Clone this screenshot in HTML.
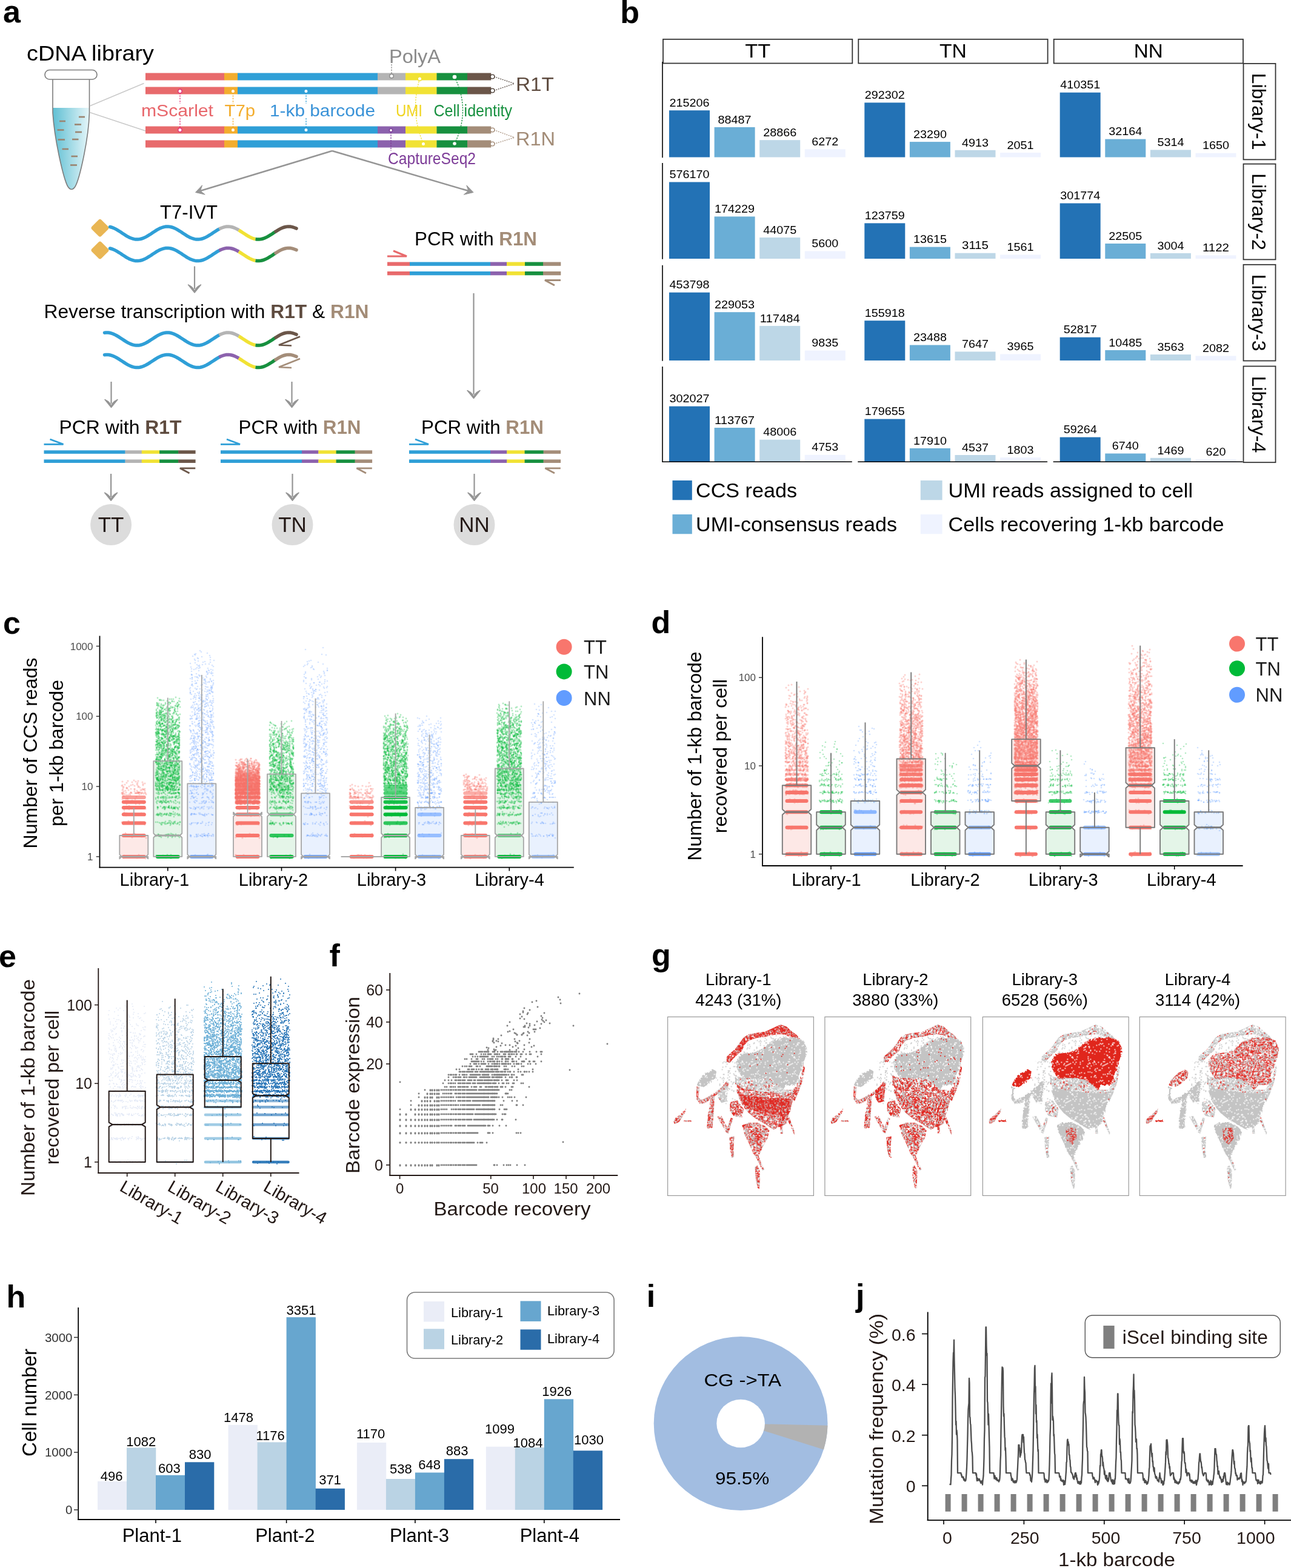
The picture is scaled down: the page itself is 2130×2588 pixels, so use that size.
<!DOCTYPE html>
<html><head><meta charset="utf-8"><title>Figure</title>
<style>html,body{margin:0;padding:0;background:#fff;}svg{display:block;}</style></head>
<body><svg width="2130" height="2588" viewBox="0 0 2130 2588" font-family='"Liberation Sans", Arial, sans-serif'>
<defs><marker id="k0" markerUnits="userSpaceOnUse" markerWidth="1" markerHeight="1" overflow="visible"><circle r="1.6" fill="#f8766d" fill-opacity="0.33"/></marker><marker id="k1" markerUnits="userSpaceOnUse" markerWidth="1" markerHeight="1" overflow="visible"><circle r="1.4" fill="#00ba38" fill-opacity="0.3"/></marker><marker id="k2" markerUnits="userSpaceOnUse" markerWidth="1" markerHeight="1" overflow="visible"><circle r="1.35" fill="#619cff" fill-opacity="0.26"/></marker><marker id="k3" markerUnits="userSpaceOnUse" markerWidth="1" markerHeight="1" overflow="visible"><circle r="1.5" fill="#f8766d" fill-opacity="0.33"/></marker><marker id="k4" markerUnits="userSpaceOnUse" markerWidth="1" markerHeight="1" overflow="visible"><circle r="1.3" fill="#00ba38" fill-opacity="0.3"/></marker><marker id="k5" markerUnits="userSpaceOnUse" markerWidth="1" markerHeight="1" overflow="visible"><circle r="1.3" fill="#619cff" fill-opacity="0.3"/></marker><marker id="k6" markerUnits="userSpaceOnUse" markerWidth="1" markerHeight="1" overflow="visible"><circle r="1.05" fill="#e6ebf7" fill-opacity="0.9"/></marker><marker id="k7" markerUnits="userSpaceOnUse" markerWidth="1" markerHeight="1" overflow="visible"><circle r="1.05" fill="#b8d2e6" fill-opacity="0.9"/></marker><marker id="k8" markerUnits="userSpaceOnUse" markerWidth="1" markerHeight="1" overflow="visible"><circle r="1.05" fill="#6aaed6" fill-opacity="0.9"/></marker><marker id="k9" markerUnits="userSpaceOnUse" markerWidth="1" markerHeight="1" overflow="visible"><circle r="1.05" fill="#2171b5" fill-opacity="0.9"/></marker><marker id="k10" markerUnits="userSpaceOnUse" markerWidth="1" markerHeight="1" overflow="visible"><circle r="1.45" fill="#7f7f7f"/></marker><marker id="k11" markerUnits="userSpaceOnUse" markerWidth="1" markerHeight="1" overflow="visible"><circle r="1.0" fill="#e0261f"/></marker><marker id="k12" markerUnits="userSpaceOnUse" markerWidth="1" markerHeight="1" overflow="visible"><circle r="1.0" fill="#c4c4c4"/></marker><marker id="k13" markerUnits="userSpaceOnUse" markerWidth="1" markerHeight="1" overflow="visible"><circle r="1.0" fill="#ffffff"/></marker></defs><style>.k0{marker:url(#k0)}.k1{marker:url(#k1)}.k2{marker:url(#k2)}.k3{marker:url(#k3)}.k4{marker:url(#k4)}.k5{marker:url(#k5)}.k6{marker:url(#k6)}.k7{marker:url(#k7)}.k8{marker:url(#k8)}.k9{marker:url(#k9)}.k10{marker:url(#k10)}.k11{marker:url(#k11)}.k12{marker:url(#k12)}.k13{marker:url(#k13)}</style>
<rect width="2130" height="2588" fill="#fff"/>
<text x="5" y="37" font-size="52" fill="#000" font-weight="bold">a</text>
<text x="44" y="100" font-size="34.5" fill="#000" textLength="210" lengthAdjust="spacingAndGlyphs">cDNA library</text>
<defs><linearGradient id="liq" x1="0" x2="1" y1="0" y2="0"><stop offset="0" stop-color="#5fbfd3"/><stop offset="1" stop-color="#e6f6f9"/></linearGradient></defs>
<path d="M87 178 L147.5 178 L147.5 186 C146 232 131 296 124 308 Q118 317 112 308 C105 296 90 232 87 186 Z" fill="url(#liq)"/>
<path d="M87 131 L87 186 C90 232 105 296 112 308 Q118 317 124 308 C131 296 146 232 147.5 186 L147.5 131" fill="none" stroke="#7d7d7d" stroke-width="1.6"/>
<rect x="74" y="115.5" width="86" height="15.5" rx="7.7" fill="#fff" stroke="#7d7d7d" stroke-width="1.6"/>
<rect x="130" y="191.7" width="10" height="2.6" fill="#9b8470"/>
<rect x="98" y="198.7" width="10" height="2.6" fill="#9b8470"/>
<rect x="123" y="204.2" width="11" height="2.6" fill="#9b8470"/>
<rect x="94.5" y="213.2" width="11.0" height="2.6" fill="#9b8470"/>
<rect x="124" y="216.7" width="11" height="2.6" fill="#9b8470"/>
<rect x="95.5" y="229.2" width="11.5" height="2.6" fill="#9b8470"/>
<rect x="119" y="228.7" width="10.5" height="2.6" fill="#9b8470"/>
<rect x="102.5" y="244.7" width="10.5" height="2.6" fill="#9b8470"/>
<rect x="117.5" y="256.7" width="10.5" height="2.6" fill="#9b8470"/>
<rect x="116" y="271.2" width="11" height="2.6" fill="#9b8470"/>
<line x1="148" y1="175" x2="237.5" y2="137.5" stroke="#c9c9c9" stroke-width="1.5"/>
<line x1="148" y1="185.5" x2="240" y2="216" stroke="#c9c9c9" stroke-width="1.5"/>
<rect x="240" y="120.5" width="130.3" height="12" fill="#e86a6c"/><rect x="370" y="120.5" width="22.3" height="12" fill="#f3ad2e"/><rect x="392" y="120.5" width="231.3" height="12" fill="#2f9fd7"/><rect x="623" y="120.5" width="46.3" height="12" fill="#b4b4b4"/><rect x="669" y="120.5" width="51.8" height="12" fill="#f1e234"/><rect x="720.5" y="120.5" width="50.8" height="12" fill="#17903f"/><rect x="771.0" y="120.5" width="39.3" height="12" fill="#6b5649"/>
<rect x="240" y="143.5" width="130.3" height="12" fill="#e86a6c"/><rect x="370" y="143.5" width="22.3" height="12" fill="#f3ad2e"/><rect x="392" y="143.5" width="231.3" height="12" fill="#2f9fd7"/><rect x="623" y="143.5" width="46.3" height="12" fill="#b4b4b4"/><rect x="669" y="143.5" width="51.8" height="12" fill="#f1e234"/><rect x="720.5" y="143.5" width="50.8" height="12" fill="#17903f"/><rect x="771.0" y="143.5" width="39.3" height="12" fill="#6b5649"/>
<rect x="240" y="208.5" width="130.3" height="12" fill="#e86a6c"/><rect x="370" y="208.5" width="22.3" height="12" fill="#f3ad2e"/><rect x="392" y="208.5" width="231.3" height="12" fill="#2f9fd7"/><rect x="623" y="208.5" width="46.3" height="12" fill="#8c62ad"/><rect x="669" y="208.5" width="51.8" height="12" fill="#f1e234"/><rect x="720.5" y="208.5" width="50.8" height="12" fill="#17903f"/><rect x="771.0" y="208.5" width="39.3" height="12" fill="#a48d79"/>
<rect x="240" y="231.5" width="130.3" height="12" fill="#e86a6c"/><rect x="370" y="231.5" width="22.3" height="12" fill="#f3ad2e"/><rect x="392" y="231.5" width="231.3" height="12" fill="#2f9fd7"/><rect x="623" y="231.5" width="46.3" height="12" fill="#8c62ad"/><rect x="669" y="231.5" width="51.8" height="12" fill="#f1e234"/><rect x="720.5" y="231.5" width="50.8" height="12" fill="#17903f"/><rect x="771.0" y="231.5" width="39.3" height="12" fill="#a48d79"/>
<line x1="297" y1="153" x2="297" y2="171" stroke="#e4357a" stroke-width="1.3" stroke-dasharray="2.5 1.8"/>
<line x1="297" y1="195" x2="297" y2="212" stroke="#e4357a" stroke-width="1.3" stroke-dasharray="2.5 1.8"/>
<circle cx="297" cy="150.5" r="3.2" fill="#fff" stroke="#e4357a" stroke-width="1.4"/>
<circle cx="297" cy="214.5" r="3.2" fill="#fff" stroke="#e4357a" stroke-width="1.4"/>
<line x1="384.5" y1="153" x2="384.5" y2="171" stroke="#f3ad2e" stroke-width="1.3" stroke-dasharray="2.5 1.8"/>
<line x1="384.5" y1="195" x2="384.5" y2="212" stroke="#f3ad2e" stroke-width="1.3" stroke-dasharray="2.5 1.8"/>
<circle cx="384.5" cy="150.5" r="3.2" fill="#fff" stroke="#f3ad2e" stroke-width="1.4"/>
<circle cx="384.5" cy="214.5" r="3.2" fill="#fff" stroke="#f3ad2e" stroke-width="1.4"/>
<line x1="505" y1="153" x2="505" y2="171" stroke="#2f9fd7" stroke-width="1.3" stroke-dasharray="2.5 1.8"/>
<line x1="505" y1="195" x2="505" y2="212" stroke="#2f9fd7" stroke-width="1.3" stroke-dasharray="2.5 1.8"/>
<circle cx="505" cy="150.5" r="3.2" fill="#fff" stroke="#2f9fd7" stroke-width="1.4"/>
<circle cx="505" cy="214.5" r="3.2" fill="#fff" stroke="#2f9fd7" stroke-width="1.4"/>
<line x1="646" y1="106" x2="646" y2="122" stroke="#8a8a8a" stroke-width="1.3" stroke-dasharray="2.5 1.8"/>
<circle cx="646" cy="125.5" r="3.2" fill="#fff" stroke="#8a8a8a" stroke-width="1.4"/>
<line x1="645" y1="218" x2="645" y2="249" stroke="#7d3c98" stroke-width="1.3" stroke-dasharray="2.5 1.8"/>
<circle cx="645" cy="215" r="2.6" fill="#fff" stroke="#7d3c98" stroke-width="1.4"/>
<path d="M692.5 130 Q676 185 698.5 237" fill="none" stroke="#f1e234" stroke-width="1.3" stroke-dasharray="2.5 1.8"/>
<circle cx="692.5" cy="130" r="3.2" fill="#fff" stroke="#f1e234" stroke-width="1.4"/>
<circle cx="698.5" cy="237.5" r="3.2" fill="#fff" stroke="#f1e234" stroke-width="1.4"/>
<path d="M750 127 Q777 182 750 237" fill="none" stroke="#17903f" stroke-width="1.3" stroke-dasharray="2.5 1.8"/>
<circle cx="750" cy="127" r="2.6" fill="#fff" stroke="#fff" stroke-width="1.4"/>
<circle cx="750" cy="127" r="2.8" fill="#fff"/><circle cx="750" cy="237" r="2.8" fill="#fff"/>
<line x1="815" y1="126.5" x2="849" y2="138" stroke="#4d4038" stroke-width="1.2" stroke-dasharray="2 1.6"/>
<circle cx="812.5" cy="126.5" r="3.4" fill="#fff" stroke="#4d4038" stroke-width="1.4"/>
<line x1="815" y1="149.5" x2="849" y2="138" stroke="#4d4038" stroke-width="1.2" stroke-dasharray="2 1.6"/>
<circle cx="812.5" cy="149.5" r="3.4" fill="#fff" stroke="#4d4038" stroke-width="1.4"/>
<line x1="815" y1="214.5" x2="849" y2="227" stroke="#a48d79" stroke-width="1.2" stroke-dasharray="2 1.6"/>
<circle cx="812.5" cy="214.5" r="3.4" fill="#fff" stroke="#a48d79" stroke-width="1.4"/>
<line x1="815" y1="237.5" x2="849" y2="227" stroke="#a48d79" stroke-width="1.2" stroke-dasharray="2 1.6"/>
<circle cx="812.5" cy="237.5" r="3.4" fill="#fff" stroke="#a48d79" stroke-width="1.4"/>
<text x="851" y="149.5" font-size="31" fill="#5e4b3f" textLength="63" lengthAdjust="spacingAndGlyphs">R1T</text>
<text x="851" y="239.5" font-size="31" fill="#a38c77" textLength="65" lengthAdjust="spacingAndGlyphs">R1N</text>
<text x="642" y="103.5" font-size="31" fill="#8a8a8a" textLength="85" lengthAdjust="spacingAndGlyphs">PolyA</text>
<text x="233" y="192" font-size="28.5" fill="#e8666b" textLength="119" lengthAdjust="spacingAndGlyphs">mScarlet</text>
<text x="370.5" y="192" font-size="28.5" fill="#f3ad2e" textLength="50.5" lengthAdjust="spacingAndGlyphs">T7p</text>
<text x="445" y="192" font-size="28.5" fill="#3a93d8" textLength="174" lengthAdjust="spacingAndGlyphs">1-kb barcode</text>
<text x="653" y="192" font-size="28.5" fill="#f0d520" textLength="44" lengthAdjust="spacingAndGlyphs">UMI</text>
<text x="715.5" y="192" font-size="28.5" fill="#17903f" textLength="129.5" lengthAdjust="spacingAndGlyphs">Cell identity</text>
<text x="640" y="271" font-size="28.5" fill="#7d3c98" textLength="145" lengthAdjust="spacingAndGlyphs">CaptureSeq2</text>
<polyline points="474,272.5 548,248 " fill="none" stroke="#959595" stroke-width="0"/>
<line x1="548" y1="249" x2="330.5" y2="315.1" stroke="#959595" stroke-width="2.6"/><path d="M322.5 317.5 L333.6 305.8 L330.5 315.1 L338.2 321.1 Z" fill="#959595" stroke="#959595" stroke-width="1" stroke-linejoin="round"/>
<line x1="548" y1="249" x2="772.9" y2="315.1" stroke="#959595" stroke-width="2.6"/><path d="M781 317.5 L765.3 321.2 L772.9 315.1 L769.8 305.9 Z" fill="#959595" stroke="#959595" stroke-width="1" stroke-linejoin="round"/>
<text x="264" y="361" font-size="31" fill="#000" textLength="95" lengthAdjust="spacingAndGlyphs">T7-IVT</text>
<rect x="153.8" y="365.1" width="22.3" height="22.3" rx="3.5" fill="#e9b654" transform="rotate(45 165 376.25)"/>
<rect x="153.8" y="401.8" width="22.3" height="22.3" rx="3.5" fill="#e9b654" transform="rotate(45 165 413)"/>
<path d="M181.5 374.5 L183.5 375.0 L185.5 375.6 L187.5 376.4 L189.5 377.4 L191.5 378.4 L193.5 379.5 L195.5 380.8 L197.5 382.0 L199.5 383.3 L201.5 384.7 L203.5 386.0 L205.5 387.3 L207.5 388.6 L209.5 389.8 L211.5 390.9 L213.5 391.9 L215.5 392.8 L217.5 393.5 L219.5 394.2 L221.5 394.6 L223.5 394.9 L225.5 395.1 L227.5 395.1 L229.5 394.9 L231.5 394.5 L233.5 394.0 L235.5 393.4 L237.5 392.6 L239.5 391.6 L241.5 390.6 L243.5 389.5 L245.5 388.2 L247.5 387.0 L249.5 385.7 L251.5 384.3 L253.5 383.0 L255.5 381.7 L257.5 380.4 L259.5 379.2 L261.5 378.1 L263.5 377.1 L265.5 376.2 L267.5 375.5 L269.5 374.8 L271.5 374.4 L273.5 374.1 L275.5 373.9 L277.5 373.9 L279.5 374.1 L281.5 374.5 L283.5 375.0 L285.5 375.6 L287.5 376.4 L289.5 377.4 L291.5 378.4 L293.5 379.5 L295.5 380.8 L297.5 382.0 L299.5 383.3 L301.5 384.7 L303.5 386.0 L305.5 387.3 L307.5 388.6 L309.5 389.8 L311.5 390.9 L313.5 391.9 L315.5 392.8 L317.5 393.5 L319.5 394.2 L321.5 394.6 L323.5 394.9 L325.5 395.1 L327.5 395.1 L329.5 394.9 L331.5 394.5 L333.5 394.0 L335.5 393.4 L337.5 392.6 L339.5 391.6 L341.5 390.6 L343.5 389.5 L345.5 388.2 L347.5 387.0 L349.5 385.7 L351.5 384.3 L353.5 383.0 L355.5 381.7 L357.5 380.4 L359.5 379.2 L361.5 378.1" fill="none" stroke="#2f9fd7" stroke-width="5.5" stroke-linecap="round"/><path d="M361.5 378.1 L363.5 377.1 L365.5 376.2 L367.5 375.5 L369.5 374.8 L371.5 374.4 L373.5 374.1 L375.5 373.9 L377.5 373.9 L379.5 374.1 L381.5 374.5 L383.5 375.0 L385.5 375.6 L387.5 376.4 L389.5 377.4 L391.5 378.4 L393.5 379.5 L394.0 379.8" fill="none" stroke="#b4b4b4" stroke-width="5.5" stroke-linecap="butt"/><path d="M394.0 379.8 L396.0 381.1 L398.0 382.4 L400.0 383.7 L402.0 385.0 L404.0 386.3 L406.0 387.6 L408.0 388.9 L410.0 390.0 L412.0 391.1 L414.0 392.1 L416.0 393.0 L418.0 393.7 L420.0 394.3 L421.5 394.6" fill="none" stroke="#f1e234" stroke-width="5.5" stroke-linecap="butt"/><path d="M421.5 394.6 L423.5 394.9 L425.5 395.1 L427.5 395.1 L429.5 394.9 L431.5 394.5 L433.5 394.0 L435.5 393.4 L437.5 392.6 L439.5 391.6 L441.5 390.6 L443.5 389.5 L445.5 388.2 L447.5 387.0 L449.5 385.7 L451.5 384.3 L453.5 383.0 L455.0 382.0" fill="none" stroke="#17903f" stroke-width="5.5" stroke-linecap="butt"/><path d="M455.0 382.0 L457.0 380.8 L459.0 379.5 L461.0 378.4 L463.0 377.4 L465.0 376.4 L467.0 375.6 L469.0 375.0 L471.0 374.5 L473.0 374.1 L475.0 373.9 L477.0 373.9 L479.0 374.1 L481.0 374.4 L483.0 374.8 L485.0 375.5 L487.0 376.2 L489.0 377.1" fill="none" stroke="#6b5649" stroke-width="5.5" stroke-linecap="round"/>
<path d="M181.5 410.0 L183.5 410.5 L185.5 411.1 L187.5 411.9 L189.5 412.9 L191.5 413.9 L193.5 415.0 L195.5 416.3 L197.5 417.5 L199.5 418.8 L201.5 420.2 L203.5 421.5 L205.5 422.8 L207.5 424.1 L209.5 425.3 L211.5 426.4 L213.5 427.4 L215.5 428.3 L217.5 429.0 L219.5 429.7 L221.5 430.1 L223.5 430.4 L225.5 430.6 L227.5 430.6 L229.5 430.4 L231.5 430.0 L233.5 429.5 L235.5 428.9 L237.5 428.1 L239.5 427.1 L241.5 426.1 L243.5 425.0 L245.5 423.7 L247.5 422.5 L249.5 421.2 L251.5 419.8 L253.5 418.5 L255.5 417.2 L257.5 415.9 L259.5 414.7 L261.5 413.6 L263.5 412.6 L265.5 411.7 L267.5 411.0 L269.5 410.3 L271.5 409.9 L273.5 409.6 L275.5 409.4 L277.5 409.4 L279.5 409.6 L281.5 410.0 L283.5 410.5 L285.5 411.1 L287.5 411.9 L289.5 412.9 L291.5 413.9 L293.5 415.0 L295.5 416.3 L297.5 417.5 L299.5 418.8 L301.5 420.2 L303.5 421.5 L305.5 422.8 L307.5 424.1 L309.5 425.3 L311.5 426.4 L313.5 427.4 L315.5 428.3 L317.5 429.0 L319.5 429.7 L321.5 430.1 L323.5 430.4 L325.5 430.6 L327.5 430.6 L329.5 430.4 L331.5 430.0 L333.5 429.5 L335.5 428.9 L337.5 428.1 L339.5 427.1 L341.5 426.1 L343.5 425.0 L345.5 423.7 L347.5 422.5 L349.5 421.2 L351.5 419.8 L353.5 418.5 L355.5 417.2 L357.5 415.9 L359.5 414.7 L361.5 413.6" fill="none" stroke="#2f9fd7" stroke-width="5.5" stroke-linecap="round"/><path d="M361.5 413.6 L363.5 412.6 L365.5 411.7 L367.5 411.0 L369.5 410.3 L371.5 409.9 L373.5 409.6 L375.5 409.4 L377.5 409.4 L379.5 409.6 L381.5 410.0 L383.5 410.5 L385.5 411.1 L387.5 411.9 L389.5 412.9 L391.5 413.9 L393.5 415.0 L394.0 415.3" fill="none" stroke="#8c62ad" stroke-width="5.5" stroke-linecap="butt"/><path d="M394.0 415.3 L396.0 416.6 L398.0 417.9 L400.0 419.2 L402.0 420.5 L404.0 421.8 L406.0 423.1 L408.0 424.4 L410.0 425.5 L412.0 426.6 L414.0 427.6 L416.0 428.5 L418.0 429.2 L420.0 429.8 L421.5 430.1" fill="none" stroke="#f1e234" stroke-width="5.5" stroke-linecap="butt"/><path d="M421.5 430.1 L423.5 430.4 L425.5 430.6 L427.5 430.6 L429.5 430.4 L431.5 430.0 L433.5 429.5 L435.5 428.9 L437.5 428.1 L439.5 427.1 L441.5 426.1 L443.5 425.0 L445.5 423.7 L447.5 422.5 L449.5 421.2 L451.5 419.8 L453.5 418.5 L455.0 417.5" fill="none" stroke="#17903f" stroke-width="5.5" stroke-linecap="butt"/><path d="M455.0 417.5 L457.0 416.3 L459.0 415.0 L461.0 413.9 L463.0 412.9 L465.0 411.9 L467.0 411.1 L469.0 410.5 L471.0 410.0 L473.0 409.6 L475.0 409.4 L477.0 409.4 L479.0 409.6 L481.0 409.9 L483.0 410.3 L485.0 411.0 L487.0 411.7 L489.0 412.6" fill="none" stroke="#a48d79" stroke-width="5.5" stroke-linecap="round"/>
<line x1="321" y1="439.5" x2="321" y2="477" stroke="#959595" stroke-width="2.2"/><path d="M310.5 470 Q321 475 321 483 Q321 475 331.5 470 L321 483 Z" fill="#959595" stroke="#959595" stroke-width="1.5" stroke-linejoin="round"/>
<text x="72.5" y="525" font-size="31" textLength="536" lengthAdjust="spacingAndGlyphs">Reverse transcription with <tspan font-weight="bold" fill="#5e4b3f">R1T</tspan> &amp; <tspan font-weight="bold" fill="#a38c77">R1N</tspan></text>
<path d="M172.5 549.2 L174.5 549.0 L176.5 548.9 L178.5 549.0 L180.5 549.3 L182.5 549.7 L184.5 550.3 L186.5 551.0 L188.5 551.9 L190.5 552.9 L192.5 554.0 L194.5 555.1 L196.5 556.4 L198.5 557.7 L200.5 559.0 L202.5 560.3 L204.5 561.6 L206.5 562.9 L208.5 564.2 L210.5 565.3 L212.5 566.4 L214.5 567.3 L216.5 568.2 L218.5 568.9 L220.5 569.4 L222.5 569.8 L224.5 570.0 L226.5 570.1 L228.5 570.0 L230.5 569.7 L232.5 569.3 L234.5 568.7 L236.5 568.0 L238.5 567.1 L240.5 566.1 L242.5 565.0 L244.5 563.9 L246.5 562.6 L248.5 561.3 L250.5 560.0 L252.5 558.7 L254.5 557.4 L256.5 556.1 L258.5 554.8 L260.5 553.7 L262.5 552.6 L264.5 551.7 L266.5 550.8 L268.5 550.1 L270.5 549.6 L272.5 549.2 L274.5 549.0 L276.5 548.9 L278.5 549.0 L280.5 549.3 L282.5 549.7 L284.5 550.3 L286.5 551.0 L288.5 551.9 L290.5 552.9 L292.5 554.0 L294.5 555.1 L296.5 556.4 L298.5 557.7 L300.5 559.0 L302.5 560.3 L304.5 561.6 L306.5 562.9 L308.5 564.2 L310.5 565.3 L312.5 566.4 L314.5 567.3 L316.5 568.2 L318.5 568.9 L320.5 569.4 L322.5 569.8 L324.5 570.0 L326.5 570.1 L328.5 570.0 L330.5 569.7 L332.5 569.3 L334.5 568.7 L336.5 568.0 L338.5 567.1 L340.5 566.1 L342.5 565.0 L344.5 563.9 L346.5 562.6 L348.5 561.3 L350.5 560.0 L352.5 558.7 L354.5 557.4 L356.5 556.1 L358.5 554.8 L360.5 553.7 L361.5 553.1" fill="none" stroke="#2f9fd7" stroke-width="5.5" stroke-linecap="round"/><path d="M361.5 553.1 L363.5 552.1 L365.5 551.2 L367.5 550.5 L369.5 549.8 L371.5 549.4 L373.5 549.1 L375.5 548.9 L377.5 548.9 L379.5 549.1 L381.5 549.5 L383.5 550.0 L385.5 550.6 L387.5 551.4 L389.5 552.4 L391.5 553.4 L393.5 554.5 L394.0 554.8" fill="none" stroke="#b4b4b4" stroke-width="5.5" stroke-linecap="butt"/><path d="M394.0 554.8 L396.0 556.1 L398.0 557.4 L400.0 558.7 L402.0 560.0 L404.0 561.3 L406.0 562.6 L408.0 563.9 L410.0 565.0 L412.0 566.1 L414.0 567.1 L416.0 568.0 L418.0 568.7 L420.0 569.3 L421.5 569.6" fill="none" stroke="#f1e234" stroke-width="5.5" stroke-linecap="butt"/><path d="M421.5 569.6 L423.5 569.9 L425.5 570.1 L427.5 570.1 L429.5 569.9 L431.5 569.5 L433.5 569.0 L435.5 568.4 L437.5 567.6 L439.5 566.6 L441.5 565.6 L443.5 564.5 L445.5 563.2 L447.5 562.0 L449.5 560.7 L451.5 559.3 L453.5 558.0 L455.0 557.0" fill="none" stroke="#17903f" stroke-width="5.5" stroke-linecap="butt"/><path d="M455.0 557.0 L457.0 555.8 L459.0 554.5 L461.0 553.4 L463.0 552.4 L465.0 551.4 L467.0 550.6 L469.0 550.0 L471.0 549.5 L473.0 549.1 L475.0 548.9 L477.0 548.9 L479.0 549.1 L481.0 549.4 L483.0 549.8 L485.0 550.5 L487.0 551.2 L489.0 552.1" fill="none" stroke="#6b5649" stroke-width="5.5" stroke-linecap="round"/>
<path d="M172.5 585.7 L174.5 585.5 L176.5 585.4 L178.5 585.5 L180.5 585.8 L182.5 586.2 L184.5 586.8 L186.5 587.5 L188.5 588.4 L190.5 589.4 L192.5 590.5 L194.5 591.6 L196.5 592.9 L198.5 594.2 L200.5 595.5 L202.5 596.8 L204.5 598.1 L206.5 599.4 L208.5 600.7 L210.5 601.8 L212.5 602.9 L214.5 603.8 L216.5 604.7 L218.5 605.4 L220.5 605.9 L222.5 606.3 L224.5 606.5 L226.5 606.6 L228.5 606.5 L230.5 606.2 L232.5 605.8 L234.5 605.2 L236.5 604.5 L238.5 603.6 L240.5 602.6 L242.5 601.5 L244.5 600.4 L246.5 599.1 L248.5 597.8 L250.5 596.5 L252.5 595.2 L254.5 593.9 L256.5 592.6 L258.5 591.3 L260.5 590.2 L262.5 589.1 L264.5 588.2 L266.5 587.3 L268.5 586.6 L270.5 586.1 L272.5 585.7 L274.5 585.5 L276.5 585.4 L278.5 585.5 L280.5 585.8 L282.5 586.2 L284.5 586.8 L286.5 587.5 L288.5 588.4 L290.5 589.4 L292.5 590.5 L294.5 591.6 L296.5 592.9 L298.5 594.2 L300.5 595.5 L302.5 596.8 L304.5 598.1 L306.5 599.4 L308.5 600.7 L310.5 601.8 L312.5 602.9 L314.5 603.8 L316.5 604.7 L318.5 605.4 L320.5 605.9 L322.5 606.3 L324.5 606.5 L326.5 606.6 L328.5 606.5 L330.5 606.2 L332.5 605.8 L334.5 605.2 L336.5 604.5 L338.5 603.6 L340.5 602.6 L342.5 601.5 L344.5 600.4 L346.5 599.1 L348.5 597.8 L350.5 596.5 L352.5 595.2 L354.5 593.9 L356.5 592.6 L358.5 591.3 L360.5 590.2 L361.5 589.6" fill="none" stroke="#2f9fd7" stroke-width="5.5" stroke-linecap="round"/><path d="M361.5 589.6 L363.5 588.6 L365.5 587.7 L367.5 587.0 L369.5 586.3 L371.5 585.9 L373.5 585.6 L375.5 585.4 L377.5 585.4 L379.5 585.6 L381.5 586.0 L383.5 586.5 L385.5 587.1 L387.5 587.9 L389.5 588.9 L391.5 589.9 L393.5 591.0 L394.0 591.3" fill="none" stroke="#8c62ad" stroke-width="5.5" stroke-linecap="butt"/><path d="M394.0 591.3 L396.0 592.6 L398.0 593.9 L400.0 595.2 L402.0 596.5 L404.0 597.8 L406.0 599.1 L408.0 600.4 L410.0 601.5 L412.0 602.6 L414.0 603.6 L416.0 604.5 L418.0 605.2 L420.0 605.8 L421.5 606.1" fill="none" stroke="#f1e234" stroke-width="5.5" stroke-linecap="butt"/><path d="M421.5 606.1 L423.5 606.4 L425.5 606.6 L427.5 606.6 L429.5 606.4 L431.5 606.0 L433.5 605.5 L435.5 604.9 L437.5 604.1 L439.5 603.1 L441.5 602.1 L443.5 601.0 L445.5 599.7 L447.5 598.5 L449.5 597.2 L451.5 595.8 L453.5 594.5 L455.0 593.5" fill="none" stroke="#17903f" stroke-width="5.5" stroke-linecap="butt"/><path d="M455.0 593.5 L457.0 592.3 L459.0 591.0 L461.0 589.9 L463.0 588.9 L465.0 587.9 L467.0 587.1 L469.0 586.5 L471.0 586.0 L473.0 585.6 L475.0 585.4 L477.0 585.4 L479.0 585.6 L481.0 585.9 L483.0 586.3 L485.0 587.0 L487.0 587.7 L489.0 588.6" fill="none" stroke="#a48d79" stroke-width="5.5" stroke-linecap="round"/>
<path d="M495 555.5 L460 569.5 L481 570.5" fill="none" stroke="#6b5649" stroke-width="2.6"/>
<path d="M495 592 L460 606 L481 607" fill="none" stroke="#a48d79" stroke-width="2.6"/>
<line x1="183.5" y1="630" x2="183.5" y2="666.5" stroke="#959595" stroke-width="2.2"/><path d="M173.0 659.5 Q183.5 664.5 183.5 672.5 Q183.5 664.5 194.0 659.5 L183.5 672.5 Z" fill="#959595" stroke="#959595" stroke-width="1.5" stroke-linejoin="round"/>
<line x1="481.5" y1="630" x2="481.5" y2="666.5" stroke="#959595" stroke-width="2.2"/><path d="M471.0 659.5 Q481.5 664.5 481.5 672.5 Q481.5 664.5 492.0 659.5 L481.5 672.5 Z" fill="#959595" stroke="#959595" stroke-width="1.5" stroke-linejoin="round"/>
<line x1="781.5" y1="484" x2="781.5" y2="651.5" stroke="#959595" stroke-width="2.2"/><path d="M771.0 644.5 Q781.5 649.5 781.5 657.5 Q781.5 649.5 792.0 644.5 L781.5 657.5 Z" fill="#959595" stroke="#959595" stroke-width="1.5" stroke-linejoin="round"/>
<text x="684" y="405" font-size="31" textLength="202" lengthAdjust="spacingAndGlyphs">PCR with <tspan font-weight="bold" fill="#a38c77">R1N</tspan></text>
<path d="M639 423 L671 423 L649 414" fill="none" stroke="#e86a6c" stroke-width="3"/>
<rect x="639" y="432.5" width="37.3" height="6.3" fill="#e86a6c"/><rect x="676" y="432.5" width="133.3" height="6.3" fill="#2f9fd7"/><rect x="809" y="432.5" width="27.3" height="6.3" fill="#8c62ad"/><rect x="836" y="432.5" width="30.3" height="6.3" fill="#f1e234"/><rect x="866" y="432.5" width="30.3" height="6.3" fill="#17903f"/><rect x="896" y="432.5" width="29.3" height="6.3" fill="#a48d79"/>
<rect x="639" y="448" width="37.3" height="6.3" fill="#e86a6c"/><rect x="676" y="448" width="133.3" height="6.3" fill="#2f9fd7"/><rect x="809" y="448" width="27.3" height="6.3" fill="#8c62ad"/><rect x="836" y="448" width="30.3" height="6.3" fill="#f1e234"/><rect x="866" y="448" width="30.3" height="6.3" fill="#17903f"/><rect x="896" y="448" width="29.3" height="6.3" fill="#a48d79"/>
<path d="M925 462.5 L899 462.5 L915 471" fill="none" stroke="#a48d79" stroke-width="3"/>
<text x="97.5" y="716" font-size="31" textLength="202" lengthAdjust="spacingAndGlyphs">PCR with <tspan font-weight="bold" fill="#5e4b3f">R1T</tspan></text>
<path d="M72.5 733.3 L104.5 733.3 L82.5 725" fill="none" stroke="#2f9fd7" stroke-width="2.8"/>
<rect x="72.5" y="743.3" width="134.3" height="5.6" fill="#2f9fd7"/><rect x="206.5" y="743.3" width="27.6" height="5.6" fill="#b4b4b4"/><rect x="233.8" y="743.3" width="29.6" height="5.6" fill="#f1e234"/><rect x="263.1" y="743.3" width="31.3" height="5.6" fill="#17903f"/><rect x="294.1" y="743.3" width="28.5" height="5.6" fill="#6b5649"/>
<rect x="72.5" y="758.4" width="134.3" height="5.6" fill="#2f9fd7"/><rect x="206.5" y="758.4" width="27.6" height="5.6" fill="#b4b4b4"/><rect x="233.8" y="758.4" width="29.6" height="5.6" fill="#f1e234"/><rect x="263.1" y="758.4" width="31.3" height="5.6" fill="#17903f"/><rect x="294.1" y="758.4" width="28.5" height="5.6" fill="#6b5649"/>
<path d="M322.3 772.8 L296.9 772.8 L312.5 781" fill="none" stroke="#6b5649" stroke-width="2.8"/>
<text x="393.5" y="716" font-size="31" textLength="202" lengthAdjust="spacingAndGlyphs">PCR with <tspan font-weight="bold" fill="#a38c77">R1N</tspan></text>
<path d="M364 733.3 L396 733.3 L374 725" fill="none" stroke="#2f9fd7" stroke-width="2.8"/>
<rect x="364" y="743.3" width="134.3" height="5.6" fill="#2f9fd7"/><rect x="498" y="743.3" width="27.6" height="5.6" fill="#8c62ad"/><rect x="525.3" y="743.3" width="29.6" height="5.6" fill="#f1e234"/><rect x="554.5999999999999" y="743.3" width="31.3" height="5.6" fill="#17903f"/><rect x="585.5999999999999" y="743.3" width="28.5" height="5.6" fill="#a48d79"/>
<rect x="364" y="758.4" width="134.3" height="5.6" fill="#2f9fd7"/><rect x="498" y="758.4" width="27.6" height="5.6" fill="#8c62ad"/><rect x="525.3" y="758.4" width="29.6" height="5.6" fill="#f1e234"/><rect x="554.5999999999999" y="758.4" width="31.3" height="5.6" fill="#17903f"/><rect x="585.5999999999999" y="758.4" width="28.5" height="5.6" fill="#a48d79"/>
<path d="M613.8 772.8 L588.4 772.8 L604 781" fill="none" stroke="#a48d79" stroke-width="2.8"/>
<text x="695" y="716" font-size="31" textLength="202" lengthAdjust="spacingAndGlyphs">PCR with <tspan font-weight="bold" fill="#a38c77">R1N</tspan></text>
<path d="M675 733.3 L707 733.3 L685 725" fill="none" stroke="#2f9fd7" stroke-width="2.8"/>
<rect x="675" y="743.3" width="134.3" height="5.6" fill="#2f9fd7"/><rect x="809" y="743.3" width="27.6" height="5.6" fill="#8c62ad"/><rect x="836.3" y="743.3" width="29.6" height="5.6" fill="#f1e234"/><rect x="865.5999999999999" y="743.3" width="31.3" height="5.6" fill="#17903f"/><rect x="896.5999999999999" y="743.3" width="28.5" height="5.6" fill="#a48d79"/>
<rect x="675" y="758.4" width="134.3" height="5.6" fill="#2f9fd7"/><rect x="809" y="758.4" width="27.6" height="5.6" fill="#8c62ad"/><rect x="836.3" y="758.4" width="29.6" height="5.6" fill="#f1e234"/><rect x="865.5999999999999" y="758.4" width="31.3" height="5.6" fill="#17903f"/><rect x="896.5999999999999" y="758.4" width="28.5" height="5.6" fill="#a48d79"/>
<path d="M924.8 772.8 L899.4 772.8 L915 781" fill="none" stroke="#a48d79" stroke-width="2.8"/>
<line x1="183.1" y1="782" x2="183.1" y2="820.3" stroke="#959595" stroke-width="2.2"/><path d="M172.6 813.3 Q183.1 818.3 183.1 826.3 Q183.1 818.3 193.6 813.3 L183.1 826.3 Z" fill="#959595" stroke="#959595" stroke-width="1.5" stroke-linejoin="round"/>
<circle cx="183.1" cy="866" r="34" fill="#dcdcdc"/>
<text x="183.1" y="878.4" font-size="35" fill="#231815" text-anchor="middle">TT</text>
<line x1="482.5" y1="782" x2="482.5" y2="820.3" stroke="#959595" stroke-width="2.2"/><path d="M472.0 813.3 Q482.5 818.3 482.5 826.3 Q482.5 818.3 493.0 813.3 L482.5 826.3 Z" fill="#959595" stroke="#959595" stroke-width="1.5" stroke-linejoin="round"/>
<circle cx="482.5" cy="866" r="34" fill="#dcdcdc"/>
<text x="482.5" y="878.4" font-size="35" fill="#231815" text-anchor="middle">TN</text>
<line x1="782.5" y1="782" x2="782.5" y2="820.3" stroke="#959595" stroke-width="2.2"/><path d="M772.0 813.3 Q782.5 818.3 782.5 826.3 Q782.5 818.3 793.0 813.3 L782.5 826.3 Z" fill="#959595" stroke="#959595" stroke-width="1.5" stroke-linejoin="round"/>
<circle cx="782.5" cy="866" r="34" fill="#dcdcdc"/>
<text x="782.5" y="878.4" font-size="35" fill="#231815" text-anchor="middle">NN</text>
<text x="1023.3" y="37.6" font-size="52" fill="#000" font-weight="bold">b</text>
<rect x="1094.0" y="64.8" width="312.3" height="39.7" fill="#fff" stroke="#333" stroke-width="1.8"/>
<text x="1250.15" y="95" font-size="31" fill="#000" text-anchor="middle" textLength="42" lengthAdjust="spacingAndGlyphs">TT</text>
<rect x="1104.0" y="182.2" width="67" height="77.3" fill="#2372b5"/>
<text x="1137.5" y="175.9" font-size="19" fill="#000" text-anchor="middle" textLength="66.0" lengthAdjust="spacingAndGlyphs">215206</text>
<rect x="1178.6" y="209.9" width="67" height="49.6" fill="#6aaed6"/>
<text x="1212.1" y="203.6" font-size="19" fill="#000" text-anchor="middle" textLength="55.0" lengthAdjust="spacingAndGlyphs">88487</text>
<rect x="1253.2" y="231.2" width="67" height="28.3" fill="#bdd7e7"/>
<text x="1286.7" y="224.9" font-size="19" fill="#000" text-anchor="middle" textLength="55.0" lengthAdjust="spacingAndGlyphs">28866</text>
<rect x="1327.8" y="246.3" width="67" height="13.2" fill="#eff3ff"/>
<text x="1361.3" y="240.0" font-size="19" fill="#000" text-anchor="middle" textLength="44.0" lengthAdjust="spacingAndGlyphs">6272</text>
<rect x="1104.0" y="300.5" width="67" height="126.5" fill="#2372b5"/>
<text x="1137.5" y="294.2" font-size="19" fill="#000" text-anchor="middle" textLength="66.0" lengthAdjust="spacingAndGlyphs">576170</text>
<rect x="1178.6" y="357.4" width="67" height="69.6" fill="#6aaed6"/>
<text x="1212.1" y="351.1" font-size="19" fill="#000" text-anchor="middle" textLength="66.0" lengthAdjust="spacingAndGlyphs">174229</text>
<rect x="1253.2" y="392.0" width="67" height="35.0" fill="#bdd7e7"/>
<text x="1286.7" y="385.7" font-size="19" fill="#000" text-anchor="middle" textLength="55.0" lengthAdjust="spacingAndGlyphs">44075</text>
<rect x="1327.8" y="414.5" width="67" height="12.5" fill="#eff3ff"/>
<text x="1361.3" y="408.2" font-size="19" fill="#000" text-anchor="middle" textLength="44.0" lengthAdjust="spacingAndGlyphs">5600</text>
<rect x="1104.0" y="482.7" width="67" height="112.3" fill="#2372b5"/>
<text x="1137.5" y="476.4" font-size="19" fill="#000" text-anchor="middle" textLength="66.0" lengthAdjust="spacingAndGlyphs">453798</text>
<rect x="1178.6" y="515.2" width="67" height="79.8" fill="#6aaed6"/>
<text x="1212.1" y="508.9" font-size="19" fill="#000" text-anchor="middle" textLength="66.0" lengthAdjust="spacingAndGlyphs">229053</text>
<rect x="1253.2" y="537.9" width="67" height="57.1" fill="#bdd7e7"/>
<text x="1286.7" y="531.6" font-size="19" fill="#000" text-anchor="middle" textLength="66.0" lengthAdjust="spacingAndGlyphs">117484</text>
<rect x="1327.8" y="578.5" width="67" height="16.5" fill="#eff3ff"/>
<text x="1361.3" y="572.2" font-size="19" fill="#000" text-anchor="middle" textLength="44.0" lengthAdjust="spacingAndGlyphs">9835</text>
<rect x="1104.0" y="670.6" width="67" height="91.6" fill="#2372b5"/>
<text x="1137.5" y="664.3" font-size="19" fill="#000" text-anchor="middle" textLength="66.0" lengthAdjust="spacingAndGlyphs">302027</text>
<rect x="1178.6" y="706.0" width="67" height="56.2" fill="#6aaed6"/>
<text x="1212.1" y="699.7" font-size="19" fill="#000" text-anchor="middle" textLength="66.0" lengthAdjust="spacingAndGlyphs">113767</text>
<rect x="1253.2" y="725.7" width="67" height="36.5" fill="#bdd7e7"/>
<text x="1286.7" y="719.4" font-size="19" fill="#000" text-anchor="middle" textLength="55.0" lengthAdjust="spacingAndGlyphs">48006</text>
<rect x="1327.8" y="750.7" width="67" height="11.5" fill="#eff3ff"/>
<text x="1361.3" y="744.4" font-size="19" fill="#000" text-anchor="middle" textLength="44.0" lengthAdjust="spacingAndGlyphs">4753</text>
<line x1="1093.0" y1="762.2" x2="1405.8" y2="762.2" stroke="#000" stroke-width="1.6"/>
<rect x="1416.3" y="64.8" width="312.3" height="39.7" fill="#fff" stroke="#333" stroke-width="1.8"/>
<text x="1572.45" y="95" font-size="31" fill="#000" text-anchor="middle" textLength="45" lengthAdjust="spacingAndGlyphs">TN</text>
<rect x="1426.3" y="169.4" width="67" height="90.1" fill="#2372b5"/>
<text x="1459.8" y="163.1" font-size="19" fill="#000" text-anchor="middle" textLength="66.0" lengthAdjust="spacingAndGlyphs">292302</text>
<rect x="1500.9" y="234.1" width="67" height="25.4" fill="#6aaed6"/>
<text x="1534.4" y="227.8" font-size="19" fill="#000" text-anchor="middle" textLength="55.0" lengthAdjust="spacingAndGlyphs">23290</text>
<rect x="1575.5" y="247.8" width="67" height="11.7" fill="#bdd7e7"/>
<text x="1609.0" y="241.5" font-size="19" fill="#000" text-anchor="middle" textLength="44.0" lengthAdjust="spacingAndGlyphs">4913</text>
<rect x="1650.1" y="252.0" width="67" height="7.5" fill="#eff3ff"/>
<text x="1683.6" y="245.7" font-size="19" fill="#000" text-anchor="middle" textLength="44.0" lengthAdjust="spacingAndGlyphs">2051</text>
<rect x="1426.3" y="368.4" width="67" height="58.6" fill="#2372b5"/>
<text x="1459.8" y="362.1" font-size="19" fill="#000" text-anchor="middle" textLength="66.0" lengthAdjust="spacingAndGlyphs">123759</text>
<rect x="1500.9" y="407.6" width="67" height="19.4" fill="#6aaed6"/>
<text x="1534.4" y="401.3" font-size="19" fill="#000" text-anchor="middle" textLength="55.0" lengthAdjust="spacingAndGlyphs">13615</text>
<rect x="1575.5" y="417.7" width="67" height="9.3" fill="#bdd7e7"/>
<text x="1609.0" y="411.4" font-size="19" fill="#000" text-anchor="middle" textLength="44.0" lengthAdjust="spacingAndGlyphs">3115</text>
<rect x="1650.1" y="420.4" width="67" height="6.6" fill="#eff3ff"/>
<text x="1683.6" y="414.1" font-size="19" fill="#000" text-anchor="middle" textLength="44.0" lengthAdjust="spacingAndGlyphs">1561</text>
<rect x="1426.3" y="529.2" width="67" height="65.8" fill="#2372b5"/>
<text x="1459.8" y="522.9" font-size="19" fill="#000" text-anchor="middle" textLength="66.0" lengthAdjust="spacingAndGlyphs">155918</text>
<rect x="1500.9" y="569.5" width="67" height="25.5" fill="#6aaed6"/>
<text x="1534.4" y="563.2" font-size="19" fill="#000" text-anchor="middle" textLength="55.0" lengthAdjust="spacingAndGlyphs">23488</text>
<rect x="1575.5" y="580.4" width="67" height="14.6" fill="#bdd7e7"/>
<text x="1609.0" y="574.1" font-size="19" fill="#000" text-anchor="middle" textLength="44.0" lengthAdjust="spacingAndGlyphs">7647</text>
<rect x="1650.1" y="584.5" width="67" height="10.5" fill="#eff3ff"/>
<text x="1683.6" y="578.2" font-size="19" fill="#000" text-anchor="middle" textLength="44.0" lengthAdjust="spacingAndGlyphs">3965</text>
<rect x="1426.3" y="691.6" width="67" height="70.6" fill="#2372b5"/>
<text x="1459.8" y="685.3" font-size="19" fill="#000" text-anchor="middle" textLength="66.0" lengthAdjust="spacingAndGlyphs">179655</text>
<rect x="1500.9" y="739.9" width="67" height="22.3" fill="#6aaed6"/>
<text x="1534.4" y="733.6" font-size="19" fill="#000" text-anchor="middle" textLength="55.0" lengthAdjust="spacingAndGlyphs">17910</text>
<rect x="1575.5" y="751.0" width="67" height="11.2" fill="#bdd7e7"/>
<text x="1609.0" y="744.7" font-size="19" fill="#000" text-anchor="middle" textLength="44.0" lengthAdjust="spacingAndGlyphs">4537</text>
<rect x="1650.1" y="755.1" width="67" height="7.1" fill="#eff3ff"/>
<text x="1683.6" y="748.8" font-size="19" fill="#000" text-anchor="middle" textLength="44.0" lengthAdjust="spacingAndGlyphs">1803</text>
<line x1="1415.3" y1="762.2" x2="1728.1" y2="762.2" stroke="#000" stroke-width="1.6"/>
<rect x="1738.7" y="64.8" width="312.3" height="39.7" fill="#fff" stroke="#333" stroke-width="1.8"/>
<text x="1894.8500000000001" y="95" font-size="31" fill="#000" text-anchor="middle" textLength="48" lengthAdjust="spacingAndGlyphs">NN</text>
<rect x="1748.7" y="152.7" width="67" height="106.8" fill="#2372b5"/>
<text x="1782.2" y="146.4" font-size="19" fill="#000" text-anchor="middle" textLength="66.0" lengthAdjust="spacingAndGlyphs">410351</text>
<rect x="1823.3" y="229.6" width="67" height="29.9" fill="#6aaed6"/>
<text x="1856.8" y="223.3" font-size="19" fill="#000" text-anchor="middle" textLength="55.0" lengthAdjust="spacingAndGlyphs">32164</text>
<rect x="1897.9" y="247.4" width="67" height="12.1" fill="#bdd7e7"/>
<text x="1931.4" y="241.1" font-size="19" fill="#000" text-anchor="middle" textLength="44.0" lengthAdjust="spacingAndGlyphs">5314</text>
<rect x="1972.5" y="252.7" width="67" height="6.8" fill="#eff3ff"/>
<text x="2006.0" y="246.4" font-size="19" fill="#000" text-anchor="middle" textLength="44.0" lengthAdjust="spacingAndGlyphs">1650</text>
<rect x="1748.7" y="335.5" width="67" height="91.5" fill="#2372b5"/>
<text x="1782.2" y="329.2" font-size="19" fill="#000" text-anchor="middle" textLength="66.0" lengthAdjust="spacingAndGlyphs">301774</text>
<rect x="1823.3" y="402.0" width="67" height="25.0" fill="#6aaed6"/>
<text x="1856.8" y="395.7" font-size="19" fill="#000" text-anchor="middle" textLength="55.0" lengthAdjust="spacingAndGlyphs">22505</text>
<rect x="1897.9" y="417.9" width="67" height="9.1" fill="#bdd7e7"/>
<text x="1931.4" y="411.6" font-size="19" fill="#000" text-anchor="middle" textLength="44.0" lengthAdjust="spacingAndGlyphs">3004</text>
<rect x="1972.5" y="421.4" width="67" height="5.6" fill="#eff3ff"/>
<text x="2006.0" y="415.1" font-size="19" fill="#000" text-anchor="middle" textLength="44.0" lengthAdjust="spacingAndGlyphs">1122</text>
<rect x="1748.7" y="556.7" width="67" height="38.3" fill="#2372b5"/>
<text x="1782.2" y="550.4" font-size="19" fill="#000" text-anchor="middle" textLength="55.0" lengthAdjust="spacingAndGlyphs">52817</text>
<rect x="1823.3" y="577.9" width="67" height="17.1" fill="#6aaed6"/>
<text x="1856.8" y="571.6" font-size="19" fill="#000" text-anchor="middle" textLength="55.0" lengthAdjust="spacingAndGlyphs">10485</text>
<rect x="1897.9" y="585.1" width="67" height="9.9" fill="#bdd7e7"/>
<text x="1931.4" y="578.8" font-size="19" fill="#000" text-anchor="middle" textLength="44.0" lengthAdjust="spacingAndGlyphs">3563</text>
<rect x="1972.5" y="587.4" width="67" height="7.6" fill="#eff3ff"/>
<text x="2006.0" y="581.1" font-size="19" fill="#000" text-anchor="middle" textLength="44.0" lengthAdjust="spacingAndGlyphs">2082</text>
<rect x="1748.7" y="721.6" width="67" height="40.6" fill="#2372b5"/>
<text x="1782.2" y="715.3" font-size="19" fill="#000" text-anchor="middle" textLength="55.0" lengthAdjust="spacingAndGlyphs">59264</text>
<rect x="1823.3" y="748.5" width="67" height="13.7" fill="#6aaed6"/>
<text x="1856.8" y="742.2" font-size="19" fill="#000" text-anchor="middle" textLength="44.0" lengthAdjust="spacingAndGlyphs">6740</text>
<rect x="1897.9" y="755.8" width="67" height="6.4" fill="#bdd7e7"/>
<text x="1931.4" y="749.5" font-size="19" fill="#000" text-anchor="middle" textLength="44.0" lengthAdjust="spacingAndGlyphs">1469</text>
<rect x="1972.5" y="758.1" width="67" height="4.1" fill="#eff3ff"/>
<text x="2006.0" y="751.8" font-size="19" fill="#000" text-anchor="middle" textLength="33.0" lengthAdjust="spacingAndGlyphs">620</text>
<line x1="1737.7" y1="762.2" x2="2050.5" y2="762.2" stroke="#000" stroke-width="1.6"/>
<line x1="1093" y1="102.0" x2="1093" y2="260.3" stroke="#000" stroke-width="1.6"/>
<rect x="2051.5" y="104.9" width="53" height="158.5" fill="#fff" stroke="#333" stroke-width="1.8"/>
<text x="2077" y="184.1" font-size="32" text-anchor="middle" dominant-baseline="central" textLength="127" lengthAdjust="spacingAndGlyphs" transform="rotate(90 2077 184.1)">Library-1</text>
<line x1="1093" y1="269.0" x2="1093" y2="427.8" stroke="#000" stroke-width="1.6"/>
<rect x="2051.5" y="270.6" width="53" height="157.8" fill="#fff" stroke="#333" stroke-width="1.8"/>
<text x="2077" y="349.5" font-size="32" text-anchor="middle" dominant-baseline="central" textLength="127" lengthAdjust="spacingAndGlyphs" transform="rotate(90 2077 349.5)">Library-2</text>
<line x1="1093" y1="437.7" x2="1093" y2="595.8" stroke="#000" stroke-width="1.6"/>
<rect x="2051.5" y="436.8" width="53" height="158.7" fill="#fff" stroke="#333" stroke-width="1.8"/>
<text x="2077" y="516.1" font-size="32" text-anchor="middle" dominant-baseline="central" textLength="127" lengthAdjust="spacingAndGlyphs" transform="rotate(90 2077 516.1)">Library-3</text>
<line x1="1093" y1="605.0" x2="1093" y2="763.0" stroke="#000" stroke-width="1.6"/>
<rect x="2051.5" y="604.5" width="53" height="158.7" fill="#fff" stroke="#333" stroke-width="1.8"/>
<text x="2077" y="683.9" font-size="32" text-anchor="middle" dominant-baseline="central" textLength="127" lengthAdjust="spacingAndGlyphs" transform="rotate(90 2077 683.9)">Library-4</text>
<rect x="1109.5" y="793" width="32.3" height="32.3" fill="#2372b5"/>
<text x="1148.0" y="821" font-size="33" fill="#000" textLength="167" lengthAdjust="spacingAndGlyphs">CCS reads</text>
<rect x="1109.5" y="849" width="32.3" height="32.3" fill="#6aaed6"/>
<text x="1148.0" y="877" font-size="33" fill="#000" textLength="332" lengthAdjust="spacingAndGlyphs">UMI-consensus reads</text>
<rect x="1518.8" y="793" width="35.8" height="32.3" fill="#bdd7e7"/>
<text x="1564.5" y="821" font-size="33" fill="#000" textLength="403.5" lengthAdjust="spacingAndGlyphs">UMI reads assigned to cell</text>
<rect x="1518.8" y="849" width="35.8" height="32.3" fill="#eff3ff"/>
<text x="1564.5" y="877" font-size="33" fill="#000" textLength="455" lengthAdjust="spacingAndGlyphs">Cells recovering 1-kb barcode</text>
<text x="4.9" y="1045.6" font-size="52" fill="#000" font-weight="bold">c</text>
<polygon points="197.3,1379 244.3,1379 244.3,1410.4 240.8,1413.9 244.3,1417.4 244.3,1413.9 197.3,1413.9 197.3,1417.4 200.8,1413.9 197.3,1410.4" fill="#fde9e7"/>
<polygon points="253.3,1256.2 300.3,1256.2 300.3,1375.5 296.8,1379 300.3,1382.5 300.3,1413.9 253.3,1413.9 253.3,1382.5 256.8,1379 253.3,1375.5" fill="#e4f5e8"/>
<polygon points="309.3,1293.3 356.3,1293.3 356.3,1410.4 352.8,1413.9 356.3,1417.4 356.3,1413.9 309.3,1413.9 309.3,1417.4 312.8,1413.9 309.3,1410.4" fill="#e9f1fe"/>
<polygon points="385,1344.2 432,1344.2 432,1340.7 428.5,1344.2 432,1347.7 432,1413.9 385,1413.9 385,1347.7 388.5,1344.2 385,1340.7" fill="#fde9e7"/>
<polygon points="441,1277.7 488,1277.7 488,1340.7 484.5,1344.2 488,1347.7 488,1413.9 441,1413.9 441,1347.7 444.5,1344.2 441,1340.7" fill="#e4f5e8"/>
<polygon points="497,1309.3 544,1309.3 544,1410.4 540.5,1413.9 544,1417.4 544,1413.9 497,1413.9 497,1417.4 500.5,1413.9 497,1410.4" fill="#e9f1fe"/>
<polygon points="629.1,1316 676.1,1316 676.1,1375.5 672.6,1379 676.1,1382.5 676.1,1413.9 629.1,1413.9 629.1,1382.5 632.6,1379 629.1,1375.5" fill="#e4f5e8"/>
<polygon points="685.1,1333 732.1,1333 732.1,1410.4 728.6,1413.9 732.1,1417.4 732.1,1413.9 685.1,1413.9 685.1,1417.4 688.6,1413.9 685.1,1410.4" fill="#e9f1fe"/>
<polygon points="760.8,1379 807.8,1379 807.8,1410.4 804.3,1413.9 807.8,1417.4 807.8,1413.9 760.8,1413.9 760.8,1417.4 764.3,1413.9 760.8,1410.4" fill="#fde9e7"/>
<polygon points="816.8,1268.5 863.8,1268.5 863.8,1375.5 860.3,1379 863.8,1382.5 863.8,1413.9 816.8,1413.9 816.8,1382.5 820.3,1379 816.8,1375.5" fill="#e4f5e8"/>
<polygon points="872.8,1323.8 919.8,1323.8 919.8,1410.4 916.3,1413.9 919.8,1417.4 919.8,1413.9 872.8,1413.9 872.8,1417.4 876.3,1413.9 872.8,1410.4" fill="#e9f1fe"/>
<rect x="200.8" y="1410.9" width="40" height="6" rx="3.0" fill="#f8766d" fill-opacity="1.00"/><rect x="200.8" y="1376" width="40" height="6" rx="3.0" fill="#f8766d" fill-opacity="1.00"/><rect x="200.8" y="1355.6" width="40" height="6" rx="3.0" fill="#f8766d" fill-opacity="1.00"/><rect x="200.8" y="1341.2" width="40" height="6" rx="3.0" fill="#f8766d" fill-opacity="1.00"/><rect x="200.8" y="1330" width="40" height="6" rx="3.0" fill="#f8766d" fill-opacity="1.00"/><rect x="200.8" y="1320.8" width="40" height="6" rx="3.0" fill="#f8766d" fill-opacity="1.00"/><rect x="200.8" y="1313" width="40" height="6" rx="3.0" fill="#f8766d" fill-opacity="0.70"/><path class="k0" d="M221 1288l-10 1 17 0-26 1 22 0-6 1 17 0-26 1 18 0 12 1-13 1 10 0-30 1 13 0-17 1 14 0 11 0 9 0-35 1 21 0-9 1 16 0-26 1 1 0 24 0-19 1 22 0-22 1 1 0-7 1 13 0 6 0 13 0 4 0-17 1 15 0 0 0-35 1 10 0 20 0 2 0-27 1 19 0 13 0-35 1 18 0 5 1-25 1 6 0 8 0 0 0 12 0 1 0 1 0 0 0 2 0 3 0 4 0-38 1 1 0 2 0 13 0 6 0 1 0 1 0 1 0 2 0 0 0 6 0 6 0-26 1 19 0 4 0-35 1 1 0 3 0 24 0 11 0-32 1 3 0 3 0-11 2 21 1-17 3 2 0 1 0-9 1 21 0-15 2 3 0 7 0-2 2 23 1-3 1 1 1-28 1 15 0 6 0-17 3-4 1 0 1 23 0-28 2 7 0 24 0 5 1-27 1-8 1 0 4 1 1 3 0 24 0-29 1 1 1 18 0-17 1 2 1 31 0-27 9-11 2 12 0 19 0-1 1 4 0 2 0 3 0-36 2 35 1-32 14 15 1-14 1 11 0-17 2 19 1 1 0 12 1-16 1 23 1-12 28-24 1 3 2 11 0 19 0-17 1 6 0-23 1 22 0 14 1" fill="none"/>
<rect x="256.8" y="1410.9" width="40" height="6" rx="3.0" fill="#00ba38" fill-opacity="1.00"/><path class="k1" d="M290 1151l-30 1 36 1-16 1 3 0 3 0-23 1 2 0-1 1 3 0 3 0 6 1 8 0 11 0-11 1 3 0 10 0-18 1-20 1 14 0 5 0 3 0 12 0 0 0-34 1 3 0 15 0 4 0-21 1 6 0 7 0 18 0-12 1 16 0 0 0-36 1 0 0 2 0 1 0 4 0 3 0 2 0 22 0-24 1 20 0 1 0 4 0-33 1 3 0 12 0 6 0 10 0 1 0-27 1 19 0 8 0 4 0-32 1 1 0 3 0 6 0 8 0 2 0 3 0-28 1 8 0 10 0 2 0 1 0-14 1 1 0 6 0 5 0 10 0 4 0-35 1 13 0 1 0 5 0 2 0 9 0-25 1 3 0 11 0 1 0 10 0-30 1 6 0 2 0 8 0 3 0 3 0 1 0 7 0-24 1 5 0 0 0 10 0 10 0 4 0-33 1 3 0 3 0 1 0 23 0-31 1 5 0 1 0 1 0 21 0 0 0-29 1 0 0 4 0 1 0 3 0 8 0 1 0 4 0-20 1 12 0 2 0 12 0 2 0 4 0-28 1 1 0 1 0 0 0 4 0 6 0 5 0 1 0 10 0 6 0-39 1 2 0 3 0 4 0 1 0 3 0 23 0-36 1 2 0 10 0 1 0 2 0 5 0 15 0-35 1 4 0 3 0 2 0 3 0 2 0 2 0 9 0 2 0-27 1 7 0 3 0 11 0 5 0-24 1 3 0 2 0 7 0 0 0 4 0 1 0 18 0 1 0-37 1 0 0 4 0 3 0 0 0 4 0 2 0 13 0 0 0-18 1 4 0 5 0 0 0 4 0 4 0 11 0-33 1 6 0 1 0 4 0 6 0 3 0 11 0 3 0-30 1 0 0 0 0 13 0 3 0 1 0 7 0 2 0 0 0-26 1 4 0 0 0 2 0 4 0 1 0 8 0 2 0 8 0-35 1 3 0 4 0 8 0 1 0 1 0 8 0 6 0-32 1 5 0 6 0 2 0 8 0 4 0 1 0 5 0 1 0-33 1 4 0 11 0 1 0 5 0 6 0 1 0-24 1 0 0 2 0 8 0 7 0 3 0 3 0 4 0 0 0 7 0 0 0-38 1 1 0 3 0 1 0 1 0 3 0 1 0 0 0 8 0-17 1 8 0 1 0 1 0 14 0 6 0-29 1 4 0 1 0 0 0 10 0 1 0 1 0 9 0 1 0 2 0 0 0 2 0-34 1 14 0 1 0 8 0 3 0 2 0 1 0 2 0 5 0 0 0 2 0-32 1 1 0 1 0 5 0 0 0 1 0 3 0 3 0 2 0 13 0 3 0-34 1 3 0 4 0 14 0 1 0 2 0 10 0 1 0-38 1 8 0 0 0 8 0 0 0 1 0 0 0 5 0 0 0 10 0 2 0-16 1 6 0 4 0 4 0 4 0 0 0-32 1 11 0 3 0 2 0 1 0 4 0 3 0 3 0 0 0 0 0-31 1 1 0 6 0 6 0 1 0 4 0 9 0 3 0 3 0 1 0-35 1 3 0 1 0 0 0 1 0 3 0 0 0 3 0 1 0 6 0 6 0 3 0 1 0 4 0-26 1 3 0 2 0 1 0 5 0 3 0 4 0 5 0-27 1 3 0 5 0 1 0 0 0 2 0 1 0 2 0 2 0 6 0 4 0 10 0-34 1 6 0 5 0 0 0 3 0 1 0 8 0 0 0 9 0 3 0-38 1 2 0 0 0 12 0 1 0 2 0 5 0 3 0 0 0 3 0 10 0 1 0-40 1 4 0 1 0 0 0 0 0 11 0 4 0 1 0 5 0-26 1 1 0 1 0 8 0 2 0 6 0 0 0 6 0 5 0 4 0 5 0-37 1 2 0 1 0 0 0 2 0 0 0 6 0 8 0 1 0 5 0 12 0-36 1 2 0 5 0 1 0 2 0 0 0 1 0 1 0 2 0 1 0 1 0 3 0 5 0 7 0 5 0-38 1 2 0 8 0 2 0 3 0 5 0 4 0 0 0 8 0 6 0-37 1 13 0 11 0 2 0 3 0 3 0 4 0 2 0-35 1 0 0 1 0 8 0 3 0 2 0 7 0 2 0 2 0 0 0 1 0 0 0 1 0-30 1 14 0 1 0 7 0 3 0 1 0 2 0 2 0 2 0 2 0 1 0 1 0 0 0 1 0-36 1 4 0 4 0 5 0 2 0 6 0 0 0 0 0 5 0 5 0 6 0-35 1 2 0 3 0 0 0 6 0 7 0 6 0 6 0 5 0-35 1 1 0 5 0 1 0 0 0 1 0 6 0 3 0 3 0 6 0 0 0 6 0 2 0-28 1 8 0 2 0 1 0 1 0 5 0 2 0 0 0 2 0 6 0 0 0-36 1 5 0 3 0 11 0 2 0 4 0 8 0 0 0 1 0 1 0 3 0 0 0-36 1 0 0 1 0 3 0 1 0 4 0 2 0 2 0 6 0 4 0 2 0-7 1 0 0 1 0 1 0 1 0 9 0 2 0 2 0 2 0-38 1 0 0 0 0 2 0 3 0 7 0 1 0 4 0 5 0 8 0 1 0 2 0 1 0-32 1 6 0 1 0 0 0 0 0 2 0 4 0 0 0 13 0 2 0 0 0 8 0-37 1 3 0 2 0 4 0 4 0 5 0 9 0 2 0 2 0 2 0-30 1 0 0 1 0 5 0 1 0 2 0 1 0 6 0 10 0 4 0 2 0 1 0 0 0 1 0-36 1 0 0 2 0 7 0 1 0 8 0 3 0 6 0 8 0-38 1 1 0 1 0 1 0 4 0 1 0 1 0 9 0 0 0 1 0 1 0 5 0 5 0 9 0-33 1 1 0 2 0 4 0 1 0 6 0 1 0 18 0-39 1 3 0 1 0 2 0 3 0 2 0 3 0 4 0 1 0 1 0 3 0 2 0 9 0 5 0-31 1 5 0 4 0 2 0 1 0 12 0 1 0 3 0 2 0-36 1 2 0 3 0 2 0 1 0 4 0 18 0 0 0 0 0 4 0-35 1 1 0 3 0 1 0 8 0 5 0 5 0 7 0 1 0 3 0 0 0 2 0 1 0 1 0-38 1 6 0 2 0 3 0 1 0 8 0 6 0 4 0 7 0 0 0-36 1 8 0 3 0 0 0 3 0 3 0 2 0 0 0 1 0 1 0 4 0 9 0 1 0-32 1 1 0 5 0 6 0 2 0 2 0 4 0 3 0 1 0 1 0 0 0-30 1 2 0 2 0 7 0 4 0 2 0 0 0 4 0 3 0 2 0 2 0 2 0 5 0-26 1 3 0 0 0 2 0 2 0 2 0 0 0 7 0 9 0-29 1 5 0 2 0 4 0 4 0 6 0 1 0 0 0 1 0 0 0 3 0 5 0 2 0 1 0-29 1 6 0 2 0 4 0 2 0 4 0 2 0 1 0 2 0 6 0-37 1 4 0 2 0 5 0 2 0 3 0 2 0 2 0 3 0 5 0 2 0 6 0 0 0 1 0-34 1 1 0 4 0 1 0 4 0 6 0 5 0 1 0 1 0 4 0 1 0 2 0-25 1 2 0 1 0 4 0 7 0 1 0 3 0 4 0 1 0 5 0-36 1 0 0 2 0 3 0 2 0 0 0 0 0 5 0 14 0 6 0 1 0-35 1 4 0 0 0 5 0 2 0 0 0 3 0 4 0 4 0 0 0 1 0 1 0 4 0 0 0-16 1 4 0 4 0 0 0 1 0 4 0 2 0 4 0 1 0 3 0-28 1 2 0 1 0 2 0 6 0 4 0 5 0-26 1 2 0 3 0 1 0 1 0 12 0 2 0 0 0 0 0 1 0 0 0 2 0 8 0 0 0 3 0 3 0-37 1 2 0 2 0 2 0 0 0 2 0 0 0 7 0 13 0 2 0 6 0 0 0-36 1 7 0 11 0 2 0 3 0 3 0 1 0 4 0 1 0 3 0 0 0 2 0-38 1 5 0 3 0 0 0 6 0 4 0 1 0 0 0 1 0 8 0 1 0 6 0-35 1 1 0 1 0 1 0 11 0 4 0 11 0 4 0 1 0 1 0-36 1 1 0 0 0 3 0 2 0 1 0 1 0 7 0 0 0 6 0 2 0 2 0 0 0-21 1 1 0 6 0 4 0 8 0 5 0 2 0 4 0 2 0 2 0-36 1 3 0 2 0 0 0 4 0 3 0 0 0 2 0 2 0 5 0 1 0 5 0 9 0-38 1 0 0 8 0 3 0 5 0 3 0 8 0 1 0 1 0 2 0 2 0 1 0 5 0-38 1 0 0 0 0 3 0 0 0 3 0 10 0 1 0 5 0 1 0 1 0 9 0 5 0-39 1 10 0 10 0 1 0 2 0 1 0 1 0 2 0 0 0 8 0-32 1 2 0 1 0 5 0 3 0 0 0 2 0 1 0 1 0 9 0 0 0 5 0 5 0-35 1 0 0 2 0 1 0 1 0 2 0 7 0 3 0 6 0 8 0 3 0 0 0 2 0-35 1 6 0 11 0 0 0 1 0 2 0 4 0 3 0 7 0 1 0-33 1 1 0 7 0 1 0 2 0 3 0 6 0 1 0 1 0 2 0 2 0 1 0 1 0 1 0 1 0 5 0-27 1 2 0 2 0 8 0 2 0 0 0 0 0 6 0 2 0-29 1 0 0 3 0 1 0 1 0 2 0 5 0 8 0 4 0 2 0 1 0 3 0 4 0-35 1 2 0 7 0 0 0 1 0 3 0 1 0 4 0 10 0 5 0 2 0-37 1 15 0 2 0 1 0 1 0 1 0 1 0 0 0 4 0 0 0 4 0 0 0 7 0 0 0-35 1 1 0 4 0 0 0 2 0 0 0 6 0 6 0 1 0 0 0 12 0 4 0-34 1 0 0 1 0 3 0 0 0 8 0 2 0 10 0 1 0 2 0-31 1 3 0 2 0 6 0 0 0 1 0 2 0 2 0 6 0 4 0 9 0 1 0 2 0-32 1 2 0 3 0 0 0 2 0 1 0 16 0 0 0 1 0 0 0 0 0 1 0 6 0-37 1 7 0 2 0 6 0 5 0 0 0 2 0 5 0 7 0 1 0-36 1 2 0 1 0 7 0 1 0 6 0 1 0 0 0 1 0 0 0 4 0 3 0 0 0 3 0 1 0 4 0-17 1 1 0 3 0 1 0 1 0 6 0 3 0 3 0 2 0-37 1 1 0 1 0 8 0 1 0 1 0 16 0 0 0 0 0 4 0 2 0 2 0-37 1 3 0 2 0 5 0 3 0 1 0 5 0 5 0 2 0 3 0 2 0-30 1 5 0 6 0 1 0 7 0 1 0 9 0 1 0 2 0 4 0 1 0 0 0-35 1 0 0 5 0 2 0 5 0 3 0 8 0 2 0 1 0 4 0 1 0 2 0 1 0-36 1 1 0 2 0 5 0 4 0 3 0 0 0 2 0 0 0 6 0 2 0 1 0 2 0 7 0-36 1 0 0 13 0 11 0 1 0 2 0-22 1 4 0 3 0 0 0 2 0 2 0 1 0 1 0 3 0 0 0 3 0 0 0 1 0 2 0 4 0 7 0 1 0-34 1 3 0 1 0 2 0 0 0 2 0 3 0 6 0 2 0 0 0 3 0 6 0 6 0-39 1 3 0 10 0 2 0 3 0 10 0 0 0 1 0 2 0 0 0 5 0 2 0-36 1 0 0 0 0 1 0 1 0 3 0 3 0 1 0 5 0 12 0 3 0 0 0 2 0 2 0 0 0 2 0 1 0 1 0-38 1 5 0 3 0 6 0 5 0 7 0 1 0 7 0 3 0-36 1 0 0 0 0 1 0 1 0 4 0 0 0 4 0 0 0 9 0 2 0 1 0 5 0 3 0 1 0 2 0 1 0 2 0-36 1 1 0 2 0 3 0 3 0 0 0 5 0 6 0 0 0 3 0 3 0 2 0 1 0 6 0 0 0-35 1 2 0 0 0 1 0 0 0 2 0 1 0 4 0 3 0 4 0 0 0 6 0 1 0 2 0 3 0 1 0 0 0 2 0 1 0 1 0-31 1 9 0 2 0 14 0 3 0 0 0 6 0-36 1 3 0 11 0 16 0 1 0-34 1 6 0 4 0 1 0 0 0 2 0 9 0 1 0 2 0 13 0-35 1 6 0 2 0 1 0 2 0 5 0 1 0 2 0 1 0 1 0 1 0 0 0 0 0 1 0 2 0 1 0 2 0 3 0-34 1 5 0 1 0 3 0 6 0 3 0 0 0 6 0 3 0 2 0 0 0 3 0 2 0 3 0 2 0-39 1 1 0 2 0 4 0 0 0 2 0 1 0 11 0 1 0 0 0 1 0 6 0 0 0 6 0-29 1 5 0 7 0 3 0 12 0 6 0 1 0-40 1 3 0 8 0 1 0 2 0 8 0 1 0 3 0 1 0 0 0 12 0 1 0-40 1 0 0 4 0 1 0 2 0 0 0 2 0 1 0 0 0 3 0 2 0 4 0 5 0 1 0 1 0 5 0 2 0-31 1 1 0 7 0 2 0 1 0 3 0 3 0 0 0 7 0 1 0 1 0 1 0 1 0 1 0-30 1 4 0 1 0 3 0 2 0 6 0 2 0 0 0 1 0 4 0 2 0 1 0 4 0 4 0 1 0-30 1 5 0 6 0 0 0 1 0 0 0 3 0 6 0 4 0 8 0-33 1 10 0 3 0 1 0 2 0 3 0 5 0 4 0-34 1 2 0 0 0 1 0 3 0 0 0 6 0 2 0 3 0 0 0 1 0 2 0 1 0 3 0 3 0 1 0 1 0 1 0-28 1 6 0 8 0 3 0 1 0 1 0 3 0 0 0 0 0 3 0 6 0 5 0 0 0 0 0 1 0-38 1 3 0 2 0 1 0 2 0 2 0 0 0 0 0 1 0 7 0 0 0 1 0 5 0 3 0 3 0 0 0 1 0 1 0 1 0 3 0 0 0-34 1 2 0 3 0 4 0 3 0 5 0 7 0 2 0 1 0-14 1 8 0 0 1-20 1 1 0 7 0 1 0 9 0 8 0 6 0 1 0 0 0-36 1 8 0 5 0 6 0 2 0 1 0 5 0 2 0 3 0 0 0 0 0 0 0 5 0 0 0 0 0 1 0-36 1 3 0 4 0 15 0 1 0 0 0 2 0 2 0 1 0 8 0-34 1 11 0 23 1-20 1 14 1 2 0 3 0-34 1 6 0 2 0 1 0 3 0 6 0 5 0 7 0-31 1 1 0 4 0 4 0 3 0 3 0 6 0 3 0 1 0 3 0 2 0 0 0 7 0-40 1 8 0 2 0 2 0 9 0 2 0 3 0 7 0 5 0-34 1 9 0 3 0 2 0 18 0-36 1 12 2 4 0 1 0 15 0-30 1 2 0 3 0 2 0 4 0 11 0 1 0 8 0-24 1 0 0 6 0 4 0 2 0 0 0 8 0-28 1 5 0 1 0 1 0 3 0 1 0 3 0 0 0 4 0 7 0 10 0 3 0-29 1 7 0 0 0 5 0 8 0-28 1 8 0 23 0 6 0-17 4-14 1 14 0 4 0-23 1 0 0 10 0 1 0 0 0 1 0 2 0 4 0 0 0 9 0 3 0 6 0-36 1 1 0 8 0 8 0 1 0 1 0 4 0 0 0 4 0 2 0 3 0-24 1 4 0 1 0 7 0 3 0 3 0 1 0 0 0 1 0 0 0 5 0 1 0-34 1 11 0 14 0 4 0-17 1 22 0-8 4-22 2 16 0 9 0-29 1 5 0 2 0 5 0 3 0 1 0 4 0 2 0 0 0 1 0 10 0-34 1 3 0 1 0 3 0 5 0 0 0 3 0 11 0 2 0 5 0 4 0-38 1 2 0 0 0 2 0 7 0 5 0 1 0 3 0 11 0 6 0-34 1 4 0 14 0 2 0 1 0 12 0 3 0-30 1 20 1-8 7 2 0-8 1 16 0-32 1 3 0 23 0 4 0 1 0 9 0 0 0-34 1 4 0 1 0 2 0 2 0 6 0 2 0 14 0-29 1 11 0 1 0 4 0 4 0 1 0 3 0 4 0-21 1 2 0 8 0 4 0 6 0-26 1 1 0 29 0-15 1 1 14-21 1 16 0 2 0 5 0 6 0-29 1 1 0 11 0 2 0 0 0 3 0 8 0 0 0-28 1 4 0 1 0 2 0 0 0 1 0 7 0 2 0 2 0 4 0 8 0 2 0 2 0 1 0 1 0-38 1 5 0 1 0 1 0 0 0 9 0 5 0 4 0 3 0 0 0 9 0-5 1-23 1 11 0 7 0 12 0-20 29 6 0-24 1 11 0 1 1 23 1-27 1-4 1 12 0 8 1" fill="none"/>
<rect x="312.8" y="1410.9" width="40" height="6" rx="3.0" fill="#619cff" fill-opacity="0.90"/><path class="k2" d="M330 1074l2 2 10 2-19 1-2 1 1 1 24 1-28 1 15 1 14 1-21 1 1 1-6 1 26 1-25 1 31 0-26 1 11 1-3 1 12 0-25 1-8 1 25 1 6 0-20 1 9 0-5 1 21 0-23 1 2 1 23 0-37 1 10 1 5 0-2 1 15 0-27 1 7 0-3 1 28 0-4 1 7 0-23 1 17 0-29 1 25 0 0 1 8 0-7 1 3 0 3 1 3 0-27 1 19 0 6 0-33 1 26 0-26 1 1 0 11 0 2 1 21 0-22 1 4 0 7 0-18 1 3 0-8 1 8 0 16 0-24 1 10 0 8 0-21 1 33 0-30 1 21 0 0 0-2 1 11 0-21 1 12 0 14 0-30 1 17 0 10 0-32 1 28 0 4 0-10 1 3 0 3 0-21 1 12 0 16 0-30 1 2 0 14 0-21 1 23 0 12 0-35 1 16 0 1 0-18 1 16 0 19 0-33 1 30 0-22 1 13 0 11 0-9 1 2 0 6 0-35 1 34 0 2 0-28 1 26 0 2 0-37 1 12 0 5 0 9 0-15 1 21 0 4 0-15 1 8 0 6 0-34 1 31 0 1 0-27 1 19 0 5 0 6 0-20 1 12 0 8 0 2 0-37 1 0 0 12 0 25 0-22 1 16 0 1 0-32 1 8 0 6 0 19 0-31 1 26 0 1 0-12 1 3 0 6 0-19 1 3 0 4 0 13 1 2 0 8 0-31 1 10 0 10 0-19 1 2 0 9 0-4 1 1 0 4 0 11 0-25 1 10 0 11 0 12 0-37 1 8 0 8 0 9 0-7 1 9 0 0 0-11 1 5 0 11 0 5 0-24 1 7 0 4 0 11 0-28 1 12 0 3 0 10 0-28 1 16 0 11 0 6 0-32 1 20 0 3 0 6 0-17 1 1 0 8 0 9 0-26 1 1 0 8 0 6 0-18 1 9 0 8 0 5 0-25 1 9 0 21 0 1 0-16 1 1 0 7 0 3 0-28 1 22 0 2 0 11 0-32 1 8 0 5 0 6 0-23 1 2 0 6 0 7 0-8 1 6 0 18 0 5 0-31 1 7 0 1 0 4 0-7 1 6 0 5 0 15 0-30 1 4 0 5 0 7 0-9 1 3 0 11 0 8 0-22 1 18 0 1 0 1 0-31 1 5 0 19 0 6 0-14 1 0 0 2 0 8 0-22 1 5 0 7 0 19 0-27 1 3 0 6 0 3 0 1 0-16 1 0 0 12 0 8 0 6 0-27 1 19 0 9 0 2 0-37 1 4 0 7 0 19 0 4 0-19 1 6 0 8 0 6 0-33 1 9 0 19 0 8 0-15 1 9 0 2 0 1 0-25 1 3 0 3 0 5 0-21 1 2 0 1 0 8 0-11 1 9 0 1 0 1 0 23 0-15 1 1 0 2 0 11 0-18 1 3 0 4 0 14 0-22 1 9 0 2 0 3 0-25 1 31 0 2 0 2 0-31 1 13 0 5 0 8 0-18 1 13 0 7 0 1 0-33 1 11 0 1 0 13 0 1 0-25 1 9 0 0 0 8 0 11 0-9 1 2 0 1 0 11 0-29 1 3 0 4 0 14 0 4 0-34 1 1 0 14 0 16 0-21 1 4 0 19 0 2 0 4 0-23 1 4 0 7 0 4 0 9 0-23 1 1 0 3 0 8 0-1 1 2 0 4 0 6 0-21 1 1 0 1 0 8 0 5 0-34 1 14 0 4 0 10 0-22 1 0 0 21 0 2 0 6 0-34 1 1 0 14 0 6 0 3 0-23 1 5 0 9 0 17 0 4 0-10 1 2 0 6 0 2 0 1 0-36 1 10 0 14 0 1 0 8 0-27 1 5 0 17 0 7 0-32 1 5 0 1 0 6 0 20 0-24 1 7 0 1 0 8 0 2 0-11 1 2 0 16 0 0 0-34 1 3 0 14 0 18 0-36 1 10 0 2 0 1 0-9 1 2 0 5 0 23 0 1 0-24 1 4 0 3 0 6 0 5 0-30 1 5 0 2 0 11 0 8 0-25 1 3 0 1 0 7 0 17 0-30 1 11 0 8 0 5 0 12 0-29 1 9 0 15 0 0 0 7 0-34 1 17 0 10 0 1 0 4 0-31 1 2 0 8 0 7 0 8 0-24 1 3 0 10 0 5 0 14 0-34 1 7 0 10 0 3 0 1 0-23 1 4 0 2 0 5 0 7 0-14 1 14 0 1 0 5 0 3 0-29 1 10 0 21 0 1 0 2 0-27 1 12 0 7 0 9 0 2 0-20 1 0 0 0 0 12 0 2 0-22 1 4 0 15 0 2 0 8 0-32 1 3 0 1 0 11 0 3 0-21 1 2 0 1 0 12 0 0 0-8 1 10 0 4 0 2 0 11 0-34 1 5 0 1 0 12 0 7 0-25 1 2 0 2 0 5 0 8 0-18 1 3 0 7 0 0 0 4 0-16 1 11 0 2 0 8 0 12 0-27 1 4 0 8 0 11 0 9 0-38 1 3 0 22 0 1 0 1 0-16 1 13 0 0 0 6 0 2 0-31 1 12 0 12 0 7 0 7 0-39 1 10 0 3 0 4 0 22 0-31 1 3 0 6 0 10 0 2 0-25 1 3 0 18 0 9 0 3 0-32 1 1 0 4 0 3 0 9 0-20 1 4 0 21 0 7 0 4 0-23 1 10 0 4 0 5 0 1 0-21 1 7 0 3 0 4 0 2 0-31 1 4 0 2 0 2 0 24 0 1 0-24 1 10 0 3 0 11 0 6 0-36 1 2 0 6 0 6 0 5 0-20 1 9 0 7 0 5 0 8 0-29 1 2 0 15 0 5 0 2 0-17 1 3 0 7 0 1 0 12 0-22 1 5 0 4 0 1 0 0 0-5 1 3 0 14 0 2 0 1 0-28 1 11 0 1 0 9 0 9 0-22 1 2 0 8 0 1 0 8 0-34 1 25 0 3 0 4 0 5 0-36 1 6 0 7 0 7 0 12 0-33 1 12 0 4 0 15 0 3 0-25 1 5 0 6 0 1 0 18 0-37 1 7 0 3 0 0 0 25 0 0 0-27 1 12 0 7 0 1 0 2 0 7 0-36 1 3 0 4 0 10 0 10 0 2 0-24 1 4 0 7 0 1 0 3 0-14 1 4 0 13 0 9 0 1 0-35 1 15 0 6 0 0 0 17 0-36 1 12 0 3 0 3 0 1 0 8 0-19 1 15 0 1 0 1 0 4 0-29 1 16 0 10 0 3 0 4 0-23 1 4 0 5 0 2 0 5 0 9 0-33 1 5 0 10 0 8 0 4 0-27 1 0 0 6 0 8 0 11 0 5 0-27 1 18 0 6 0 7 0 0 0-30 1 3 0 4 0 19 0 4 0-34 1 19 0 4 0 0 0 5 0 3 0-24 1 5 0 6 0 9 0 7 0-38 1 2 0 2 0 3 0 1 0 25 0-32 1 10 0 10 0 0 0 6 0 8 0-36 1 11 0 4 0 5 0 8 0-25 1 18 0 2 0 5 0 9 0-21 1 1 0 3 0 11 0 5 0 0 0-35 1 7 0 0 0 2 0 12 0-10 1 12 0 1 0 2 0 5 0-24 1 7 0 6 0 13 0 1 0 2 0 2 0-35 1 4 0 1 0 0 0 5 0 18 0 1 0 1 0 1 0 1 0 2 0-38 1 2 0 17 0 5 0 4 0-7 1 7 0 5 1-27 1 14 0 0 0 6 0 10 0-35 1 8 0 6 0 1 0 3 0 18 0 0 0 2 0-14 1 2 0 9 0-16 1 5 0 0 0 12 0 0 0-34 1 18 0 18 0-37 1 4 0 5 0 19 0 2 0 4 0 2 0-38 1 3 0 1 0 2 0 1 0 1 0 3 0 3 0 0 0 4 0 6 0 1 0 5 0 7 0-27 1 1 0 1 0 22 0-27 1 13 0 5 1 2 0-14 1-5 1 16 0 3 0 2 0 1 0-25 1 6 0 28 0-38 1 1 0 26 0 2 0 4 1 0 0-31 1 22 0-13 1 22 0 2 0-33 1 1 0 0 0 7 0 10 0 2 0-23 1 3 0 4 0 15 0 6 0 10 0-24 1 0 0 8 0 15 0-16 1-17 2 1 0 33 0-35 1 7 0 19 0 10 0-33 1 2 0 13 0 1 0 7 0 2 0-25 1 1 0 13 0 11 0 6 0 1 0-36 1 10 0 20 1-23 2 26 0-24 1 1 0 11 0 1 0 3 0 10 0-30 1 13 0 2 0 5 0-27 1 8 0 19 0 5 0 4 0 2 0 1 0-30 1 12 0 3 0 2 0 13 0-23 1 3 0 6 0-1 5 12 0-29 1 5 0 3 0 5 0 2 0 7 0 3 0-32 1 9 0 5 0 5 0 16 0-33 1 0 0 8 0 0 0 10 0 12 0 6 0-32 1 3 0 8 0 6 0 8 0-22 1 6 6 2 0-14 1 0 0 1 0 3 0 1 0 17 0 6 0-29 1 4 0 2 0 1 0 2 0 5 0 2 0 2 0 8 0 8 0-34 1 1 0 18 0 1 0 2 0 1 0 3 0 9 0 1 0 0 0-15 1 2 1-4 9 11 1-28 1 3 0 3 0 3 0 1 0 7 0 10 0 6 0-34 1 0 0 10 0 5 0 1 0 8 0-27 1 12 0-10 1 34 0-10 1 5 0-7 14 7 0 0 0-20 1 3 0 6 0 2 0 16 0-37 1 10 0 15 0 3 0 10 0-37 1 0 0 10 0 5 0 1 0 6 0 0 0 0 0 1 0 4 0 0 0 2 0 2 0 3 0-35 1 13 0 5 0 2 0 5 0 10 0 3 0-37 1 6 0 3 0 1 0 9 0 9 0 0 29-21 1 20 0-1 1-27 1 2 0 4 0 27 2-1 1" fill="none"/>
<rect x="388.5" y="1410.9" width="40" height="6" rx="3.0" fill="#f8766d" fill-opacity="1.00"/><rect x="388.5" y="1376" width="40" height="6" rx="3.0" fill="#f8766d" fill-opacity="1.00"/><rect x="388.5" y="1355.6" width="40" height="6" rx="3.0" fill="#f8766d" fill-opacity="1.00"/><rect x="388.5" y="1341.2" width="40" height="6" rx="3.0" fill="#f8766d" fill-opacity="1.00"/><rect x="388.5" y="1330" width="40" height="6" rx="3.0" fill="#f8766d" fill-opacity="1.00"/><path class="k0" d="M407 1252l7 0 0 0-17 1 2 0 7 0-17 1 8 0 25 0-27 1 9 0 8 0 11 0-15 1 1 0 5 0 6 0-23 1 3 0 7 0 2 0 1 0 6 0 4 0-22 1 1 0 0 0 4 0 21 0-34 1 1 0 4 0 5 0 2 0 0 0 13 0 4 0 0 0 1 0 2 0 3 0 2 0-26 1 2 0 8 0 0 0 4 0 1 0 8 0-28 1 3 0 0 0 4 0 2 0 9 0 13 0 0 0-34 1 1 0 6 0 2 0 1 0 1 0 1 0 0 0 2 0 9 0 0 0 3 0 6 0 3 0 0 0-39 1 5 0 1 0 7 0 2 0 6 0 1 0 1 0 7 0 3 0 0 0-32 1 0 0 1 0 5 0 4 0 9 0 2 0 1 0 3 0 4 0 8 0 0 0 1 0-36 1 0 0 2 0 7 0 1 0 3 0 2 0 2 0 8 0 0 0 2 0 7 0 1 0-35 1 2 0 3 0 0 0 3 0 3 0 3 0 2 0 1 0 0 0 2 0 1 0 5 0 3 0 0 0 0 0 5 0-33 1 3 0 1 0 4 0 1 0 1 0 1 0 0 0 7 0 3 0 4 0 2 0 8 0-33 1 3 0 4 0 1 0 8 0 3 0 1 0 1 0 9 0 0 0 0 0 2 0 1 0 1 0-38 1 1 0 2 0 2 0 0 0 0 0 0 0 1 0 2 0 3 0 1 0 6 0 2 0 8 0 0 0 0 0 1 0 1 0 2 0 6 0-39 1 3 0 1 0 1 0 0 0 1 0 3 0 3 0 4 0 1 0 4 0 5 0 2 0 2 0 3 0 3 0 2 0 1 0-38 1 2 0 1 0 1 0 2 0 3 0 8 0 3 0 1 0 1 0 5 0 4 0 1 0 0 0 1 0 0 0 1 0 2 0 0 0-31 1 2 0 1 0 0 0 3 0 3 0 1 0 5 0 2 0 1 0 0 0 1 0 1 0 2 0 8 0 0 0 0 0 3 0-39 1 5 0 0 0 0 0 0 0 1 0 1 0 0 0 0 0 1 0 2 0 0 0 1 0 1 0 3 0 1 0 3 0 3 0 0 0 5 0 2 0 3 0 2 0 2 0 1 0-36 1 3 0 2 0 5 0 3 0 6 0 2 0 2 0 4 0 1 0 1 0 3 0 2 0 1 0 1 0 0 0 0 0 0 0-37 1 2 0 0 0 2 0 3 0 0 0 2 0 0 0 1 0 0 0 1 0 2 0 2 0 0 0 2 0 1 0 3 0 2 0 2 0 0 0 1 0 1 0 1 0 2 0 1 0 3 0 0 0 3 0 1 0 0 0 0 0-38 1 1 0 2 0 1 0 0 0 1 0 1 0 1 0 0 0 1 0 2 0 2 0 4 0 1 0 2 0 3 0 0 0 2 0 0 0 1 0 1 0 0 0 4 0 3 0 3 0 0 0 0 0 1 0 2 0-39 1 2 0 0 0 1 0 1 0 0 0 1 0 2 0 1 0 4 0 1 0 0 0 1 0 0 0 0 0 1 0 1 0 1 0 1 0 1 0 0 0 1 0 1 0 0 0 1 0 1 0 2 0 0 0 0 0 3 0 3 0 1 0 1 0 2 0 0 0 1 0 1 0-35 1 1 0 2 0 1 0 2 0 0 0 1 0 1 0 1 0 1 0 0 0 1 0 2 0 3 0 1 0 0 0 1 0 0 0 3 0 3 0 1 0 2 0 1 0 1 0 1 0 1 0 3 0 1 0 1 0-38 1 2 0 2 0 1 0 0 0 3 0 0 0 1 0 2 0 0 0 1 0 1 0 0 0 0 0 1 0 0 0 0 0 1 0 1 0 1 0 1 0 1 0 0 0 1 0 2 0 1 0 0 0 2 0 0 0 3 0 0 0 0 0 2 0 0 0 1 0 0 0 1 0 1 0 1 0 5 0-39 1 2 0 2 0 0 0 1 0 2 0 1 0 0 0 0 0 1 0 4 0 1 0 0 0 2 0 0 0 2 0 2 0 0 0 0 0 1 0 1 0 0 0 0 0 1 0 2 0 3 0 0 0 1 0 1 0 0 0 2 0 0 0 1 0 1 0 0 0 2 0 0 0 1 0-37 1 2 0 2 0 1 0 0 0 2 0 1 0 1 0 0 0 1 0 0 0 0 0 1 0 0 0 0 0 1 0 1 0 1 0 1 0 1 0 0 0 2 0 1 0 0 0 1 0 1 0 0 0 1 0 2 0 2 0 2 0 3 0 0 0 1 0 0 0 0 0 2 0 0 0 1 0 1 0 0 0 1 0 1 0 0 0 1 0-39 1 1 0 2 0 1 0 0 0 0 0 1 0 2 0 0 0 1 0 1 0 1 0 4 0 1 0 0 0 2 0 0 0 1 0 1 0 0 0 0 0 1 0 1 0 1 0 1 0 0 0 0 0 2 0 1 0 2 0 3 0 1 0 0 0 1 0 4 0 1 0 1 0 0 0 0 0 0 0-39 1 0 0 1 0 0 0 1 0 1 0 4 0 0 0 1 0 0 0 0 0 1 0 0 0 3 0 3 0 2 0 0 0 4 0 1 0 2 0 2 0 0 0 1 0 0 0 1 0 0 0 0 0 1 0 0 0 0 0 1 0 0 0 0 0 1 0 2 0 0 0 1 0 1 0 0 0 3 0 1 0 0 0-39 1 0 0 2 0 1 0 0 0 1 0 0 0 1 0 1 0 0 0 1 0 0 0 1 0 1 0 0 0 1 0 1 0 0 0 2 0 0 0 1 0 1 0 1 0 3 0 1 0 0 0 1 0 0 0 2 0 1 0 0 0 1 0 0 0 0 0 5 0 0 0 2 0 0 0 2 0 1 0 3 0 0 0 1 0 0 0-39 1 1 0 0 0 1 0 0 0 1 0 4 0 0 0 0 0 2 0 0 0 0 0 1 0 1 0 1 0 1 0 2 0 1 0 1 0 0 0 0 0 1 0 0 0 1 0 0 0 0 0 1 0 1 0 0 0 1 0 1 0 0 0 3 0 2 0 1 0 1 0 1 0 1 0 1 0 0 0 0 0 1 0 0 0 0 0 0 0 0 0 1 0 1 0 0 0 1 0 1 0 0 0 0 0 1 0 0 0-39 1 1 0 1 0 0 0 0 0 1 0 0 0 1 0 1 0 0 0 2 0 0 0 1 0 2 0 1 0 1 0 0 0 1 0 0 0 0 0 0 0 0 0 1 0 1 0 1 0 0 0 0 0 1 0 2 0 1 0 0 0 1 0 2 0 0 0 1 0 0 0 0 0 0 0 1 0 0 0 1 0 1 0 1 0 0 0 1 0 0 0 2 0 1 0 1 0 2 0 0 0 0 0 1 0 1 0-37 1 0 0 1 0 0 0 0 0 0 0 1 0 1 0 0 0 1 0 0 0 0 0 1 0 0 0 1 0 1 0 0 0 0 0 2 0 0 0 1 0 1 0 1 0 0 0 0 0 1 0 1 0 1 0 1 0 1 0 0 0 0 0 0 0 1 0 1 0 1 0 0 0 0 0 0 0 0 0 0 0 0 0 1 0 1 0 1 0 1 0 1 0 0 0 1 0 0 0 1 0 0 0 0 0 1 0 0 0 0 0 1 0 0 0 1 0 3 0 0 0 1 0 0 0 1 0 0 0 0 0 1 0 0 0 1 0-37 1 0 0 0 0 0 0 1 0 0 0 1 0 0 0 0 0 1 0 0 0 0 0 1 0 0 0 1 0 0 0 1 0 1 0 0 0 0 0 1 0 0 0 0 0 1 0 0 0 1 0 1 0 2 0 0 0 0 0 0 0 1 0 0 0 0 0 1 0 0 0 1 0 1 0 0 0 0 0 0 0 0 0 1 0 1 0 0 0 0 0 0 0 1 0 0 0 1 0 1 0 1 0 1 0 0 0 0 0 1 0 0 0 1 0 1 0 0 0 1 0 1 0 1 0 0 0 1 0 0 0 1 0 1 0 1 0 1 0 1 0 1 0 0 0 0 0 1 0 0 0 0 0 0 0 1 0 0 0-39 1 0 0 1 0 0 0 1 0 0 0 1 0 0 0 1 0 0 0 0 0 1 0 0 0 1 0 1 0 1 0 0 0 1 0 0 0 0 0 0 0 2 0 0 0 0 0 1 0 0 0 0 0 1 0 1 0 2 0 1 0 1 0 0 0 0 0 0 0 1 0 1 0 0 0 1 0 0 0 1 0 1 0 0 0 1 0 0 0 1 0 1 0 1 0 0 0 2 0 1 0 0 0 2 0 1 0 2 0 1 0 1 0 0 0 2 0 0 0 0 0 0 0-39 1 1 0 0 0 2 0 1 0 0 0 0 0 1 0 2 0 2 0 2 0 0 0 3 0 1 0 1 0 1 0 0 0 1 0 0 0 0 0 1 0 0 0 1 0 0 0 0 0 1 0 0 0 1 0 1 0 0 0 2 0 1 0 1 0 0 0 2 0 2 0 1 0 1 0 0 0 1 0 2 0 3 0-39 1 0 0 1 0 4 0 1 0 2 0 1 0 1 0 1 0 1 0 1 0 3 0 1 0 1 0 1 0 5 0 2 0 1 0 5 0 1 0 1 0 0 0 1 0 1 0 0 0 0 0 0 0 0 0 2 0 0 0-36 1 1 0 0 0 1 0 1 0 2 0 0 0 1 0 1 0 1 0 3 0 0 0 0 0 1 0 0 0 0 0 0 0 1 0 0 0 1 0 0 0 1 0 0 0 1 0 0 0 3 0 2 0 0 0 1 0 0 0 2 0 0 0 1 0 1 0 0 0 1 0 1 0 0 0 1 0 2 0 1 0 0 0 1 0 3 0 0 0 1 0-39 1 0 0 0 0 1 0 0 0 1 0 0 0 0 0 0 0 0 0 2 0 1 0 0 0 0 0 0 0 1 0 0 0 0 0 0 0 2 0 0 0 0 0 1 0 0 0 0 0 0 0 1 0 1 0 2 0 0 0 1 0 0 0 0 0 0 0 0 0 1 0 0 0 0 0 1 0 0 0 2 0 0 0 0 0 0 0 0 0 0 0 1 0 0 0 1 0 0 0 0 0 0 0 1 0 1 0 0 0 1 0 0 0 1 0 0 0 1 0 1 0 0 0 2 0 0 0 0 0 0 0 1 0 2 0 1 0 0 0 1 0 0 0 2 0 0 0 0 0 0 0 1 0 1 0 0 0 0 0 1 0 0 0 0 0 1 0 0 0-39 1 0 0 0 0 0 0 1 0 0 0 0 0 1 0 0 0 0 0 1 0 0 0 0 0 1 0 0 0 1 0 2 0 0 0 1 0 1 0 1 0 0 0 0 0 0 0 0 0 0 0 1 0 0 0 1 0 0 0 0 0 0 0 0 0 0 0 1 0 1 0 0 0 2 0 0 0 1 0 0 0 1 0 1 0 0 0 0 0 0 0 3 0 1 0 0 0 1 0 0 0 2 0 1 0 1 0 0 0 1 0 1 0 0 0 1 0 0 0 1 0 0 0 2 0 1 0 0 0 0 0 1 0 0 0 1 0 0 0 1 0 1 0 0 0 0 0 0 0 0 0-39 1 0 0 2 0 3 0 0 0 0 0 0 0 0 0 1 0 1 0 0 0 0 0 1 0 1 0 2 0 1 0 1 0 1 0 0 0 1 0 0 0 0 0 0 0 0 0 0 0 1 0 2 0 1 0 0 0 1 0 2 0 0 0 3 0 1 0 0 0 0 0 1 0 3 0 2 0 0 0 0 0 1 0 0 0 1 0 0 0 0 0 1 0 1 0 0 0 1 0 2 0 0 0-39 1 0 0 1 0 0 0 1 0 2 0 0 0 1 0 0 0 1 0 0 0 1 0 0 0 0 0 0 0 4 0 0 0 1 0 0 0 1 0 3 0 1 0 1 0 1 0 1 0 0 0 0 0 0 0 1 0 2 0 1 0 0 0 1 0 0 0 2 0 0 0 0 0 1 0 2 0 0 0 1 0 1 0 0 0 0 0 1 0 3 0 1 0 0 0 1 0-38 1 0 0 0 0 1 0 1 0 0 0 2 0 0 0 0 0 0 0 2 0 0 0 0 0 0 0 0 0 1 0 2 0 0 0 1 0 1 0 1 0 0 0 1 0 1 0 1 0 0 0 0 0 1 0 1 0 0 0 1 0 0 0 1 0 2 0 0 0 1 0 1 0 0 0 2 0 0 0 0 0 1 0 0 0 1 0 0 0 2 0 1 0 0 0 1 0 0 0 1 0 1 0 0 0 2 0 1 0 0 0 1 0 1 0 0 0 1 0-38 1 0 0 0 0 1 0 0 0 1 0 0 0 0 0 0 0 2 0 0 0 0 0 1 0 1 0 0 0 0 0 0 0 1 0 0 0 1 0 0 0 0 0 1 0 0 0 1 0 1 0 0 0 1 0 0 0 0 0 1 0 0 0 0 0 0 0 1 0 0 0 2 0 0 0 1 0 0 0 0 0 0 0 2 0 0 0 2 0 1 0 0 0 1 0 0 0 1 0 1 0 0 0 1 0 0 0 1 0 3 0 0 0 2 0 0 0 0 0 1 0 0 0 1 0 0 0 0 0 1 0 0 0 0 0 1 0 0 0 2 0 0 0 0 0-39 1 1 0 0 0 1 0 0 0 0 0 1 0 1 0 0 0 0 0 1 0 2 0 2 0 0 0 1 0 0 0 1 0 1 0 1 0 0 0 0 0 1 0 1 0 1 0 0 0 0 0 0 0 0 0 0 0 0 0 1 0 0 0 0 0 0 0 1 0 0 0 1 0 0 0 1 0 0 0 1 0 0 0 0 0 0 0 1 0 0 0 0 0 1 0 0 0 0 0 1 0 1 0 0 0 0 0 1 0 0 0 0 0 0 0 0 0 0 0 1 0 0 0 3 0 0 0 0 0 0 0 1 0 1 0 0 0 1 0 1 0 0 0 2 0 1 0 0 0 0 0 1 0 1 0 0 0-39 1 1 0 1 0 3 0 0 0 1 0 0 0 1 0 1 0 0 0 4 0 0 0 1 0 1 0 2 0 3 0 0 0 2 0 0 0 0 0 0 0 1 0 1 0 0 0 1 0 0 0 0 0 0 0 2 0 0 0 0 0 0 0 0 0 0 0 1 0 1 0 1 0 1 0 0 0 2 0 0 0 0 0 1 0 1 0 0 0 1 0 1 0 1 0-37 1 3 0 0 0 2 0 2 0 1 0 1 0 1 0 2 0 1 0 2 0 1 0 0 0 2 0 1 0 1 0 0 0 1 0 2 0 0 0 1 0 2 0 1 0 4 0 2 0 0 0 2 0 0 0 1 0 1 0 1 0 0 0 0 0-38 1 0 0 1 0 0 0 2 0 1 0 0 0 1 0 0 0 0 0 1 0 2 0 2 0 1 0 0 0 0 0 1 0 0 0 2 0 1 0 0 0 0 0 0 0 0 0 1 0 0 0 0 0 1 0 0 0 1 0 0 0 1 0 0 0 1 0 1 0 0 0 1 0 1 0 3 0 0 0 1 0 1 0 0 0 1 0 0 0 1 0 0 0 2 0 1 0 0 0 1 0 1 0 0 0 0 0 2 0 0 0 0 0 0 0 1 0 0 0 1 0 0 0-39 1 0 0 0 0 0 0 1 0 1 0 0 0 0 0 0 0 0 0 0 0 1 0 1 0 0 0 0 0 1 0 0 0 1 0 0 0 1 0 0 0 1 0 0 0 0 0 2 0 0 0 0 0 1 0 2 0 0 0 0 0 1 0 0 0 1 0 0 0 0 0 0 0 1 0 1 0 0 0 0 0 0 0 0 0 1 0 1 0 0 0 1 0 1 0 0 0 0 0 1 0 1 0 0 0 0 0 0 0 0 0 1 0 1 0 0 0 1 0 1 0 0 0 1 0 0 0 1 0 0 0 0 0 0 0 1 0 0 0 0 0 0 0 1 0 0 0 0 0 1 0 0 0 0 0 0 0 3 0 0 0 0 0 0 0 1 0 1 0 1 0 0 0 0 0 1 0 0 0-39 1 0 0 0 0 0 0 3 0 0 0 2 0 0 0 0 0 1 0 0 0 1 0 0 0 0 0 1 0 0 0 0 0 0 0 1 0 0 0 0 0 0 0 0 0 0 0 0 0 1 0 1 0 1 0 0 0 1 0 0 0 1 0 1 0 0 0 0 0 1 0 0 0 0 0 0 0 1 0 0 0 1 0 0 0 0 0 0 0 1 0 1 0 0 0 0 0 3 0 0 0 0 0 0 0 0 0 0 0 1 0 0 0 0 0 0 0 1 0 1 0 0 0 1 0 0 0 0 0 0 0 0 0 1 0 0 0 1 0 0 0 0 0 1 0 0 0 0 0 0 0 1 0 0 0 0 0 0 0 1 0 0 0 0 0 1 0 0 0 1 0 0 0 0 0 0 0 1 0 0 0 0 0 2 0 0 0 1 0 0 0 1 0-39 1 0 0 0 0 0 0 1 0 0 0 1 0 1 0 0 0 0 0 1 0 0 0 0 0 1 0 1 0 3 0 0 0 1 0 0 0 1 0 0 0 1 0 0 0 0 0 1 0 1 0 0 0 2 0 1 0 0 0 3 0 1 0 0 0 0 0 1 0 0 0 0 0 2 0 1 0 0 0 1 0 0 0 0 0 0 0 1 0 0 0 0 0 1 0 1 0 1 0 1 0 1 0 0 0 2 0 0 0 1 0 1 0 1 0 0 0 1 0 0 0 1 0-38 1 0 0 0 0 3 0 2 0 0 0 1 0 1 0 2 0 2 0 1 0 0 0 0 0 0 0 2 0 3 0 5 0 1 0 5 0 1 0 0 0 1 0 1 0 5 0 0 0 0 0 1 0 1 0-39 1 1 0 4 0 2 0 0 0 3 0 0 0 0 0 1 0 1 0 0 0 0 0 1 0 2 0 2 0 8 0 1 0 0 0 0 0 1 0 1 0 0 0 4 0 1 0 0 0 1 0 1 0 0 0 0 0 2 0 1 0 1 0-39 1 0 0 1 0 0 0 0 0 2 0 0 0 1 0 0 0 1 0 1 0 0 0 0 0 0 0 1 0 0 0 0 0 1 0 1 0 0 0 0 0 1 0 0 0 1 0 1 0 1 0 0 0 1 0 0 0 0 0 0 0 1 0 0 0 1 0 0 0 0 0 1 0 0 0 0 0 1 0 0 0 0 0 1 0 2 0 0 0 1 0 1 0 1 0 0 0 1 0 0 0 0 0 0 0 1 0 1 0 0 0 1 0 0 0 1 0 0 0 1 0 2 0 0 0 1 0 0 0 0 0 1 0 0 0 0 0 0 0 0 0 0 0 0 0 1 0 0 0 0 0 2 0 0 0 0 0 1 0 1 0 0 0-39 1 0 0 0 0 0 0 1 0 0 0 0 0 0 0 0 0 1 0 0 0 1 0 0 0 1 0 1 0 0 0 0 0 0 0 0 0 1 0 1 0 0 0 0 0 1 0 0 0 2 0 0 0 0 0 0 0 0 0 0 0 1 0 0 0 0 0 0 0 2 0 0 0 1 0 0 0 0 0 1 0 0 0 0 0 0 0 1 0 0 0 0 0 0 0 0 0 1 0 1 0 0 0 0 0 1 0 0 0 0 0 0 0 1 0 0 0 1 0 0 0 0 0 1 0 0 0 1 0 0 0 0 0 1 0 1 0 0 0 0 0 1 0 1 0 0 0 1 0 0 0 0 0 1 0 0 0 0 0 1 0 0 0 0 0 0 0 0 0 0 0 1 0 0 0 0 0 1 0 0 0 0 0 0 0 2 0 0 0 1 0 0 0 0 0 1 0 0 0 1 0 0 0 0 0 0 0 0 0 1 0 0 0 0 0 0 0 0 0 1 0 0 0-39 1 0 0 0 0 0 0 0 0 1 0 0 0 0 0 2 0 0 0 0 0 0 0 0 0 1 0 0 0 0 0 0 0 1 0 0 0 1 0 0 0 1 0 0 0 1 0 0 0 0 0 0 0 2 0 1 0 0 0 0 0 0 0 0 0 1 0 0 0 0 0 0 0 1 0 1 0 0 0 0 0 0 0 1 0 1 0 0 0 0 0 0 0 0 0 0 0 0 0 0 0 1 0 0 0 0 0 0 0 1 0 0 0 1 0 0 0 1 0 0 0 1 0 0 0 0 0 0 0 0 0 1 0 1 0 1 0 0 0 0 0 1 0 0 0 1 0 0 0 0 0 1 0 0 0 0 0 0 0 1 0 0 0 1 0 0 0 0 0 1 0 0 0 2 0 0 0 0 0 0 0 1 0 1 0 0 0 1 0 1 0 0 0 0 0 0 0 1 0 0 0 0 0 0 0 0 0 2 0 0 0-39 1 0 0 0 0 0 0 1 0 0 0 2 0 1 0 3 0 1 0 1 0 0 0 0 0 0 0 1 0 0 0 0 0 0 0 1 0 1 0 0 0 0 0 1 0 2 0 1 0 0 0 3 0 0 0 1 0 0 0 1 0 1 0 0 0 0 0 1 0 1 0 0 0 1 0 1 0 0 0 0 0 1 0 1 0 0 0 1 0 0 0 2 0 0 0 1 0 0 0 1 0 3 0 0 0 0 0 1 0 0 0 0 0 1 0 1 0 0 0 0 0-39 1 1 0 0 0 1 0 1 0 4 0 4 0 4 0 0 0 1 0 5 0 0 0 1 0 2 0 3 0 5 0 3 0-34 1 1 0 1 0 1 0 3 0 1 0 7 0 1 0 3 0 2 0 3 0 0 0 4 0 2 0 1 0 1 0 4 0 0 0 3 0-39 1 2 0 1 0 0 0 0 0 1 0 2 0 0 0 0 0 1 0 0 0 0 0 1 0 0 0 0 0 3 0 0 0 3 0 1 0 0 0 1 0 0 0 2 0 0 0 1 0 0 0 1 0 2 0 0 0 3 0 3 0 2 0 1 0 2 0 0 0 0 0 1 0 1 0 1 0 1 0 1 0-38 1 0 0 0 0 2 0 0 0 0 0 1 0 1 0 0 0 1 0 0 0 0 0 1 0 0 0 1 0 0 0 0 0 0 0 0 0 1 0 0 0 0 0 0 0 0 0 1 0 0 0 1 0 0 0 0 0 0 0 1 0 0 0 0 0 0 0 0 0 0 0 0 0 1 0 1 0 0 0 1 0 0 0 1 0 0 0 0 0 1 0 0 0 1 0 1 0 0 0 0 0 0 0 1 0 0 0 0 0 2 0 0 0 1 0 0 0 0 0 1 0 0 0 0 0 1 0 0 0 0 0 1 0 0 0 0 0 0 0 0 0 1 0 0 0 1 0 0 0 0 0 1 0 0 0 0 0 1 0 1 0 0 0 0 0 1 0 0 0 0 0 1 0 1 0 0 0 1 0 0 0 0 0 0 0 0 0 1 0 0 0 0 0 0 0 0 0 0 0 1 0 0 0 1 0 0 0 1 0 1 0 0 0 0 0-39 1 0 0 0 0 0 0 0 0 1 0 0 0 0 0 0 0 0 0 1 0 0 0 0 0 0 0 1 0 0 0 0 0 1 0 1 0 0 0 0 0 0 0 0 0 1 0 0 0 1 0 0 0 0 0 1 0 0 0 0 0 0 0 2 0 0 0 0 0 0 0 1 0 0 0 1 0 0 0 0 0 0 0 0 0 1 0 0 0 0 0 0 0 0 0 0 0 1 0 0 0 0 0 1 0 0 0 1 0 0 0 0 0 1 0 0 0 0 0 1 0 0 0 0 0 0 0 1 0 0 0 0 0 0 0 0 0 1 0 0 0 0 0 1 0 0 0 0 0 0 0 0 0 0 0 0 0 1 0 0 0 0 0 0 0 1 0 0 0 1 0 0 0 0 0 0 0 2 0 0 0 0 0 0 0 0 0 1 0 0 0 0 0 0 0 0 0 0 0 1 0 0 0 1 0 0 0 0 0 1 0 0 0 1 0 0 0 0 0 0 0 1 0 0 0 0 0 1 0 0 0 1 0 0 0 0 0 0 0 0 0 1 0 0 0 0 0 1 0 0 0 0 0 0 0 1 0 0 0 0 0 1 0 0 0 0 0 1 0 0 0 0 0 0 0 0 0-39 1 0 0 0 0 0 0 2 0 0 0 0 0 0 0 1 0 0 0 1 0 1 0 1 0 0 0 0 0 1 0 0 0 0 0 0 0 2 0 1 0 1 0 0 0 0 0 0 0 1 0 1 0 0 0 1 0 0 0 0 0 0 0 0 0 0 0 0 0 1 0 0 0 1 0 0 0 0 0 0 0 0 0 0 0 0 0 1 0 1 0 0 0 0 0 0 0 0 0 0 0 0 0 0 0 1 0 0 0 0 0 1 0 1 0 0 0 0 0 1 0 0 0 1 0 0 0 0 0 1 0 0 0 1 0 0 0 0 0 0 0 0 0 0 0 1 0 0 0 0 0 1 0 0 0 1 0 1 0 0 0 0 0 0 0 0 0 0 0 0 0 1 0 0 0 1 0 0 0 0 0 1 0 1 0 0 0 1 0 0 0 0 0 1 0 0 0 0 0 0 0 2 0 0 0 0 0 1 0 1 0 0 0 0 0 0 0 0 0-39 1 0 0 1 0 1 0 1 0 1 0 1 0 0 0 0 0 1 0 1 0 0 0 0 0 1 0 0 0 1 0 2 0 2 0 1 0 1 0 2 0 1 0 0 0 1 0 0 0 0 0 1 0 1 0 0 0 1 0 0 0 3 0 0 0 0 0 1 0 0 0 0 0 1 0 1 0 0 0 0 0 0 0 0 0 4 0 0 0 0 0 0 0 0 0 1 0 3 0 1 0 1 0 0 0 0 0 1 0-39 1 2 0 0 0 0 0 0 0 2 0 3 0 3 0 0 0 5 0 8 0 1 0 6 0 2 0 3 0 2 0 1 0-35 1 1 0 3 0-6 1 0 0 2 0 3 0 0 0 1 0 0 0 6 0 1 0 2 0 1 0 1 0 1 0 0 0 3 0 1 0 2 0 0 0 4 0 2 0 1 0 2 0 1 0-35 1 1 0 1 0 1 0 0 0 0 0 0 0 2 0 0 0 1 0 0 0 0 0 0 0 0 0 1 0 0 0 1 0 1 0 0 0 0 0 0 0 0 0 0 0 0 0 1 0 0 0 0 0 0 0 1 0 1 0 0 0 0 0 2 0 0 0 0 0 1 0 0 0 0 0 2 0 0 0 1 0 0 0 3 0 1 0 0 0 1 0 1 0 0 0 1 0 1 0 1 0 1 0 2 0 0 0 0 0 0 0 1 0 1 0 0 0 0 0 2 0 0 0 1 0 1 0 0 0 2 0 0 0-38 1 1 0 0 0 1 0 1 0 0 0 0 0 1 0 0 0 0 0 0 0 0 0 1 0 0 0 0 0 1 0 0 0 0 0 0 0 0 0 1 0 0 0 0 0 0 0 0 0 1 0 0 0 1 0 0 0 0 0 1 0 0 0 0 0 0 0 1 0 0 0 0 0 0 0 0 0 1 0 0 0 0 0 1 0 0 0 0 0 0 0 1 0 0 0 0 0 1 0 0 0 0 0 1 0 0 0 0 0 0 0 1 0 0 0 1 0 0 0 0 0 0 0 1 0 0 0 0 0 1 0 0 0 0 0 0 0 0 0 1 0 0 0 0 0 1 0 0 0 0 0 0 0 0 0 0 0 1 0 0 0 0 0 0 0 0 0 1 0 0 0 2 0 1 0 0 0 1 0 1 0 0 0 0 0 1 0 0 0 1 0 0 0 0 0 1 0 0 0 0 0 1 0 0 0 0 0 0 0 0 0 0 0 1 0 0 0 0 0 1 0 0 0 0 0 1 0 0 0 1 0 0 0 0 0 0 0 0 0 0 0 1 0 0 0 0 0 0 0 1 0 0 0-39 1 1 0 0 0 0 0 0 0 1 0 0 0 0 0 0 0 0 0 1 0 0 0 0 0 0 0 0 0 0 0 1 0 0 0 0 0 1 0 0 0 0 0 0 0 0 0 1 0 0 0 0 0 1 0 0 0 0 0 0 0 0 0 1 0 0 0 0 0 0 0 1 0 0 0 0 0 0 0 0 0 1 0 0 0 0 0 0 0 1 0 0 0 0 0 0 0 0 0 0 0 0 0 1 0 0 0 0 0 1 0 0 0 1 0 0 0 1 0 0 0 1 0 0 0 1 0 0 0 0 0 0 0 0 0 0 0 0 0 0 0 0 0 0 0 1 0 0 0 0 0 0 0 0 0 0 0 0 0 0 0 0 0 1 0 1 0 0 0 0 0 0 0 0 0 0 0 0 0 0 0 0 0 0 0 1 0 0 0 0 0 0 0 1 0 0 0 0 0 0 0 0 0 1 0 0 0 0 0 0 0 0 0 0 0 1 0 0 0 0 0 0 0 0 0 1 0 0 0 0 0 0 0 0 0 1 0 0 0 0 0 1 0 0 0 0 0 0 0 1 0 0 0 0 0 0 0 1 0 0 0 0 0 0 0 1 0 0 0 0 0 0 0 1 0 0 0 0 0 0 0 0 0 0 0 0 0 1 0 0 0 0 0 1 0 0 0 0 0 0 0 0 0 0 0 0 0 0 0 1 0 0 0 0 0 0 0 0 0 0 0 0 0 0 0 1 0 0 0 0 0 0 0 0 0 2 0 0 0 0 0 1 0 1 0 0 0-39 1 0 0 1 0 0 0 0 0 0 0 1 0 0 0 0 0 0 0 1 0 0 0 1 0 1 0 0 0 1 0 0 0 0 0 0 0 0 0 0 0 1 0 0 0 0 0 0 0 0 0 1 0 0 0 0 0 0 0 1 0 0 0 0 0 0 0 1 0 1 0 1 0 1 0 0 0 0 0 0 0 1 0 0 0 0 0 1 0 0 0 0 0 2 0 0 0 1 0 0 0 0 0 0 0 0 0 0 0 1 0 0 0 1 0 0 0 0 0 0 0 1 0 0 0 0 0 0 0 0 0 1 0 0 0 0 0 1 0 1 0 0 0 0 0 0 0 2 0 0 0 1 0 0 0 0 0 1 0 0 0 0 0 1 0 1 0 1 0 0 0 0 0 0 0 1 0 1 0 0 0 0 0 1 0 0 0 0 0 0 0 0 0 0 0 0 0 1 0 0 0 0 0 1 0 0 0 0 0 0 0 0 0 0 0 0 0 1 0 0 0 0 0 0 0 0 0 0 0 0 0 1 0 0 0 0 0 1 0 0 0 0 0-39 1 1 0 0 0 0 0 1 0 0 0 1 0 0 0 0 0 0 0 0 0 0 0 0 0 0 0 1 0 0 0 1 0 1 0 0 0 1 0 0 0 2 0 0 0 1 0 1 0 0 0 1 0 1 0 0 0 1 0 1 0 1 0 0 0 0 0 0 0 3 0 1 0 0 0 2 0 0 0 5 0 1 0 0 0 0 0 0 0 1 0 0 0 1 0 0 0 0 0 1 0 0 0 0 0 1 0 0 0 1 0 2 0 1 0 0 0 1 0 1 0-35 1 3 0 2 0 0 0 0 0 1 0 1 0 5 0 0 0 9 0 1 0 3 0 2 0 5 0 2 0 2 2-27 3 25 0-17 1 2 1-16 2 14 0 3 0 0 0 12 0-12 5-20 2 4 0 3 1 10 0 7 1-8 1 12 0-6 1 14 0-30 10-8 1 14 0 23 0-25 2-12 1 2 0 0 0 6 0 29 0-15 15 6 1-18 1-3 1 1 1 26 0-19 1-16 1 11 1 28 0-39 28 13 0-13 1 30 0 5 0 1 0-2 1-16 1-16 1 1 1" fill="none"/>
<rect x="444.5" y="1410.9" width="40" height="6" rx="3.0" fill="#00ba38" fill-opacity="1.00"/><rect x="444.5" y="1376" width="40" height="6" rx="3.0" fill="#00ba38" fill-opacity="0.80"/><rect x="444.5" y="1341.2" width="40" height="6" rx="3.0" fill="#00ba38" fill-opacity="0.60"/><path class="k1" d="M481 1190l-8 1-27 1 0 1 2 1 22 0-6 1-13 1 17 0-23 1 8 0 1 1 1 0 10 1 12 0-12 1 2 0 7 0-25 1 4 1 4 0 5 0 10 0-2 1 2 0 12 0-39 1 24 0 13 0-37 1 17 0 4 0 12 0-30 1 4 0 2 0 20 0-15 1 24 0-31 1 1 0 9 0 13 0 2 0-27 1 9 0 16 0 6 0-30 1 1 0 0 0 26 0 4 0-17 1 1 0 0 0-21 1 2 0 8 0 1 0 1 0 4 0 13 0-24 1 2 0 1 0 25 0 2 0-24 1 5 0 5 0 14 0-35 1 2 0 13 0 7 0 5 0-17 1 5 0 1 0 9 0 7 0 1 0-31 1 16 0 2 0 11 0 3 0-32 1 5 0 12 0 3 0 10 0 4 0 3 0-27 1 1 0 1 0 10 0 2 0 5 0-30 1 3 0 13 0 20 0-31 1 2 0 6 0 4 0 15 0 6 0 0 0-39 1 5 0 9 0 0 0 1 0 2 0 5 0 15 0-37 1 5 0 9 0 1 0 4 0 8 0-23 1 8 0 6 0 14 0 2 0 3 0 2 0 0 0-37 1 10 0 2 0 9 0 2 0 3 0 1 0-27 1 8 0 4 0 2 0 10 0-20 1 2 0 8 0 9 0 1 0 4 0 0 0 3 0 4 0-36 1 4 0 0 0 1 0 10 0 1 0 3 0 17 0-37 1 6 0 1 0 8 0 6 0 1 0 4 0 2 0 5 0-33 1 3 0 7 0 6 0 8 0 5 0 1 0 9 0-35 1 2 0 16 0 2 0 2 0 4 0 2 0 1 0-33 1 1 0 14 0 0 0 7 0 6 0 0 0 11 0-32 1 0 0 3 0 4 0 4 0 9 0 3 0 3 0 5 0-36 1 9 0 0 0 11 0 1 0 1 0 2 0 13 0 0 0-38 1 6 0 1 0 11 0 5 0 7 0 1 0 7 0-38 1 20 0 3 0 4 0 1 0 4 0 6 0 0 0-38 1 1 0 6 0 11 0 2 0 1 0 0 0 2 0 2 0-24 1 4 0 1 0 18 0 1 0 4 0 1 0 4 0-30 1 2 0 1 0 20 0 4 0 1 0 4 0-37 1 1 0 5 0 0 0 2 0 2 0 1 0 9 0 10 0-29 1 1 0 5 0 3 0 1 0 18 0 6 0 2 0-30 1 1 0 3 0 2 0 1 0 6 0 7 0 0 0 1 0 11 0-36 1 11 0 3 0 5 0 2 0 8 0 4 0 1 0 2 0-39 1 6 0 7 0 7 0 16 0 1 0 1 0-26 1 3 0 2 0 2 0 2 0 12 0 5 0 1 0-36 1 0 0 2 0 6 0 0 0 0 0 5 0 17 0 4 0-35 1 2 0 0 0 7 0 2 0 2 0 4 0 3 0 0 0 1 0 16 0-38 1 1 0 8 0 2 0 11 0 5 0 5 0 6 0-38 1 5 0 5 0 2 0 3 0 2 0 3 0 10 0-31 1 0 0 7 0 1 0 6 0 3 0 1 0 2 0 3 0 2 0 8 0-28 1 12 0 0 0 3 0 1 0 6 0 1 0 6 0-34 1 4 0 1 0 2 0 9 0 11 0 8 0 1 0 2 0-38 1 8 0 1 0 5 0 9 0 3 0 4 0 2 0 2 0 3 0-31 1 0 0 4 0 0 0 2 0 5 0 1 0 1 0 3 0 12 0 3 0-32 1 3 0 0 0 1 0 2 0 9 0 2 0 7 0 4 0 2 0-30 1 3 0 1 0 2 0 1 0 6 0 5 0 2 0 2 0-23 1 2 0 10 0 1 0 5 0 0 0 12 0 0 0-32 1 1 0 3 0 9 0 1 0 1 0 4 0 14 0 0 0-35 1 5 0 7 0 2 0 1 0 1 0 5 0 1 0 2 0 5 0 5 0-34 1 0 0 10 0 6 0 2 0 11 0 4 0 2 0 4 0-37 1 3 0 1 0 3 0 11 0 11 0 4 0-32 1 2 0 1 0 0 0 10 0 0 0 7 0 4 0 1 0 1 0 5 0 1 0-34 1 6 0 1 0 1 0 3 0 2 0 0 0 8 0 4 0 7 0 3 0-36 1 2 0 1 0 6 0 0 0 7 0 1 0 16 0-28 1 1 0 1 0 0 0 1 0 9 0 12 0 5 0 0 0 1 0 2 0-25 1 0 0 2 0 8 0 5 0 2 0 6 0 0 0 1 0 2 0-31 1 8 0 1 0 5 0 2 0 4 0 0 0 8 0 1 0-26 1 3 0 2 0 1 0 1 0 2 0 0 0 4 0 1 0 0 0 12 0 2 0-34 1 9 0 1 0 2 0 10 0 10 0 0 0 2 0-36 1 2 0 11 0 7 0 1 0 7 0 8 0 1 0-39 1 0 0 5 0 1 0 2 0 0 0 2 0 5 0 0 0 3 0 0 0 3 0 15 0-34 1 1 0 6 0 8 0 5 0 1 0 1 0 7 0 7 0-36 1 2 0 8 0 7 0 1 0 0 0 2 0 2 0 3 0 0 0 3 0 5 0-27 1 9 0 0 0 2 0 4 0 0 0 3 0 9 0 2 0 2 0-36 1 4 0 0 0 2 0 2 0 2 0 5 0 9 0 4 0 2 0 1 0 5 0-38 1 15 0 0 0 1 0 2 0 2 0 0 0 1 0 5 0 11 0-29 1 2 0 1 0 3 0 2 0 1 0 3 0 2 0 4 0 6 0 5 0 1 0-39 1 6 0 4 0 6 0 1 0 4 0 2 0 3 0 7 0 6 0-31 1 1 0 3 0 8 0 0 0 3 0 3 0 1 0 1 0 10 0-36 1 1 0 3 0 4 0 6 0 9 0 4 0 5 0 4 0-37 1 5 0 8 0 0 0 5 0 1 0 2 0 4 0 9 0 1 0 1 0 2 0-37 1 0 0 8 0 0 0 10 0 0 0 4 0 3 0 4 0 2 0-28 1 2 0 1 0 8 0 1 0 3 0 0 0 3 0 0 0 3 0 2 0-26 1 7 0 1 0 1 0 6 0 4 0 0 0 8 0 0 0 4 0 1 0-32 1 1 0 8 0 2 0 4 0 3 0 0 0 1 0 12 0 0 0-32 1 4 0 1 0 4 0 7 0 7 0 0 0 1 0 1 0 1 0 2 0 0 0 0 0-29 1 3 0 0 0 4 0 3 0 3 0 5 0 1 0 13 0 1 0 2 0-35 1 1 0 8 0 1 0 1 0 0 0 0 0 1 0 1 0 1 0 1 0 2 0 2 0 1 0 5 0 4 0 9 0-37 1 14 0 8 0 4 0 2 0 3 0 1 0 2 0 0 0 1 0-36 1 2 0 1 0 4 0 19 0 0 0 3 0-29 1 7 0 8 0 2 0 16 0 0 0-33 1 3 0 1 0 1 0 2 0 2 0 8 0 4 0 13 0 5 0 0 0-36 1 1 0 12 0 1 0 1 0 0 0 2 0 0 0 3 0 2 0 8 0 2 0 3 0 1 0-36 1 2 0 1 0 9 0 2 0 2 0 16 0 0 0 2 0 0 0 2 0-38 1 3 0 9 0 1 0 1 0 6 0 3 0 3 0 10 0-35 1 3 0 3 0 3 0 3 0 1 0 1 0 3 0 3 0 9 0 3 0-27 1 0 0 8 0 1 0 1 0 10 0 2 0 2 0 0 0 5 0-35 1 5 0 0 0 1 0 2 0 3 0 3 0 4 0 5 0 1 0 5 0 0 0 7 0 1 0-37 1 1 0 5 0 0 0 3 0 1 0 6 0 4 0 2 0 2 0 0 0 3 0 4 0 3 0-32 1 5 0 1 0 7 0 3 0 1 0 6 0 2 0 2 0 1 0 1 0 7 0-28 1 4 0-14 1 1 0 1 0 0 0 1 0 8 0 1 0 5 0 2 0 2 0 4 0 3 0 2 0 0 0 7 0-38 1 0 0 1 0 5 0 4 0 1 0 9 0 1 0 0 0 1 0 1 0 3 0 1 0 0 0 3 0 2 0 2 0 4 0-36 1 0 0 3 0 6 0 0 0 1 0 1 0 0 0 4 0 2 0 0 0 2 0 0 0 3 0 1 0 0 0 5 0 2 0 3 0 1 0-30 1 0 0 5 0 6 0 2 0 3 0 7 0-29 1 16 0 5 0 2 0 2 0 6 0 7 0-34 1 8 0 4 0 1 0-14 1 4 0 9 0 3 0 1 0 3 0 5 0 0 0 1 0 1 0 3 0-27 1 12 0 0 0 6 0 4 0 6 0 0 0 1 0-27 1 6 0 3 0 5 0 9 0 1 0-29 1 19 0 3 0 4 0 1 0 7 0-23 1 20 0-18 1-5 1 6 0 3 0 1 0 0 0 2 0 11 0-15 1 1 0 2 0 1 0 1 0 4 0 0 0 2 0 1 0 6 0 2 0-36 1 5 0 1 0 7 0 5 0 1 0 9 0 3 0 1 0-31 1 5 0 9 0 3 0 2 0 3 0 6 0 6 0 1 0-12 1 11 0-8 1-7 2 13 0-35 1 4 0 3 0 8 0 6 0 6 0 3 0 7 0-35 1 2 0 4 0 13 0 1 0 2 0 6 0 0 0-31 1 3 0 1 0 3 0 8 0 1 0 1 0 8 0 1 0 1 0 3 0 0 0-20 1 1 0 23 0-33 1 7 0 12 0 7 0 0 0 10 0-34 2 6 1 24 1-21 1 24 0-34 1 5 0 4 0 7 0 1 0 3 0 8 0 4 0 0 0 3 0-36 1 5 0 2 0 7 0 1 0 0 0 3 0 0 0 6 0 5 0 2 0 0 0 6 0-38 1 9 0 2 0 1 0 1 0 4 0 1 0 1 0 3 0 15 0-28 1 6 0 9 0 4 0 5 0 2 0-24 1 27 1-26 3 22 1-2 2-1 2-8 2-5 1-16 7 3 2 32 0-35 1 3 0 4 0 2 0 11 0 1 0 4 0-27 1 1 0 1 0 2 0 0 0 1 0 0 0 11 0 1 0 6 0 6 0 1 0 1 0 0 0 4 0 1 0 0 0-36 1 1 0 6 0 1 0 14 0 6 0 4 0 0 0-29 1 4 0 10 0 20 0-18 1 5 17 7 0-22 1 23 0-19 1-7 1 6 0 1 0 21 29-7 1-27 1 9 1 0 0 19 1 6 0 5 0-37 2 31 0" fill="none"/>
<rect x="500.5" y="1410.9" width="40" height="6" rx="3.0" fill="#619cff" fill-opacity="0.90"/><path class="k2" d="M533 1069l-29 3 27 8 7 1-25 9-3 1-3 1 18 1-17 2 25 1-26 1-4 1 12 1-14 1 14 1-2 1 27 1-23 1 1 1 22 1 0 1-6 1-30 1 31 1-31 1 31 1-33 1 25 1 9 1-6 1-28 1 22 0 5 1-25 1 1 0 9 1 11 1-11 1 22 0-35 1 39 1-39 1 35 0-9 1 1 0-10 1 0 0-13 1 30 0-23 1 19 0-5 1-4 1-11 1 17 0-14 1 26 0-6 1-21 1 26 0-27 1 23 0-32 1 13 0 5 1 0 0-5 1 11 0-9 1 1 0-14 1 16 0-4 1 23 0-26 1 22 0-30 1 12 0-9 1 8 0-7 1 19 0-14 1 12 0 4 1 6 0-31 1 10 0-15 1 1 0 13 1 16 0-7 1 1 0-24 1 6 0 16 1 3 0-15 1 24 0-23 1 23 0-30 1 10 0 17 0-22 1 7 0 17 0-33 1 22 0 5 1 5 0-30 1 23 0-17 1 1 0 29 0-23 1 7 0 1 0-15 1 25 0-24 1 15 0 5 0 0 1 1 0 3 0-23 1 10 0 5 0-17 1 29 0 0 0-35 1 4 0 24 0-30 1 33 0-32 1 3 0 0 0 1 1 26 0 2 0-30 1 26 0 9 0-29 1 2 0 25 0-31 1 5 0 3 0-4 1 18 0 3 0-28 1 9 0 22 0-32 1 8 0 29 0-23 1 17 0 0 0-20 1 4 0 3 0-3 1 17 0 1 0 2 0-35 1 7 0 2 0 15 0-12 1 0 0 12 0-25 1 1 0 28 0 8 0-16 1 16 0 2 0-38 1 27 0 2 0 3 0-27 1 4 0 2 0-9 1 10 0 26 0-28 1 5 0 2 0-15 1 16 0 10 0 3 0-18 1 16 0 7 0-34 1 13 0 11 0-17 1 10 0 18 0-12 1 0 0 1 0 7 0-24 1 7 0 19 0-33 1 23 0 4 0-8 1 1 0 12 0 2 0-14 1 2 0 2 0-23 1 25 0 0 0-24 1 0 0 24 0-17 1 2 0 16 0-22 1 3 0 3 0 17 0-30 1 5 0 13 0 19 0-35 1 27 0 7 0-25 1 21 0 5 0-36 1 13 0 16 0-26 1 17 0 3 0 4 0-17 1 6 0 21 0-35 1 10 0 0 0 21 0-9 1 1 0 6 0 6 0-26 1 20 0 1 0-32 1 12 0 18 0 5 0-9 1 0 0 5 0-30 1 0 0 15 0 13 0-24 1 1 0 13 0 3 0-23 1 4 0 21 0 11 0-24 1 1 0 13 0 8 0-22 1 8 0 18 0-37 1 15 0 3 0 18 0-38 1 2 0 8 0 24 0-32 1 8 0 13 0 9 0-17 1 8 0 3 0 9 0-35 1 12 0 4 0 8 0-17 1 7 0 3 0 3 0 3 1 3 0 10 0 2 0-37 1 9 0 14 0 10 0-34 1 3 0 12 0 18 0-28 1 9 0 7 0 12 0-30 1 2 0 5 0 24 0-30 1 15 0 4 0 2 0-21 1 5 0 23 0-30 1 16 0 6 0 13 0-36 1 2 0 7 0 1 0-2 1 17 0 4 0-16 1 3 0 1 0 6 0-15 1 20 0 4 0 1 0-31 1 12 0 13 0 11 0-34 1 13 0 0 0 4 0-20 1 6 0 3 0 9 0-19 1 9 0 23 0 4 0-23 1 1 0 12 0 6 0-17 1 6 0 11 0 2 0-30 1 12 0 2 0 18 0-27 1 11 0 9 0 8 0-30 1 16 0 12 0 0 0-24 1 4 0 1 0 22 0-37 1 4 0 17 0 3 0-26 1 21 0 4 0 12 0-36 1 2 0 0 0 24 0-26 1 5 0 5 0 15 0-17 1 1 0 4 0 12 0-21 1 10 0 1 0 6 0-7 1 5 0 3 0 6 0-16 1 1 0 16 0 0 0-21 1 6 0 16 0 7 0-34 1 9 0 2 0 13 0-12 1 0 0 1 0 20 0-33 1 9 0 16 0 10 0-39 1 5 0 5 0 27 0-35 1 4 0 5 0 5 0 3 1 7 0 6 0 2 0-13 1 3 0 5 0 3 0-28 1 11 0 7 0 1 0-18 1 14 0 5 0 6 0-28 1 7 0 1 0 27 0-31 1 1 0 14 0 4 0-19 1 5 0 5 0 6 0 3 0-22 1 6 0 21 0 1 0-28 1 1 0 5 0 20 0-9 1 8 0 1 0 10 0-37 1 10 0 0 0 3 0 13 0-16 1 7 0 13 0 0 0-32 1 5 0 24 0 9 0-36 1 5 0 5 0 3 0 4 0 0 1 1 0 10 0 1 0-30 1 26 0 9 0 1 0-37 1 16 0 12 0 1 0-24 1 11 0 3 0 2 0 3 0-18 1 3 0 4 0 15 0-23 1 3 0 22 0 1 0-17 1 2 0 13 0 5 0-28 1 3 0 4 0 2 0-9 1 4 0 8 0 16 0-24 1 0 0 8 0 11 0 9 0-33 1 7 0 20 0 1 0 4 0-37 1 4 0 3 0 9 0-7 1 7 0 2 0 6 0 3 0 2 0-29 1 12 0 1 0 21 0 3 0-31 1 19 0 3 0 4 0-15 1 17 0-23 1 26 0-9 1 7 0-35 1 3 0 1 0 10 0 1 0 8 0 4 0 7 0-34 1 7 0 8 0 10 0 2 0 1 0-17 1 3 0 5 0 5 0 6 0 9 0-38 1 6 0 23 0 4 0 1 0-34 1 14 0 13 0 3 0 1 0-32 1 0 0 13 0 2 0 5 0 6 0 1 0 3 0 4 0-1 1-23 1 9 0 13 0-29 1 26 0 7 0-30 1 3 0 10 0 8 0 8 0 4 0-32 1 4 0 19 0 1 0-31 1 4 0 5 0 4 0 0 0 6 0 4 0 1 0 9 0 4 0-18 1 16 0 2 0-30 1 7 0 13 0 3 1 6 0-32 1 14 0 14 0 4 0 2 0-25 1 18 0 2 0-27 1 17 0-17 1 2 0 21 0 3 2 2 0-30 1 26 0-16 1 12 0-25 1 8 0 1 0 16 0 2 0 1 0 8 0-36 1 0 0 8 0 18 0 6 0-7 2-24 4 1 0 3 0 2 0 0 0 18 0 5 0 3 0-32 1 9 0 8 0 2 0 0 0-17 1 3 0 0 0 5 0 17 0 3 0 1 0-7 1 2 1-28 4 11 0 8 0 0 0-7 1 3 0 0 0 5 0 9 0 9 0-35 1 9 0 7 0 9 0 10 0-32 1 2 0 2 0 5 0 8 0 2 0 3 0 6 0-19 1 6 0-1 1 17 0-11 5 9 0-23 1 23 0-24 1 2 0 0 0 14 0 2 0 2 0 0 0-29 1 3 0 8 0 0 0 1 0 7 0 5 0-16 1 1 0 2 0 4 0 4 0 6 0-9 1 11 0 9 0-17 11 7 0 9 0-34 1 12 0 13 0-28 1 19 0 14 0-33 1 2 0 4 0 1 0 8 0 4 0 6 0 8 0 6 0-38 1 1 0 25 1 7 0-19 13 8 1-10 1 17 0 7 0-31 1 9 0 2 0 3 0 4 0 1 0 4 0-23 1 1 0 0 0 1 0 3 0 4 0 2 0 4 0 6 0 8 0 1 0 2 0-33 1 5 0 3 0 2 0 3 0 1 0 4 0 5 0 10 0 1 0-18 1 2 0-13 29-10 3 8 1 6 0 14 0 0 1-26 1 20 0-14 1" fill="none"/>
<rect x="576.6" y="1410.9" width="40" height="6" rx="3.0" fill="#f8766d" fill-opacity="1.00"/><rect x="576.6" y="1376" width="40" height="6" rx="3.0" fill="#f8766d" fill-opacity="1.00"/><rect x="576.6" y="1355.6" width="40" height="6" rx="3.0" fill="#f8766d" fill-opacity="1.00"/><rect x="576.6" y="1341.2" width="40" height="6" rx="3.0" fill="#f8766d" fill-opacity="1.00"/><rect x="576.6" y="1330" width="40" height="6" rx="3.0" fill="#f8766d" fill-opacity="1.00"/><rect x="576.6" y="1320.8" width="40" height="6" rx="3.0" fill="#f8766d" fill-opacity="0.80"/><path class="k0" d="M609 1292l-28 3-3 2 8 0 12 0 13 0-20 1 13 0 4 0-27 3 31 1 0 0 3 0-37 1 0 0 0 0 4 0 14 0 10 0-22 1 8 0 11 0-19 1 30 0-27 1 19 0-16 1 15 0 7 0-35 1 8 0 0 0 9 0-16 1 8 0 2 0 4 0 4 0 6 0 1 0 4 0 0 0 2 0 2 0-33 1 0 0 8 0 18 0 6 0-33 1 7 0 7 1 7 0 1 0 6 0-27 1 37 0-36 1 0 0 25 0 3 0-30 1 2 0 5 0 0 0 1 0 1 0 1 0 4 0 18 0 7 0-34 1 5 0 3 0 0 0 1 0 0 0 0 0 3 0 2 0 2 0 8 0 5 0 0 0 3 0-37 1 1 0 2 0 1 0 4 0 4 0 13 0 7 0 3 0 2 0-31 1 4 0 5 0 9 0-2 1 14 1 1 0-37 3 18 2-14 1 8 0 5 0 4 0 11 1-32 3 7 0 7 0 4 0 12 0-21 1-5 2 18 0-18 1-1 1-1 7 3 1 8 0 23 0-16 1 17 0-5 1 2 0-10 1 6 2-5 7-17 2 1 0 28 0-24 1 13 0 2 0-27 1 33 1 1 2-27 14 29 0-18 1 6 0-12 1 15 2-22 1 15 0 15 0 1 0-24 30 2 0 4 0 6 0-9 1 17 0-20 2-6 2 16 0 5 0" fill="none"/>
<rect x="632.6" y="1410.9" width="40" height="6" rx="3.0" fill="#00ba38" fill-opacity="1.00"/><rect x="632.6" y="1376" width="40" height="6" rx="3.0" fill="#00ba38" fill-opacity="1.00"/><rect x="632.6" y="1355.6" width="40" height="6" rx="3.0" fill="#00ba38" fill-opacity="0.80"/><rect x="632.6" y="1341.2" width="40" height="6" rx="3.0" fill="#00ba38" fill-opacity="1.00"/><rect x="632.6" y="1330" width="40" height="6" rx="3.0" fill="#00ba38" fill-opacity="1.00"/><rect x="632.6" y="1320.8" width="40" height="6" rx="3.0" fill="#00ba38" fill-opacity="0.90"/><rect x="632.6" y="1313" width="40" height="6" rx="3.0" fill="#00ba38" fill-opacity="0.80"/><rect x="632.6" y="1306.3" width="40" height="6" rx="3.0" fill="#00ba38" fill-opacity="0.70"/><rect x="632.6" y="1300.4" width="40" height="6" rx="3.0" fill="#00ba38" fill-opacity="0.60"/><rect x="632.6" y="1295.1" width="40" height="6" rx="3.0" fill="#00ba38" fill-opacity="0.60"/><path class="k1" d="M656 1178l5 2-21 1-5 1 18 1 7 0-1 1 6 0-28 1 17 0-10 1 7 0 19 0-30 1 6 0-8 1-1 1 9 0 18 0 1 0-14 1 4 0 17 0-33 1 4 0 6 0 1 0-1 1 2 0 18 0-32 1 14 0 6 0 9 0 4 0-34 1 19 0 2 0-20 1 7 0 11 0 3 0 1 0-15 1 2 0 3 0 8 0-12 1 3 0 2 0 17 0 4 0-29 1 2 0-11 1 7 0 2 0 18 0 7 0 1 0 1 0 3 0 0 0-37 1 8 0 10 0 2 0 1 0 5 0-28 1 4 0 6 0 9 0 19 0 1 0-23 1 4 0 1 0 4 0 1 0 14 0-37 1 4 0 2 0 2 0 15 0 1 0 2 0-24 1 11 0 1 0 12 0 5 0-32 1 6 0 11 0 5 0 3 0 4 0 7 0 1 0-35 1 1 0 3 0 8 0 4 0 3 0-11 1 11 0 0 0 3 0 2 0 2 0 3 0 4 0-33 1 2 0 8 0 1 0 21 0 1 0-27 1 2 0 0 0 4 0 2 0 9 0 0 0-27 1 3 0 8 0 5 0 0 0 7 0 0 0 2 0 11 0-34 1 7 0 5 0 6 0 6 0 1 0 2 0 5 0 2 0-35 1 2 0 5 0 3 0 1 0 7 0 1 0 2 0-20 1 13 0 12 0 1 0 4 0 3 0 1 0-35 1 3 0 1 0 4 0 0 0 9 0 6 0 13 0-37 1 2 0 4 0 0 0 10 0 9 0 7 0 3 0 1 0-32 1 2 0 5 0 3 0 3 0 5 0 0 0 10 0 1 0-30 1 2 0 7 0 1 0 8 0 0 0 2 0 15 0-38 1 2 0 0 0 1 0 1 0 2 0 13 0 4 0 12 0 0 0-33 1 5 0 3 0 0 0 3 0 4 0 1 0 1 0-19 1 2 0 0 0 1 0 11 0 4 0 5 0 0 0 12 0 4 0-38 1 0 0 6 0 11 0 12 0 1 0 4 0-30 1 1 0 5 0 1 0 2 0 5 0 12 0 2 0-25 1 1 0 0 0 1 0 5 0 5 0 7 0 3 0 1 0 0 0 1 0-30 1 2 0 3 0 7 0 2 0 6 0 1 0 9 0-32 1 9 0 3 0 3 0 7 0 2 0 6 0 1 0 7 0-32 1 4 0 2 0 3 0 14 0 3 0 2 0-34 1 0 0 12 0 0 0 5 0 4 0 3 0 0 0 5 0 1 0 6 0 1 0-37 1 2 0 8 0 9 0 4 0 0 0 10 0 4 0 3 0-38 1 2 0 1 0 14 0 0 0 0 0 3 0 12 0 1 0-32 1 5 0 2 0 3 0 3 0 1 0 7 0 10 0 3 0-37 1 2 0 0 0 18 0 4 0 3 0 4 0 2 0 2 0-29 1 0 0 1 0 7 0 1 0 0 0 2 0 1 0 13 0 1 0-32 1 8 0 2 0 3 0 2 0 1 0 10 0 2 0 2 0 5 0 4 0 0 0-39 1 12 0 4 0 4 0 2 0 11 0 1 0-34 1 3 0 3 0 0 0 0 0 1 0 2 0 6 0 5 0 5 0 8 0-33 1 2 0 2 0 2 0 2 0 5 0 11 0 1 0 3 0 1 0-27 1 4 0 5 0 2 0 2 0 0 0 7 0 0 0 7 0 10 0-33 1 1 0 6 0 4 0 5 0 5 0 0 0 0 0 6 0 1 0-28 1 1 0 5 0 1 0 3 0 2 0 3 0 4 0 9 0 2 0 3 0-38 1 1 0 4 0 2 0 0 0 1 0 12 0 1 0 0 0 4 0-25 1 2 0 1 0 7 0 1 0 3 0 0 0 3 0 8 0-25 1 2 0 1 0 15 0 8 0 5 0 2 0 2 0 2 0 0 0-37 1 2 0 5 0 1 0 13 0 1 0 14 0 0 0-34 1 12 0 1 0 1 0 1 0 4 0 3 0 0 0 4 0 7 0 2 0-35 1 1 0 4 0 3 0 3 0 2 0 2 0 1 0 0 0 11 0 7 0 0 0-34 1 1 0 1 0 0 0 3 0 0 0 1 0 15 0 1 0 5 0 6 0-35 1 7 0 1 0 5 0 9 0 2 0 3 0 6 0 0 0 6 0-40 1 0 0 11 0 4 0 7 0 3 0 2 0 2 0 2 0 3 0 2 0 0 0-36 1 3 0 9 0 10 0 2 0 1 0 0 0 6 0 1 0-26 1 1 0 4 0 3 0 2 0 3 0 0 0 0 0 14 0 0 0 1 0 4 0-36 1 5 0 1 0 0 0 4 0 0 0 16 0 6 0 4 0-38 1 3 0 10 0 1 0 6 0 3 0 1 0 7 0 0 0 5 0 1 0-37 1 1 0 2 0 2 0 11 0 2 0 1 0 11 0 0 0 5 0 1 0 3 0-33 1 1 0 3 0 1 0 9 0 2 0 0 0 5 0 6 0 2 0 1 0-30 1 4 0 2 0 10 0 7 0 0 0 0 0 2 0 1 0 4 0 3 0-39 1 11 0 2 0 4 0 0 0 7 0 2 0 0 0 1 0 1 0 4 0 2 0-30 1 6 0 2 0 4 0 2 0 0 0 10 0 3 0 2 0 2 0-32 1 1 0 1 0 1 0 7 0 2 0 5 0 1 0 7 0 1 0 4 0 2 0 1 0-36 1 5 0 8 0 3 0 1 0 1 0 2 0 3 0 4 0 10 0-37 1 2 0 2 0 2 0 5 0 1 0 5 0 2 0 3 0 4 0 4 0 5 0 0 0-31 1 2 0 5 0 2 0 3 0 2 0 4 0 3 0 10 0 1 0 1 0 1 0-38 1 3 0 13 0 2 0 1 0 9 0 4 0 1 0 1 0 0 0-34 1 0 0 3 0 1 0 2 0 2 0 0 0 5 0 1 0 2 0 14 0 7 0-35 1 1 0 6 0 3 0 0 0 4 0 1 0 4 0 3 0 0 0 2 0 7 0 2 0-32 1 13 0 2 0 5 0 4 0 2 0 1 0 2 0 2 0 0 0 3 0 1 0-37 1 2 0 3 0 1 0 1 0 3 0 3 0 0 0 8 0 9 0 4 0 0 0 3 0-34 1 1 0 2 0 0 0 2 0 0 0 3 0 1 0 11 0 2 0 1 0-27 1 2 0 5 0 3 0 0 0 5 0 3 0 5 0 11 0 3 0 1 0 2 0-40 1 4 0 1 0 1 0 2 0 1 0 6 0 5 0 1 0 0 0 11 0 0 0 5 0-34 1 4 0 0 0 6 0 6 0 2 0 3 0 8 0 0 0 1 0-32 1 2 0 0 0 0 0 3 0 2 0 1 0 0 0 4 0 4 0 5 0 0 0 7 0 8 0-33 1 4 0 5 0 1 0 1 0 1 0 2 0 5 0 11 0 0 0-31 1 2 0 0 0 4 0 3 0 2 0 2 0 5 0 3 0 5 0 1 0 0 0 6 0 1 0 1 0-32 1 1 0 3 0 5 0 15 0 1 0 0 0 2 0 4 0-35 1 1 0 2 0 1 0 8 0 1 0 0 0 4 0 1 0 2 0 1 0 2 0 1 0 5 0 1 0-30 1 1 0 0 0 2 0 2 0 7 0 3 0 7 0 6 0 1 0 1 0 3 0 3 0-38 1 9 0 0 0 1 0 2 0 1 0 3 0 1 0 9 0 1 0 8 0 1 0 1 0-36 1 13 0 2 0 7 0 0 0 1 0 0 0 0 0 1 0 0 0 0 0 14 0 0 0-35 1 1 0 8 0 2 0 3 0 2 0 3 0 3 0 0 0 1 0 8 0 4 0-38 1 7 0 2 0 1 0 3 0 0 0 3 0 6 0 2 0 1 0 2 0 1 0 10 0-39 1 1 0 1 0 12 0 2 0 3 0 10 0 3 0 2 0 2 0 2 0 1 0 0 0-37 1 0 0 1 0 5 0 2 0 1 0 3 0 1 0 5 0 3 0 1 0 2 0 9 0 1 0 2 0-38 1 2 0 6 0 4 0 8 0 1 0 1 0 3 0 1 0 5 0 1 0 5 0 0 0 1 0-37 1 4 0 13 0 0 0 2 0 0 0 2 0 5 0 3 0 4 0-32 1 1 0 1 0 4 0 6 0 2 0 2 0 2 0 0 0 2 0 1 0 4 0 0 0 5 0 4 0 0 0-35 1 1 0 1 0 0 0 2 0 2 0 3 0 0 0 1 0 9 0 1 0 6 0-25 1 1 0 0 0 4 0 2 0 1 0 5 0 2 0 0 0 1 0 2 0 0 0 2 0 1 0 2 0 4 0 2 0 1 0 5 0-36 1 3 0 7 0 0 0 1 0 0 0 3 0 0 0 3 0 2 0 0 0 2 0 2 0 2 0 1 0 4 0 2 0 1 0 0 0-33 1 1 0 4 0 1 0 4 0 5 0 1 0 2 0 2 0 0 0 1 0 9 0 1 0 0 0-25 1 11 0 2 0 3 0 0 0 2 0 1 0 1 0 8 0-27 1 14 0 4 0 6 0 5 0-36 1 2 0 5 0 0 0 1 0 3 0 8 0 0 0 6 0 1 0 1 0 4 0 3 0 1 0 1 0-37 1 1 0 3 0 3 0 1 0 0 0 3 0 2 0 4 0 0 0 1 0 4 0 2 0 1 0 1 0 1 0 1 0 3 0 1 0 5 0-36 1 1 0 0 0 4 0 3 0 0 0 4 0 1 0 10 0 1 0 6 0 2 0-23 1 10 0 8 0 2 0 3 0 0 0 3 0 1 0 0 0 1 0-25 1 15 0 4 0 3 0-25 1 1 0 5 0 1 0 4 0 2 0 11 1-25 1 12 0 5 0-18 1 2 0 17 0 2 0 1 1 0 0 7 0-24 2-9 1 19 2 3 0 3 0-23 1 21 0-7 2 13 0-18 2 7 0 16 0-29 3 27 0-22 1 4 0-11 1 24 2-21 1 8 0-4 1-3 2 23 0-22 2 5 0-14 1 19 1-13 1 8 0-12 3 22 0 13 0-3 1-31 1 4 0 16 1-19 1 1 1 9 0 20 6-18 1 5 0-17 1 15 0-5 2-7 1-6 1 9 0 14 1-4 8 10 1-12 2 1 0 8 1-24 1 21 0-17 1-3 14 4 3-6 1 33 0-20 1 19 0-36 1 1 0 2 0 5 0 23 28-6 4-24 1-1 1 18 0 0 0 2 0 3 0 2 0 10 1" fill="none"/>
<rect x="688.6" y="1410.9" width="40" height="6" rx="3.0" fill="#619cff" fill-opacity="0.80"/><rect x="688.6" y="1376" width="40" height="6" rx="3.0" fill="#619cff" fill-opacity="0.60"/><rect x="688.6" y="1341.2" width="40" height="6" rx="3.0" fill="#619cff" fill-opacity="0.60"/><path class="k2" d="M704 1182l-15 3 38 0-35 1 16 1-5 2-6 1 26 0 4 1-29 1 1 1-3 1 24 0 4 0-13 1 17 0-20 1-16 1 2 0 3 0 30 0-10 1-27 1 3 0 29 1-11 1 12 0-6 1 11 0-35 1 26 0 7 0-34 1 8 0-2 1 10 0 8 0-13 1-13 1 6 0 6 0-6 1 16 0 5 0 3 0 8 0-26 2 2 0 4 0-10 1 17 0 4 0-16 1 2 0 7 0-16 1 18 0-8 1 6 0 1 0-17 1 6 0 1 0 7 0-5 1 4 0 4 0 1 0-15 1 27 0-26 1 14 0 10 0-35 1 19 0 3 0 12 0-17 1 14 0 7 0-27 1 1 0 10 0 1 0-21 1 5 0 4 0 3 1 4 0 9 0 7 0-28 1 14 0 3 0-16 1 15 0 13 0 3 0-7 1 2 0-32 1 7 0 15 0 1 0-11 1 13 0 2 0 3 0 0 0-4 1 10 0-36 1 18 0 14 0 0 0 1 0-31 1 31 0-11 1 4 0-20 1 16 0 6 0 5 0-21 1 4 0-2 1 5 0 10 0 2 0 5 0-33 1 10 0 8 0-12 1 24 0 2 0-34 1 12 0 1 0-7 1 10 0 1 0 3 0 5 0 6 0-12 1 8 0 0 0 4 0-31 1 24 0 11 0-27 1 8 0 8 0 6 0-23 1 3 0 9 0 9 0 2 0-20 1 6 0-15 1 31 0 2 0-36 1 0 0 11 0 12 0 7 0 1 0-15 1 5 0-18 1 28 0 2 0-29 1 2 0 3 0 1 0-7 1 1 0 15 0 2 0 6 0 11 0-22 1 3 0-14 1 0 0 22 0-16 1 3 0 3 0 11 0 4 0 6 0-11 1 12 0-29 1 10 0 0 0 1 0 6 0-4 1 2 0 10 0-31 1 0 0 2 0 10 0 2 0-13 1 5 0 7 0 8 0 9 0-26 1 0 0 21 0-5 1 2 0 13 0-39 1 1 0 5 0 27 0 6 0-38 1 1 0 7 0 0 0 1 0 24 0-30 1 5 0 9 0-11 1 2 0 30 0-38 1 14 0 9 0 3 0 2 0-19 1 3 0 22 0 1 0-17 1 1 0 0 0 11 0 0 0 1 0-28 1 22 0 5 0-28 1 2 0 1 0 3 0 17 0 10 0-33 1 8 0 7 0 15 0-11 1 16 0 0 0-34 1 4 0 5 0 10 0 7 0 6 0-31 1 7 0 3 0-7 1 11 0 0 0 2 0-20 1 5 0 15 0 2 0 9 0-11 1 2 0 14 0-37 1 12 0 3 0 11 0 13 0-37 1 7 0 9 0 21 0-36 1 7 0 4 0 4 0 7 0-23 1 23 0 10 0 4 0-38 1 10 0 1 0 2 0 8 0-21 1 2 0 10 0 6 0 3 0 10 0-27 1 15 0 1 0-11 1 1 0 4 0 1 0 12 0 3 0-29 1 18 0 9 0 2 0-23 1 2 0 15 0 2 0 1 0 3 0-26 1 8 0 9 0 5 0 1 0-28 1 2 0 10 0 2 0 11 0 3 0 8 0-28 1 13 0 13 0 2 0-35 1 32 0-31 1 9 0 9 0 1 0 14 0 3 0-38 1 0 0 5 0 1 0 3 0 7 0 10 0 6 0 4 0-35 1 8 0 4 0 2 0 8 0 4 0 6 0-22 1 1 0 13 0 4 0 3 0-14 1 8 0-8 1 3 0 3 0-21 1 2 0 7 0 2 0-6 1 19 0 8 0-28 1 6 0 3 0 10 0 2 0 4 0 3 0-33 1 3 0 6 0 9 0 7 0 8 0 2 0-2 1-30 1 6 0 2 0 3 0 2 0 4 0 17 0-26 1 2 0 3 0 3 0 13 0 4 0-38 1 6 0 4 0 4 0 7 0 2 0 13 0 1 0-35 1 9 0 12 0 4 0 12 0 0 1-28 1-8 1 6 0 8 0 7 0 0 0 3 0 2 0-27 1 3 0 11 0 4 0 1 0 1 0 0 0 1 0 0 0 1 0 14 0-28 1 8 0 1 0 3 0 2 0 5 0 6 0 0 0 1 0-32 1 23 0 9 0 1 0-33 1 2 0 3 0 1 0-9 2 3 0 2 0 7 0 8 0 7 0-12 1 0 0 9 0 1 0 10 0-29 1 1 0 5 0 1 0 0 0 2 0 1 0 0 0 11 0 0 0 0 0 8 0-30 1 3 0 5 0 1 0 1 0 1 0 8 0 6 0 2 0-20 1 8 0 0 0 6 0-4 3 10 0-30 1 11 0-7 1 6 0 6 0 2 0 8 0 10 0-39 1 0 0 4 0 7 0 1 0 3 0 1 0 1 0 8 0 0 0 0 0 9 0 2 0 2 0 1 0 0 0-39 1 1 0 5 0 0 0 12 0 1 0 1 0 8 0 4 0-14 1 17 0-34 1 18 0 11 0-28 3 34 0-34 1 19 0 11 0 4 0-31 1 2 0 4 0 1 0 2 0 2 0 4 0 1 0 4 0 1 0 0 0 0 0 7 0 4 0 2 0-34 1 0 0 9 0 0 0 2 0 0 0 0 0 1 0 2 0 5 0 6 0-30 1 1 0 6 0 1 0 3 0 10 0 5 0-21 1 9 0 15 0 1 0-18 1-6 1 2 5 21 0-23 1 16 0-16 4 22 0-11 9 9 0-13 1 4 0 1 0 1 0 5 0 7 0 5 0-34 1 1 0 8 0 9 0 11 0 5 0-24 1 4 0 2 0 3 0 2 0 4 0 3 0 1 0 7 0-36 1 17 0 10 0-21 1 1 0 1 0 25 0 4 14-31 1-6 1 17 0-16 1 7 3-2 30 17 1 3 0-24 1 11 0 0 1 7 2 13 1" fill="none"/>
<rect x="764.3" y="1410.9" width="40" height="6" rx="3.0" fill="#f8766d" fill-opacity="1.00"/><rect x="764.3" y="1376" width="40" height="6" rx="3.0" fill="#f8766d" fill-opacity="1.00"/><rect x="764.3" y="1355.6" width="40" height="6" rx="3.0" fill="#f8766d" fill-opacity="1.00"/><rect x="764.3" y="1341.2" width="40" height="6" rx="3.0" fill="#f8766d" fill-opacity="1.00"/><rect x="764.3" y="1330" width="40" height="6" rx="3.0" fill="#f8766d" fill-opacity="1.00"/><rect x="764.3" y="1320.8" width="40" height="6" rx="3.0" fill="#f8766d" fill-opacity="1.00"/><rect x="764.3" y="1313" width="40" height="6" rx="3.0" fill="#f8766d" fill-opacity="0.80"/><rect x="764.3" y="1306.3" width="40" height="6" rx="3.0" fill="#f8766d" fill-opacity="0.60"/><path class="k0" d="M769 1278l22 1-26 1 1 0 6 1 2 0-4 1 3 0 11 0-17 1 17 0 3 0-16 1 0 0 31 0-19 1 0 0 11 0-14 1 11 0 8 0-32 1 3 0 0 0 16 0 7 0 2 0-22 1 20 0 8 0-36 1 2 0 4 0 3 0-6 1 7 0 14 0 7 0-25 1 12 0-18 1 8 0 6 0 11 0 6 0 4 0-34 1 5 0 7 0 11 0 5 0 3 0-27 1 6 0 6 0 7 0 1 0 12 0-37 1 3 0 3 0 3 0 1 0 5 0 10 0-21 1 2 0 2 0 20 0-12 1 1 0 1 0 0 0 4 0 0 0 6 0 8 0-34 1 1 0 4 0 3 0 3 0 10 0 3 0 1 0 0 0 3 0 3 0 3 0-27 1 2 0 9 0 1 0 5 0 3 0 4 0 6 0-33 1 0 0 4 0-1 1 19 0 10 0-32 1 1 0 4 0 1 0 0 0 6 0 2 0 4 0 2 0 5 0 1 0 2 0 5 0-38 1 2 0 6 0 10 0 0 0 1 0 1 0 8 0-29 1 6 0 6 0 1 0 2 0 3 0 3 0 5 0 10 0 2 0-28 1 3 0 11 0 0 0 8 0 6 0-33 1 3 0 1 0 18 0 1 3-9 1 11 0-3 2-13 1 3 0 15 0-24 2 3 1 17 0 6 0-17 1 15 0-10 3 7 0-8 1-14 1 13 0 11 0-25 2 5 0 17 2 5 0-17 1-12 4 0 0 3 0 20 0-3 1 7 1 7 0 0 1-10 2 8 0-27 5 13 1-13 1 13 0 2 0 11 0-32 1 11 0-7 3 29 0-26 9 8 0 9 0 2 0-24 2 28 0-13 1 1 0-13 3 6 0-11 14 11 0-14 1 11 0 15 0 2 1-13 2-6 1 10 0 3 2-3 28 16 0-8 1-4 1-23 1 13 0 9 0 15 0-4 2-22 1" fill="none"/>
<rect x="820.3" y="1410.9" width="40" height="6" rx="3.0" fill="#00ba38" fill-opacity="1.00"/><rect x="820.3" y="1376" width="40" height="6" rx="3.0" fill="#00ba38" fill-opacity="0.60"/><path class="k1" d="M830 1161l-7 2 10 0 1 0 1 1 3 0-14 1 36 1-37 1 30 0-2 1-27 1 11 0 9 0-15 1 6 0 0 0 2 0-16 1 37 0-37 1 4 0-1 1 21 0-18 1 2 0 22 0 3 0-23 1 29 0-28 1 1 0 0 0 5 0 0 0-18 1 6 0 8 0 2 0-10 1 5 0 7 0 8 0 13 0-37 1 10 0 8 0-17 1 4 0 24 0 6 0 0 0-32 1 6 0 4 0 3 0 0 0 8 0-24 1 2 0 32 0 0 0-30 1 3 0 7 0 3 0 14 0-32 1 7 0 2 0 4 0 10 0 6 0 2 0 5 0 1 0-16 1 2 0-21 1 4 0 1 0 4 0 3 0 8 0 8 0 5 0-26 1 1 0 1 0 9 0 7 0 1 0 5 0-33 1 30 0 5 0-34 1 4 0 0 0 2 0 13 0 2 0 4 0 5 0 1 0-13 1 8 0 12 0-36 1 17 0 0 0 1 0 7 0 2 0 5 0 1 0 3 0-37 1 5 0 5 0 6 0 4 0 17 0-39 1 7 0 3 0 1 0 9 0 4 0 4 0-25 1 7 0 11 0 4 0 5 0 2 0 1 0-33 1 2 0 1 0 1 0 7 0 10 0 5 0 10 0-30 1 4 0 4 0 10 0 2 0 6 0-32 1 13 0 0 0 12 0 0 0 1 0 5 0 4 0 0 0 2 0 1 0-27 1 2 0 2 0 1 0 1 0 2 0 2 0 1 0 0 0 15 0-30 1 13 0 6 0 6 0-22 1 2 0 2 0 1 0 4 0 1 0 1 0 6 0-18 1 3 0 2 0 1 0 2 0 0 0 4 0 2 0 2 0 3 0 8 0-34 1 2 0 3 0 3 0 0 0 8 0 11 0 6 0 1 0-27 1 4 0 8 0 11 0 3 0-35 1 3 0 3 0 1 0 2 0 3 0 6 0 8 0 6 0 2 0 2 0-37 1 7 0 2 0 5 0 10 0 9 0 1 0 3 0-36 1 0 0 1 0 0 0 4 0 1 0 19 0 3 0 3 0 1 0 6 0-34 1 4 0 4 0 3 0 3 0 3 0 3 0 11 0 2 0 2 0-39 1 6 0 1 0 2 0 7 0 12 0 7 0 1 0 2 0-37 1 6 0 0 0 6 0 1 0 8 0 1 0 1 0 2 0 3 0 6 0-36 1 1 0 15 0 2 0 5 0 1 0 14 0 2 0 0 0-39 1 0 0 8 0 0 0 2 0 3 0 9 0 7 0 1 0 1 0 1 0 5 0-27 1 1 0 3 0 0 0 6 0 12 0 0 0 1 0 1 0 0 0 0 0 4 0-34 1 1 0 4 0 6 0 4 0 1 0 5 0 3 0 1 0 0 0 8 0-37 1 17 0 4 0 6 0 4 0 1 0-32 1 6 0 20 0 1 0 0 0 0 0 1 0 1 0 2 0 4 0-35 1 1 0 4 0 3 0 5 0 5 0 2 0 6 0 1 0 9 0 2 0-34 1 0 0 3 0 4 0 2 0 2 0 4 0 1 0 11 0 0 0-27 1 0 0 3 0 4 0 0 0 5 0 2 0 14 0-32 1 1 0 0 0 2 0 0 0 6 0 0 0 3 0 6 0 4 0 7 0 3 0-30 1 15 0 3 0 1 0 2 0 1 0 1 0 10 0-33 1 2 0 5 0 6 0 3 0 1 0 2 0 1 0 2 0 3 0 2 0 3 0 3 0-34 1 0 0 8 0 6 0 1 0 20 0-35 1 1 0 3 0 2 0 11 0 2 0 6 0 1 0 0 0 2 0 5 0 2 0 2 0-35 1 0 0 1 0 2 0 1 0 16 0 3 0 6 0 4 0-36 1 1 0 2 0 1 0 0 0 3 0 1 0 3 0 0 0 0 0 2 0 3 0 23 0-40 1 10 0 3 0 8 0 7 0 7 0 4 0-32 1 3 0 3 0 0 0 2 0 2 0 6 0 8 0 1 0 1 0 1 0 1 0 5 0-37 1 4 0 0 0 15 0 7 0 1 0 1 0 2 0 0 0 6 0-36 1 6 0 3 0 3 0 1 0 1 0 2 0 1 0 2 0 4 0 1 0 2 0 8 0 2 0-36 1 13 0 0 0 9 0 4 0 0 0 3 0 1 0 5 0-35 1 0 0 3 0 2 0 6 0 2 0 3 0 1 0 4 0 5 0 4 0 3 0 1 0-37 1 4 0 6 0 4 0 8 0 10 0 7 0-37 1 5 0 0 0 1 0 1 0 5 0 2 0 0 0 0 0 20 0 3 0-38 1 0 0 7 0 1 0 1 0 0 0 3 0 2 0 4 0 12 0 0 0 7 0-33 1 3 0 1 0 1 0 1 0 6 0 10 0 4 0 1 0 2 0-33 1 9 0 6 0 0 0 1 0 7 0 6 0 2 0 0 0 1 0 0 0 1 0-30 1 4 0 1 0 6 0 3 0 2 0 2 0 0 0 1 0 5 0 9 0-36 1 0 0 7 0 12 0 2 0 3 0 0 0 3 0 7 0 4 0-38 1 1 0 6 0 1 0 3 0 3 0 1 0 2 0 6 0 9 0 3 0-34 1 2 0 3 0 4 0 1 0 1 0 8 0 13 0 2 0-35 1 0 0 3 0 16 0 0 0 3 0 4 0 2 0 1 0 4 0 1 0-32 1 3 0 1 0 6 0 2 0 0 0 2 0 7 0 3 0 7 0 5 0 0 0-36 1 3 0 2 0 8 0 2 0 3 0 1 0 6 0 2 0 1 0 9 0-36 1 2 0 5 0 5 0 4 0 2 0 1 0 8 0 9 0-39 1 3 0 5 0 3 0 3 0 6 0 6 0 1 0 3 0 2 0 1 0 6 0-37 1 1 0 4 0 7 0 2 0 2 0 5 0 2 0 1 0 0 0 10 0-37 1 1 0 5 0 2 0 2 0 2 0 0 0 2 0 10 0 1 0 9 0 6 0-35 1 0 0 7 0 2 0 2 0 4 0 4 0 7 0 0 0 1 0 6 0-33 1 4 0 0 0 7 0 1 0 5 0 4 0 1 0 3 0 3 0 3 0-26 1 4 0 3 0 0 0 0 0 1 0 7 0 13 0 1 0-35 1 4 0 0 0 12 0 4 0 2 0 2 0 0 0 5 0 1 0 1 0 1 0 0 0 1 0 0 0 3 0-34 1 4 0 1 0 7 0 3 0 2 0 4 0 3 0 8 0 1 0 1 0-39 1 2 0 9 0 3 0 7 0 1 0 9 0 3 0-31 1 4 0 2 0 1 0 0 0 10 0 0 0 4 0 11 0 2 0-35 1 2 0 3 0 7 0 2 0 5 0 4 0 3 0 3 0 5 0 2 0-39 1 2 0 6 0 1 0 4 0 4 0 1 0 1 0 1 0 1 0 0 0 3 0 5 0 1 0 0 0 10 0-29 1 1 0 6 0 4 0 0 0 1 0 1 0 12 0 1 0-36 1 12 0 1 0 1 0 0 0 7 0 1 0 1 0 1 0 3 0 0 0 0 0 4 0 4 0 1 0-30 1 1 0 6 0 4 0 8 0 2 0 8 0 3 0 1 0-34 1 4 0 5 0 2 0 2 0 5 0 0 0 2 0 1 0 2 0 9 0 2 0 0 0-36 1 7 0 2 0 3 0 8 0 1 0 8 0 5 0 0 0 1 0-38 1 1 0 8 0 2 0 6 0 1 0 0 0 1 0 2 0 2 0 1 0 3 0 2 0 6 0 1 0-36 1 2 0 0 0 0 0 5 0 10 0 1 0 1 0 5 0 10 0 4 0-38 1 9 0 0 0 2 0 8 0 4 0 5 0 0 0 5 0 1 0-34 1 1 0 2 0 0 0 3 0 1 0 7 0 9 0 3 0 7 0 1 0 2 0 3 0-37 1 4 0 5 0 7 0 1 0 1 0 0 0 4 0 3 0 2 0 2 0 1 0 5 0 0 0-36 1 6 0 1 0 8 0 4 0 1 0 6 0 3 0-30 1 1 0 3 0 3 0 6 0 1 0 1 0 5 0 1 0 0 0 5 0 0 0 1 0 2 0 2 0 6 0 0 0-34 1 6 0 4 0 2 0 1 0 2 0 2 0 16 0-35 1 2 0 1 0 2 0 2 0 5 0 1 0 7 0 2 0 3 0 5 0 2 0 3 0 2 0-38 1 3 0 1 0 1 0 4 0 7 0 4 0 1 0 3 0 0 0 3 0 4 0 3 0 0 0-20 1 14 0 0 0 9 0-35 1 1 0 3 0 2 0 0 0 2 0 1 0 1 0 1 0 2 0 2 0 5 0 3 0 2 0 3 0 5 0-34 1 9 0 2 0 3 0 0 0 3 0 2 0 5 0 8 0 4 0-37 1 1 0 5 0 2 0 3 0 2 0 2 0 0 0 10 0 1 0 0 0 1 0 10 0 1 0 0 0-34 1 1 0 2 0 0 0 3 0 2 0 5 0 1 0 11 0 1 0-30 1 2 0 2 0 4 0 9 0 7 0 1 0 3 0 2 0 2 0 1 0-31 1 1 0 1 0 2 0 13 0 5 0 1 0 3 0 3 0 0 0 1 0 5 0 0 0 2 0-37 1 2 0 3 0 6 0 4 0 0 0 3 0 4 0 4 0 10 0 1 0-39 1 1 0 3 0 4 0 1 0 2 0 2 0 5 0 4 0 4 0 10 0 0 0-37 1 0 0 8 0 1 0 2 0 4 0 1 0 3 0 10 0 0 0 2 0 5 0-34 1 1 0 5 0 9 0 3 0 9 0 0 0 5 0 2 0 2 0-36 1 3 0 4 0 3 0 1 0 0 0 0 0 3 0 0 0 7 0 3 0 1 0 0 0 3 0 6 0 4 0-37 1 2 0 4 0 4 0 4 0 2 0 7 0 7 0 2 0-22 1 1 0 3 0 2 0 5 0 0 0 3 0 4 0 2 0 1 0 2 0 4 0-40 1 6 0 3 0 4 0 0 0 2 0 4 0 11 0 1 0 2 0 2 0 3 0 2 0-38 1 0 0 3 0 0 0 0 0 4 0 6 0 3 0 7 0 2 0 4 0 1 0 2 0 4 0 1 0-36 1 1 0 2 0 4 0 0 0 3 0 1 0 0 0 1 0 1 0 5 0 1 0 2 0 1 0 1 0 2 0 1 0 2 0 2 0 2 0 0 0 2 0 1 0 1 0-37 1 1 0 1 0 6 0 7 0 6 0 2 0-18 1 2 0 6 0 15 0 1 0 0 0-27 1 8 0 0 0 10 0 5 0 1 0 4 0 2 0 2 0-33 1 3 0 3 0 1 0 2 0 0 0 10 0 1 0 1 0 9 0 0 0 4 0-35 1 0 0 4 0 0 0 4 0 11 0 4 0 1 0 1 0 6 0 1 0-33 1 6 0 5 0 3 0 6 0 1 0 2 0 0 0 1 0 1 0 4 0 1 0 0 0-24 1 10 0 1 0 4 0 5 0 5 0 1 0 0 0 1 0 3 0 1 0-32 1 2 0 7 0 0 0 5 0 3 0 4 0 0 0 0 0 2 0 3 0 0 0 3 0 0 0 3 0 1 0 0 0-38 1 5 0 0 0 1 0 6 0 1 0 1 0 3 0 3 0 6 0 3 0 3 0 2 0 0 0 1 0-35 1 6 0 1 0 2 0 3 0 0 0 1 0 1 0 0 0 7 0 2 0 8 0 1 0 0 0 2 0 1 0 0 0-33 1 7 0 6 0 3 0 1 0 4 0 1 0 4 0 0 0 2 0 0 0 8 0-25 1-11 1 5 0 11 0 1 0 1 0 3 0 1 0 1 0 2 0 5 0-32 1 3 0 11 0 8 0 1 0 1 0 2 0 5 0 2 0 1 0 2 0 2 0-37 1 5 0 0 0 1 0 2 0 1 0 0 0 1 0 4 0 4 0 0 0 3 0 0 0 4 0 1 0 2 0 1 0 1 0 1 0 2 0 4 0-38 1 0 0 1 0 2 0 0 0 1 0 0 0 0 0 4 0 3 0 2 0 2 0 4 0 3 0 13 0-35 1 0 0 1 0 2 0 7 0 1 0 4 0 0 0 3 0 3 0 4 0 5 0 1 0 3 0-16 1-13 1 26 0 4 0 0 0-20 1 7 0 2 0 1 0 8 0 0 0 1 0 3 0-37 1 0 0 0 0 2 0 2 0 8 0 2 0 0 0 3 0 3 0 4 0 1 0 1 0 0 0 9 0 2 0 1 0-33 1 1 0 1 0 5 0 7 0 4 0 5 0 3 0 8 0-34 1 0 0 2 0 2 0 1 0 2 0 1 0 7 0 5 0 5 0 4 0-23 1 11 0 1 0 16 0-4 1-28 1 5 0 0 0 6 0 8 0 7 0-26 1 4 0 1 0 2 0 0 0 9 0 6 0 2 0 0 0 2 0 2 0 2 0 1 0-23 1 1 0 2 0 1 0 9 0 2 0 1 0 6 0 2 0-38 1 3 0 4 0 10 0 7 0 5 0 2 0 4 0 3 0-35 1 7 0 15 0 1 0 4 0 3 1 2 0-33 2 13 0 16 0-25 1 2 0 3 0 1 0 10 0 12 0-36 1 2 0 3 0 1 0 8 0 1 0 0 0 10 0 3 0 2 0 0 0 5 0 2 0 2 0 1 0-35 1 0 0 3 0 5 0 7 0 2 0 16 0-32 1 4 0 2 0 0 0 1 0 10 0 1 0 2 0 3 0-26 1 1 0 24 0 1 0-11 2-8 2 1 0 26 0 3 0-33 1 13 0 6 0 1 0 2 0 2 0-27 1 8 0 15 0 7 0-33 1 3 0 2 0 2 0 1 0 1 0 1 0 1 0 1 0 4 0 0 0 1 0 1 0 1 0 3 0 3 0 9 0 0 0-31 1 7 0 4 0 1 0 2 0 3 0 6 0 2 0 6 0 1 0 1 0 1 0-32 1 1 0 10 0 9 0 2 1-19 4 13 1 5 0-26 2 1 0 2 0 1 0 4 0 2 0 2 0 3 0 22 0 2 0-36 1 5 0 3 0 8 0 5 0 1 0 8 0 1 0 3 0 1 0-38 1 2 0 1 0 0 0 5 0 10 0 1 0 2 0 1 0 2 0 5 0 2 0 0 0 3 0 2 0-37 1 4 0 7 0 7 0 11 0 3 0-12 1-14 9 4 0 23 0-23 1 4 0 1 0 4 0 8 0 2 0 2 0 2 0-30 1 0 0 5 0 7 0 7 0 1 0 1 0 2 0 1 0 8 0 2 0-31 1 3 0 2 0 2 0 8 0 4 0 3 0 7 0 1 0 1 0 2 0-38 1 3 0 1 0 1 0 10 0 9 0 6 0 4 0-27 1 23 0-12 1-7 3 22 10-11 1 15 1-8 1 2 0-20 1 10 31 6 1-15 1 24 0-36 1 38 0-15 1 1 0 4 2-21 1" fill="none"/>
<rect x="876.3" y="1410.9" width="40" height="6" rx="3.0" fill="#619cff" fill-opacity="0.60"/><path class="k2" d="M882 1162l11 1-4 3 16 2-20 3 5 1 20 2 6 0-14 2-7 1-7 1 0 0 1 1 25 1-27 2 5 1 19 0-3 1 8 2-37 2 9 1-4 1 11 1-13 1 11 0 17 0-33 1 5 0 1 1-4 2 10 1 1 0-11 2 14 0 22 1-23 1 24 0-30 1-6 1-3 1 3 0 30 0-15 1 1 0-4 2 14 1 9 0 0 0-27 1 13 1 15 0-33 1 15 0 16 0-37 1 8 1 29 0-9 1 4 0-26 1 25 0-23 1 10 1 3 0 5 0 10 1-16 1 16 0-22 1 4 0 3 0-2 1 5 0-12 1 12 0-23 1 27 0 7 0-25 2 10 0-14 1 8 0 4 0-13 1 33 0-34 1 9 0 11 0-13 1 10 1 4 0 6 1 4 0-23 1 3 0 10 1-15 1 3 0 2 0-3 1 20 0 1 0 4 0-14 1 0 1-21 1 11 0 24 0-21 1 15 0-20 1 12 0 4 1 8 0-4 1-31 1 10 0 8 1 7 0 1 0-21 1 15 0 1 0-1 1 2 0-21 1 32 0-19 1 21 0-35 1 24 1 1 0 3 0 9 0-37 2 15 0 3 0 2 0 19 0-30 1 12 0 17 0-9 2 3 0-22 1 7 0 5 0 3 1 1 0 4 1-25 1 6 0 1 0 9 0 2 1-19 1 18 0 3 0 12 0-5 1-24 1 15 0 6 0-24 1 6 0 16 0-5 1 12 0-33 1 27 0-11 1 7 0-20 1 26 0-22 1 8 0 2 0 5 0 1 0-24 1 3 0 34 1-13 1 10 0-22 1 2 0 5 0 14 0-19 1 6 1-13 1 4 0 17 0-17 1 8 0 14 0-24 1 3 0 27 0-13 1 11 0-28 1 19 0-27 1 31 0-23 1-1 1 11 0 8 0-20 1 17 0 6 1 2 0 2 0-12 1-9 1 11 0 3 0-23 1 9 0 9 0 10 1 5 0 2 0-36 1 29 0 7 0-40 2 10 0 25 0 4 0 1 0 0 0-31 1 25 0 4 0-30 1 0 0 15 2 0 1 1 0 2 0 9 0-14 1 9 0 6 0-9 1 3 0-23 1 20 1-5 1-8 1 4 0 3 0 1 0 4 0 8 0-25 1 5 1 10 0 4 0 2 0 2 0 1 0-10 1 7 1-26 1 2 0 21 0-22 1 1 0 6 0 5 0 0 0 13 0-27 1 2 0 12 0 3 0 16 0-18 1 13 0 4 0-28 3 0 1-4 1 1 0 2 0 16 0 0 0 9 0 0 0 3 0 2 0 1 0 3 0-39 1 5 0 14 0 2 0 2 0-14 1 17 2-17 1 1 1 10 0-19 2 16 0 11 0 7 0 1 0-20 1 0 0 0 1-3 1 25 4-37 1 1 0 20 0 11 0-26 1 18 0 4 0 9 0 0 0-38 1 5 0 16 0 5 0 0 0 9 0-25 1 18 0-13 7 2 0 0 0 16 0-11 1 4 0-20 1 16 0 8 0-19 1 15 0 9 0-33 1 0 0 18 0-9 1 4 0-2 1-12 9 7 0 9 0 1 0 18 0-27 1 10 0-19 1 15 0 1 0 3 0 1 0 3 0 12 0 1 0 2 0-7 1 3 0-34 16 1 1 11 0 19 0 3 0-26 1 6 0 11 0 11 0-10 1 3 0 0 0 0 0 5 0 1 0-34 1 2 0 3 0 1 0 3 0 5 0 5 0 0 0 15 0 0 0-9 1 13 2-29 28 26 0-30 1 22 0-19 3 8 1" fill="none"/>
<line x1="220.8" y1="1379" x2="220.8" y2="1333" stroke="#a6a6a6" stroke-width="1.8"/><polygon points="197.3,1379 244.3,1379 244.3,1410.4 240.8,1413.9 244.3,1417.4 244.3,1413.9 197.3,1413.9 197.3,1417.4 200.8,1413.9 197.3,1410.4" fill="none" stroke="#a6a6a6" stroke-width="1.8" stroke-linejoin="round"/><line x1="200.8" y1="1413.9" x2="240.8" y2="1413.9" stroke="#a6a6a6" stroke-width="3"/>
<line x1="276.8" y1="1256.2" x2="276.8" y2="1151.6" stroke="#a6a6a6" stroke-width="1.8"/><polygon points="253.3,1256.2 300.3,1256.2 300.3,1375.5 296.8,1379 300.3,1382.5 300.3,1413.9 253.3,1413.9 253.3,1382.5 256.8,1379 253.3,1375.5" fill="none" stroke="#a6a6a6" stroke-width="1.8" stroke-linejoin="round"/><line x1="256.8" y1="1379" x2="296.8" y2="1379" stroke="#a6a6a6" stroke-width="3"/>
<line x1="332.8" y1="1293.3" x2="332.8" y2="1113.9" stroke="#a6a6a6" stroke-width="1.8"/><polygon points="309.3,1293.3 356.3,1293.3 356.3,1410.4 352.8,1413.9 356.3,1417.4 356.3,1413.9 309.3,1413.9 309.3,1417.4 312.8,1413.9 309.3,1410.4" fill="none" stroke="#a6a6a6" stroke-width="1.8" stroke-linejoin="round"/><line x1="312.8" y1="1413.9" x2="352.8" y2="1413.9" stroke="#a6a6a6" stroke-width="3"/>
<line x1="408.5" y1="1344.2" x2="408.5" y2="1252.6" stroke="#a6a6a6" stroke-width="1.8"/><polygon points="385,1344.2 432,1344.2 432,1340.7 428.5,1344.2 432,1347.7 432,1413.9 385,1413.9 385,1347.7 388.5,1344.2 385,1340.7" fill="none" stroke="#a6a6a6" stroke-width="1.8" stroke-linejoin="round"/><line x1="388.5" y1="1344.2" x2="428.5" y2="1344.2" stroke="#a6a6a6" stroke-width="3"/>
<line x1="464.5" y1="1277.7" x2="464.5" y2="1189.9" stroke="#a6a6a6" stroke-width="1.8"/><polygon points="441,1277.7 488,1277.7 488,1340.7 484.5,1344.2 488,1347.7 488,1413.9 441,1413.9 441,1347.7 444.5,1344.2 441,1340.7" fill="none" stroke="#a6a6a6" stroke-width="1.8" stroke-linejoin="round"/><line x1="444.5" y1="1344.2" x2="484.5" y2="1344.2" stroke="#a6a6a6" stroke-width="3"/>
<line x1="520.5" y1="1309.3" x2="520.5" y2="1152.7" stroke="#a6a6a6" stroke-width="1.8"/><polygon points="497,1309.3 544,1309.3 544,1410.4 540.5,1413.9 544,1417.4 544,1413.9 497,1413.9 497,1417.4 500.5,1413.9 497,1410.4" fill="none" stroke="#a6a6a6" stroke-width="1.8" stroke-linejoin="round"/><line x1="500.5" y1="1413.9" x2="540.5" y2="1413.9" stroke="#a6a6a6" stroke-width="3"/>
<line x1="562.6" y1="1413.9" x2="629.6" y2="1413.9" stroke="#a8a8a8" stroke-width="2"/>
<line x1="652.6" y1="1316" x2="652.6" y2="1177.5" stroke="#a6a6a6" stroke-width="1.8"/><polygon points="629.1,1316 676.1,1316 676.1,1375.5 672.6,1379 676.1,1382.5 676.1,1413.9 629.1,1413.9 629.1,1382.5 632.6,1379 629.1,1375.5" fill="none" stroke="#a6a6a6" stroke-width="1.8" stroke-linejoin="round"/><line x1="632.6" y1="1379" x2="672.6" y2="1379" stroke="#a6a6a6" stroke-width="3"/>
<line x1="708.6" y1="1333" x2="708.6" y2="1212.4" stroke="#a6a6a6" stroke-width="1.8"/><polygon points="685.1,1333 732.1,1333 732.1,1410.4 728.6,1413.9 732.1,1417.4 732.1,1413.9 685.1,1413.9 685.1,1417.4 688.6,1413.9 685.1,1410.4" fill="none" stroke="#a6a6a6" stroke-width="1.8" stroke-linejoin="round"/><line x1="688.6" y1="1413.9" x2="728.6" y2="1413.9" stroke="#a6a6a6" stroke-width="3"/>
<line x1="784.3" y1="1379" x2="784.3" y2="1336.1" stroke="#a6a6a6" stroke-width="1.8"/><polygon points="760.8,1379 807.8,1379 807.8,1410.4 804.3,1413.9 807.8,1417.4 807.8,1413.9 760.8,1413.9 760.8,1417.4 764.3,1413.9 760.8,1410.4" fill="none" stroke="#a6a6a6" stroke-width="1.8" stroke-linejoin="round"/><line x1="764.3" y1="1413.9" x2="804.3" y2="1413.9" stroke="#a6a6a6" stroke-width="3"/>
<line x1="840.3" y1="1268.5" x2="840.3" y2="1157.4" stroke="#a6a6a6" stroke-width="1.8"/><polygon points="816.8,1268.5 863.8,1268.5 863.8,1375.5 860.3,1379 863.8,1382.5 863.8,1413.9 816.8,1413.9 816.8,1382.5 820.3,1379 816.8,1375.5" fill="none" stroke="#a6a6a6" stroke-width="1.8" stroke-linejoin="round"/><line x1="820.3" y1="1379" x2="860.3" y2="1379" stroke="#a6a6a6" stroke-width="3"/>
<line x1="896.3" y1="1323.8" x2="896.3" y2="1157.4" stroke="#a6a6a6" stroke-width="1.8"/><polygon points="872.8,1323.8 919.8,1323.8 919.8,1410.4 916.3,1413.9 919.8,1417.4 919.8,1413.9 872.8,1413.9 872.8,1417.4 876.3,1413.9 872.8,1410.4" fill="none" stroke="#a6a6a6" stroke-width="1.8" stroke-linejoin="round"/><line x1="876.3" y1="1413.9" x2="916.3" y2="1413.9" stroke="#a6a6a6" stroke-width="3"/>
<line x1="164.5" y1="1049.4" x2="164.5" y2="1432.4" stroke="#000" stroke-width="1.8"/>
<line x1="163.6" y1="1431.6" x2="946.8" y2="1431.6" stroke="#000" stroke-width="1.8"/>
<line x1="158.7" y1="1066.5" x2="164.5" y2="1066.5" stroke="#333" stroke-width="1.4"/>
<text x="153.5" y="1072.5" font-size="17" fill="#4d4d4d" text-anchor="end">1000</text>
<line x1="158.7" y1="1182.3" x2="164.5" y2="1182.3" stroke="#333" stroke-width="1.4"/>
<text x="153.5" y="1188.3" font-size="17" fill="#4d4d4d" text-anchor="end">100</text>
<line x1="158.7" y1="1298.1" x2="164.5" y2="1298.1" stroke="#333" stroke-width="1.4"/>
<text x="153.5" y="1304.1" font-size="17" fill="#4d4d4d" text-anchor="end">10</text>
<line x1="158.7" y1="1413.9" x2="164.5" y2="1413.9" stroke="#333" stroke-width="1.4"/>
<text x="153.5" y="1419.9" font-size="17" fill="#4d4d4d" text-anchor="end">1</text>
<line x1="276.8" y1="1431.6" x2="276.8" y2="1437.5" stroke="#000" stroke-width="1.6"/>
<text x="254.8" y="1462" font-size="29" fill="#000" text-anchor="middle">Library-1</text>
<line x1="464.5" y1="1431.6" x2="464.5" y2="1437.5" stroke="#000" stroke-width="1.6"/>
<text x="451" y="1462" font-size="29" fill="#000" text-anchor="middle">Library-2</text>
<line x1="652.6" y1="1431.6" x2="652.6" y2="1437.5" stroke="#000" stroke-width="1.6"/>
<text x="646" y="1462" font-size="29" fill="#000" text-anchor="middle">Library-3</text>
<line x1="840.3" y1="1431.6" x2="840.3" y2="1437.5" stroke="#000" stroke-width="1.6"/>
<text x="840.6" y="1462" font-size="29" fill="#000" text-anchor="middle">Library-4</text>
<text font-size="32" text-anchor="middle" transform="translate(61 1243) rotate(-90)">Number of CCS reads</text>
<text font-size="32" text-anchor="middle" transform="translate(103.5 1243) rotate(-90)">per 1-kb barcode</text>
<circle cx="930.6" cy="1067.7" r="13" fill="#f8766d"/>
<text x="963" y="1079.2" font-size="31" fill="#1a1a1a">TT</text>
<circle cx="930.6" cy="1108.4" r="13" fill="#00ba38"/>
<text x="963" y="1119.9" font-size="31" fill="#1a1a1a">TN</text>
<circle cx="930.6" cy="1152" r="13" fill="#619cff"/>
<text x="963" y="1163.5" font-size="31" fill="#1a1a1a">NN</text>
<text x="1074.5" y="1045.2" font-size="52" fill="#000" font-weight="bold">d</text>
<polygon points="1290.8,1296.3 1338.2,1296.3 1338.2,1335.7 1333.2,1340.2 1338.2,1344.7 1338.2,1409.7 1290.8,1409.7 1290.8,1344.7 1295.8,1340.2 1290.8,1335.7" fill="#fde8e6"/>
<polygon points="1347.2,1340.2 1394.8,1340.2 1394.8,1361.3 1389.8,1365.8 1394.8,1370.3 1394.8,1409.7 1347.2,1409.7 1347.2,1370.3 1352.2,1365.8 1347.2,1361.3" fill="#e4f5e8"/>
<polygon points="1403.8,1322 1451.2,1322 1451.2,1361.3 1446.2,1365.8 1451.2,1370.3 1451.2,1409.7 1403.8,1409.7 1403.8,1370.3 1408.8,1365.8 1403.8,1361.3" fill="#e9f1fe"/>
<polygon points="1479.5,1252.5 1527,1252.5 1527,1303.4 1522,1307.9 1527,1312.4 1527,1409.7 1479.5,1409.7 1479.5,1312.4 1484.5,1307.9 1479.5,1303.4" fill="#fde8e6"/>
<polygon points="1536,1340.2 1583.5,1340.2 1583.5,1361.3 1578.5,1365.8 1583.5,1370.3 1583.5,1409.7 1536,1409.7 1536,1370.3 1541,1365.8 1536,1361.3" fill="#e4f5e8"/>
<polygon points="1592.5,1340.2 1640,1340.2 1640,1361.3 1635,1365.8 1640,1370.3 1640,1409.7 1592.5,1409.7 1592.5,1370.3 1597.5,1365.8 1592.5,1361.3" fill="#e9f1fe"/>
<polygon points="1669.2,1220.1 1716.7,1220.1 1716.7,1259.5 1711.7,1264 1716.7,1268.5 1716.7,1322 1669.2,1322 1669.2,1268.5 1674.2,1264 1669.2,1259.5" fill="#fde8e6"/>
<polygon points="1725.7,1340.2 1773.2,1340.2 1773.2,1361.3 1768.2,1365.8 1773.2,1370.3 1773.2,1409.7 1725.7,1409.7 1725.7,1370.3 1730.7,1365.8 1725.7,1361.3" fill="#e4f5e8"/>
<polygon points="1782.2,1365.8 1829.7,1365.8 1829.7,1405.2 1824.7,1409.7 1829.7,1414.2 1829.7,1409.7 1782.2,1409.7 1782.2,1414.2 1787.2,1409.7 1782.2,1405.2" fill="#e9f1fe"/>
<polygon points="1857.5,1234.3 1905,1234.3 1905,1291.8 1900,1296.3 1905,1300.8 1905,1365.8 1857.5,1365.8 1857.5,1300.8 1862.5,1296.3 1857.5,1291.8" fill="#fde8e6"/>
<polygon points="1914,1322 1961.5,1322 1961.5,1361.3 1956.5,1365.8 1961.5,1370.3 1961.5,1409.7 1914,1409.7 1914,1370.3 1919,1365.8 1914,1361.3" fill="#e4f5e8"/>
<polygon points="1970.5,1340.2 2018,1340.2 2018,1361.3 2013,1365.8 2018,1370.3 2018,1409.7 1970.5,1409.7 1970.5,1370.3 1975.5,1365.8 1970.5,1361.3" fill="#e9f1fe"/>
<rect x="1295.5" y="1406.7" width="38" height="6" rx="3.0" fill="#f8766d" fill-opacity="1.00"/><rect x="1295.5" y="1362.8" width="38" height="6" rx="3.0" fill="#f8766d" fill-opacity="1.00"/><rect x="1295.5" y="1337.2" width="38" height="6" rx="3.0" fill="#f8766d" fill-opacity="1.00"/><rect x="1295.5" y="1319" width="38" height="6" rx="3.0" fill="#f8766d" fill-opacity="1.00"/><rect x="1295.5" y="1304.9" width="38" height="6" rx="3.0" fill="#f8766d" fill-opacity="1.00"/><rect x="1295.5" y="1293.3" width="38" height="6" rx="3.0" fill="#f8766d" fill-opacity="0.80"/><rect x="1295.5" y="1283.6" width="38" height="6" rx="3.0" fill="#f8766d" fill-opacity="0.60"/><path class="k3" d="M1306 1130l-5 1 17 3-21 1 36 2-32 2 26 1-7 1 9 1-1 1-22 1 9 1 12 0-16 1-1 1-8 1 2 1 28 0-16 1 12 0 4 1-5 1-25 1 29 0-12 1 13 1-12 1 3 0-18 1 26 0-23 1 4 0-3 1 5 0 2 1 16 0-28 1 28 0-35 1 10 0-9 1 12 0 16 0 1 0-30 1 16 0-7 1 15 0-20 1 12 0 12 0-29 1 22 0-1 1 5 0-14 1 19 0 2 0 1 0-14 1 1 0 0 1 9 0 7 0-22 1 7 0 5 0-23 1 0 0 23 0-22 1 4 0 7 0-10 1 0 0 8 0-5 1 8 0 4 0-17 1 27 0 1 0-24 1 8 0 7 0-22 1 20 0 13 0-14 1 14 0 2 0-22 1 0 0 9 0-22 1 9 0 1 0 19 0-26 1 2 0 22 0-25 1 8 0 16 0-25 1 5 0 3 0 18 0-28 1 11 0 19 0 3 0-29 1 0 0 9 0 0 1 3 0 8 0 9 0-31 1 9 0 15 0 1 0-19 1 1 0 25 0-30 1 14 0 9 0 2 0 6 0-23 1 6 0 1 0 0 0-17 1 2 0 4 0 11 0-8 1 3 0 8 0 4 0-22 1 5 0 22 0 2 0-22 1 1 0 1 0 19 0-4 1 1 0-19 1 6 0 2 0 10 0 2 0-27 1 15 0 1 0 7 0 3 0 2 0-16 1 5 0 0 0-7 1 1 0 8 0 5 0-13 1 1 0 10 0 1 0 2 0 0 0-27 1 2 0 3 0 2 0-4 1 0 0 15 0 9 1 4 0 0 0 4 0-28 1 2 0 7 0 3 0 1 0 10 0-23 1 2 0 3 0 10 0 2 0-21 1 14 0 1 0 1 0-19 1 15 0 3 0 2 0 7 0-28 1 21 0 1 0 12 0 3 0-32 1 10 0 6 0 2 0-17 1 6 0 12 0 2 0 10 0-35 1 22 0 11 0-30 1 3 0 4 0 7 0 1 0 5 0 6 0-29 1 3 0 11 0 3 0-15 1 3 0 6 0 3 0 16 0-20 1 7 0 5 0 5 0 4 0 1 0-30 1 11 0 4 0 1 0 11 0 3 0-27 1 9 0 5 0 8 0 5 0-30 1 11 0 11 0 12 0-33 1 3 0 13 0 1 0-11 1 4 0 9 0 2 0 3 0 2 0 2 0 0 0-32 1 15 0 9 0 5 0-27 1 4 0 23 0 2 0 1 0-31 1 4 0 20 0 1 0 7 0 0 0 0 0-32 1 0 0 3 0 3 0 2 0 9 0-12 1 12 0 0 0 19 0 0 0-37 1 2 0 5 0 1 0 3 0 19 0-13 1 9 0 3 0 0 0-25 1 5 0 3 0 4 0 6 0 5 0 3 0-25 1 4 0 11 0 0 0 1 0 5 0 1 0-21 1 0 0 1 0 7 0 4 0 0 0 11 0-29 1 12 0 12 0 2 0 5 0 6 0-23 1 1 0 3 0 3 0 3 0 4 0 7 0-34 1 4 0 12 0 12 0 0 0 1 0-29 1 12 0 3 0 7 0 3 0 9 0-27 1 0 0 8 0 4 0 3 0 1 0 1 0-25 1 11 0 8 0 3 0 3 0 10 0-34 1 4 0 9 0 12 0 5 0 2 0 1 0-29 1 1 0 4 0 6 0 6 0 7 0 3 0-26 1 3 0 4 0 9 0 5 0 6 0-33 1 10 0 3 0 7 0 6 0 7 0-33 1 7 0 3 0 4 0 1 0 7 0 12 0 1 0-28 1 4 0 3 0 0 0 4 0 0 0 15 0-32 1 1 0 3 0 15 0 4 0 3 0 5 0-29 1 4 0 8 0 1 0 0 0 5 0 14 0-35 1 7 0 11 0 6 0 1 0 1 0 7 0-33 1 5 0 9 0 4 0 5 0 14 0 0 0-36 1 4 0 7 0 1 0 10 0 12 0 1 0-33 1 4 0 10 0 3 0 2 0 2 0 2 0 1 0 4 0 4 0-34 1 0 0 1 0 10 0 4 0 7 0 2 0 4 0 5 0 2 0 0 0-36 1 6 0 6 0 0 0 4 0 2 0 3 0 2 0 2 0 3 0 0 0 6 0 2 0-34 1 7 0 8 0 9 0 5 0-15 1 15 0-18 1 22 0-33 1 11 0 10 0 1 0 4 0 5 0-33 1 0 0 7 0 4 0 2 0 4 0 4 0 4 0 3 0 1 0 3 0 2 0 3 0-36 1 2 0 1 0 1 0 0 0 1 0 8 0 4 0 5 0 1 0 0 0 8 0-29 1 7 0 7 0 5 0 1 0 2 0 0 0 3 0 6 0 2 0 0 0-22 1 1 0 3 1 6 0 5 0-17 1 4 0 2 0 5 0 11 0-27 1 8 0 8 0 4 0 1 0 4 0 1 0 0 0-33 1 6 0 2 0 4 0 0 0 5 0 2 0 1 0 1 0 1 0 0 0 3 0 3 0 3 0 1 0 2 0 1 0 0 0-27 1 1 0 7 0 2 0 0 0 5 0 1 0 3 0 1 0 1 0 0 0 8 0 0 0-31 1 4 0 24 0 2 0-7 1 3 0-26 1 3 0 2 0 6 0 3 0 5 0 11 0-34 1 8 0 13 0 8 0-30 1 1 0 0 0 1 0 2 0 1 0 5 0 5 0 2 0 7 0 5 0 1 0 3 0 3 0-36 1 2 0 3 0 1 0 0 0 0 0 1 0 2 0 1 0 2 0 1 0 2 0 0 0 3 0 3 0 0 0 3 0 0 0 4 0 1 0 0 0 6 0-36 1 4 0 2 0 17 0 1 0 2 0 2 0 2 0 6 0-33 1 5 0 6 0 15 0 5 0 3 0-31 1-3 2 3 0 7 0 1 0 2 0 9 0 7 0-31 1 0 0 4 0 2 0 0 0 1 0 1 0 2 0 7 0 0 0 2 0 2 0 1 0 4 0 2 0 4 0-32 1 0 0 0 0 2 0 3 0 2 0 2 0 5 0 0 0 0 0 2 0 3 0 1 0 5 0 2 0 4 0 1 0-32 1 3 0 0 0 3 0 0 0 1 0 4 0 3 0 1 0 2 0 0 0 2 0 0 0 2 0 5 0 1 0 1 0 2 0 1 0 0 0 0 0 2 0 1 0 2 0-36 1 8 0 4 0 8 0-21 1 34 0-5 1-19 1 22 0-22 1 7 0 6 0 1 0 3 0 9 0-35 1 4 0 4 0 1 0 1 0 2 0 4 0 5 0 2 0 2 0 7 0 4 0-37 1 1 0 0 0 3 0 2 0 0 0 1 0 0 0 4 0 1 0 3 0 0 0 1 0 0 0 5 0 1 0 0 0 2 0 0 0 1 0 9 0 2 0 1 0-37 1 1 0 0 0 1 0 1 0 3 0 2 0 8 0 2 0 0 0 3 0 4 0 6 0 0 0 3 0 1 0 1 0 0 0 0 0 1 0-35 1 2 0 0 0 0 0 3 0 2 0 0 0 1 0 1 0 1 0 1 0 2 0 1 0 2 0 1 0 2 0 1 0 11 0 0 0 1 0-31 1 12 0 4 0 6 0 7 0 1 0 2 0-17 1 16 0-24 2-3 1 1 0 5 0 5 0-13 1 2 0 1 0 8 0 1 0 11 0 4 0 1 0-31 1 1 0 0 0 1 0 0 0 2 0 2 0 0 0 2 0 1 0 3 0 0 0 0 0 0 0 2 0 0 0 1 0 1 0 0 0 1 0 0 0 1 0 1 0 2 0 1 0 2 0 2 0 0 0 5 0 2 0 1 0-36 1 2 0 0 0 0 0 1 0 0 0 2 0 0 0 1 0 1 0 1 0 1 0 2 0 4 0 1 0 5 0 2 0 2 0 7 0 1 0 0 0 3 0 1 0-37 1 0 0 0 0 2 0 2 0 3 0 1 0 1 0 1 0 0 0 1 0 1 0 2 0 1 0 2 0 1 0 0 0 2 0 0 0 0 0 2 0 2 0 5 0 3 0 1 0 3 0-34 1 1 0 1 0 2 0 1 0 1 0 3 0 3 0 1 0 1 0 2 0 6 0 3 0 2 0 6 0-15 1 1 0 8 0 3 0 3 0-34 1 12 4 4 0-10 1 9 0 3 0 7 0 8 0-33 1 1 0 6 0 2 0 1 0 0 0 1 0 0 0 0 0 1 0 1 0 0 0 0 0 2 0 1 0 2 0 4 0 2 0 1 0 2 0 1 0 0 0 2 0-30 1 1 0 1 0 4 0 1 0 0 0 2 0 0 0 0 0 0 0 3 0 0 0 2 0 1 0 4 0 1 0 1 0 0 0 2 0 0 0 3 0 0 0 4 0 3 0 3 0-34 1 0 0 3 0 1 0 2 0 1 0 0 0 1 0 0 0 0 0 3 0 1 0 1 0 2 0 0 0 1 0 0 0 0 0 2 0 1 0 1 0 0 0 1 0 0 0 1 0 1 0 1 0 0 0 1 0 1 0 2 0 1 0 0 0 0 0 2 0 1 0 1 0 0 0 1 0-36 1 0 0 0 0 0 0 0 0 1 0 1 0 1 0 1 0 1 0 0 0 0 0 1 0 4 0 1 0 0 0 0 0 3 0 2 0 2 0 3 0 1 0 0 0 0 0 1 0 1 0 2 0 0 0 7 0 1 0 0 0 2 0-29 1 4 0 2 0 1 0 2 0 1 0 0 0 1 0 0 0 5 0 1 0 0 0 2 0 0 0 0 0 0 0 2 0 7 0 1 0-36 1 5 0 10 0 7 0 6 0 2 0-30 1 6 7 8 0 9 1 10 0-22 1 1 0 7 0 16 1-16 2-5 1 19 14-33 1 18 0 1 0 5 0-14 1 3 0 1 0-14 2 2 1 8 20 14 0 7 2 4 0-10 1 10 0-31 1 6 0 24 0-26 1 17 37-19 1 29 0-3 1 3 0-12 1 9 1-33 3 22 0 4 0" fill="none"/>
<rect x="1352" y="1406.7" width="38" height="6" rx="3.0" fill="#00ba38" fill-opacity="1.00"/><rect x="1352" y="1362.8" width="38" height="6" rx="3.0" fill="#00ba38" fill-opacity="1.00"/><rect x="1352" y="1337.2" width="38" height="6" rx="3.0" fill="#00ba38" fill-opacity="1.00"/><path class="k4" d="M1378 1224l-16 1 15 3-20 3 4 2 15 0 5 3 0 1-24 1 23 3-27 1 34 2-29 1 13 1 19 2-30 1-7 2 10 1 8 1 5 0 9 3-17 2-1 1 6 0 16 0 0 0-4 3-18 1 3 0-7 1 3 0 5 1 9 1-16 4 18 0-22 1 1 0 0 1 2 0-3 1 25 0-1 2-23 1 1 0 18 0-23 1 10 0 9 0-23 1 2 0 9 0 10 0 3 0 3 0 3 0 6 0-9 1 0 0-24 1 1 0 2 0 11 0 2 0 12 1-7 2 10 1-23 1 15 0 8 0-31 1 11 0 12 0 0 0 4 0 3 0-25 1 2 0 3 0 3 0 2 0 12 0 3 0 3 0-37 1 3 0 3 0 22 0 3 0-23 1 5 0-13 1 3 4 1 0 4 0 30 0-33 1 2 0 1 0 8 0 5 0 5 0 2 0-26 1 2 0 5 0 4 0 2 0 0 0 5 0 12 0-31 1 6 0 3 0 4 0 12 0 9 0-19 1 3 0 0 0 11 0-3 1 8 0-27 6-2 1 8 0 7 0 1 0-14 1 0 0 1 0 11 0 8 0 8 0 1 0 1 0-37 1 2 0 3 0 2 0 1 0 2 0 3 0 1 0 2 0 4 0 0 0 1 0 5 0 1 0 3 0 1 0 4 0-20 1 5 0 1 0 1 0 2 0 12 0-32 1 1 0 25 0 4 0-17 9 1 0 15 0 0 0-26 1 10 0 1 0 11 0 7 0-37 1 4 0 2 0 3 0 4 0 3 0 5 0 2 0 9 0-31 1 5 0 3 0 5 0 1 0 3 0 3 0 2 0 4 0 4 0 2 0 0 0 5 0-37 1 2 0 6 0 3 0 0 0 2 0 4 0 3 0 7 0 4 0 4 0-34 1 21 0 1 0 12 0-16 1 8 0 9 0-4 12-5 1 2 1 5 1-22 1 11 0 8 1-13 1 16 0 1 1 1 19-27 1 16 1 3 2 3 0-21 1 22 0-31 1 4 0 27 0-15 37-10 1 23 0-13 1-5 1 6 2 9 0-27 2 7 0 25 0" fill="none"/>
<rect x="1408.5" y="1406.7" width="38" height="6" rx="3.0" fill="#619cff" fill-opacity="1.00"/><rect x="1408.5" y="1362.8" width="38" height="6" rx="3.0" fill="#619cff" fill-opacity="0.75"/><rect x="1408.5" y="1337.2" width="38" height="6" rx="3.0" fill="#619cff" fill-opacity="0.70"/><path class="k5" d="M1417 1199l22 3 3 1-23 2 2 0 13 2-11 1 5 3 7 1-11 4-6 3 10 1-12 3 13 1 16 1-13 1 11 0 3 3-34 1 19 1 9 1-15 1 19 1-7 1-6 1-9 1 8 0-21 2 14 1-6 1 27 0 1 1-27 1 21 1-13 1 17 0-3 2-14 1-15 1 26 0-8 2 15 0-34 1 11 0-12 1 3 1 31 0-6 1 7 0-34 2 20 0 6 0-20 1-4 1 4 0 1 0 22 0-30 2 28 1-21 2 24 0-12 1 14 0 1 0-21 1 12 0-22 1 5 2 10 0 4 0-12 1 1 0-1 1 21 0-26 1 2 0 18 0 10 0-4 1 6 0-9 3-16 1 11 0 11 0-30 1 10 0 3 0 4 0 2 0-23 1 5 0 3 0 6 0 2 0 6 0 5 0-19 1 3 0 20 0 5 0-26 1 0 0-5 3-4 1 1 1 6 0 3 0 1 0 11 0 2 0 1 0 11 0-34 1 5 0 0 0 0 0 4 0 5 0 1 0 6 0 5 0 3 0 4 0-28 1 19 0 5 0 1 0-9 1-1 2-12 3 22 0-24 1 1 0 10 0 0 0 7 0-24 1 0 0 5 0 2 0 17 0-21 1 6 0 3 0 15 0 1 0 0 0-19 1 7 0 1 0 1 0 14 0 0 0-35 1 19 0 12 0 4 5-9 2 1 0 0 0 1 0-28 1 0 0 9 0 4 0 0 0 5 0 7 0 1 0 7 0-29 1 4 0 3 0 4 0 5 0 16 0 0 0 1 0-36 1 2 0 5 0 14 0 1 0 4 0 1 0 0 0 3 2-30 8 36 0-36 1 13 0 5 0 4 0 8 0-24 1 1 0 6 0 1 0 5 0 4 0 2 0 2 0 0 0-26 1 2 0 2 0 3 0 1 0 1 0 9 0 5 0 4 0 2 0 0 0 4 0-30 1 2 0 9 0 2 0 2 0 3 0 5 0 8 0-3 1 0 0-26 1 11 0-17 12 2 0 6 0 19 0-16 1-8 2 11 2 12 21-22 1 24 0-24 1 7 0 4 3 20 0-8 39 4 0-27 1 25 1-29 1 15 0 5 0 7 0 6 1-20 2" fill="none"/>
<rect x="1484.2" y="1406.7" width="38" height="6" rx="3.0" fill="#f8766d" fill-opacity="1.00"/><rect x="1484.2" y="1362.8" width="38" height="6" rx="3.0" fill="#f8766d" fill-opacity="1.00"/><rect x="1484.2" y="1337.2" width="38" height="6" rx="3.0" fill="#f8766d" fill-opacity="1.00"/><rect x="1484.2" y="1319" width="38" height="6" rx="3.0" fill="#f8766d" fill-opacity="1.00"/><rect x="1484.2" y="1304.9" width="38" height="6" rx="3.0" fill="#f8766d" fill-opacity="1.00"/><rect x="1484.2" y="1293.3" width="38" height="6" rx="3.0" fill="#f8766d" fill-opacity="1.00"/><rect x="1484.2" y="1283.6" width="38" height="6" rx="3.0" fill="#f8766d" fill-opacity="0.90"/><rect x="1484.2" y="1275.1" width="38" height="6" rx="3.0" fill="#f8766d" fill-opacity="0.80"/><rect x="1484.2" y="1267.7" width="38" height="6" rx="3.0" fill="#f8766d" fill-opacity="0.75"/><rect x="1484.2" y="1261" width="38" height="6" rx="3.0" fill="#f8766d" fill-opacity="0.70"/><path class="k3" d="M1517 1113l-24 1 17 2-19 1-3 3 28 0-23 1 5 1 7 0-3 1 9 0-20 1-2 1 26 1 5 0-36 2 26 0 1 0-1 1-20 1 14 0 10 0-27 1-2 1 23 0-21 1 5 0 4 0-4 1 11 0-4 1 4 0 7 1 7 0-32 1 20 0 8 0 9 0-30 1 21 0-27 1 27 0-26 1 1 0 28 0-27 1 5 0 11 0-5 1 10 0 3 0 3 0-22 1 6 0 1 1 8 0-23 1 24 0 4 0-25 1 5 0 0 0 1 0 3 0 19 1-28 1 4 0 20 0 4 0 3 0-25 1 5 0 14 0 6 0-36 1 4 0 10 0 2 0 15 0-29 1 8 0 8 0 4 1 1 0 9 0-28 1 19 0 9 0 3 0-27 1 2 0 23 0 3 0-32 1 5 0 14 0 3 0 7 0-31 1 4 0 26 0-25 1 4 0 8 0 3 0-12 1 2 0 1 0 8 0-20 1 7 0 21 0 1 0 2 0 2 0 2 0-20 1 3 0 3 0 6 0-27 1 1 0 6 0 8 0 5 0 12 0-29 1 6 0 15 0 1 0 7 0-28 1 0 0 3 0 15 0 8 0 3 0-27 1 4 0 15 0 0 0-22 1 21 0 9 0-30 1 4 0 8 0 2 0 3 0 3 0 7 0 5 0-28 1 2 0 5 0 9 0-22 1 6 0 3 0 2 0 6 0 16 0-32 1 9 0 6 0 6 0 2 0 1 0 1 0-26 1 1 0 5 0 6 0 11 0 4 0 1 0-26 1 4 0-2 1 0 0 0 0 9 0 7 0 8 0-25 1 2 0 0 0 4 0 20 0 1 0 5 0-34 1 4 0 11 0 2 0 3 0 1 0 9 0-31 1 1 0 9 0 3 0 4 0-16 1 1 0 16 0 2 0 10 0 6 0-37 1 5 0 4 0 1 0 2 0 7 0 3 0-20 1 7 0 0 0 2 0 8 0 11 0 0 0-22 1 9 0 0 0 3 0 2 0 4 0 3 0-29 1 16 0 0 0 1 0 7 0 2 0 2 0 6 0-27 1 2 0 10 0 6 0 5 0 2 0-14 1 9 0 9 0 1 0-34 1 7 0 7 0 5 0 2 0 3 0 4 0 3 0-30 1 2 0 2 0 18 0 0 0 2 0 0 0 2 0 5 0-18 1 0 0 1 0 0 0 1 0 2 0 3 0-18 1 17 0 3 0 2 0 2 0 2 0 0 0-24 1 1 0 8 0 2 0 1 0 5 0 0 0 8 0-28 1 5 0 4 0 1 0 13 0 0 0-26 1 11 0 0 0 4 0 7 0 3 0 2 0 1 0 7 0-27 1 0 0 2 0 4 0 4 0 2 0 0 0 13 0 2 0-37 1 3 0 5 0 4 0 6 0 11 0 3 0 4 0-34 1 9 0 10 0 4 0 2 0 6 0 2 0-31 1 0 0 10 0 5 0 12 0 1 0 1 0-32 1 5 0 8 0 2 0 5 0 0 0 3 0 4 0 9 0-36 1 4 0 4 0 2 0 1 0 1 0 6 0 10 0 1 0 3 0 1 0-32 1 1 0 0 0 4 0 9 0 6 0 2 0-21 1 2 0 5 0 9 0 7 0 3 0 0 0 2 0 5 0-35 1 1 0 13 0 2 0 2 0 7 0 8 0 3 0 0 0-30 1 0 0 9 0 4 0 3 0 4 0 8 0 1 0-23 1 2 0 3 0 0 0 6 0 5 0 1 0 2 0-28 1 1 0 0 0 4 0 5 0 1 0 1 0 1 0 1 0 10 0 6 0-26 1 1 0 1 0 1 0 2 0 9 0 4 0 0 0 1 0 8 0-35 1 15 0 1 0 0 0 3 0 3 0 3 0 6 0 6 0-37 1 2 0 1 0 13 0 18 0 0 0-33 1 0 0 2 0 3 0 1 0 6 0 1 0 6 0 6 0-26 1 1 0 9 0 4 0 1 0 4 0 3 0 3 0 1 0 10 0 0 0-30 1 1 0 3 0 11 0 3 0 10 0 1 0 2 0-35 1 12 0 1 0 1 0 2 0 4 0 8 0 3 0-31 1 10 0 1 0 1 0 0 0 1 0 2 0 1 0 2 0 1 0 4 0 8 0 2 0-35 1 11 0 6 0 6 0 0 0 2 0 0 0 9 0 3 0-30 1 7 0 9 0 3 0 1 0 5 0 4 0-30 1 0 0 11 0 7 0 1 0 0 0 2 0 0 0 9 0-36 1 2 0 1 0 2 0 5 0 1 0 4 0 3 0 4 0 2 0 8 0-31 1 1 0 5 0 3 0 16 0 8 0 3 0-32 1 0 0 1 0 2 0 0 0 7 0 0 0 4 0 1 0 5 0 0 0 4 0 6 0 2 0-37 1 4 0 4 0 0 0 4 0 8 0 11 0-32 1 3 0 5 0 0 0 8 0 7 0 2 0 1 0 0 0 9 0 0 0 1 0-28 1 0 0 3 0 2 0 3 0 9 0 1 0 1 0 2 0-26 1 7 0 3 0 1 0 7 0 1 0 6 0 3 0 1 0 1 0-28 1 2 0 2 0 1 0 2 0 6 0 7 0 1 0 9 0-33 1 7 0 2 0 4 0 5 0 3 0 1 0 9 0 0 0 1 0 2 0-35 1 6 0 0 0 1 0 1 0 8 0 1 0 1 0 1 0 10 0 2 0-26 1 2 0 6 0 9 0 1 0 12 0 0 0 1 0-37 1 1 0 2 0 4 0 3 0 2 0 0 0 1 0 7 0 2 0 0 0-13 1 0 0 3 0 1 0 2 0 8 0 0 0 1 0 2 0 2 0 1 0 3 0-30 1 2 0 1 0 0 0 12 0 8 0 3 0-24 1 3 0 4 0 3 0 2 0 3 0 2 0 1 0 0 0 7 0 0 0 3 0 2 0 3 0-26 1 4 0 2 0 0 0 4 0 3 0 3 0-26 1 1 0 3 0 4 0 1 0 7 0 1 0 0 0 7 0 3 0 3 0-31 1 2 0 0 0 5 0 3 0 6 0 8 0 3 0 1 0 1 0 0 0 1 0 4 0 1 0 1 0-28 1 6 0 0 0 7 0 2 0 3 0 10 0-22 1 1 0 0 0 4 0 1 0 2 0 0 0 1 0 6 0 1 0 1 0 1 0 3 0-35 1 1 0 5 0 2 0 3 0 0 0 5 0 12 0 5 0 2 0-31 1 4 0 1 0 3 0 3 0 2 0 6 0 2 0 4 0 6 0-30 1 7 0 4 0 1 0 11 0 2 0 4 0 2 0 0 0 1 0 0 0-34 1 2 0 11 0 2 0 3 0 2 0 2 0 9 0 1 0 3 0-37 1 1 0 4 0 1 0 1 0 2 0 0 0 4 0 2 0 19 0-30 1 1 0 5 0 1 0 2 0 1 0 1 0 1 0 4 0 4 0 3 0 5 0 0 0 3 0-32 1 2 0 1 0 16 0 4 0 0 0 0 0 3 0 1 0 2 0 0 0-32 1 3 0 1 0 2 0 3 0 1 0 10 0 8 0 4 0 1 0 1 0 0 0-22 1 6 0 3 0 4 0 3 0 3 0 5 0-27 1 1 0 1 0 2 0 0 0 0 0 2 0 1 0 1 0 4 0 3 0 5 0 2 0 2 0-32 1 0 0 0 0 5 0 0 0 1 0 5 0 3 0 9 0 1 0 2 0 0 0 6 0 2 0-30 1 5 0 1 0 2 0 1 0 2 0 1 0 10 0 2 0 1 0-27 1 2 0 4 0 0 0 8 0 6 0 3 0 1 0 0 0 3 0 1 0 0 0-28 1 0 0 1 0 2 0 8 0 5 0 0 0 1 0 0 0 8 0 2 0 1 0 3 0-29 1 3 0 13 0 5 0 1 0 8 0-34 1 3 0 1 0 1 0 5 0 0 0 0 0 2 0 9 0 1 0 3 0 3 0 1 0 0 0 1 0 1 0 0 0-29 1 2 0 3 0 7 0 7 0 0 0 4 0 11 0-37 1 1 0 3 0 1 0 0 0 1 0 1 0 3 0 3 0 1 0 9 0 2 0 4 0 2 0 0 0 1 0 1 0 0 0 2 0 2 0-37 1 3 0 2 0 1 0 0 0 0 0 1 0 12 0 2 0 1 0 0 0 1 0 8 0 1 0 0 0 0 0-31 1 3 0 2 0 3 0 0 0 4 0 2 0 0 0 0 0 6 0 4 0 0 0 1 0 1 0 1 0 0 0 5 0 0 0 2 0 1 0-33 1 0 0 12 0 3 0 3 0 1 0 6 0 5 0-17 1 17 0-34 1 7 0 6 0 10 0 9 0 2 0-27 1 11 0 6 0 2 0 1 0 5 0 0 0 3 0 2 0-35 1 4 0 7 0 3 0 2 0 4 0 4 0 1 0 1 0 1 0 0 0 1 0 1 0 0 0 6 0-33 1 3 0 3 0 0 0 6 0 4 0 0 0 1 0 0 0 0 0 1 0 3 0 0 0 4 0 1 0 2 0 3 0 0 0 1 0 1 0 1 0-32 1 3 0 0 0 1 0 0 0 2 0 1 0 0 0 3 0 4 0 1 0 1 0 5 0 0 0 2 0 3 0 3 0 1 0 2 0-33 1 4 0 3 0 23 0 1 0-30 1 3 0 23 0 4 0 2 0 0 0-38 1 1 0 1 0 1 0 4 0 8 0 3 0 3 0 9 0 3 0 3 0-35 1 6 0 1 0 0 0 1 0 0 0 2 0 1 0 3 0 0 0 1 0 1 0 1 0 0 0 0 0 6 0 4 0 2 0 0 0 1 0 0 0 0 0 4 0-31 1 3 0 0 0 3 0 2 0 0 0 3 0 5 0 1 0 0 0 1 0 2 0 6 0 3 0 0 0 0 0 2 0-34 1 2 0 1 0 1 0 0 0 4 0 5 0 0 0 2 0 4 0 2 0 3 0 4 0 0 0-27 1 5 0 3 0 0 0 4 0 4 0 1 0 0 0 3 0 3 0 2 0 2 0 8 0-37 1 5 0 1 0 2 0 1 0 0 0 10 0 18 0-35 1 13 0 0 0 4 0 3 0 3 0 10 0-34 1 3 0 2 0 4 0 2 0 2 0 6 0 2 0 0 0 4 0 1 0 3 0 1 0 1 0 0 0 2 0 0 0-32 1 2 0 6 0 4 0 0 0 1 0 0 0 2 0 0 0 2 0 0 0 5 0 3 0 1 0 0 0 0 0 2 0 0 0 0 0 1 0 3 0 2 0 1 0-35 1 1 0 0 0 0 0 1 0 1 0 0 0 3 0 0 0 4 0 4 0 0 0 0 0 6 0 1 0 1 0 2 0 2 0 2 0 3 0 0 0 1 0 1 0 2 0 1 0-35 1 4 0 7 0 1 0 2 0 1 0 2 0 1 0 2 0 3 0 0 0 0 0 2 0 4 0-30 1 12 0 4 0 8 0 1 0 6 0-21 1 9 0 4 0-24 1 12 0 20 0-31 1 12 0 2 0 1 0 5 0 0 0 1 0 2 0 1 0 2 0 9 0-35 1 1 0 4 0 0 0 0 0 1 0 3 0 1 0 0 0 0 0 7 0 2 0 1 0 2 0 9 0 2 0 0 0 2 0-36 1 0 0 1 0 1 0 1 0 1 0 1 0 0 0 2 0 2 0 0 0 0 0 3 0 4 0 1 0 0 0 1 0 4 0 0 0 2 0 1 0 0 0 1 0 0 0 2 0 1 0 0 0 2 0 0 0 0 0 1 0 0 0 2 0 1 0 0 0 1 0 0 0-37 1 2 0 2 0 1 0 0 0 4 0 1 0 1 0 0 0 0 0 0 0 1 0 0 0 2 0 2 0 4 0 1 0 1 0 5 0 2 0 1 0 1 0 0 0 4 0 1 0 1 0 0 0-35 1 5 0 1 0 0 0 2 0 4 0 5 0 5 0 1 0 9 0-33 1 4 0 5 0 3 0 4 0 12 0 3 0 3 0-12 1 13 1-32 1 0 0 1 0 4 0 0 0 5 0 5 0 1 0 0 0 15 0 1 0-34 1 4 0 0 0 4 0 0 0 3 0 0 0 5 0 7 0 0 0 1 0 2 0 3 0 1 0 1 0 2 0 1 0-34 1 2 0 1 0 1 0 3 0 3 0 1 0 1 0 0 0 2 0 0 0 0 0 1 0 1 0 3 0 1 0 3 0 2 0 1 0 0 0 2 0 0 0 1 0 0 0 0 0 1 0 1 0 0 0 1 0 1 0 1 0 0 0 0 0-35 1 1 0 3 0 0 0 0 0 2 0 2 0 0 0 0 0 1 0 1 0 3 0 0 0 2 0 1 0 1 0 0 0 1 0 1 0 2 0 0 0 2 0 1 0 0 0 0 0 1 0 2 0 1 0 0 0 2 0 0 0 0 0 3 0 0 0 0 0 0 0 0 0 1 0 1 0 0 0 1 0-35 1 2 0 1 0 4 0 3 0 3 0 1 0 1 0 2 0 3 0 1 0 2 0 4 0 2 0 2 0 4 0-34 1 1 0 4 0 0 0 1 0 0 0 6 0 1 0 4 0 1 0 5 0 2 0 2 0 7 0-36 1 23 0 11 0-30 3 5 0 5 0 6 0-14 1 7 0 0 0 2 0 1 0 9 0 1 0 3 0 2 0 0 0 3 0-33 1 1 0 1 0 0 0 0 0 2 0 0 0 0 0 1 0 0 0 0 0 2 0 0 0 3 0 2 0 1 0 4 0 1 0 1 0 0 0 0 0 1 0 3 0 1 0 1 0 4 0 1 0 0 0 1 0 0 0 0 0 1 0 1 0 2 0 1 0-38 1 0 0 1 0 1 0 0 0 1 0 1 0 1 0 0 0 2 0 1 0 1 0 0 0 1 0 0 0 0 0 1 0 2 0 1 0 0 0 1 0 0 0 3 0 2 0 0 0 1 0 1 0 3 0 1 0 2 0 1 0 1 0 0 0 0 0 5 0 1 0 0 0-35 1 0 0 0 0 0 0 2 0 0 0 1 0 1 0 1 0 0 0 5 0 3 0 0 0 0 0 0 0 1 0 0 0 2 0 0 0 0 0 3 0 1 0 1 0 1 0 4 0 0 0 2 0 1 0 3 0 0 0 0 0 1 0 1 0 1 0 1 0 1 0 0 0 0 0-38 1 1 0 0 0 0 0 3 0 1 0 0 0 2 0 1 0 3 0 4 0 0 0 1 0 0 0 1 0 2 0 2 0 0 0 1 0 2 0 2 0 1 0 2 0 4 0 2 0 2 0-33 1 2 0 2 0 2 0 2 0 2 0 3 0 6 0 8 0 2 0 2 0 2 0-36 1 2 0 8 0 11 0 7 0 7 0-5 5 1 0 3 0-32 1 6 0 18 0 1 0-19 1 8 0 3 0 12 0 5 0 0 0-32 1 9 0 10 0 3 0-15 1 1 0 2 0 14 0 8 0-30 2 28 0-25 1 8 7-14 1 34 0-33 1 27 0-24 3 21 0-28 1 24 1 1 0-18 12 1 2-6 1 3 1 5 0 23 0-31 1 14 0 2 0 4 0-16 19 5 0 14 0-21 2 33 0-14 1 5 0-29 1 29 0 2 3-8 37-19 1 8 0 19 0-29 1 13 1 15 1-16 1-7 1 8 0" fill="none"/>
<rect x="1540.7" y="1406.7" width="38" height="6" rx="3.0" fill="#00ba38" fill-opacity="1.00"/><rect x="1540.7" y="1362.8" width="38" height="6" rx="3.0" fill="#00ba38" fill-opacity="1.00"/><rect x="1540.7" y="1337.2" width="38" height="6" rx="3.0" fill="#00ba38" fill-opacity="0.80"/><path class="k4" d="M1553 1243l-9 1 11 0 0 2-7 5 11 1-15 1 3 4 5 0 21 3-30 1 4 1 31 0-11 2 4 0 0 1 0 2-27 3 16 0-7 1 7 0-6 2 2 4 18 0-21 1 5 0 9 0-5 1-5 1 13 1-24 2 0 2 5 0 6 0 4 0 11 0-25 1 1 0 4 0 2 0 8 0-12 1 2 0 8 0-18 1 11 0 1 0 21 1-22 4 20 1-30 1 2 0 5 0 11 0 11 0-24 1 6 0 9 0-15 1 4 0 10 0 13 0 1 0-28 1 7 0 4 0 4 0 15 0-14 1 5 0-9 6 5 0 3 0-23 1 15 0 8 0-24 1 6 0 4 0 2 0-14 1 1 0 2 0 16 0 0 0 7 0 5 0-31 1 15 0 4 0 0 0 5 0 1 0 5 0 2 0-14 1 19 0-37 10 28 0 3 0 1 0-30 1 5 0 0 0 3 0 20 0 1 0-26 1 1 0 2 0 0 0 6 0 1 0 3 0 2 0 7 0 1 0 3 0 3 0-32 1 4 0 2 0 3 0 13 0 1 0 8 0 3 0 0 0-28 1 7 0-8 1 6 0 5 0-17 13 30 0-23 2 18 0-22 1 27 2-27 1 30 0-27 20 5 1 3 0 11 2 1 0 7 0-34 2 2 0 2 0 13 0-17 39 15 0 1 0-14 2 0 0 5 0 20 1 6 0-15 1 11 1" fill="none"/>
<rect x="1597.2" y="1406.7" width="38" height="6" rx="3.0" fill="#619cff" fill-opacity="1.00"/><rect x="1597.2" y="1362.8" width="38" height="6" rx="3.0" fill="#619cff" fill-opacity="0.70"/><path class="k5" d="M1616 1224l-3 6-6 4 11 0-9 5 5 0 21 4-32 2 31 2-2 1-6 3 8 0-28 1 18 5 0 1 10 0-13 1-15 3 0 1 3 0 0 1 11 0 0 1-21 1 17 3-15 1 6 0 3 0 2 1 16 0-9 2 16 3-26 1 6 0 20 0-29 1 15 0-23 1 4 0 7 1 11 1 2 1-14 2 5 1 20 0-35 1 8 0 11 0 6 0 0 0 4 0 1 0 0 0 3 0 3 0 1 0-22 1 1 0-5 1-3 1 9 5 4 0 3 0-21 1 4 0 5 0 4 0 4 0 9 0 2 0 1 0 4 0 0 0-35 1 5 0 1 0 6 0-13 1 6 0 2 0 14 0 1 0 10 0-27 1 9 0 17 2 2 0-35 5 1 0 15 0 11 0-23 1 28 0 1 0-33 1 11 0 2 0 12 0 4 0 7 0-33 1 1 0 4 0 3 0 2 0 1 0 11 0 3 0 3 0 3 0-32 1 9 0 4 1-9 1 10 8 17 0-28 1 7 0 3 0 3 0 1 0 4 0 1 0 4 0 1 0 0 0 5 0 2 0-36 1 5 0 9 0 10 0 5 0 5 0 4 0-20 1 0 0 2 0 9 0 2 0 1 0 2 0-26 1 5 0 4 0 13 0 2 0 1 0 0 0-26 1-4 13 6 1 5 0 7 0 2 0 5 0 3 0 3 0-23 1 9 0 3 0 3 0 2 0 7 0-32 1 0 0 0 0 0 0 5 0 3 0 1 0 1 0 2 0 4 0 2 0 1 0 0 0 1 0 2 0 12 0-35 1 6 0 1 0 11 0 3 0 8 0 2 0 5 0-34 1 8 0 1 0 14 0-25 1 25 0 4 0 3 21 1 0-18 1 1 1 9 0-5 1 0 0-11 40 0 0 9 0-17 3 1 0 19 0 7 0-5 2 11 0-28 1" fill="none"/>
<rect x="1673.9" y="1406.7" width="38" height="6" rx="3.0" fill="#f8766d" fill-opacity="1.00"/><rect x="1673.9" y="1362.8" width="38" height="6" rx="3.0" fill="#f8766d" fill-opacity="1.00"/><rect x="1673.9" y="1337.2" width="38" height="6" rx="3.0" fill="#f8766d" fill-opacity="1.00"/><rect x="1673.9" y="1319" width="38" height="6" rx="3.0" fill="#f8766d" fill-opacity="1.00"/><rect x="1673.9" y="1304.9" width="38" height="6" rx="3.0" fill="#f8766d" fill-opacity="1.00"/><rect x="1673.9" y="1293.3" width="38" height="6" rx="3.0" fill="#f8766d" fill-opacity="1.00"/><rect x="1673.9" y="1283.6" width="38" height="6" rx="3.0" fill="#f8766d" fill-opacity="1.00"/><rect x="1673.9" y="1275.1" width="38" height="6" rx="3.0" fill="#f8766d" fill-opacity="1.00"/><rect x="1673.9" y="1267.7" width="38" height="6" rx="3.0" fill="#f8766d" fill-opacity="1.00"/><rect x="1673.9" y="1261" width="38" height="6" rx="3.0" fill="#f8766d" fill-opacity="1.00"/><path class="k3" d="M1683 1089l28 3-35 1 14 1-13 1 2 1 11 0-7 1 14 1 9 0-6 1 1 0-25 1 8 1 17 0 3 0-29 1 10 0 2 0 1 0 5 1 2 0 3 1 6 0 5 0-30 1 25 0-17 1 6 0 17 0-29 1 22 0 1 0 0 0-29 1 8 0 23 0 0 0-19 1 2 0 8 0-6 1 3 0 3 0 12 0-21 1 1 0 15 0-22 1 11 0 1 0 6 0 8 0-30 1 20 0 3 0 8 0-24 1 4 0 14 0-23 1 3 0 8 0 8 0 10 0 1 0-34 1 20 0 1 0 7 0-27 1 9 0 12 0 6 0-26 1 3 0 1 0 1 0 1 0 5 0 5 0-15 1 1 0 2 0 25 0-27 1 1 0 7 0 3 0 18 0 1 0-29 1 0 0 2 0 23 0 5 0 0 0-35 1 5 0 9 0 12 0 6 0-22 1 1 0 0 0 7 0 1 0 4 0 2 0-25 1 7 0 4 0 3 0 7 0 9 0-29 1 9 0 4 0 1 0 14 0 2 0 3 0-25 1 2 0 7 0 11 0-26 1 1 0 3 0 3 0 1 0 4 0 8 0-17 1 1 0 1 0 2 0 0 0 9 0 2 0 12 0-35 1 4 0 6 0 1 0 13 0 5 0 8 0-30 1 0 0 2 0 6 0 1 0 8 0 1 0 6 0 1 0-15 1 9 0 1 0 5 0 2 0 3 0 1 0-35 1 1 0 5 0 1 0 11 0 0 0 4 0 13 0-36 1 11 0 7 0 8 0 4 0 4 0-33 1 5 0 1 0 9 0 0 0 1 0 5 0 2 0 5 0-30 1 0 0 3 0 15 0 1 0 11 0 1 0 4 0-36 1 3 0 11 0 1 0 20 0 0 0-30 1 5 0 0 0 8 0 3 0 3 0 3 0 3 0 1 0-24 1 1 0 19 0 0 0 1 0 2 0 1 0 0 0 1 0-28 1 5 0 2 0 1 0 11 0 4 0 2 0 5 0-31 1 4 0 2 0 2 0 9 0 1 0 7 0 5 0-31 1 1 0 2 0 0 0 4 0 2 0 3 0 1 0 7 0 2 0 5 0 6 0-29 1 12 0 2 0 3 0 5 0 1 0 2 0 2 0-30 1 12 0 1 0 4 0 4 0 1 0 0 0 3 0 0 0 1 0 3 0 5 0-37 1 11 0 3 0 1 0 4 0 6 0 2 0 2 0-27 1 0 0 2 0 4 0 10 0 1 0 3 0 8 0 1 0 2 0-25 1 0 0 4 0 1 0 2 0 0 0 2 0 1 0 7 0 5 0 6 0 2 0-38 1 6 0 0 0 1 0 5 0 9 0 4 0 1 0-20 1 3 0 9 0 2 0 3 0 2 0 1 0 1 0 2 0 7 0 2 0-37 1 2 0 1 0 1 0 2 0 11 0 4 0 6 0 3 0-25 1 1 0 0 0 8 0 4 0 1 0 3 0 0 0 1 0 2 0 4 0 2 0 1 0 2 0-33 1 3 0 2 0 5 0 1 0 3 0 4 0 3 0 1 0 8 0 5 0-36 1 2 0 4 0 1 0 5 0 2 0 7 0 8 0 4 0 0 0-33 1 13 0 1 0 2 0 1 0 4 0 2 0 0 0 3 0 0 0 3 0 2 0-31 1 1 0 1 0 6 0 8 0 2 0 1 0 11 0 4 0 0 0-33 1 3 0 14 0 2 0 3 0 0 0 1 0 5 0 1 0 0 0 5 0-36 1 5 0 7 0 1 0 0 0 1 0 0 0 2 0 2 0 2 0 2 0 6 0 4 0 2 0 3 0-36 1 4 0 7 0 6 0 1 0 1 0 12 0 1 0 1 0 2 0 1 0-37 1 2 0 6 0 1 0 6 0 1 0 5 0 0 0 2 0 6 0 5 0 1 0-35 1 1 0 7 0 5 0 5 0 1 0 1 0 5 0 4 0 0 0 2 0 3 0-31 1 4 0 4 0 1 0 0 0 8 0 1 0 2 0 6 0 0 0 4 0 4 0 1 0-36 1 2 0 0 0 5 0 1 0 1 0 3 0 0 0 2 0 3 0 2 0 0 0 6 0 10 0-37 1 5 0 9 0 3 0 1 0 4 0 6 0 0 0 3 0 1 0 2 0 1 0 3 0-35 1 1 0 3 0 6 0 1 0 3 0 3 0 0 0 0 0 0 0 3 0 7 0-30 1 4 0 0 0 8 0 8 0 3 0 2 0 6 0 1 0 2 0 2 0-35 1 4 0 0 0 8 0 0 0 1 0 4 0 0 0 2 0 5 0 0 0 1 0 0 0 2 0 2 0 2 0 3 0 3 0-38 1 2 0 8 0 4 0 2 0 4 0 4 0 0 0 2 0 2 0 2 0 3 0 4 0-35 1 4 0 0 0 2 0 3 0 1 0 1 0 1 0 2 0 9 0 1 0 4 0 2 0 2 0 4 0-36 1 5 0 5 0 1 0 2 0 4 0 1 0 5 0 2 0 2 0 4 0 0 0-33 1 1 0 1 0 0 0 0 0 2 0 4 0 0 0 3 0 3 0 1 0 1 0 3 0 4 0 8 0 2 0-32 1 10 0 0 0 3 0 4 0 2 0 2 0 1 0 2 0 2 0 1 0 5 0 0 0 1 0 4 0-37 1 3 0 3 0 2 0 3 0 0 0 5 0 1 0 3 0 0 0 5 0 6 0 3 0 2 0-37 1 1 0 0 0 0 0 1 0 0 0 11 0 5 0 3 0 0 0 1 0 2 0 2 0 1 0 0 0 3 0 1 0-28 1 0 0 5 0 2 0 13 0 1 0 0 0 5 0 2 0 2 0 1 0 0 0 2 0 1 0-36 1 0 0 1 0 3 0 2 0 6 0 5 0 5 0 1 0 1 0 8 0 1 0 3 0 0 0-35 1 2 0 3 0 1 0 1 0 4 0 1 0 5 0 0 0 4 0 4 0 2 0 4 0 1 0 1 0 1 0-33 1 0 0 2 0 1 0 2 0 1 0 1 0 11 0 1 0 1 0 5 0 2 0 3 0 2 0 0 0 0 0 0 0-34 1 6 0 2 0 4 0 1 0 1 0 1 0 2 0 0 0 1 0 1 0 0 0 1 0 1 0 4 0 1 0 6 0-32 1 11 0 7 0 1 0 3 0 3 0 3 0 2 0 1 0 1 0 0 0 2 0 0 0 1 0-35 1 1 0 3 0 0 0 2 0 0 0 3 0 0 0 2 0 1 0 1 0 1 0 5 0 5 0 2 0 0 0 3 0 1 0 5 0-33 1 0 0 1 0 5 0 1 0 4 0 3 0 4 0 0 0 6 0 4 0 2 0 1 0 1 0 0 0-34 1 2 0 0 0 3 0 1 0 2 0 1 0 8 0 2 0 6 0 1 0 1 0 1 0 1 0 0 0 0 0 4 0-32 1 12 0 2 0 1 0 1 0 2 0 5 0 3 0 1 0 0 0 0 0 1 0 6 0 1 0 0 0 0 0-32 1 1 0 4 0 1 0 3 0 1 0 3 0 4 0 1 0 1 0 3 0 1 0 2 0 3 0 2 0 0 0-32 1 0 0 0 0 3 0 0 0 1 0 3 0 3 0 2 0 2 0 2 0 8 0 3 0 1 0 3 0 1 0 2 0-36 1 1 0 0 0 2 0 4 0 1 0 1 0 0 0 10 0 3 0 2 0 1 0 2 0 2 0 4 0 4 0-31 1 0 0 2 0 7 0 1 0 1 0 3 0 2 0 1 0 1 0 2 0 2 0 1 0 1 0 2 0 3 0-35 1 1 0 1 0 2 0 4 0 1 0 1 0 4 0 5 0 0 0 1 0 0 0 7 0 3 0 3 0 2 0-28 1 2 0 1 0 3 0 0 0 1 0 1 0 2 0 1 0 3 0 0 0 1 0 0 0 7 0 3 0 1 0-34 1 5 0 1 0 2 0 2 0 1 0 8 0 1 0 0 0 1 0 1 0 1 0 1 0 1 0 3 0 1 0 4 0-31 1 5 0 1 0 2 0 1 0 2 0 3 0 2 0 4 0 4 0 0 0 5 0 0 0 0 0 2 0 1 0 3 0 1 0-36 1 0 0 2 0 3 0 2 0 0 0 8 0 6 0 1 0 2 0 1 0 2 0 0 0 0 0 0 0 4 0 4 0-31 1 0 0 0 0 11 0 8 0 2 0 1 0 2 0 3 0 1 0 1 0 0 0 1 0 0 0 2 0-38 1 2 0 5 0 1 0 3 0 0 0 1 0 1 0 3 0 0 0 2 0 1 0 0 0 1 0 3 0 5 0 1 0 2 0 3 0 2 0 1 0-29 1 1 0 2 0 1 0 8 0 2 0 4 0 2 0 3 0 3 0 0 0 2 0 1 0 0 0-36 1 6 0 1 0 0 0 1 0 0 0 4 0 2 0 1 0 2 0 1 0 1 0 2 0 5 0 1 0 5 0 3 0 0 0 1 0-34 1 0 0 6 0 2 0 1 0 0 0 2 0 4 0 0 0 0 0 1 0 1 0 5 0 1 0 3 0 3 0-32 1 0 0 7 0 6 0 2 0 1 0 1 0 0 0 1 0 2 0 2 0 3 0 1 0 2 0 0 0 2 0 7 0 1 0-36 1 2 0 0 0 1 0 0 0 2 0 1 0 0 0 1 0 2 0 4 0 0 0 5 0 1 0 2 0 4 0 4 0 5 0-36 1 4 0 0 0 2 0 3 0 1 0 6 0 1 0 0 0 2 0 1 0 3 0 1 0 5 0 1 0 1 0 1 0 6 0-35 1 3 0 3 0 0 0 3 0 0 0 1 0 2 0 1 0 3 0 4 0 2 0 2 0 0 0 2 0 2 0 0 0-27 1 5 0 0 0 1 0 1 0 2 0 3 0 0 0 3 0 0 0 3 0 1 0 0 0 2 0 2 0 0 0 4 0 0 0 1 0 1 0 3 0-33 1 1 0 1 0 6 0 2 0 0 0 1 0 1 0 0 0 5 0 1 0 0 0 4 0 7 0-32 1 1 0 1 0 1 0 3 0 2 0 1 0 1 0 4 0 3 0 1 0 1 0 1 0 1 0 2 0 2 0 0 0-25 1 2 0 1 0 3 0 3 0 1 0 1 0 1 0 1 0 4 0 0 0 0 0 1 0 3 0 3 0 1 0 1 0 2 0 2 0 2 0 0 0 2 0 1 0-34 1 2 0 3 0 0 0 2 0 0 0 4 0 6 0 6 0 1 0 0 0 1 0 5 0 0 0 1 0 4 0 1 0-34 1 2 0 2 0 4 0 1 0 0 0 2 0 1 0 0 0 4 0 2 0 2 0 1 0 4 0 1 0 2 0 1 0 4 0 2 0-37 1 3 0 2 0 3 0 0 0 2 0 3 0 8 0 0 0 1 0 0 0 1 0 1 0 9 0 2 0 0 0 0 0 2 0-38 1 1 0 4 0 2 0 2 0 2 0 4 0 3 0 4 0 0 0 4 0 6 0 1 0 1 0 2 0 0 0 2 0-36 1 2 0 0 0 8 0 1 0 0 0 1 0 0 0 1 0 0 0 2 0 0 0 5 0 1 0 1 0 1 0 6 0 0 0 0 0 1 0 3 0-35 1 1 0 2 0 2 0 0 0 1 0 1 0 2 0 2 0 3 0 6 0 1 0 1 0 0 0 2 0 3 0 2 0 3 0 2 0 2 0-36 1 1 0 2 0 2 0 4 0 1 0 2 0 3 0 4 0 0 0 1 0 6 0 1 0 1 0 1 0 0 0 7 0 0 0-36 1 2 0 0 0 1 0 4 0 4 0 0 0 0 0 1 0 1 0 1 0 3 0 3 0 1 0 4 0 0 0 3 0 1 0 6 0 0 0-34 1 1 0 1 0 0 0 8 0 5 0 3 0 2 0 4 0 0 0 4 0 0 0 1 0 7 0 0 0 1 0-35 1 1 0 1 0 0 0 1 0 0 0 6 0 3 0 0 0 0 0 1 0 0 0 2 0 0 0 2 0 3 0 4 0 1 0 0 0 3 0 2 0-33 1 4 0 0 0 1 0 1 0 1 0 1 0 1 0 0 0 5 0 3 0 5 0 0 0 2 0 2 0 1 0 5 0 1 0-32 1 2 0 1 0 4 0 3 0 3 0 4 0 1 0 5 0 4 0 2 0 1 0 0 0 0 0 1 0 1 0 2 0 0 0 2 0 1 0-37 1 1 0 1 0 2 0 2 0 0 0 3 0 2 0 1 0 2 0 3 0 5 0 2 0 0 0 4 0 2 0 2 0 2 0-35 1 1 0 4 0 2 0 1 0 1 0 1 0 5 0 1 0 2 0 2 0 2 0 3 0 2 0 1 0 1 0 6 0 1 0-32 1 0 0 3 0 2 0 1 0 2 0 2 0 0 0 5 0 1 0 0 0 2 0 1 0 3 0 1 0 4 0 0 0 3 0 1 0-34 1 3 0 0 0 1 0 0 0 0 0 1 0 1 0 4 0 0 0 11 0 1 0 1 0 6 0 2 0 0 0 0 0 0 0 0 0 2 0 4 0-38 1 1 0 2 0 3 0 1 0 0 0 1 0 9 0 1 0 1 0 1 0 0 0 2 0 2 0 2 0 2 0 1 0 0 0 6 0 1 0 1 0-37 1 2 0 1 0 0 0 3 0 2 0 1 0 2 0 4 0 3 0 2 0 4 0 1 0 2 0 2 0 1 0 2 0 5 0 0 0-36 1 0 0 4 0 0 0 1 0 0 0 1 0 3 0 4 0 3 0 1 0 4 0 3 0 1 0 1 0 0 0 9 0-35 1 3 0 2 0 0 0 5 0 0 0 5 0 1 0 0 0 1 0 0 0 1 0 1 0 3 0 2 0 1 0 3 0 4 0 0 0 4 0 0 0-35 1 2 0 3 0 1 0 0 0 4 0 1 0 0 0 1 0 0 0 2 0 3 0 3 0 4 0 2 0 0 0 1 0 5 0 1 0 0 0 0 0 0 0 2 0-34 1 3 0 6 0 1 0 5 0 4 0 1 0 1 0 2 0 1 0 1 0 2 0 1 0 0 0 1 0 0 0 0 0 3 0 2 0 0 0-35 1 2 0 1 0 1 0 5 0 1 0 1 0 4 0 2 0 3 0 1 0 3 0 1 0 5 0 2 0 1 0 2 0 0 0 0 0-37 1 3 0 3 0 2 0 3 0 0 0 0 0 1 0 11 0 1 0 3 0 7 0 2 0 1 0-37 1 1 0 4 0 1 0 1 0 1 0 1 0 2 0 2 0 1 0 0 0 3 0 2 0 3 0 1 0 0 0 1 0 3 0 3 0 0 0 1 0 0 0 3 0 0 0 2 0-36 1 0 0 2 0 1 0 3 0 3 0 1 0 3 0 3 0 5 0 5 0 1 0 1 0 1 0 0 0 1 0 2 0 1 0 2 0 2 0-35 1 2 0 0 0 2 0 0 0 2 0 1 0 4 0 1 0 3 0 1 0 1 0 1 0 2 0 1 0 3 0 1 0 0 0 2 0 3 0 2 0 2 0-30 1 2 0 7 0 4 0 2 0 0 0 1 0 1 0 1 0 3 0 1 0 1 0 5 0 2 0 1 0 0 0-32 1 1 0 1 0 1 0 1 0 0 0 3 0 0 0 4 0 1 0 3 0 1 0 0 0 7 0 3 0 1 0 1 0 0 0 3 0 0 0 1 0 0 0-36 1 1 0 0 0 5 0 1 0 5 0 2 0 1 0 3 0 2 0 1 0 1 0 4 0 1 0 1 0 3 0 1 0 2 0 2 0 0 0 0 0-37 1 2 0 1 0 0 0 3 0 2 0 1 0 0 0 2 0 1 0 2 0 3 0 0 0 2 0 5 0 1 0 1 0 1 0 3 0 1 0 5 0 1 0-37 1 1 0 1 0 0 0 3 0 0 0 2 0 0 0 3 0 6 0 5 0 6 0 1 0 2 0 2 0 3 0 1 0-35 1 3 0 1 0 6 0 0 0 0 0 1 0 1 0 2 0 0 0 6 0 1 0 1 0 1 0 1 0 0 0 1 0 1 0 0 0 2 0 1 0 4 0 2 0-36 1 2 0 0 0 1 0 1 0 1 0 3 0 2 0 2 0 1 0 2 0 1 0 2 0 4 0 2 0 2 0 1 0 2 0 2 0-29 1 2 0 0 0 1 0 1 0 3 0 0 0 2 0 3 0 4 0 2 0 2 0 1 0 3 0 2 0 4 0 4 0 0 0 1 0-35 1 1 0 2 0 0 0 5 0 2 0 2 0 0 0 1 0 1 0 0 0 1 0 4 0 1 0 3 0 1 0 2 0 1 0 0 0 0 0 1 0 0 0 2 0 0 0-32 1 2 0 0 0 2 0 2 0 1 0 0 0 1 0 0 0 0 0 8 0 4 0 3 0 1 0 1 0 0 0 1 0 0 0 7 0 3 0 2 0-37 1 3 0 2 0 1 0 1 0 2 0 3 0 0 0 4 0 2 0 0 0 3 0 2 0 1 0 5 0 1 0 0 0 2 0 0 0 0 0 1 0 1 0 2 0 0 0-36 1 0 0 7 0 0 0 2 0 1 0 1 0 3 0 1 0 2 0 0 0 1 0 2 0 1 0 4 0 2 0 2 0 5 0 0 0 2 0 1 0-38 1 2 0 0 0 1 0 3 0 1 0 1 0 0 0 1 0 0 0 1 0 2 0 5 0 4 0 1 0 2 0 2 0 6 0 2 0 1 0 2 0 0 0-36 1 0 0 2 0 4 0 1 0 2 0 2 0 2 0 4 0 0 0 1 0 0 0 5 0 1 0 2 0 0 0 1 0 1 0 1 0 0 0 1 0 2 0 0 0 4 0-37 1 2 0 0 0 2 0 3 0 1 0 2 0 0 0 1 0 2 0 6 0 6 0 1 0 0 0 0 0 2 0 3 0 5 0-35 1 1 0 5 0 2 0 6 0 2 0 2 0 2 0 1 0 1 0 1 0 2 0 1 0 2 0 1 0 0 0 1 0 0 0 3 0 1 0 0 0 2 0 1 0-37 1 1 0 1 0 4 0 1 0 1 0 2 0 1 0 5 0 1 0 4 0 1 0 2 0 0 0 2 0 3 0 2 0 4 0 0 0-36 1 0 0 1 0 0 0 2 0 2 0 3 0 5 0 3 0 3 0 1 0 0 0 4 0 3 0 2 0 1 0 1 0 0 0 0 0 2 0 1 0 1 0 0 0 0 0 0 0-35 1 1 0 1 0 0 0 2 0 1 0 2 0 1 0 0 0 1 0 1 0 1 0 1 0 3 0 11 0 0 0 5 0 0 0 0 0 2 0 1 0 2 0-36 1 0 0 2 0 3 0 0 0 1 0 1 0 0 0 4 0 1 0 0 0 1 0 2 0 2 0 0 0 1 0 1 0 1 0 1 0 1 0 2 0 1 0 2 0 0 0 0 0 1 0 0 0 0 0 1 0 4 0 3 0 1 0 0 0-37 1 1 0 0 0 1 0 0 0 3 0 2 0 0 0 1 0 1 0 3 0 4 0 1 0 1 0 1 0 1 0 0 0 0 0 3 0 0 0 1 0 2 0 0 0 1 0 0 0 1 0 1 0 0 0 1 0 0 0 0 0 2 0 0 0 0 0 4 0 1 0 1 0-37 1 2 0 3 0 5 0 0 0 1 0 0 0 1 0 2 0 0 0 1 0 0 0 0 0 1 0 1 0 1 0 3 0 1 0 2 0 2 0 1 0 3 0 4 0-34 1 1 0 3 0 14 0 0 0 1 0 4 0 3 0-23 1 2 0 1 0 22 0 2 0 3 0-32 1 3 0 1 0 5 0 2 0 2 0 5 0 1 0 6 0 2 0 0 0 4 0 3 0-35 1 1 0 0 0 0 0 2 0 0 0 1 0 2 0 1 0 0 0 1 0 3 0 2 0 6 0 4 0 1 0 0 0 1 0 1 0 1 0 2 0 3 0 2 0-34 1 1 0 0 0 1 0 0 0 1 0 1 0 0 0 2 0 0 0 2 0 0 0 0 0 2 0 0 0 1 0 1 0 2 0 2 0 3 0 1 0 0 0 1 0 1 0 1 0 1 0 1 0 0 0 0 0 1 0 0 0 2 0 2 0 1 0 1 0 4 0-37 1 1 0 2 0 1 0 1 0 1 0 0 0 0 0 2 0 1 0 3 0 2 0 0 0 0 0 2 0 2 0 1 0 1 0 2 0 0 0 2 0 1 0 0 0 1 0 1 0 1 0 2 0 2 0 0 0 0 0 1 0 0 0 4 0 1 0-37 1 9 0 3 0 0 0 0 0 1 0 1 0 3 0 0 0 1 0 6 0 1 0 1 0 3 0 2 0 1 0-32 1 8 0 0 0 6 0 0 0 11 0 2 0 7 0-24 1 0 0 0 0 1 0 3 0 2 0 1 0 2 0 1 0 6 0 1 0 2 0 3 0 2 0-35 1 2 0 1 0 0 0 1 0 1 0 2 0 1 0 0 0 2 0 2 0 1 0 0 0 0 0 2 0 1 0 1 0 2 0 3 0 0 0 0 0 1 0 0 0 1 0 1 0 3 0 1 0 3 0 1 0 0 0 1 0 3 0 0 0 1 0-37 1 1 0 0 0 0 0 1 0 0 0 1 0 1 0 1 0 0 0 0 0 1 0 1 0 2 0 0 0 3 0 1 0 1 0 1 0 1 0 0 0 0 0 1 0 0 0 1 0 1 0 1 0 2 0 1 0 1 0 0 0 0 0 1 0 0 0 1 0 1 0 0 0 1 0 0 0 0 0 3 0 0 0 1 0 0 0 1 0 1 0 0 0 0 0 1 0 0 0 0 0 1 0-37 1 1 0 1 0 2 0 5 0 2 0 0 0 4 0 0 0 1 0 2 0 1 0 1 0 1 0 4 0 2 0 1 0 3 0 1 0 2 0 0 0 1 0-31 1 0 0 1 0 3 0 1 0 2 0 0 0 1 0 0 0 9 0 1 0 2 0 0 0 0 0 2 0 1 0 5 0 1 0 3 0-36 1 17 0 4 0 0 0 4 0 1 0 5 0 1 0 5 0-32 1 1 0 5 0 4 0 4 0 13 0 1 0 1 0 1 0-34 1 3 0 2 0 2 0 0 0 1 0 2 0 1 0 1 0 3 0 4 0 1 0 1 0 1 0 2 0 3 0 1 0 1 0 0 0 1 0 1 0 1 0 0 0 2 0 0 0 0 0 0 0 1 0 1 0-36 1 0 0 0 0 1 0 0 0 1 0 0 0 0 0 0 0 0 0 1 0 1 0 0 0 3 0 1 0 0 0 0 0 1 0 1 0 2 0 0 0 0 0 2 0 3 0 0 0 1 0 0 0 1 0 0 0 0 0 1 0 0 0 0 0 4 0 1 0 1 0 0 0 0 0 1 0 1 0 1 0 5 0 0 0 2 0 0 0-37 1 1 0 1 0 0 0 1 0 0 0 0 0 2 0 0 0 1 0 0 0 0 0 2 0 2 0 1 0 0 0 1 0 2 0 0 0 1 0 1 0 0 0 3 0 0 0 1 0 0 0 0 0 1 0 0 0 1 0 0 0 3 0 1 0 1 0 1 0 0 0 1 0 2 0 4 0 1 0 1 0 0 0-37 1 2 0 1 0 1 0 1 0 2 0 2 0 1 0 0 0 1 0 3 0 0 0 1 0 4 0 0 0 2 0 1 0 0 0 2 0 0 0 2 0 0 0 2 0 1 0 1 0 2 0 0 0 1 0 0 0 1 0 0 0 0 0 2 0 0 0-34 1 2 0 0 0 2 0 4 0 3 0 1 0 3 0 7 0 0 0 5 0 1 0 4 0 1 0-8 1 6 0-32 1 5 0 9 0 1 0 2 0 2 0 8 0 2 0 1 0 3 0-34 1 1 0 1 0 3 0 0 0 2 0 1 0 3 0 1 0 1 0 0 0 10 0 5 0 1 0 2 0 1 0 2 0 2 0 2 0 0 0-38 1 1 0 0 0 0 0 1 0 0 0 0 0 1 0 1 0 0 0 1 0 1 0 1 0 1 0 2 0 1 0 1 0 2 0 3 0 1 0 2 0 1 0 0 0 0 0 1 0 3 0 0 0 0 0 1 0 5 0 1 0 5 0 0 0-37 1 4 0 0 0 1 0 0 0 0 0 4 0 0 0 1 0 1 0 0 0 0 0 1 0 0 0 1 0 1 0 1 0 0 0 0 0 0 0 1 0 0 0 0 0 1 0 0 0 1 0 1 0 2 0 1 0 0 0 1 0 1 0 0 0 0 0 0 0 1 0 2 0 0 0 3 0 1 0 0 0 1 0 1 0 1 0 1 0 0 0 1 0 0 0 1 0 0 0 1 0-38 1 0 0 2 0 1 0 0 0 1 0 0 0 0 0 0 0 0 0 1 0 3 0 0 0 0 0 2 0 0 0 1 0 1 0 1 0 0 0 0 0 1 0 0 0 1 0 1 0 0 0 0 0 1 0 0 0 0 0 0 0 1 0 0 0 1 0 0 0 2 0 1 0 0 0 1 0 0 0 1 0 1 0 0 0 0 0 1 0 1 0 2 0 0 0 1 0 0 0 2 0 0 0 0 0 3 0 2 0 1 0-37 1 1 0 1 0 0 0 2 0 3 0 4 0 2 0 0 0 1 0 0 0 0 0 1 0 3 0 1 0 3 0 1 0 2 0 2 0 1 0 0 0 2 0 0 0 1 0 2 0 3 0-37 1 7 0 9 0 0 0 2 0 5 0 4 0 1 0-25 1 25 0-19 1 7 0 6 0 9 0-29 1 8 0 5 0 3 0 2 0 1 0 8 0 2 0 2 0 1 0 3 0 0 0 0 0 0 0-36 1 0 0 1 0 1 0 0 0 1 0 2 0 1 0 1 0 1 0 0 0 1 0 0 0 3 0 0 0 3 0 0 0 2 0 1 0 1 0 1 0 1 0 1 0 1 0 0 0 1 0 1 0 0 0 0 0 1 0 3 0 3 0 1 0 2 0 1 0-36 1 0 0 0 0 1 0 1 0 0 0 1 0 1 0 0 0 0 0 1 0 0 0 0 0 1 0 1 0 0 0 1 0 0 0 1 0 1 0 1 0 0 0 0 0 0 0 1 0 1 0 0 0 0 0 3 0 0 0 1 0 2 0 0 0 0 0 1 0 0 0 3 0 0 0 0 0 2 0 0 0 0 0 2 0 1 0 0 0 1 0 0 0 0 0 0 0 1 0 0 0 1 0 0 0 3 0 0 0 2 0-35 1 0 0 1 0 0 0 0 0 2 0 1 0 1 0 0 0 0 0 1 0 1 0 0 0 0 0 1 0 0 0 1 0 0 0 1 0 1 0 1 0 1 0 0 0 1 0 0 0 1 0 0 0 1 0 1 0 1 0 0 0 0 0 1 0 0 0 1 0 0 0 1 0 1 0 0 0 0 0 0 0 1 0 0 0 1 0 0 0 1 0 0 0 0 0 1 0 2 0 0 0 1 0 0 0 2 0 3 0 0 0 1 0 0 0-36 1 1 0 0 0 0 0 2 0 3 0 1 0 2 0 0 0 1 0 1 0 1 0 1 0 0 0 0 0 1 0 0 0 2 0 0 0 1 0 2 0 3 0 0 0 2 0 0 0 1 0 0 0 1 0 1 0 1 0 1 0 0 0 2 0 1 0 0 0 0 0 3 0 2 0-35 1 1 0 1 0 1 0 0 0 2 0 3 0 2 0 0 0 3 0 6 0 1 0 1 0 5 0 5 0 0 0-22 1 2 0 21 0-31 3 13 0 5 0 0 0 8 0 6 0-36 1 3 0 1 0 1 0 1 0 2 0 1 0 3 0 1 0 1 0 1 0 1 0 0 0 2 0 0 0 1 0 0 0 0 0 2 0 3 0 2 0 0 0 2 0 0 0 1 0 0 0 3 0 2 0 4 0-37 1 1 0 3 0 1 0 0 0 0 0 1 0 0 0 0 0 0 0 0 0 2 0 0 0 1 0 2 0 0 0 0 0 1 0 1 0 0 0 1 0 0 0 2 0 0 0 0 0 1 0 1 0 1 0 2 0 0 0 1 0 2 0 1 0 0 0 1 0 1 0 1 0 0 0 0 0 1 0 1 0 0 0 0 0 4 0 0 0 0 0 1 0 0 0 0 0 1 0-36 1 1 0 0 0 1 0 0 0 2 0 0 0 1 0 0 0 0 0 0 0 0 0 1 0 0 0 0 0 0 0 1 0 1 0 1 0 0 0 0 0 1 0 1 0 1 0 0 0 0 0 0 0 1 0 0 0 0 0 4 0 0 0 0 0 1 0 0 0 0 0 1 0 0 0 0 0 1 0 0 0 1 0 1 0 0 0 1 0 0 0 1 0 1 0 0 0 1 0 0 0 0 0 1 0 0 0 0 0 0 0 1 0 0 0 0 0 1 0 1 0 0 0 0 0 2 0 0 0 0 0 0 0 1 0 1 0 0 0 0 0 0 0 0 0 0 0 1 0 1 0 1 0-37 1 0 0 1 0 1 0 1 0 1 0 0 0 3 0 0 0 1 0 1 0 1 0 0 0 1 0 0 0 1 0 1 0 0 0 1 0 0 0 0 0 0 0 1 0 0 0 1 0 0 0 1 0 0 0 1 0 1 0 0 0 3 0 1 0 1 0 0 0 1 0 0 0 0 0 0 0 1 0 0 0 1 0 0 0 0 0 1 0 0 0 1 0 2 0 1 0 0 0 0 0 0 0 1 0 1 0 0 0 1 0 1 0 1 0-38 1 2 0 1 0 1 0 1 0 1 0 1 0 0 0 1 0 0 0 1 0 0 0 2 0 1 0 2 0 0 0 1 0 0 0 3 0 1 0 0 0 3 0 3 0 0 0 2 0 0 0 1 0 0 0 2 0 0 0 0 0 1 0 1 0 1 0 1 0 1 0 0 0 2 0 0 0-36 1 7 0 3 0 5 0 2 0 9 0 2 0 2 0 4 0 0 0-34 1 2 0 7 0 19 0-11 1 18 0-30 3 2 0 3 0 11 0-19 1 1 0 0 0 20 0 1 0 1 0 3 0 1 0 6 0 0 0 1 0 0 0 1 0 0 0-37 1 1 0 0 0 0 0 1 0 0 0 2 0 2 0 0 0 0 0 1 0 0 0 0 0 2 0 2 0 0 0 1 0 3 0 0 0 3 0 3 0 0 0 0 0 1 0 1 0 0 0 0 0 0 0 1 0 0 0 0 0 0 0 1 0 1 0 1 0 0 0 1 0 2 0 2 0 1 0 2 0 0 0 0 0 0 0-36 1 1 0 1 0 1 0 2 0 1 0 0 0 0 0 3 0 1 0 0 0 1 0 0 0 1 0 0 0 0 0 1 0 1 0 0 0 0 0 0 0 1 0 0 0 0 0 1 0 0 0 0 0 0 0 1 0 0 0 0 0 0 0 1 0 0 0 0 0 0 0 1 0 1 0 1 0 0 0 0 0 0 0 0 0 1 0 1 0 0 0 1 0 1 0 0 0 1 0 0 0 0 0 0 0 0 0 0 0 2 0 0 0 1 0 0 0 0 0 0 0 1 0 1 0 0 0 0 0 1 0 0 0 0 0 1 0 0 0 0 0 1 0 2 0 0 0 1 0-37 1 1 0 1 0 0 0 0 0 0 0 1 0 0 0 0 0 1 0 0 0 1 0 0 0 0 0 1 0 0 0 0 0 0 0 1 0 0 0 0 0 1 0 0 0 2 0 0 0 0 0 1 0 1 0 0 0 0 0 1 0 1 0 0 0 1 0 0 0 0 0 1 0 0 0 1 0 0 0 1 0 0 0 0 0 0 0 2 0 0 0 0 0 0 0 1 0 0 0 0 0 0 0 0 0 0 0 0 0 1 0 0 0 1 0 1 0 0 0 1 0 0 0 0 0 1 0 0 0 0 0 1 0 0 0 1 0 1 0 1 0 0 0 0 0 0 0 1 0 0 0 0 0 0 0 0 0 1 0 0 0 0 0 0 0 1 0 0 0 1 0 0 0 0 0 0 0 1 0 1 0 0 0 0 0 1 0 0 0 0 0-37 1 0 0 1 0 0 0 2 0 0 0 0 0 2 0 0 0 0 0 0 0 2 0 0 0 0 0 0 0 0 0 0 0 2 0 0 0 1 0 0 0 1 0 1 0 0 0 1 0 0 0 1 0 0 0 1 0 0 0 0 0 1 0 0 0 3 0 0 0 0 0 1 0 0 0 0 0 1 0 1 0 1 0 0 0 0 0 1 0 0 0 0 0 1 0 1 0 0 0 1 0 0 0 0 0 1 0 0 0 0 0 1 0 0 0 2 0 1 0 0 0 2 0 0 0 1 0 1 0 1 0 0 0 0 0 1 0-37 1 0 0 2 0 0 0 2 0 0 0 0 0 2 0 1 0 1 0 4 0 1 0 0 0 1 0 1 0 3 0 1 0 1 0 1 0 2 0 0 0 2 0 0 0 0 0 3 0 2 0 1 0 1 0-29 1 1 0 5 0 2 0 2 0 7 0 1 0 0 0 3 0 7 0 4 0-6 1 7 0-22 7-12 2 23 0-1 1-25 1 16 0 1 0 14 0-4 1 11 0-34 1 3 13 3 0 12 0-4 1 16 1-34 1 27 1-6 1 3 0 4 0-18 21 10 0 15 0-20 1 5 0 3 0-12 1 22 1 4 0-11 2-2 37 3 3 0 1-23 1 14 0 5 0-14 2 1 0 19 0 1 0" fill="none"/>
<rect x="1730.4" y="1406.7" width="38" height="6" rx="3.0" fill="#00ba38" fill-opacity="1.00"/><rect x="1730.4" y="1362.8" width="38" height="6" rx="3.0" fill="#00ba38" fill-opacity="1.00"/><rect x="1730.4" y="1337.2" width="38" height="6" rx="3.0" fill="#00ba38" fill-opacity="1.00"/><rect x="1730.4" y="1319" width="38" height="6" rx="3.0" fill="#00ba38" fill-opacity="0.75"/><path class="k4" d="M1742 1238l-6 1 8 5 17 1-8 2 14 1-23 4 24 2-36 3 22 1 6 1-9 2 13 2-17 1 16 0-19 1 15 0 3 0-29 1 13 3 9 0-19 1 0 0-3 1 11 1 10 0 7 0 5 1-31 3 19 0 5 0 7 0-16 1 13 0-18 1 11 0 12 0-31 1 10 0 3 0 8 0 2 0 2 0 2 0-17 1 5 0 16 0-35 1 3 0 5 0 20 4-28 1 4 0 1 0 4 0 3 0 1 0 3 0 4 0 4 0 3 0 5 0-30 1 1 0 2 0 7 0 7 0 5 0 4 0-27 1 7 0 8 0 3 0-7 1 5 0 13 0-31 1 17 3-15 1 4 0 26 0-30 1 4 0 9 0-14 1 4 0 7 0 1 0 12 0 1 0 3 0 7 0 0 0-35 1 1 0 3 0 1 0 19 0 5 0 3 0 1 0 2 0-15 1 1 0 4 0 10 0-37 1 27 0-15 7 2 0 4 0 2 0 3 0 12 0-35 1 2 0 1 0 1 0 2 0 3 0 0 0 4 0 0 0 1 0 1 0 3 0 12 0 4 0 2 0 0 0-36 1 1 0 6 0 2 0 9 0 3 0 7 0 0 0 3 0 2 0-23 1 2 0 1 0 11 0 6 0 2 0 3 0 2 0-29 1 2 0 15 0 2 0-22 2 7 7 22 0-5 2-24 2 8 0-14 2 26 0-9 12 3 0-3 1 16 1 2 1-32 2 14 0-6 1 14 0 2 1-6 20 16 0-15 1-20 1 23 0 13 0-37 1 9 0 4 0-5 1 26 38-31 1 17 0 12 0-19 1 5 0 14 2-23 3 0 0 28 0" fill="none"/>
<rect x="1786.9" y="1406.7" width="38" height="6" rx="3.0" fill="#619cff" fill-opacity="0.80"/><rect x="1786.9" y="1362.8" width="38" height="6" rx="3.0" fill="#619cff" fill-opacity="0.65"/><path class="k5" d="M1791 1257l-2 4 10 8 3 1 0 1 5 2-7 3 2 0 3 1-13 1 12 0 16 0-30 2 2 0 8 4 1 1 4 0 9 0 4 0 3 1-7 1 1 0-23 1 24 0-9 6 12 1 3 0-19 1 5 0 2 0 7 0 5 0-5 1-25 1 9 0 4 0 12 2-6 6 4 0 0 0 3 0 3 0-29 1 1 0 26 0 6 0-31 1 0 0 3 0 5 0 8 0 10 0 2 0 1 0-33 1 2 0 19 0 9 0-22 2 11 8-21 1 23 0-8 1 1 0 12 0 2 0 4 0-28 1 1 0 3 0 2 0 1 0 6 0-15 1 5 0 1 0 3 0 5 0 4 0 2 0 4 0 8 0-25 1 7 0 0 0 6 0 3 0 8 0-22 1 8 0-12 13 9 0 6 0 1 0-24 1 12 0 2 0 3 0 2 0 0 0 1 0 2 0 9 0 0 0 0 0-30 1 1 0 1 0 1 0 3 0 0 0 5 0 4 0 0 0 3 0 1 0 2 0 2 0 4 0 8 0 0 0-36 1 0 0 2 0 12 0 9 0 2 0-16 1 2 0 0 0 7 0 4 0 11 0 1 0 1 0-12 21-9 1 10 1 5 2-22 1 21 0-2 39-17 2 8 0-13 1 18 1 13 1-28 1 26 0" fill="none"/>
<rect x="1862.2" y="1406.7" width="38" height="6" rx="3.0" fill="#f8766d" fill-opacity="1.00"/><rect x="1862.2" y="1362.8" width="38" height="6" rx="3.0" fill="#f8766d" fill-opacity="1.00"/><rect x="1862.2" y="1337.2" width="38" height="6" rx="3.0" fill="#f8766d" fill-opacity="1.00"/><rect x="1862.2" y="1319" width="38" height="6" rx="3.0" fill="#f8766d" fill-opacity="1.00"/><rect x="1862.2" y="1304.9" width="38" height="6" rx="3.0" fill="#f8766d" fill-opacity="1.00"/><rect x="1862.2" y="1293.3" width="38" height="6" rx="3.0" fill="#f8766d" fill-opacity="1.00"/><rect x="1862.2" y="1283.6" width="38" height="6" rx="3.0" fill="#f8766d" fill-opacity="0.90"/><rect x="1862.2" y="1275.1" width="38" height="6" rx="3.0" fill="#f8766d" fill-opacity="0.90"/><path class="k3" d="M1868 1066l2 5 27 1-12 2 1 1 7 1-16 1 19 0-29 2 16 1 7 0-2 1-4 1-8 1 17 0-17 1-2 2 9 0 3 0-7 1 18 0-26 1 18 1 1 0 1 0-22 1 22 0 7 1-21 1 21 0-10 1 3 0-28 1 10 0 13 0-21 1 24 0-25 1 28 0-18 1 2 0 20 0-21 2 12 0 1 0 5 0-8 1 10 0 1 0 3 0-16 1 9 0-15 1-1 1 7 0-20 1 9 0 26 0 2 0-27 1 25 0 1 0-29 1 0 0 12 0 2 0 8 1-26 1 13 0 2 0 13 1 2 0-33 1 6 0 28 0-30 1 0 0 8 0-7 1 6 0 8 0 2 0 9 0-24 1 6 0 18 0-27 1 9 0 16 0-4 1-6 1 0 0 2 0 8 0 4 0 3 0 2 0-25 1 3 0 16 0-28 1 4 0 13 0-15 1 21 0 2 0 0 0-28 1 8 0 0 0 6 0-8 1 8 0 14 0-27 1 8 0 8 0 0 0 4 0 5 0-21 1 15 0 3 0 8 1 1 0-31 1 14 0 6 0 12 0-32 1 5 0 6 0 16 0 2 0-24 1 3 0 1 0-10 1 11 0 15 0 6 0 0 1 2 0 1 0-33 1 1 0 6 0 7 0 17 0 1 0-30 1 10 0 7 0 7 0 5 0 4 0-21 1 14 0 2 0-30 1 2 0 10 0 1 0 8 0 14 0-29 1 12 0 10 0-29 1 4 0 9 0 9 0 4 0 2 0-15 1 4 0 10 0 2 0-28 1 4 0 8 0 10 0 7 0-20 1 2 0 21 0 1 0-33 1 3 0 8 0 3 0 3 0 3 0 3 0 4 0-29 1 1 0 13 0 12 0 1 0 5 0-26 1 1 0 2 0 2 0 5 0 9 0-11 1 2 0 3 0 1 0 12 0-22 1 1 0 0 0 9 0 2 0 4 0 0 0 5 0-20 1 4 0 10 0 12 0-35 1 14 0 10 0 1 0 2 0-24 1 4 0 1 0 3 0 2 0 19 0 0 0 1 0 2 0-29 1 3 0 3 0 10 0 10 0-34 1 2 0 11 0 8 0-21 1 1 0 2 0 4 0 2 0 5 0 14 0 3 0-25 1 2 0 1 0 2 0 6 0 4 0 6 0-17 1 3 0 4 0 2 0 2 0 1 0-21 1 8 0 0 0 1 0 0 0 7 0 1 0 4 0 5 0-20 1 3 0 12 0-22 1 3 0 6 0 3 0 4 0 1 0 15 0 3 0-25 1 2 0 3 0 2 0 6 0 3 0 4 0 3 0-27 1 11 0 2 0 0 0 7 0 7 0 2 0 0 0-32 1 0 0 4 0 2 0 18 0 7 0 1 0-31 1 12 0 2 0 15 0 2 0 1 0-36 1 3 0 5 0 2 0 27 0-29 1 4 0 6 0 1 0 3 0 0 0 2 0 4 0 0 0 7 0 0 0 2 0-28 1 9 0 15 0 4 0-38 1 1 0 5 0 3 0 12 0 4 0 1 0 2 0 1 0 4 0 1 0-27 1 0 0 0 0 19 0 5 0 2 0-31 1 2 0 3 0 2 0 19 0 4 0 3 0-33 1 0 0 5 0 0 0 5 0 4 0 5 0 2 0 3 0 4 0 3 0 4 0-34 1 1 0 6 0 5 0 15 0 8 0-24 1 1 0 2 0 1 0 3 0 10 0 4 0 1 0-33 1 1 0 1 0 22 0 5 0 5 0 1 0-38 1 10 0 0 0 1 0 4 0 1 0 2 0 5 0 3 0 1 0-23 1 4 0 1 0 7 0 0 0 9 0 11 0-30 1 0 0 10 0 1 0 4 0 0 0 4 0 2 0-19 1 0 0 1 0 3 0 0 0 3 0 5 0 5 0 1 0 3 0 4 0 0 0-30 1 9 0 1 0 4 0 12 0-25 1 2 0 2 0 5 0 2 0 4 0 3 0 1 0 8 0 4 0 1 0-26 1 3 0 0 0 5 0 4 0 12 0 2 0 1 0 0 0-33 1 2 0 5 0 10 0 5 0 1 0 2 0 7 0-29 1 2 0 0 0 0 0 2 0 8 0 2 0 3 0 4 0 1 0 7 0-29 1 0 0 1 0 10 0 1 0 2 0 10 0 3 0 1 0 1 0-34 1 4 0 0 0 1 0 1 0 1 0 2 0 5 0 9 0-25 1 0 0 6 0 8 0 1 0 1 0 5 0 3 0 5 0 4 0 1 0 1 0-33 1 6 0 1 0 9 0 2 0 6 0 10 0 1 0-28 1 0 0 1 0 0 0 1 0 2 0 0 0 6 0 12 0 1 0-31 1 0 0 1 0 1 0 10 0 1 0 3 0 2 0 2 0 6 0-20 1 2 0 6 0 0 0 2 0 1 0 2 0 1 0 3 0 2 0 6 0-29 1 1 0 4 0 3 0 1 0 6 0 2 0 2 0 12 0 1 0 0 0 1 0-33 1 2 0 8 0 1 0 6 0 4 0 1 0 2 0 3 0 2 0 2 0-32 1 1 0 8 0 1 0 0 0 1 0 0 0 5 0 12 0 2 0 3 0-25 1 7 0 2 0 6 0 2 0 1 0 4 0-32 1 3 0 1 0 1 0 0 0 4 0 3 0 5 0 1 0 3 0 4 0 1 0 3 0 6 0 1 0-35 1 6 0 11 0 0 0 9 0 3 0 1 0-24 1 1 0 4 0 8 0 4 0 3 0 3 0 1 0 1 0 1 0 2 0-30 1 0 0 8 0 1 0 1 0 6 0 3 0 2 0 3 0 0 0 4 0 3 0-35 1 1 0 0 0 12 0 2 0 0 0 1 0 1 0 7 0 11 0 0 0-33 1 5 0 0 0 2 0 3 0 2 0 8 0 9 0 0 0 1 0 2 0 2 0-37 1 2 0 3 0 1 0 8 0 4 0 10 0 4 0 4 0 2 0-38 1 2 0 2 0 3 0 8 0 3 0 1 0 7 0 0 0 3 0 1 0-28 1 0 0 1 0 5 0 6 0 4 0 1 0 2 0 9 0-29 1 3 0 3 0 1 0 1 0 1 0 3 0 3 0 0 0 3 0 4 0 0 0 0 0 1 0 11 0 1 0 1 0-34 1 2 0 1 0 7 0 8 0 3 0 11 0 2 0 0 0-35 1 0 0 7 0 2 0 4 0 4 0 1 0 0 0 9 0 0 0 1 0 6 0-34 1 1 0 9 0 3 0 4 0 7 0 0 0 1 0 2 0 4 0 4 0-26 1 13 0 0 0 3 0 3 0 1 0 2 0 0 0 3 0 0 0-36 1 1 0 2 0 6 0 2 0 2 0 4 0 2 0 1 0 2 0 15 0 1 0-31 1 1 0 0 0 4 0 2 0 2 0 3 0 7 0 3 0 1 0 2 0 1 0 1 0 1 0-33 1 8 0 5 0 8 0 6 0 3 0 1 0 2 0 2 0 0 0-33 1 4 0 4 0 3 0 0 0 1 0 0 0 4 0 4 0 2 0 1 0 0 0 6 0 1 0-28 1 2 0 3 0 0 0 1 0 5 0 4 0 3 0 1 0 1 0 1 0 7 0 2 0 1 0 1 0-32 1 1 0 4 0 3 0 5 0 3 0 14 0 2 0 0 0-38 1 6 0 1 0 0 0 1 0 0 0 2 0 3 0 0 0 6 0 7 0 3 0 2 0 3 0 3 0-30 1 0 0 3 0 5 0 2 0 3 0 5 0 3 0 5 0 4 0-34 1 2 0 3 0 7 0 8 0 0 0 1 0 2 0 1 0 1 0 4 0-27 1 1 0 3 0 6 0 1 0 3 0 1 0 8 0 2 0 2 0 5 0-31 1 3 0 1 0 1 0 8 0 0 0 2 0 0 0 3 0 0 0 0 0 4 0 0 0 4 0 1 0 2 0 2 0 0 0-33 1 4 0 5 0 11 0 3 0 0 0 2 0 2 0 4 0 1 0 0 0-32 1 0 0 10 0 2 0 1 0 5 0 4 0 4 0 1 0 1 0 5 0-36 1 2 0 1 0 0 0 6 0 0 0 0 0 15 0 2 0 2 0 1 0 1 0 1 0 0 0 1 0-32 1 6 0 1 0 6 0 6 0 5 0 0 0 1 0 1 0 2 0 1 0 5 0 1 0 1 0 1 0-30 1 1 0 2 0 7 0 4 0 4 0 1 0 3 0 2 0 0 0 1 0 2 0 0 0 2 0-37 1 0 0 16 0 2 0 4 0 4 0 1 0 2 0 8 0 0 0-31 1 7 0 2 0 0 0 4 0 0 0 1 0 0 0 5 0 1 0 1 0 1 0 1 0 8 0-36 1 8 0 2 0 3 0 1 0 1 0 2 0 4 0 1 0 1 0 5 0 2 0 4 0-33 1 3 0 7 0 8 0 2 0 3 0 5 0 0 0 1 0 4 0 2 0-30 1 4 0 4 0 2 0 1 0 1 0 2 0 0 0 1 0 1 0 7 0 2 0 4 0 2 0 0 0-32 1 0 0 9 0 0 0 3 0 10 0 3 0 2 0 1 0 1 0 3 0-37 1 7 0 7 0 1 0 2 0 4 0 2 0 3 0 1 0 1 0 6 0 1 0 1 0-36 1 4 0 6 0 6 0 0 0 1 0 3 0 1 0 2 0 0 0 1 0 3 0 4 0 5 0 1 0-38 1 2 0 7 0 3 0 0 0 2 0 0 0 2 0 0 0 1 0 4 0 0 0 1 0 2 0 6 0 6 0 1 0 0 0-29 1 1 0 2 0 4 0 6 0 4 0 9 0-32 1 3 0 0 0 1 0 3 0 0 0 2 0 1 0 0 0 4 0 3 0 1 0 5 0 1 0 2 0 5 0-32 1 3 0 0 0 4 0 0 0 5 0 3 0 3 0 6 0 7 0 1 0 2 0 1 0-36 1 1 0 2 0 3 0 1 0 1 0 3 0 0 0 1 0 5 0 6 0 1 0 3 0 5 0-31 1 12 0 1 0 2 0 3 0 2 0 0 0 0 0 0 0 1 0 1 0 3 0 1 0 4 0-26 1 2 0 2 0 0 0 1 0 2 0 0 0 9 0 1 0 2 0 5 0 4 0 1 0 2 0-34 1 2 0 1 0 4 0 2 0 2 0 3 0 5 0 2 0 2 0 2 0 1 0 6 0 4 0-36 1 10 0 7 0 0 0 2 0 2 0 0 0 3 0 0 0 5 0 2 0 1 0 1 0 1 0 1 0-33 1 5 0 6 0 0 0 1 0 1 0 3 0 2 0 5 0 1 0 0 0 2 0 5 0 3 0-37 1 4 0 4 0 3 0 6 0 2 0 0 0 1 0 0 0 7 0 1 0 3 0 0 0 1 0 5 0-36 1 3 0 2 0 5 0 0 0 3 0 0 0 1 0 2 0 0 0 11 0 1 0 0 0 3 0-32 1 3 0 4 0 12 0 0 0 2 0 0 0 6 0 1 0 0 0 2 0-29 1 6 0 1 0 9 0 4 0 1 0 2 0 0 0 7 0 1 0 0 0 1 0-31 1 0 0 4 0 1 0 1 0 12 0 0 0 0 0 3 0 1 0 0 0 0 0 5 0 1 0 6 0 1 0-32 1 0 0 2 0 2 0 0 0 1 0 2 0 1 0 1 0 0 0 0 0 6 0 1 0 5 0 0 0 2 0 6 0 3 0-35 1 1 0 0 0 4 0 2 0 7 0 1 0 2 0 1 0 0 0 3 0 2 0-21 1 7 0 2 0 1 0 5 0 4 0 0 0 2 0 1 0 1 0 0 0 2 0 0 0 2 0 5 0-34 1 0 0 1 0 5 0 2 0 1 0 3 0 1 0 0 0 2 0 3 0 3 0 2 0 1 0 1 0 2 0 5 0 0 0-35 1 2 0 3 0 5 0 6 0 3 0 1 0 9 0 3 0 1 0 1 0-31 1 4 0 1 0 1 0 3 0 2 0 7 0 1 0 2 0 2 0 1 0 5 0 1 0 1 0 3 0-34 1 2 0 0 0 1 0 0 0 1 0 3 0 5 0 0 0 1 0 1 0 5 0 0 0 7 0 3 0 2 0 4 0-36 1 0 0 0 0 0 0 3 0 1 0 13 0 2 0 4 0 5 0 0 0 2 0 0 0 1 0 5 0-37 1 4 0 4 0 2 0 3 0 1 0 3 0 2 0 3 0 3 0 1 0 1 0 1 0 4 0 1 0 2 0 2 0-35 1 0 0 3 0 0 0 3 0 1 0 1 0 0 0 2 0 0 0 3 0 1 0 4 0 0 0 6 0 0 0 0 0 1 0 1 0 0 0 0 0-20 1 1 0 0 0 2 0 3 0 0 0 1 0 2 0 1 0 3 0 0 0 0 0 1 0 0 0 2 0 1 0 1 0 0 0 0 0 4 0 1 0 1 0 1 0 1 0 0 0 0 0 1 0 0 0 2 0-35 1 0 0 2 0 2 0 1 0 1 0 3 0 4 0 2 0 0 0 1 0 6 0 1 0-14 1 3 0 5 0 15 0-32 1 2 0 0 0 3 0 2 0 11 0 13 0 0 0 2 0-35 1 2 0 0 0 2 0 6 0 2 0 4 0 4 0 2 0 12 0 3 0 0 0-35 1 0 0 1 0 1 0 3 0 0 0 1 0 4 0 1 0 2 0 1 0 1 0 5 0 1 0 5 0 1 0 1 0 2 0 1 0 4 0-35 1 0 0 3 0 0 0 1 0 1 0 1 0 3 0 0 0 2 0 1 0 5 0 0 0 0 0 1 0 1 0 1 0 0 0 0 0 1 0 3 0 4 0 4 0 2 0-37 1 5 0 1 0 5 0 0 0 1 0 1 0 1 0 2 0 4 0 1 0 0 0 14 0 0 0 1 0 1 0 1 0-25 1 5 0 2 0 2 0 1 0 3 0 9 0-34 1 1 0 2 0 7 0 7 0 10 0 0 0 8 0 1 0-36 1 3 0 4 0 8 0 1 0 1 0 4 0 0 0 1 0 4 0 2 0 7 0-35 1 1 0 1 0 4 0 1 0 3 0 0 0 1 0 0 0 1 0 3 0 0 0 7 0 4 0 3 0 1 0 1 0 4 0 1 0-30 1 3 0 1 0 2 0 1 0 2 0 1 0 1 0 0 0 1 0 3 0 3 0 0 0 2 0 0 0 0 0 0 0 2 0 0 0 3 0 1 0 0 0 3 0 1 0 1 0-36 1 1 0 5 0 4 0 1 0 0 0 2 0 3 0 0 0 0 0 1 0 2 0 1 0 0 0 1 0 0 0 0 0 1 0 1 0 1 0 1 0 1 0 0 0 1 0 0 0 1 0 1 0 0 0 1 0 0 0-19 1 1 0 7 0 7 0 0 0 1 0 1 0 1 0-29 1 13 0-7 1 6 0-9 1 3 0 5 0 3 0 2 0 0 0 3 0 1 0 5 0 1 0 6 0 1 0 1 0-35 1 1 0 1 0 1 0 0 0 1 0 1 0 1 0 3 0 2 0 2 0 2 0 2 0 0 0 1 0 1 0 0 0 3 0 1 0 1 0 1 0 0 0 0 0 2 0 1 0 3 0 1 0 0 0 0 0 1 0 1 0 0 0 3 0 0 0-38 1 4 0 1 0 2 0 0 0 1 0 1 0 0 0 1 0 1 0 2 0 2 0 1 0 0 0 1 0 2 0 1 0 0 0 1 0 1 0 0 0 2 0 3 0 0 0 1 0 1 0 1 0 0 0 1 0 1 0 1 0 3 0 0 0-35 1 0 0 1 0 2 0 0 0 2 0 1 0 0 0 1 0 1 0 3 0 2 0 3 0 3 0 1 0 1 0 0 0 4 0 0 0 1 0 1 0 3 0 2 0-31 1 1 0 0 0 5 0 14 0 1 0 3 0 2 0 6 0 0 0 3 0 0 0-32 1 4 0 1 1 8 0 9 0 2 0-28 1 6 0 1 0 0 0 1 0 1 0 0 0 12 0 3 0 6 0 0 0 4 0-35 1 0 0 1 0 1 0 2 0 1 0 0 0 5 0 5 0 1 0 4 0 0 0 1 0 0 0 3 0 0 0 2 0 0 0 0 0 1 0 1 0 1 0 0 0 2 0 1 0 1 0 1 0 0 0 2 0 1 0 0 0-36 1 0 0 1 0 0 0 1 0 0 0 2 0 0 0 1 0 0 0 0 0 1 0 1 0 0 0 0 0 1 0 1 0 1 0 3 0 1 0 0 0 0 0 2 0 1 0 2 0 2 0 2 0 2 0 1 0 1 0 0 0 0 0 1 0 3 0 0 0 0 0 4 0 1 0 0 0 1 0-38 1 2 0 1 0 0 0 3 0 3 0 0 0 0 0 1 0 0 0 1 0 0 0 0 0 1 0 2 0 1 0 1 0 1 0 3 0 0 0 4 0 1 0 0 0 0 0 1 0 1 0 0 0 1 0 1 0 0 0 0 0 2 0 0 0 1 0 2 0 1 0-34 1 3 0 1 0 4 0 2 0 0 0 1 0 1 0 1 0 20 0 1 0 2 0-28 1 9 0 2 0 2 0 0 0 2 0 6 0 5 0 3 0-11 1-24 1 32 0 2 0-35 1 8 0 1 0 4 0 2 0 0 0 7 0 1 0 4 0 0 0-28 1 0 0 0 0 1 0 10 0 2 0 1 0 4 0 1 0 1 0 0 0 2 0 10 0 1 0 4 0-37 1 1 0 0 0 1 0 1 0 2 0 2 0 0 0 1 0 0 0 0 0 1 0 5 0 0 0 1 0 1 0 0 0 1 0 1 0 0 0 1 0 0 0 0 0 2 0 0 0 1 0 1 0 1 0 0 0 0 0 0 0 3 0 1 0 1 0 0 0 1 0 1 0 1 0 1 0 0 0 2 0 0 0 1 0 0 0 0 0 0 0 0 0 1 0-37 1 1 0 1 0 1 0 1 0 1 0 2 0 1 0 0 0 6 0 0 0 0 0 1 0 0 0 1 0 1 0 2 0 0 0 0 0 1 0 1 0 4 0 1 0 1 0 0 0 0 0 4 0 1 0 1 0 1 0 1 0 0 0 0 0 1 0 1 0-37 1 0 0 3 0 0 0 2 0 0 0 0 0 0 0 2 0 0 0 1 0 2 0 0 0 0 0 3 0 3 0 0 0 1 0 3 0 3 0 0 0 2 0 0 0 0 0 2 0 0 0 0 0 2 0 2 0 0 0 1 0 0 0 0 0 0 0 2 0 2 0 0 0-36 1 1 0 3 0 7 0 5 0 3 0 3 0 5 0 0 0 2 0 3 0 5 0-32 1 5 0 23 0 1 0-30 1 2 1 5 1 21 0 3 0 1 0-36 1 1 0 8 0 2 0 1 0 1 0 6 0 0 0 1 0 1 0 3 0 1 0 1 0 5 0 0 0 1 0 1 0 1 0 2 0 1 0-37 1 0 0 1 0 0 0 2 0 0 0 1 0 1 0 0 0 1 0 0 0 2 0 0 0 0 0 2 0 0 0 1 0 0 0 1 0 0 0 0 0 0 0 2 0 1 0 0 0 1 0 1 0 2 0 0 0 2 0 0 0 1 0 1 0 3 0 1 0 1 0 2 0 0 0 1 0 1 0 0 0 1 0 0 0 0 0 1 0 1 0 0 0 2 0-37 1 2 0 0 0 0 0 1 0 0 0 1 0 0 0 1 0 1 0 1 0 1 0 0 0 0 0 1 0 2 0 0 0 0 0 4 0 1 0 1 0 0 0 1 0 0 0 2 0 0 0 0 0 1 0 1 0 0 0 1 0 2 0 0 0 0 0 1 0 2 0 0 0 2 0 1 0 1 0 1 0 0 0 0 0 1 0 0 0 1 0 0 0 2 0 0 0 0 0 0 0-37 1 0 0 1 0 1 0 1 0 0 0 0 0 2 0 3 0 0 0 0 0 1 0 0 0 1 0 0 0 1 0 2 0 2 0 1 0 1 0 1 0 2 0 0 0 1 0 0 0 1 0 0 0 1 0 1 0 2 0 0 0 1 0 0 0 1 0 0 0 2 0 0 0 1 0 2 0 1 0 0 0 2 0 0 0 1 0-37 1 3 0 1 0 2 0 0 0 2 0 0 0 1 0 1 0 0 0 3 0 1 0 1 0 3 0 0 0 1 0 2 0 1 0 0 0 0 0 0 0 1 0 1 0 1 0 3 0 1 0 0 0 1 0 3 0 0 0-28 1 2 0 19 0 1 0 1 0 2 0-20 1 16 0 6 0-24 4 17 1-17 2 10 0 6 0 0 0 4 1 5 0-28 1 16 0 3 1 9 0-18 8-4 1-2 2 10 0 1 0-6 3 14 0-16 1 4 0 14 0-30 12 11 0 5 0-1 1 10 0 1 0-20 3 10 0 21 0-5 2-8 19-5 1-18 2 18 0-13 1 1 1 2 0-4 1 11 0 20 0-26 38-2 1 27 0-2 1-30 1 1 0-3 2 14 0-11 2 0 0" fill="none"/>
<rect x="1918.7" y="1406.7" width="38" height="6" rx="3.0" fill="#00ba38" fill-opacity="1.00"/><rect x="1918.7" y="1362.8" width="38" height="6" rx="3.0" fill="#00ba38" fill-opacity="1.00"/><rect x="1918.7" y="1337.2" width="38" height="6" rx="3.0" fill="#00ba38" fill-opacity="1.00"/><rect x="1918.7" y="1319" width="38" height="6" rx="3.0" fill="#00ba38" fill-opacity="0.90"/><path class="k4" d="M1919 1227l38 1-15 2 11 2-5 4-9 5 17 2-12 2-9 1 8 1-3 1 8 0-25 2-3 1 1 0 17 1 13 0-20 2-9 2 30 1-3 1-28 2 29 0 4 2-29 1 10 0 11 0-10 1-17 1 37 0 0 2-30 2 10 0 3 0-1 1 12 0-29 1 5 0 28 0 2 0-6 1-30 4 23 0-14 1 0 0 1 0 4 0 14 0 5 0-32 1 10 0 6 0 6 0 4 0 4 0 1 0-31 1 1 0 2 0 3 0 8 0 12 0 6 0-27 1 2 0 9 0 5 0 10 0-12 1 7 0-12 2 15 1-22 1 6 0 6 0-18 1 2 0 7 0 2 0 11 0 6 0 2 0-33 1 1 0 2 0 1 0 5 0 2 0 1 0 4 0 0 0 1 0-8 1 7 0 2 0 3 0 13 0 1 0-17 1 11 0 5 0-33 5 7 0 7 0 21 0-36 1 0 0 2 0 7 0 6 0 5 0 5 0 11 0-36 1 0 0 6 0 2 0 0 0 1 0 3 0 6 0 4 0 0 0 7 0 3 0 3 0 1 0 1 0-29 1 8 0-3 1 4 0 2 0 3 0 10 0-29 1 14 0-13 7 13 0 9 0 2 0 1 0 4 0 1 0 3 0-36 1 1 0 3 0 2 0 1 0 4 0 5 0 2 0 1 0 0 0 4 0 0 0 1 0 4 0 3 0 2 0-31 1 5 0 0 0 0 0 6 0 9 0 3 0 0 0 2 0 3 0 2 0 0 0 2 0-24 1 1 0 2 0 1 0 2 0 6 0 6 0 1 0 1 0 5 0-34 1 35 0-14 8-22 1 30 1-19 1 13 1 11 0-11 1-24 1 23 1-13 12 2 0 18 0-17 1 17 0-11 1 4 0 6 1-3 2 9 0 2 22-32 1 15 0-6 2 6 0 13 0-11 1 5 0-8 1 11 0-2 38 3 0 0 0-22 3 25 1 1 0-29 1 21 0-6 1 3 0" fill="none"/>
<rect x="1975.2" y="1406.7" width="38" height="6" rx="3.0" fill="#619cff" fill-opacity="0.60"/><path class="k5" d="M1976 1234l7 5 0 4 0 2-2 1 4 0 15 1-3 1-8 2 3 1 9 0-22 1 10 0-2 4 5 0-5 1 15 1 10 0 1 4-29 1 16 0-13 1 22 0-19 2-8 3-3 1 9 0 6 0 5 1 0 1-12 1-5 3-6 1 21 0 2 0-21 1 3 0 5 0 14 0 5 0-11 5-14 2 5 0 20 0 7 0-21 1 4 0 2 0 1 0 1 0 9 0-8 1 9 0 1 0 3 0-16 1 0 0 9 0-8 2 12 4-28 1 1 0 19 0 4 0 3 0 4 0-27 1 2 0 8 0 4 0 7 0-26 1-4 1 7 0 8 0 9 0 8 1-24 7-8 1 15 0 10 0 2 0 3 0 1 0 1 0-29 1 4 0 8 0 1 0 4 0 8 0 2 0 5 0-34 1 6 0 2 0 8 0 18 0-32 1-2 9 16 1 5 0-22 1 0 0 0 0 0 0 2 0 12 0 5 0 5 0 3 0 3 0 4 0-29 1 13 0 13 0-10 1 3 0 4 0 1 0 6 0-26 1 0 0 6 0 1 0 4 0-2 13-14 1 18 0-18 1 19 0-24 1 1 0 4 0 1 0 2 0 1 0 3 0 1 0 2 0 5 0 1 0 7 0 7 0-32 1 9 0 6 0 5 0 12 0-34 1 0 0 6 0 6 0 14 0 4 0 3 0-32 1 13 18 3 2-11 1 6 0 8 0 2 0 0 0-24 1 14 0 2 0 1 0 5 0 2 0 0 0 4 0 10 0-38 1 2 0 1 0 8 0 5 0 2 0 2 0 0 0 5 0 0 0 8 0 5 0 0 0-36 1 14 0 1 0 2 0 4 0 3 0 12 0-34 1 8 0 3 0 2 0 5 0 1 0 3 0 6 0 5 3-30 36 15 0-7 1 18 1 4 0-37 3" fill="none"/>
<line x1="1314.5" y1="1296.3" x2="1314.5" y2="1125" stroke="#7a7a7a" stroke-width="1.9"/><polygon points="1290.8,1296.3 1338.2,1296.3 1338.2,1335.7 1333.2,1340.2 1338.2,1344.7 1338.2,1409.7 1290.8,1409.7 1290.8,1344.7 1295.8,1340.2 1290.8,1335.7" fill="none" stroke="#7a7a7a" stroke-width="1.9" stroke-linejoin="round"/><line x1="1295.8" y1="1340.2" x2="1333.2" y2="1340.2" stroke="#7a7a7a" stroke-width="3"/>
<line x1="1371" y1="1340.2" x2="1371" y2="1242.7" stroke="#7a7a7a" stroke-width="1.9"/><polygon points="1347.2,1340.2 1394.8,1340.2 1394.8,1361.3 1389.8,1365.8 1394.8,1370.3 1394.8,1409.7 1347.2,1409.7 1347.2,1370.3 1352.2,1365.8 1347.2,1361.3" fill="none" stroke="#7a7a7a" stroke-width="1.9" stroke-linejoin="round"/><line x1="1352.2" y1="1365.8" x2="1389.8" y2="1365.8" stroke="#7a7a7a" stroke-width="3"/>
<line x1="1427.5" y1="1322" x2="1427.5" y2="1192.4" stroke="#7a7a7a" stroke-width="1.9"/><polygon points="1403.8,1322 1451.2,1322 1451.2,1361.3 1446.2,1365.8 1451.2,1370.3 1451.2,1409.7 1403.8,1409.7 1403.8,1370.3 1408.8,1365.8 1403.8,1361.3" fill="none" stroke="#7a7a7a" stroke-width="1.9" stroke-linejoin="round"/><line x1="1408.8" y1="1365.8" x2="1446.2" y2="1365.8" stroke="#7a7a7a" stroke-width="3"/>
<line x1="1503.2" y1="1252.5" x2="1503.2" y2="1109.5" stroke="#7a7a7a" stroke-width="1.9"/><polygon points="1479.5,1252.5 1527,1252.5 1527,1303.4 1522,1307.9 1527,1312.4 1527,1409.7 1479.5,1409.7 1479.5,1312.4 1484.5,1307.9 1479.5,1303.4" fill="none" stroke="#7a7a7a" stroke-width="1.9" stroke-linejoin="round"/><line x1="1484.5" y1="1307.9" x2="1522" y2="1307.9" stroke="#7a7a7a" stroke-width="3"/>
<line x1="1559.7" y1="1340.2" x2="1559.7" y2="1242.7" stroke="#7a7a7a" stroke-width="1.9"/><polygon points="1536,1340.2 1583.5,1340.2 1583.5,1361.3 1578.5,1365.8 1583.5,1370.3 1583.5,1409.7 1536,1409.7 1536,1370.3 1541,1365.8 1536,1361.3" fill="none" stroke="#7a7a7a" stroke-width="1.9" stroke-linejoin="round"/><line x1="1541" y1="1365.8" x2="1578.5" y2="1365.8" stroke="#7a7a7a" stroke-width="3"/>
<line x1="1616.2" y1="1340.2" x2="1616.2" y2="1238.3" stroke="#7a7a7a" stroke-width="1.9"/><polygon points="1592.5,1340.2 1640,1340.2 1640,1361.3 1635,1365.8 1640,1370.3 1640,1409.7 1592.5,1409.7 1592.5,1370.3 1597.5,1365.8 1592.5,1361.3" fill="none" stroke="#7a7a7a" stroke-width="1.9" stroke-linejoin="round"/><line x1="1597.5" y1="1365.8" x2="1635" y2="1365.8" stroke="#7a7a7a" stroke-width="3"/>
<line x1="1692.9" y1="1220.1" x2="1692.9" y2="1088.6" stroke="#7a7a7a" stroke-width="1.9"/><line x1="1692.9" y1="1322" x2="1692.9" y2="1409.7" stroke="#7a7a7a" stroke-width="1.9"/><polygon points="1669.2,1220.1 1716.7,1220.1 1716.7,1259.5 1711.7,1264 1716.7,1268.5 1716.7,1322 1669.2,1322 1669.2,1268.5 1674.2,1264 1669.2,1259.5" fill="none" stroke="#7a7a7a" stroke-width="1.9" stroke-linejoin="round"/><line x1="1674.2" y1="1264" x2="1711.7" y2="1264" stroke="#7a7a7a" stroke-width="3"/>
<line x1="1749.4" y1="1340.2" x2="1749.4" y2="1238.3" stroke="#7a7a7a" stroke-width="1.9"/><polygon points="1725.7,1340.2 1773.2,1340.2 1773.2,1361.3 1768.2,1365.8 1773.2,1370.3 1773.2,1409.7 1725.7,1409.7 1725.7,1370.3 1730.7,1365.8 1725.7,1361.3" fill="none" stroke="#7a7a7a" stroke-width="1.9" stroke-linejoin="round"/><line x1="1730.7" y1="1365.8" x2="1768.2" y2="1365.8" stroke="#7a7a7a" stroke-width="3"/>
<line x1="1805.9" y1="1365.8" x2="1805.9" y2="1307.9" stroke="#7a7a7a" stroke-width="1.9"/><polygon points="1782.2,1365.8 1829.7,1365.8 1829.7,1405.2 1824.7,1409.7 1829.7,1414.2 1829.7,1409.7 1782.2,1409.7 1782.2,1414.2 1787.2,1409.7 1782.2,1405.2" fill="none" stroke="#7a7a7a" stroke-width="1.9" stroke-linejoin="round"/><line x1="1787.2" y1="1409.7" x2="1824.7" y2="1409.7" stroke="#7a7a7a" stroke-width="3"/>
<line x1="1881.2" y1="1234.3" x2="1881.2" y2="1065.6" stroke="#7a7a7a" stroke-width="1.9"/><line x1="1881.2" y1="1365.8" x2="1881.2" y2="1409.7" stroke="#7a7a7a" stroke-width="1.9"/><polygon points="1857.5,1234.3 1905,1234.3 1905,1291.8 1900,1296.3 1905,1300.8 1905,1365.8 1857.5,1365.8 1857.5,1300.8 1862.5,1296.3 1857.5,1291.8" fill="none" stroke="#7a7a7a" stroke-width="1.9" stroke-linejoin="round"/><line x1="1862.5" y1="1296.3" x2="1900" y2="1296.3" stroke="#7a7a7a" stroke-width="3"/>
<line x1="1937.7" y1="1322" x2="1937.7" y2="1220.1" stroke="#7a7a7a" stroke-width="1.9"/><polygon points="1914,1322 1961.5,1322 1961.5,1361.3 1956.5,1365.8 1961.5,1370.3 1961.5,1409.7 1914,1409.7 1914,1370.3 1919,1365.8 1914,1361.3" fill="none" stroke="#7a7a7a" stroke-width="1.9" stroke-linejoin="round"/><line x1="1919" y1="1365.8" x2="1956.5" y2="1365.8" stroke="#7a7a7a" stroke-width="3"/>
<line x1="1994.2" y1="1340.2" x2="1994.2" y2="1238.3" stroke="#7a7a7a" stroke-width="1.9"/><polygon points="1970.5,1340.2 2018,1340.2 2018,1361.3 2013,1365.8 2018,1370.3 2018,1409.7 1970.5,1409.7 1970.5,1370.3 1975.5,1365.8 1970.5,1361.3" fill="none" stroke="#7a7a7a" stroke-width="1.9" stroke-linejoin="round"/><line x1="1975.5" y1="1365.8" x2="2013" y2="1365.8" stroke="#7a7a7a" stroke-width="3"/>
<line x1="1258" y1="1051.3" x2="1258" y2="1429.9" stroke="#000" stroke-width="1.8"/>
<line x1="1257.1" y1="1429" x2="2050.6" y2="1429" stroke="#000" stroke-width="1.8"/>
<line x1="1252" y1="1118.3" x2="1258" y2="1118.3" stroke="#333" stroke-width="1.4"/>
<text x="1247" y="1124.3" font-size="17" fill="#4d4d4d" text-anchor="end">100</text>
<line x1="1252" y1="1264" x2="1258" y2="1264" stroke="#333" stroke-width="1.4"/>
<text x="1247" y="1270" font-size="17" fill="#4d4d4d" text-anchor="end">10</text>
<line x1="1252" y1="1409.7" x2="1258" y2="1409.7" stroke="#333" stroke-width="1.4"/>
<text x="1247" y="1415.7" font-size="17" fill="#4d4d4d" text-anchor="end">1</text>
<line x1="1371" y1="1429" x2="1371" y2="1435" stroke="#000" stroke-width="1.6"/>
<text x="1363.5" y="1462" font-size="29" fill="#000" text-anchor="middle">Library-1</text>
<line x1="1559.7" y1="1429" x2="1559.7" y2="1435" stroke="#000" stroke-width="1.6"/>
<text x="1559.5" y="1462" font-size="29" fill="#000" text-anchor="middle">Library-2</text>
<line x1="1749.4" y1="1429" x2="1749.4" y2="1435" stroke="#000" stroke-width="1.6"/>
<text x="1754.3" y="1462" font-size="29" fill="#000" text-anchor="middle">Library-3</text>
<line x1="1937.7" y1="1429" x2="1937.7" y2="1435" stroke="#000" stroke-width="1.6"/>
<text x="1949.3" y="1462" font-size="29" fill="#000" text-anchor="middle">Library-4</text>
<text font-size="32" text-anchor="middle" transform="translate(1157 1248) rotate(-90)">Number of 1-kb barcode</text>
<text font-size="32" text-anchor="middle" transform="translate(1199 1248) rotate(-90)">recovered per cell</text>
<circle cx="2041" cy="1062.6" r="13" fill="#f8766d"/>
<text x="2071.6" y="1074.1" font-size="31" fill="#1a1a1a">TT</text>
<circle cx="2041" cy="1103.2" r="13" fill="#00ba38"/>
<text x="2071.6" y="1114.7" font-size="31" fill="#1a1a1a">TN</text>
<circle cx="2041" cy="1146.8" r="13" fill="#619cff"/>
<text x="2071.6" y="1158.3" font-size="31" fill="#1a1a1a">NN</text>
<text x="-2" y="1595.8" font-size="52" fill="#000" font-weight="bold">e</text>
<path class="k6" d="M218 1657l-11 3 12 1 19 0-29 1-17 2 6 0 22 2-25 1-15 1 24 0-15 2 32 1 19 1-12 1 10 0-18 1-41 1 33 0-17 1 15 1 3 0 15 1-14 1 6 1 12 0-44 1 42 0-50 1 13 1 3 0 18 1 20 0-35 1 0 0-8 1 17 0 29 0-55 1 31 1-10 1 7 0-28 1 11 0 32 0-10 1-28 1 14 0 25 0 2 1-23 1 13 0-26 1 47 0 1 0-4 1-46 1 10 0 0 0 4 0-17 1 35 0-33 1 23 0 25 0-54 1 56 0-54 1 16 0 32 0-47 1 25 0-27 1 17 0 14 1 1 0-8 1 12 0 3 0-43 1 12 0 38 0-39 1 40 0 1 0-46 1 25 0 20 0-51 1 22 0 6 0 14 0 3 1 13 0 1 0-57 1 40 0 15 0-40 1 20 0 11 0-49 1 5 0 3 0 24 0-12 1 27 0 7 0-53 1 42 0 10 0-39 1 26 0 9 0-39 1 8 0 17 0 2 0 4 1 1 0 8 0 2 0-32 1 5 0 3 0-12 1 10 0 32 0-50 1 28 0 3 0 11 0-31 1 20 0-38 1 22 0 4 0 4 0-2 1 2 0 28 0 2 0-52 1 11 0 19 0-31 1 17 0 18 0-32 1 10 0 19 0 17 0-38 1 8 0 18 0 15 0-42 1 5 0 0 0 13 0 12 0-47 1 9 0 2 0 33 0 1 0-23 1 15 0-36 1 10 0 43 0-50 1 5 0 15 0 29 0-41 1 45 0-46 1 19 0 0 0 17 0-48 1 13 0 15 0 17 0 12 0-37 1 17 0 1 0-15 1 10 0 15 0-47 1 8 0 8 0 4 0-17 1 3 0 3 0 10 0 13 1 8 0 10 0-44 1 0 0 41 0 3 0-35 1 16 0 3 0 4 0 15 0-20 1 19 0 8 0-58 1 28 0 14 0 12 0-51 1 1 0 8 0 28 0 7 0 4 0-21 1 14 0-45 1 6 0 49 0 1 0-44 1 8 0 26 0 7 0 5 0-35 1 31 0 3 0-52 1 15 0 13 0 7 0 3 0-17 1 9 0 24 0-56 1 4 0 38 0 12 0-35 1 9 0 22 0-32 1 12 0 3 0 18 0-44 1 8 0 9 0 15 0-35 1 6 0 41 0 4 0-53 1 2 0 22 0 3 0-26 1 1 0 27 0 12 0 2 0 3 0-32 1 1 0 2 0-8 1 23 0 8 0 1 0 2 0-43 1 44 0-47 1 13 0 22 0 1 0-34 1 34 0 6 0 8 0-50 1 16 0 3 0 2 0 14 0 16 0-43 1 10 0 18 0 16 0-10 1 1 0 5 0-31 1 19 0 3 0 4 0-39 1 14 0 1 0 0 0-6 1 5 0 6 0 3 0-24 1 5 0 15 0 12 0 21 0-56 1 12 0 21 0 18 0-41 1 16 0 3 0 8 0-36 1 28 0 8 0 9 0 0 0-46 1 8 0 1 0 22 0 9 0 8 0-41 1 5 0 7 0 7 0 3 0 4 0 4 0 3 0-43 1 1 0 9 0 26 0 2 0 7 0 6 0-37 1 1 0 16 0 6 0 13 0 0 0-44 1 11 2 0 0 3 1 14 0 2 0 1 0-36 1 0 0 4 0 15 0 1 0 3 0 2 0 13 0 4 0-41 1 19 0 10 0 16 0 4 0 1 0 3 0-35 1 13 0-14 1 19 0-14 1 28 0 1 0 6 0-52 1 15 0 6 0 2 0 17 0-46 1 7 0 4 0 18 0 2 0 18 0 3 0-53 1 13 0 8 0 0 0 5 0 19 0-21 1 3 0 25 1-43 1 1 0 12 0 16 0 1 0 12 0 3 0-52 1 12 0 1 0 2 0 1 0 5 0 3 0 11 0 4 0 2 0 1 0 12 0-39 1 2 0 9 0 24 0 8 0-53 1 16 0 30 0-35 2-18 1 35 0 5 0 7 0 5 0-50 1 8 0 10 0 10 0 2 0 4 0 6 0-42 1 13 0 5 0 3 0 11 0 2 0 6 0 16 0 5 0-55 1 2 0 1 0 7 0 17 0 3 0 3 0 13 0 2 0 6 0-54 1 41 0-46 3 16 0 11 0 8 0-35 1 4 0 6 0 7 0 31 0 9 0-45 1 6 0 7 0 2 0 6 0 7 0 6 0 3 0 2 0 2 0 1 0 1 0 2 0-56 1 2 0 4 0 8 0 1 0 1 0 1 0 30 0 1 0 0 0 2 0 4 0 3 0 1 0-48 1 15 0 14 0 3 0 8 0 3 0-39 1 15 0 18 0-5 4 14 0-47 1 3 0 2 0 0 0 3 0 2 0 1 0 12 0 8 0 0 0 8 0 2 0-53 1 4 0 1 0 6 0 5 0 3 0 2 0 0 0 16 0 2 0 4 0 1 0 2 0 1 0 1 0 0 0 7 0 2 0 3 0-59 1 4 0 5 0 15 0 4 0 7 0 12 0 5 0 6 0 2 0-53 1 15 0 9 0 29 0-59 1 6 4-7 1 10 0 25 0-26 1 0 0 17 0 1 0 2 0 18 0 0 0 3 0 5 0 5 0-61 1 12 0 11 0 2 0 16 0 7 0 7 0 1 0-52 1 0 0 19 0 5 0 8 0 7 0 2 0 5 0 4 0 5 0-59 1 10 0 4 0 9 0 6 0 3 0 6 0 2 0 6 0 5 0 4 0 5 0-32 1 20 0 6 0 1 0-45 7 2 0 4 1 2 0 3 0 1 0 12 0 11 0 4 0 9 0-53 1 7 0 1 0 9 0 1 0 0 0 8 0 3 0 4 0 4 0 6 0 13 0-54 1 6 0 0 0 1 0 1 0 4 0 4 0 1 0 1 0 8 0 1 0 22 0 4 0-60 1 1 0 7 0 4 0 12 0 1 0 13 0 0 0 2 0 0 0 10 0 1 0 4 0 3 0-44 1 1 0 4 0 35 0 3 0-10 11-32 1 39 0-54 1 10 0 2 0 14 0 4 0 3 0 7 0 17 0 1 0 2 0-56 1 10 0 5 0 2 0 0 0 2 0 3 0 5 0 2 0 0 0 1 0 0 0 2 0 2 0 3 0 4 0 8 0-38 1 4 0 1 0 13 0 5 0 1 0 5 0 1 0 4 0 1 0 0 0 1 0 2 0 3 0 2 0 1 0-55 1 0 0 1 0 16 0 6 0 13 0 16 0-51 2 34 16 10 0-26 1 23 0 3 0-48 1 4 0 0 0 3 0 6 0 7 0 2 0 5 0 7 0 15 0 11 0-56 1 5 0 0 0 2 0 2 0 3 0 2 0 1 0 3 0 1 0 2 0 1 0 1 0 4 0 1 0 5 0 9 0 0 0 2 0 3 0 1 0 5 0 1 0 2 0-55 1 5 0 1 0 2 0 1 0 5 0 5 0 24 0 5 0 2 0-54 1 0 0 2 0 3 0 7 0 11 0 8 0 13 0-25 1 33 0-22 33-21 1 6 0 13 0 27 0-53 1 3 0 3 0 8 0 1 0 1 0 6 0 8 0 1 0 1 0 4 0 0 0 4 0 6 0 2 0 8 0-57 1 2 0 2 0 0 0 6 0 2 0 4 0 3 0 5 0 3 0 1 0 1 0 1 0 2 0 2 0 0 0 1 0 6 0 5 0 6 0-53 1 1 0 0 0 4 0 5 0 2 0 5 0 1 0 10 0 1 0 5 0 3 0 15 0 3 0 2 0 1 0-20 1 7 0 12 0" fill="none"/>
<rect x="257.7" y="1915.8" width="62" height="4.5" rx="2.25" fill="#b8d2e6" fill-opacity="0.54"/><path class="k7" d="M268 1653l40 6 2 0-22 1-7 2-2 1 0 1 19 0-32 1-2 1 55 0-3 1-48 1 49 0-45 2 35 0-29 1 5 0 30 0-24 1-26 1 15 0 12 1-31 1 0 0 23 0-12 1 10 0 28 0 9 0-14 1 4 0-12 1-34 1 17 0 32 0 8 0-31 1-3 1 18 0 5 0 3 0-52 2 8 0 9 0 28 0-41 1 40 0 3 0 10 0-33 1 35 0-46 1 12 0 15 0 3 0 6 0-27 1 34 0-31 1 28 0 5 0-22 1 13 0-48 1 11 0 23 0-20 1 4 0 7 0 3 0 22 0-48 1 22 0 4 0 5 0 2 0-35 1 49 0-50 1 40 0 2 0 3 0-44 1-1 1 20 0 19 0 10 0-47 1 10 0 30 0 4 0 2 0 8 0-46 1 23 0 18 0-12 1 8 0 7 0 5 0-56 1 19 0 8 0 7 0 14 0 10 0-38 1 26 0-38 1 2 0 21 0 26 0-52 1 8 0 11 0 10 0 21 0-53 1 13 0 18 0 21 0 4 0-61 1 8 0 5 0 11 0 0 0 34 0-54 1 12 0 2 0-14 1 8 0 3 0 9 0-23 1 15 0 16 0 2 0 7 0 19 0-38 1 3 0 17 0 17 0 0 0-59 1 5 0 4 0-1 1 10 0 3 0 31 0 4 0-42 1 17 0 3 0 15 0-36 1 1 0 0 0 31 0 0 0 12 0-51 1 5 0 1 0 19 0 6 0 11 0 2 0 9 0-56 1 17 0 16 0 3 0-35 1 8 0 24 0 1 0 18 0-29 1 16 0 16 0-58 1 9 0 1 0 26 0 14 0-37 1 1 0 3 0 9 0 25 0 5 0 1 0-41 1 7 0-20 1 8 0 8 0 20 0 7 0 0 0 6 0-50 1 27 0 1 0 8 0 6 0 11 0-54 1 4 0 15 0 14 0 3 0 17 0 6 0-37 1 2 0 14 0 1 0 8 0-31 1 20 0 10 0 4 0-40 1 3 0 7 0 5 0 8 0-23 1 1 0 12 0 8 0 10 0 6 0-42 1 0 0 14 0 26 0 0 0 4 0 8 0 1 0-36 1 3 0 5 0 1 0 20 0-52 1 0 0 15 0 10 0 10 0-31 1 3 0 23 0 1 0 2 0 15 0 4 0 5 0-54 1 9 0 8 0 34 0-46 1 28 0 6 0 7 0-28 1 11 0 3 0 0 0 8 0 1 0-15 1 4 0 6 0 5 0 2 0 5 0 4 0 6 0-59 1 4 0 14 0 5 0 8 0 22 0-53 1 14 0 21 0 1 0 9 0 14 0-55 1 2 0 9 0 14 0 6 0 12 0 0 0 4 0-46 1 3 0 47 0 4 0-45 1 7 0 14 0 18 0-54 1 2 0 2 0 13 0 2 0 11 0 11 0 9 0 9 0-51 1 2 0 8 0 18 0 5 0 10 0-11 1 4 0-30 1 5 0 0 0 1 0 1 0 3 0 3 0 0 0 21 0 6 0-46 1 2 0 31 0-21 1 10 0 1 0 0 0 11 0 15 0 1 0-39 1 5 0 7 0 3 0 4 0 5 0 5 0 12 0-58 1 6 0 22 0 5 0 8 0 2 0 4 0 8 0-55 1 6 0 3 0 28 0-35 1 8 0 17 0 2 0 0 0 29 0-48 1 8 0 7 0-26 1 0 0 16 0 1 0 0 0 1 0 17 0 8 0 4 0 11 0-51 1 13 0 4 0 3 0 8 0 8 0 3 0 14 0-62 1 18 0 12 0 22 0 5 0-54 1 1 0 13 0 9 0 2 0 3 0 17 0 10 0 1 0-50 1 7 0 3 0 6 0 4 0 17 0 9 0 3 0-58 1 21 0 6 0 4 0 8 0 4 0 18 0-58 1 30 0 8 0 12 0-53 1 4 0 30 0 5 0 4 0 0 0-25 1 1 0 16 0 3 0 1 0 10 0 9 0 0 0-50 1 0 0 0 0 10 0 7 0 5 0 3 0 8 0 7 0-45 1 11 0 6 0 6 0 17 0 1 0 8 0 6 0-40 1 1 0 2 0 23 0 8 0-45 1 10 0 0 0 15 0 8 0 8 0-33 1 22 0 6 0 1 0 5 0 5 0 2 0 1 0-50 1 15 0 3 0 2 0 5 0 6 0 8 0 11 0 3 0-59 1 3 0 7 0 19 0 17 0 12 0-45 1 5 0 9 0 0 0 1 0 5 0 2 0 14 0-48 1 11 0 13 0 1 0 3 0 1 0 1 0 3 0 2 0 11 0 0 0-8 1 5 0 11 0-53 1 4 0 9 0 2 0 30 0 5 0 0 0 6 0-26 1 3 0 9 0 5 0 5 0-53 1 2 0 2 0 8 0 0 0 20 0 0 0 14 0 3 0-44 1 2 0 1 0 3 0 37 0 7 0-56 1 13 0 1 0 14 0 8 0 4 0 1 0-35 1 3 0 2 0 20 0 2 0 20 0-36 1 2 0 1 0 4 0 5 0 3 0 6 0 1 0 0 0 9 0 0 0 7 0 0 0-56 1 4 0 13 0 3 0 23 0 13 0 0 0 5 0-61 1 12 0 2 0 17 0 3 0 3 0 1 0-22 1 5 0 0 0 1 0 20 0-23 1 2 0 5 0 8 0 3 0 13 0-48 1 9 0 3 0 8 0 1 0 36 0 1 0-57 1 14 0 4 0 7 0 4 0 4 0 5 0 6 0 9 0-54 1 7 0 10 0 4 0 4 0 0 0 4 0 1 0 17 0 3 0 5 0 1 0-3 1 0 0-51 1 31 0 4 0 9 0-47 1 0 0 3 0 10 0 15 0 18 0 3 0 9 0-59 1 3 0 6 0 0 0 3 0 1 0 1 0 5 0 5 0 9 0 1 0 3 0 5 0 7 0 5 0 0 0 3 0-56 1 5 0 5 0 4 0 2 0 4 0 2 0 4 0 7 0 1 0 10 0 2 0 12 0-47 1 11 0-3 1 27 0 6 0-47 2 1 0 10 0 5 0 1 0 3 0 3 0 0 0 2 0 9 0 1 0 12 0-53 1 1 0 4 0 6 0 3 0 7 0 3 0 2 0 0 0 4 0 0 0 1 0 10 0 6 0 1 0 2 0 5 0 4 0 0 0-59 1 5 0 5 0 17 0 2 0 1 0 5 0 1 0 0 0 4 0-38 1 2 0 5 0 17 0 4 0 4 0 3 0 15 0-16 1 12 0-31 1-7 1 6 0 27 0 15 0-55 1 6 0 1 0 2 0 3 0 4 0 4 0 3 0 5 0 1 0 7 0 4 0 4 0 2 0 9 0 1 0-55 1 0 0 1 0 0 0 1 0 3 0 3 0 3 0 1 0 2 0 5 0 1 0 0 0 3 0 1 0 8 0 3 0 7 0 1 0 1 0 4 0 3 0 4 0 2 0-52 1 1 0 1 0 4 0 15 0 4 0 9 0 0 0 12 0-46 1 1 0 23 0 7 0 4 0 4 0 7 0 5 0-42 1 42 1-29 1-21 1 1 0 9 0 2 0 9 0 23 0-51 1 5 0 2 0 2 0 6 0 8 0 0 0 0 0 12 0 3 0 0 0 1 0 1 0 5 0 2 0 8 0-58 1 19 0 0 0 1 0 0 0 1 0 1 0 0 0 1 0 2 0 4 0 4 0 8 0 3 0 6 0 1 0 2 0 2 0 0 0-35 1 7 0 27 0 1 0-31 5 34 0-53 1 2 0 5 0 1 0 15 0 10 0 12 0-49 1 6 0 10 0 1 0 2 0 0 0 0 0 8 0 2 0 1 0 1 0 0 0 1 0 2 0 7 0 5 0 1 0 5 0 0 0 4 0 5 0-58 1 1 0 14 0 5 0 3 0 8 0 1 0 2 0 3 0 13 0 5 0 0 0-39 1 11 0 8 0 17 0 1 0 2 1-51 5 3 0 29 0 5 0 7 0 8 0-51 1 1 0 5 0 0 0 5 0 2 0 6 0 6 0 10 0 14 0-57 1 8 0 7 0 1 0 1 0 4 0 4 0 9 0 2 0 3 0 7 0 3 0 7 0 2 0 1 0-58 1 0 0 10 0 2 0 1 0 4 0 3 0 1 0 9 0 0 0 1 0 14 0-23 1 2 0 5 0 18 0 4 0 5 0-55 1 8 0 10 0 14 0 26 0-56 8 16 0 3 0 5 0 19 0 13 0-58 1 17 0 3 0 7 0 5 0 2 0 2 0 1 0 3 0 6 0 3 0 5 0 0 0 3 0-59 1 1 0 6 0 5 0 3 0 3 0 3 0 5 0 9 0 1 0 14 0 4 0 3 0-56 1 6 0 1 0 2 0 12 0 2 0 5 0 2 0 1 0 0 0 1 0 0 0 1 0 1 0 0 0 10 0 9 0 1 0 0 0 2 0 0 0 3 0-57 1 25 0 20 0-34 1 33 0-48 11 5 0 29 0 0 0 15 0-45 1 1 0 9 0 6 0 2 0 13 0 2 0 4 0 0 0 12 0 0 0 1 0 6 0-59 1 2 0 1 0 2 0 8 0 1 0 0 0 6 0 3 0 1 0 0 0 7 0 6 0 1 0 1 0 1 0 5 0 11 0-51 1 4 0 0 0 1 0 0 0 12 0 2 0 1 0 7 0 1 0 4 0 2 0 3 0 8 0 1 0 4 0 1 0 1 0-49 1 3 0 3 0 10 0 20 0 2 1-45 18 17 0 8 0 21 0 13 0-47 1 5 0 2 0 5 0 6 0 6 0 3 0 6 0 1 0 0 0 1 0 2 0 0 0 1 0 2 0-52 1 3 0 6 0 2 0 1 0 4 0 2 0 0 0 2 0 7 0 2 0 0 0 1 0 4 0 2 0 2 0 1 0 1 0 1 0 8 0 6 0 1 0 1 0-58 1 3 0 1 0 3 0 12 0 5 0 1 0 3 0 1 0 0 0 17 0 1 0 2 0 4 0 5 0-53 1 15 0 4 0 22 0 3 0-46 1 24 0 10 1 9 32 3 0-35 1-4 2 32 1-10 2" fill="none"/>
<rect x="336.7" y="1915.8" width="62" height="4.5" rx="2.25" fill="#6aaed6" fill-opacity="0.72"/><rect x="336.7" y="1876.7" width="62" height="4.5" rx="2.25" fill="#6aaed6" fill-opacity="0.63"/><rect x="336.7" y="1853.9" width="62" height="4.5" rx="2.25" fill="#6aaed6" fill-opacity="0.63"/><rect x="336.7" y="1837.7" width="62" height="4.5" rx="2.25" fill="#6aaed6" fill-opacity="0.63"/><rect x="336.7" y="1825.1" width="62" height="4.5" rx="2.25" fill="#6aaed6" fill-opacity="0.63"/><rect x="336.7" y="1814.8" width="62" height="4.5" rx="2.25" fill="#6aaed6" fill-opacity="0.54"/><path class="k8" d="M349 1621l33 1 0 2 12 3-11 1-46 1 12 1-3 1 47 1-27 1-18 1 46 0-55 1 20 0-4 1 13 0-19 1 44 0-46 1 46 0-49 1 54 0-55 1 44 0 11 0-22 1 17 0-50 1 25 0 7 0 14 0-33 1 22 0 4 0-44 1 2 0 45 0-38 1 32 0 1 0-17 1 11 0 0 0-18 1 1 0 23 0 2 0-38 1 31 0 3 0 11 0-49 1 6 0 39 0 3 0-36 1 1 0 17 0 21 0-51 1 1 0 9 0 3 0-8 1 2 0 7 0 39 0-36 1 13 0 11 0 9 0-42 1 3 0 5 0 2 0 23 0-26 1 3 0 28 0-21 1 2 0 2 0 25 0 0 0 2 0-56 1 20 0 1 0 22 0 10 0-52 1 13 0 0 0 10 0 3 0 0 1 24 0 0 0 1 0 4 0-45 1 18 0 21 0 1 0 4 0-33 1 2 0 11 0 7 0 15 0-59 1 10 0 18 0 19 0 7 0 0 0 6 0-57 1 3 0 4 0 9 0 3 0 6 0-5 1 15 0 8 0 4 0 4 0 5 0-42 1 18 0 7 0 6 0 1 0 5 0-52 1 2 0 12 0 3 0 18 0 2 0-25 1 14 0 2 0 24 0 3 0 0 0-56 1 5 0 11 0 2 0 33 0-53 1 10 0 18 0 5 0 2 0 15 0 5 0-53 1 13 0 8 0 0 0 0 0 10 0 11 0-26 1 3 0 1 0 12 0 0 0 3 0 7 0 10 0-53 1 1 0 19 0 13 0 0 0 6 0 0 0 2 0 14 0-52 1 8 0 3 0 17 0 3 0 12 0 8 0 3 0-46 1 6 0 1 0 25 0 5 0 5 0 0 0 8 0-56 1 3 0 6 0 7 0 1 0 3 0 10 0-31 1 11 0 16 0 7 0 2 0 13 0 4 0-43 1 13 0 5 0 2 0 4 0 2 0 4 0 5 0 4 0 5 0 1 0-58 1 29 0 12 0 1 0 8 0 3 0 6 0-60 1 4 0 8 0 21 0 4 0 9 0 6 0 6 0-56 1 1 0 2 0 8 0 8 0 1 0 11 0 15 0 11 0-60 1 4 0 10 0 5 0 0 0 1 0 6 0 3 0 1 0 13 0 4 0 5 0-51 1 8 0 6 0 19 0 7 0 0 0 7 0 8 0-51 1 1 0 5 0 2 0 12 0 4 0 8 0 4 0 6 0 13 0-60 1 1 0 2 0 0 0 3 0 6 0 14 0 4 0 1 0 1 0 2 0 10 0-31 1 0 0 4 0 0 0 6 0 2 0 13 0 2 0 1 0 5 0 8 0-54 1 1 0 9 0 20 0 1 0 6 0 6 0 7 0 8 0 0 0-58 1 9 0 6 0 3 0 1 0 22 0 6 0 3 0 4 0 2 0 4 0-42 1 1 0 4 0 4 0 2 0 18 0 5 0 1 0 2 0 1 0 5 0-59 1 9 0 4 0 0 0 5 0 7 0 5 0 3 0 5 0 6 0 2 0 6 0-51 1 10 0 2 0 0 0 6 0 1 0 1 0 3 0 3 0 1 0 28 0-54 1 4 0 8 0 0 0 4 0 12 0 2 0 1 0 8 0 2 0 16 0-61 1 2 0 8 0 6 0 8 0 21 0 3 0 2 0 2 0 7 0 1 0-53 1 2 0 7 0 4 0 0 0 11 0 4 0 4 0 5 0 1 0 1 0 2 0 7 0-47 1 2 0 9 0 2 0 6 0 3 0 7 0 3 0 4 0 3 0 12 0 1 0-59 1 1 0 6 0 10 0 3 0 2 0 0 0 1 0 2 0 16 0 14 0-52 1 1 0 2 0 1 0 6 0 1 0 7 0 17 0 8 0 5 0 1 0 5 0 2 0-59 1 2 0 1 0 0 0 4 0 7 0 2 0 8 0 0 0 9 0 1 0 21 0 1 0 1 0-54 1 6 0 1 0 8 0 0 0 28 0 4 0 3 0 3 0 3 0 2 0-55 1 2 0 5 0 11 0 4 0 1 0 8 0 2 0 5 0 1 0 11 0 3 0 2 0-60 1 8 0 1 0 4 0 1 0 1 0 7 0 7 0 4 0 2 0 4 0 13 0 2 0 0 0 2 0-57 1 3 0 0 0 9 0 2 0 12 0 1 0 15 0 2 0 1 0 5 0 9 0-55 1 1 0 5 0 10 0 0 0 1 0 7 0 5 0 0 0 5 0 10 0 1 0 4 0 5 0 2 0-60 1 10 0 6 0 6 0 6 0 1 0 7 0 2 0 3 0 4 0 10 0 1 0 3 0-58 1 2 0 1 0 2 0 5 0 2 0 2 0 17 0 0 0 4 0 14 0 0 0 4 0 1 0 1 0-55 1 5 0 9 0 12 0 1 0 0 0 0 0 1 0 1 0 9 0 4 0 6 0 2 0 3 0 2 0-50 1 2 0 0 0 17 0 2 0 6 0 2 0 7 0 1 0 1 0 8 0 5 0 3 0-51 1 3 0 1 0 2 0 4 0 2 0 6 0 6 0 0 0 6 0 12 0 1 0 5 0 1 0-46 1 4 0 0 0 3 0 3 0 1 0 7 0 0 0 17 0 2 0 1 0 0 0 5 0 3 0 2 0-57 1 1 0 1 0 4 0 5 0 0 0 1 0 2 0 11 0 3 0 1 0 1 0 5 0 7 0 2 0 3 0-46 1 7 0 2 0 4 0 3 0 7 0 11 0 5 0 7 0 0 0 1 0 3 0 1 0 0 0 1 0-53 1 2 0 2 0 2 0 4 0 0 0 2 0 0 0 4 0 17 0 7 0 0 0 2 0 2 0 3 0 1 0-52 1 1 0 1 0 3 0 1 0 2 0 4 0 2 0 7 0 11 0 2 0 2 0 5 0 4 0 3 0-44 1 6 0 10 0 3 0 2 0 6 0 1 0 1 0 5 0 4 0 2 0 1 0 1 0 2 0 4 0 7 0 1 0-60 1 1 0 5 0 3 0 2 0 0 0 5 0 4 0 6 0 3 0 4 0 14 0 3 0 1 0 1 0 2 0-54 1 4 0 8 0 1 0 0 0 13 0 0 0 1 0 2 0 2 0 9 0 2 0 7 0 6 0 6 0-56 1 1 0 7 0 3 0 2 0 1 0 6 0 2 0 5 0 6 0 2 0 4 0 5 0 5 0 6 0 0 0-60 1 4 0 0 0 0 0 11 0 3 0 4 0 9 0 1 0 7 0 4 0 3 0 4 0 2 0 3 0 1 0 5 0-61 1 1 0 7 0 3 0 2 0 14 0 1 0 2 0 2 0 1 0 5 0 1 0 8 0 1 0 4 0-43 1 5 0 1 0 6 0 0 0 0 0 1 0 3 0 8 0 11 0 0 0 1 0 8 0 1 0 0 0 4 0 3 0-54 1 7 0 3 0 7 0 5 0 0 0 8 0 2 0 11 0 1 0 3 0 1 0 2 0 2 0 2 0-57 1 1 0 3 0 10 0 1 0 2 0 1 0 4 0 4 0 2 0 0 0 9 0 3 0 4 0 1 0 5 0 7 0-61 1 1 0 2 0 1 0 1 0 1 0 1 0 2 0 4 0 1 0 1 0 3 0 5 0 9 0 15 0 5 0-50 1 7 0 5 0 2 0 7 0 4 0 4 0 1 0 5 0 11 0 3 0 3 0 4 0 1 0 2 0-56 1 1 0 1 0 0 0 1 0 2 0 4 0 1 0 4 0 0 0 4 0 6 0 5 0 3 0 4 0 4 0 2 0 9 0 0 0 2 0-53 1 2 0 0 0 2 0 1 0 2 0 10 0 4 0 6 0 5 0 7 0 1 0 9 0 4 0 2 0-57 1 8 0 1 0 1 0 1 0 1 0 3 0 2 0 1 0 3 0 8 0 0 0 5 0 1 0 1 0 5 0 2 0 13 0-58 1 9 0 0 0 1 0 1 0 5 0 5 0 21 0 0 0 1 0 0 0 1 0 1 0 2 0 2 0 2 0 3 0-54 1 11 0 4 0 1 0 4 0 7 0 5 0 3 0 5 0 2 0 7 0 1 0 6 0 2 0-52 1 1 0 7 0 2 0 2 0 1 0 11 0 12 0 0 0 1 0 1 0 0 0 0 0 1 0 2 0 0 0 3 0 0 0 5 0 2 0-58 1 2 0 9 0 3 0 3 0 16 0 1 0 1 0 1 0 0 0 0 0 2 0 1 0 1 0 10 0 4 0 5 0-58 1 0 0 2 0 10 0 4 0 11 0 2 0 1 0 1 0 10 0 7 0 1 0 1 0 0 0 1 0 2 0 0 0 3 0 3 0-50 1 1 0 3 0 0 0 8 0 4 0 4 0 9 0 0 0 1 0 1 0 8 0 8 0 1 0 0 0 2 0 1 0-60 1 0 0 2 0 2 0 6 0 5 0 11 0 1 0 1 0 11 0 2 0 6 0 0 0 1 0 1 0 2 0 4 0 2 0-51 1 0 0 3 0 1 0 5 0 10 0 3 0 1 0 2 0 2 0 3 0 1 0 8 0 2 0 5 0-45 1 4 0 8 0 0 0 1 0 2 0 1 0 4 0 1 0 6 0 3 0 6 0 1 0 1 0 3 0 2 0 7 0 4 0-50 1 3 0 5 0 3 0 2 0 4 0 5 0 1 0 6 0 1 0 1 0 1 0 2 0 5 0 1 0 0 0 1 0 1 0 3 0-57 1 2 0 6 0 2 0 2 0 0 0 5 0 0 0 0 0 1 0 3 0 1 0 6 0 2 0 1 0 13 0 7 0 1 0 4 0-52 1 7 0 12 0 9 0 6 0 3 0 4 0 7 0 1 0 2 0 0 0 2 0 1 0 1 0 1 0 1 0-59 1 1 0 1 0 3 0 1 0 2 0 7 0 3 0 0 0 5 0 2 0 1 0 3 0 1 0 4 0 4 0 3 0 4 0 10 0 1 0-54 1 4 0 3 0 2 0 2 0 4 0 0 0 4 0 2 0 2 0 4 0 13 0 0 0 2 0 2 0 5 0 4 0 0 0 4 0-61 1 1 0 4 0 7 0 0 0 9 0 2 0 11 0 0 0 3 0 0 0 4 0 1 0 4 0 10 0 4 0-60 1 7 0 0 0 1 0 0 0 18 0 0 0 1 0 2 0 1 0 1 0 2 0 1 0 1 0 3 0 3 0 2 0 10 0 8 0-61 1 1 0 5 0 0 0 1 0 1 0 0 0 6 0 22 0 0 0 3 0 2 0 5 0 6 0 3 0 4 0 0 0 1 0 1 0-61 1 3 0 2 0 4 0 4 0 6 0 2 0 5 0 13 0 2 0 5 0 2 0 2 0 2 0 0 0 1 0 2 0 5 0 0 0-57 1 14 0 2 0 1 0 17 0 4 0 0 0 3 0 2 0 2 0 0 0 2 0 0 0 6 0 1 0 4 0-60 1 0 0 0 0 1 0 0 0 8 0 1 0 1 0 3 0 8 0 1 0 2 0 0 0 4 0 3 0 10 0 4 0 1 0 0 0 1 0 5 0 5 0-58 1 1 0 4 0 3 0 3 0 2 0 3 0 3 0 2 0 1 0 3 0 1 0 9 0 1 0 0 0 10 0-45 1 2 0 2 0 9 0 1 0 5 0 2 0 11 0 1 0 2 0 8 0 2 0 0 0 1 0 1 0 4 0 3 0 0 0 0 0 2 0 3 0-61 1 7 0 3 0 3 0 4 0 3 0 1 0 4 0 8 0 1 0 1 0 7 0 0 0 4 0 2 0 2 0 4 0 0 0 3 0-57 1 2 0 12 0 0 0 3 0 5 0 6 0 3 0 11 0 1 0 3 0 2 0 0 0 0 0 0 0 6 0 2 0 5 0-60 1 6 0 8 0 6 0 3 0 1 0 1 0 1 0 2 0 1 0 2 0 4 0 0 0 2 0 2 0 1 0 1 0 1 0 8 0 1 0 0 0 7 0-57 1 3 0 0 0 1 0 11 0 1 0 0 0 6 0 1 0 1 0 1 0 1 0 9 0 2 0 2 0 3 0 11 0 5 0 1 0-61 1 1 0 7 0 1 0 2 0 2 0 3 0 5 0 3 0 2 0 3 0 9 0 1 0 1 0 12 0 2 0 1 0 0 0 1 0 3 0-57 1 3 0 2 0 2 0 3 0 1 0 1 0 1 0 1 0 2 0 6 0 0 0 3 0 8 0 2 0 0 0 5 0 5 0 12 0-58 1 2 0 3 0 10 0 1 0 4 0 5 0 3 0 1 0 2 0 0 0 2 0 3 0 6 0 0 0 6 0 1 0 1 0 6 0 1 0-55 1 1 0 4 0 6 0 2 0 1 0 1 0 3 0 6 0 2 0 3 0 3 0 4 0 1 0 1 0 8 0 3 0 1 0 8 0-59 1 0 0 0 0 0 0 1 0 1 0 3 0 2 0 9 0 9 0 2 0 3 0 0 0 0 0 8 0 2 0 4 0 14 0 1 0-61 1 5 0 2 0 3 0 1 0 5 0 3 0 1 0 0 0 2 0 1 0 1 0 4 0 6 0 4 0 4 0 1 0 6 0 1 0 2 0 6 0-56 1 2 0 1 0 1 0 1 0 1 0 0 0 2 0 6 0 2 0 6 0 2 0 6 0 1 0 2 0 11 0 3 0 2 0 2 0-53 1 0 0 0 0 2 0 3 0 4 0 1 0 4 0 11 0 1 0 1 0 1 0 7 0 1 0 2 0 9 0 4 0 4 0 5 0-57 1 6 0 5 0 3 0 1 0 3 0 1 0 2 0 0 0 2 0 1 0 2 0 5 0 1 0 0 0 7 0 7 0 4 0 0 0 4 0 0 0-57 1 7 0 9 0 1 0 4 0 0 0 4 0 3 0 0 0 4 0 4 0 2 0 6 0 0 0 5 0 2 0 1 0 0 0 1 0 4 0-57 1 0 0 3 0 3 0 0 0 2 0 5 0 1 0 7 0 1 0 1 0 3 0 3 0 2 0 10 0 0 0 2 0 5 0 6 0 0 0 1 0 1 0-56 1 4 0 1 0 5 0 16 0 6 0 4 0 0 0 1 0 1 0 1 0 8 0 0 0 1 0 5 0 3 0 2 0 2 0 1 0-61 1 4 0 6 0 1 0 6 0 0 0 9 0 2 0 0 0 2 0 2 0 1 0 4 0 3 0 6 0 0 0 6 0 6 0 2 0 1 0-60 1 2 0 5 0 1 0 0 0 1 0 11 0 0 0 2 0 1 0 1 0 1 0 14 0 1 0 4 0 1 0 1 0 1 0 2 0 2 0 2 0 1 0-54 1 15 0 0 0 2 0 1 0 2 0 2 0 3 0 1 0 1 0 2 0 3 0 1 0 2 0 13 0 2 0 6 0 2 0 0 0-57 1 4 0 5 0 1 0 1 0 1 0 9 0 1 0 3 0 5 0 1 0 1 0 3 0 1 0 0 0 1 0 8 0 0 0 8 0 2 0 3 0 1 0 1 0-56 1 2 0 2 0 0 0 6 0 9 0 0 0 8 0 0 0 7 0 5 0 2 0 1 0 4 0 1 0 0 0 2 0 4 0 0 0-56 1 4 0 1 0 5 0 2 0 11 0 5 0 2 0 0 0 1 0 3 0 4 0 1 0 2 0 4 0 0 0 3 0 1 0 4 0 1 0 5 0-61 1 0 0 1 0 1 0 8 0 3 0 7 0 1 0 1 0 4 0 1 0 4 0 0 0 5 0 2 0 1 0 6 0 0 0 2 0 0 0 2 0 8 0-57 1 3 0 2 0 1 0 1 0 3 0 6 0 1 0 2 0 3 0 3 0 16 0 3 0 5 0 2 0 0 0 5 0 2 0-59 1 1 0 1 0 2 0 1 0 8 0 3 0 3 0 3 0 1 0 0 0 1 0 5 0 3 0 5 0 4 0 1 0 1 0 2 0 5 0 2 0 5 0 4 0-61 1 0 0 2 0 5 0 4 0 1 0 1 0 1 0 3 0 1 0 1 0 6 0 2 0 3 0 2 0 2 0 2 0 1 0 0 0 0 0 1 0 7 0 6 0 10 0-56 1 4 0 2 0 3 0 2 0 2 0 3 0 2 0 2 0 3 0 0 0 2 0 2 0 4 0 1 0 1 0 2 0 8 0 0 0 5 0 7 0-58 1 1 0 1 0 3 0 6 0 2 0 0 0 1 0 7 0 3 0 3 0 0 0 1 0 2 0 2 0 1 0 2 0 2 0 2 0 1 0 1 0 1 0 11 0 6 0 1 0-61 1 2 0 0 0 1 0 0 0 1 0 1 0 1 0 1 0 0 0 6 0 3 0 5 0 2 0 0 0 1 0 1 0 0 0 1 0 6 0 4 0 1 0 1 0 1 0 9 0 1 0 1 0 2 0 3 0 3 0-58 1 0 0 2 0 4 0 0 0 2 0 6 0 3 0 2 0 8 0 1 0 0 0 4 0 0 0 0 0 1 0 7 0 0 0 3 0 5 0 1 0 0 0 1 0 1 0 2 0 2 0 2 0 1 0 3 0-61 1 3 0 0 0 0 0 1 0 12 0 4 0 2 0 2 0 0 0 13 0 2 0 4 0 3 0 9 0 0 0-52 1 18 0 17 0 2 0 3 0 1 0 3 0 2 0 3 0-50 1 2 0 5 0 17 0 4 0 3 0 1 0 11 0 9 0-44 1 3 0 7 0 0 0 0 0 1 0 3 0 2 0 1 0 7 0 0 0 1 0 1 0 0 0 1 0 1 0 9 0 1 0 4 0 0 0 5 0 0 0 2 0 1 0 0 0-61 1 1 0 0 0 2 0 0 0 1 0 0 0 3 0 1 0 0 0 2 0 0 0 1 0 4 0 0 0 0 0 1 0 1 0 1 0 1 0 3 0 3 0 0 0 2 0 3 0 9 0 1 0 2 0 0 0 3 0 2 0 3 0 2 0 2 0 6 0 0 0-60 1 2 0 5 0 2 0 0 0 2 0 1 0 1 0 1 0 1 0 5 0 7 0 2 0 0 0 2 0 3 0 0 0 5 0 11 0 2 0 1 0 0 0 0 0 5 0 3 0 0 0-61 1 5 0 1 0 3 0 16 0 4 0 5 0 6 0 4 0 4 0 4 0-49 1 4 0 7 0 4 0 15 0 2 0 10 0 12 0-56 1 2 0 1 0 2 0 1 0 3 0 4 0 4 0 0 0 0 0 5 0 1 0 2 0 1 0 0 0 2 0 2 0 0 0 1 0 1 0 2 0 2 0 1 0 2 0 3 0 1 0 1 0 3 0 0 0 1 0 0 0 5 0 1 0 1 0 1 0 1 0 3 0-60 1 8 0 2 0 1 0 1 0 1 0 1 0 4 0 2 0 3 0 1 0 1 0 2 0 0 0 1 0 3 0 1 0 1 0 1 0 1 0 1 0 2 0 2 0 0 0 2 0 5 0 0 0 1 0 0 0 7 0 1 0 3 0 1 0-60 1 1 0 0 0 1 0 4 0 2 0 0 0 0 0 4 0 0 0 3 0 2 0 1 0 1 0 1 0 0 0 0 0 4 0 1 0 4 0 1 0 2 0 1 0 2 0 1 0 1 0 3 0 1 0 4 0 6 0 0 0 0 0 1 0 0 0 5 0 1 0-58 1 14 0 10 0 6 0 7 0 6 0 0 0 4 0 5 0 2 0-48 1 10 0 7 0 1 0 6 0-31 1 1 0 2 0 11 0 2 0 1 0 15 0 11 0 9 0-51 1 1 0 1 0 2 0 7 0 4 0 4 0 1 0 1 0 1 0 11 0 10 0 1 0 6 0 2 0 1 0-52 1 0 0 1 0 0 0 1 0 0 0 1 0 1 0 0 0 0 0 1 0 0 0 1 0 0 0 1 0 0 0 2 0 1 0 2 0 1 0 4 0 0 0 1 0 1 0 0 0 2 0 1 0 1 0 3 0 0 0 2 0 2 0 1 0 1 0 0 0 0 0 3 0 2 0 1 0 1 0 1 0 1 0 0 0 0 0 1 0 0 0 2 0 0 0 2 0 1 0 1 0 4 0 0 0 0 0 0 0 4 0 3 0-55 1 2 0 0 0 3 0 1 0 1 0 2 0 5 0 2 0 4 0 1 0 0 0 1 0 1 0 3 0 0 0 4 0 1 0 2 0 2 0 1 0 0 0 1 0 1 0 7 0 2 0 0 0 2 0 0 0 2 0 3 0 1 0 0 0-59 1 2 0 3 0 4 0 5 0 1 0 1 0 2 0 5 0 1 0 2 0 2 0 1 0 4 0 4 0 7 0 8 0 4 0 0 0 2 0 0 0 0 0-59 1 3 0 10 0 45 0 1 1-55 1 2 0 1 0 11 0 1 0 0 0 4 0 0 0 2 0 2 0 5 0 9 0 12 0 2 0 3 0 0 0-59 1 1 0 2 0 0 0 2 0 0 0 2 0 0 0 3 0 1 0 1 0 2 0 1 0 2 0 0 0 1 0 2 0 0 0 0 0 1 0 2 0 4 0 3 0 0 0 4 0 0 0 1 0 0 0 0 0 0 0 2 0 2 0 2 0 2 0 0 0 0 0 2 0 0 0 4 0 1 0 5 0 4 0 1 0 2 0-62 1 0 0 0 0 2 0 0 0 4 0 1 0 2 0 0 0 2 0 1 0 0 0 1 0 1 0 0 0 5 0 0 0 1 0 2 0 3 0 0 0 1 0 0 0 1 0 2 0 1 0 1 0 2 0 1 0 1 0 1 0 1 0 2 0 2 0 0 0 0 0 2 0 1 0 2 0 1 0 1 0 1 0 0 0 2 0 0 0 2 0 1 0 1 0 0 0 0 0 1 0 1 0 1 0 2 0 1 0-59 1 1 0 0 0 5 0 1 0 2 0 0 0 4 0 0 0 5 0 1 0 0 0 1 0 0 0 2 0 3 0 1 0 0 0 3 0 6 0 1 0 1 0 1 0 0 0 2 0 4 0 1 0 0 0 1 0 0 0 1 0 3 0 0 0 3 0 0 0 5 0 0 0 2 0-59 1 6 0 6 0 1 0 1 0 12 0 8 0 0 0 0 0 16 0 3 0-52 1 29 0 23 0-3 1-48 1 0 0 4 0 3 0 0 0 2 0 6 0 1 0 2 0 2 0 2 0 17 0 3 0 4 0 4 0 6 0-60 1 0 0 2 0 1 0 1 0 2 0 1 0 3 0 4 0 0 0 1 0 9 0 5 0 0 0 1 0 2 0 2 0 3 0 3 0 5 0 1 0 1 0 1 0 2 0 2 0 3 0 1 0 3 0 0 0 1 0-61 1 1 0 2 0 0 0 1 0 2 0 0 0 0 0 3 0 1 0 0 0 1 0 3 0 1 0 3 0 1 0 2 0 0 0 1 0 0 0 1 0 1 0 1 0 2 0 0 0 1 0 1 0 1 0 1 0 0 0 2 0 2 0 4 0 2 0 2 0 2 0 1 0 2 0 0 0 1 0 0 0 1 0 3 0 0 0 2 0 1 0 1 0 0 0 1 0 0 0 1 0 0 0-59 1 0 0 1 0 0 0 1 0 1 0 0 0 1 0 1 0 1 0 1 0 2 0 1 0 1 0 1 0 4 0 7 0 1 0 2 0 1 0 0 0 0 0 1 0 0 0 1 0 1 0 1 0 1 0 1 0 0 0 1 0 0 0 0 0 1 0 0 0 3 0 0 0 0 0 0 0 0 0 0 0 1 0 2 0 2 0 2 0 1 0 4 0 2 0 0 0 1 0 0 0 2 0 1 0 0 0 1 0 1 0 2 0 1 0-61 1 1 0 4 0 6 0 1 0 1 0 1 0 3 0 1 0 7 0 1 0 0 0 2 0 1 0 0 0 2 0 1 0 2 0 1 0 6 0 2 0 6 0 2 0 4 0 4 0 2 0-52 1 16 0 9 0 5 0 8 0 1 0 2 0 1 0 2 0 3 0-2 1 4 0 0 0-38 3 17 0-30 1 3 0 4 0 1 0 27 0 1 0-39 1 7 0 15 0 1 0 7 0 1 0 10 0 2 0 8 0-50 1 1 0 23 0 2 0 22 0-37 1 18 0 13 0 8 0 5 0 1 0-42 1 28 0-42 6 17 0 16 0-20 1-18 1 46 0-12 2 21 8-30 1 12 0 8 0-24 1-8 1 23 2 8 11-5 1 20 1-56 1 3 0 21 0 2 2 17 18-8 1-32 3 10 0 0 0 40 0 1 0-17 35 17 0 3 0-37 1 37 0-50 2 31 0-16 2" fill="none"/>
<rect x="415.8" y="1915.8" width="62" height="4.5" rx="2.25" fill="#2171b5" fill-opacity="0.90"/><rect x="415.8" y="1876.7" width="62" height="4.5" rx="2.25" fill="#2171b5" fill-opacity="0.68"/><rect x="415.8" y="1853.9" width="62" height="4.5" rx="2.25" fill="#2171b5" fill-opacity="0.63"/><rect x="415.8" y="1837.7" width="62" height="4.5" rx="2.25" fill="#2171b5" fill-opacity="0.63"/><rect x="415.8" y="1825.1" width="62" height="4.5" rx="2.25" fill="#2171b5" fill-opacity="0.59"/><rect x="415.8" y="1814.8" width="62" height="4.5" rx="2.25" fill="#2171b5" fill-opacity="0.54"/><path class="k9" d="M463 1616l-40 4 48 3-31 1 6 1-1 1 14 0-25 1-15 1 57 0-58 2 8 1 4 1 13 1 6 0 26 0-19 1-21 1 30 1 11 0-22 1 1 0 5 1-32 1 22 0 18 0-6 1 6 0-49 1 3 0 36 1 20 0-20 1-16 1 10 0 15 0-8 1-8 1 8 0-29 1 4 0 18 0 25 0-2 1-51 1 17 0-1 1 25 0-33 1 23 0 9 0-4 1 1 0 11 0-38 1 20 0-19 1 17 0 4 0-33 1 5 0 16 0 10 0-35 1 49 0-13 1 8 0-36 1 16 0 20 0 11 0-44 1 29 0-34 1 12 0 39 0-54 1 3 0 29 0-21 1 19 0 20 0 4 0-42 1 2 0 19 0 19 0-52 1 1 0 23 0 24 0-19 1 10 0 11 0 4 0-16 1 1 0 5 0 1 0 6 0 4 0-45 1 32 0-45 1 28 0 17 0 11 0-58 1 0 0 0 0 43 0 14 0-58 1 3 0 10 0 2 0 4 0 7 0 32 0-55 1 3 0 29 0 16 0-48 1 3 0 11 0 32 0 1 0 1 0-44 1 10 0 8 0 21 0 5 0 11 0-61 1 0 0 34 0 13 0-48 1 11 0 3 0 6 0 10 0 4 0 18 0 8 0-48 1 9 0 2 0 23 0 10 0 1 0-48 1 22 0 14 0 9 0-53 1 1 0 23 0 2 0 1 0 5 0 5 0 13 0-49 1 33 0 6 0 6 0-40 1 9 0 15 0 4 0 8 0 3 0 2 0 3 0 6 0-45 1 6 0 36 0-33 1 3 0 2 0 8 0 2 0 1 0 3 0-36 1 3 0 8 0 13 0 2 0 10 0 7 0 13 0-54 1 14 0 10 0 25 0 2 0 4 0 0 0-57 1 27 0 4 0 14 0 4 0 1 0 0 0-46 1 0 0 6 0 11 0 9 0 2 0 2 0 4 0 18 0-57 1 20 0 4 0 22 0 2 0 2 0-27 1 1 0 6 0 5 0 2 0 7 0 1 0-46 1 10 0 11 0 5 0 3 0 17 0 3 0 10 0-57 1 1 0 4 0 5 0 3 0 2 0 6 0 4 0 6 0 2 0-34 1 5 0 0 0 11 0 17 0-28 1 9 0 4 0 7 0 4 0 1 0 0 0 6 0-28 1 6 0 4 0 0 0 5 0 6 0 1 0 3 0 7 0 2 0 10 0 2 0-39 1 6 0 9 0 7 0-31 1 9 0 1 0 10 0 5 0 10 0 7 0 7 0 2 0 0 0-49 1 11 0 7 0 4 0 3 0 1 0 1 0 4 0 17 0-56 1 3 0 4 0 10 0 6 0 2 0 8 0 0 0 5 0 16 0 0 0-48 1 10 0 0 0 25 0 1 0 13 0 2 0-54 1 22 0 2 0 2 0 5 0 3 0 2 0 9 0 7 0-58 1 15 0 1 0 5 0 2 0 21 0 13 0 0 0 5 0-39 1 2 0 7 0 11 0 0 0 3 0 7 0 1 0-39 1 17 0 1 0 2 0 1 0 5 0 1 0 3 0 12 0 0 0-57 1 7 0 0 0 9 0 8 0 9 0 9 0 4 0 1 0 13 0-56 1 4 0 5 0 3 0 9 0 14 0 3 0 13 0 2 0-51 1 0 0 11 0 2 0 3 0 3 0 6 0 2 0 0 0 4 0 0 0 12 0 4 0 0 0-52 1 1 0 4 0 4 0 1 0 8 0 10 0 5 0 1 0 14 0 5 0 3 0-55 1 21 0 4 0 3 0 16 0 5 0 6 0 0 0 1 0-56 1 2 0 3 0 7 0 4 0 5 0 31 0 1 0 1 0 0 0 3 0-57 1 6 0 0 0 15 0 0 0 16 0 0 0 1 0 4 0 9 0 7 0-57 1 12 0 1 0 2 0 16 0 3 0 1 0 19 0-47 1 17 0 1 0 2 0 5 0 1 0 0 0 10 0 2 0 4 0 0 0 2 0-47 1 14 0 9 0 6 0 6 0 8 0 1 0 0 0 4 0 1 0 2 0 3 0-61 1 1 0 2 0 7 0 4 0 23 0 4 0 11 0 3 0 1 0 3 0 1 0-57 1 1 0 2 0 12 0 8 0 7 0 6 0 3 0 9 0 1 0-46 1 1 0 1 0 9 0 4 0 0 0 22 0 0 0 1 0 2 0 7 0 0 0 0 0 7 0-55 1 1 0 13 0 1 0 1 0 14 0 16 0 4 0 3 0 3 0-58 1 3 0 0 0 1 0 2 0 0 0 2 0 13 0 16 0 9 0 3 0 7 0-49 1 3 0 0 0 1 0 2 0 2 0 1 0 5 0 2 0 4 0 7 0 7 0 2 0 5 0-43 1 11 0 4 0 3 0 3 0 8 0 4 0 4 0 5 0 1 0 8 0-57 1 2 0 12 0 5 0 1 0 0 0 2 0 30 0 1 0 0 0 6 0-58 1 11 0 2 0 5 0 6 0 5 0 2 0 2 0 4 0 2 0 3 0 13 0 2 0-49 1 2 0 7 0 1 0 7 0 0 0 4 0 5 0 4 0 8 0 2 0-46 1 4 0 0 0 1 0 7 0 3 0 13 0 1 0 3 0 2 0 0 0 7 0 5 0 4 0 1 0-45 1 2 0 10 0 0 0 12 0 3 0 10 0 1 0 3 0 2 0-54 1 0 0 8 0 1 0 0 0 25 0 1 0 3 0 6 0 2 0 2 0 12 0 0 0-57 1 6 0 9 0 7 0 0 0 5 0 5 0 8 0 3 0 2 0 0 0 3 0-47 1 4 0 10 0 3 0 4 0 1 0 3 0 2 0 3 0 21 0-54 1 0 0 2 0 1 0 2 0 10 0 5 0 2 0 6 0 3 0 1 0 5 0 9 0 12 0-55 1 7 0 3 0 2 0 4 0 4 0 1 0 3 0 2 0 0 0 6 0 4 0 6 0 0 0-22 1 3 0 2 0 10 0 1 0 1 0 1 0 11 0 6 0 2 0-60 1 7 0 6 0 11 0 1 0 1 0 9 0 5 0 2 0 2 0 3 0 6 0 5 0 2 0-56 1 0 0 4 0 2 0 7 0 7 0 0 0 15 0 7 0 2 0 4 0 5 0 0 0-49 1 2 0 12 0 8 0 2 0 1 0 0 0 18 0 2 0 2 0 4 0 2 0-62 1 11 0 5 0 1 0 2 0 3 0 10 0 6 0 2 0 2 0 8 0 7 0 1 0-57 1 6 0 3 0 2 0 0 0 5 0 2 0 5 0 20 0 11 0 0 0 1 0 3 0-49 1 2 0 6 0 2 0 5 0 13 0 2 0 0 0 2 0 6 0 5 0-48 1 4 0 4 0 2 0 0 0 4 0 5 0 6 0 10 0 2 0 0 0 0 0 3 0 7 0 5 0 2 0 0 0 1 0-56 1 0 0 18 0 11 0 9 0 1 0 14 0 0 0 3 0-59 1 1 0 4 0 1 0 2 0 6 0 3 0 2 0 0 0 23 0 0 0 3 0 3 0 8 0-56 1 4 0 3 0 0 0 2 0 4 0 3 0 3 0 4 0 11 0 16 0 10 0-50 1 4 0 7 0 0 0 1 0 4 0 0 0 3 0 6 0 4 0 6 0 1 0 2 0 4 0 1 0 6 0-59 1 17 0 5 0 4 0 7 0 0 0 5 0 5 0 13 0 2 0-54 1 7 0 4 0 1 0 4 0 0 0 2 0 3 0 18 0 0 0 2 0 7 0 2 0 0 0 4 0 0 0-56 1 8 0 13 0 0 0 5 0 1 0 1 0 3 0 1 0 1 0 13 0 4 0-51 1 6 0 2 0 2 0 1 0 1 0 3 0 1 0 6 0 7 0 6 0 1 0 8 0 4 0 3 0-52 1 3 0 1 0 1 0 0 0 1 0 2 0 3 0 1 0 9 0 1 0 5 0 9 0 2 0 7 0-46 1 7 0 7 0 3 0 1 0 5 0 12 0 7 0 2 0 3 0 10 0 5 0 0 0-37 1 0 0 3 0 3 0 1 0 13 0 2 0 2 0 4 0 6 0 0 0-56 1 4 0 6 0 1 0 8 0 3 0 1 0 8 0 2 0 6 0 0 0 3 0 4 0 6 0 0 0 1 0 4 0-54 1 6 0 1 0 5 0 3 0 3 0 0 0 3 0 3 0 1 0 13 0 15 0-55 1 2 0 1 0 0 0 6 0 10 0 0 0 8 0 7 0 6 0 1 0 9 0 1 0 2 0-56 1 6 0 2 0 2 0 2 0 2 0 0 0 3 0 12 0 12 0 2 0 0 0 0 0 10 0 2 0-49 1 4 0 8 0 4 0 3 0 8 0 1 0 0 0 7 0 5 0 3 0 9 0 3 0-50 1 4 0 1 0 1 0 4 0 1 0 1 0 8 0 2 0 4 0 2 0 4 0 8 0 10 0-50 1 8 0 0 0 1 0 2 0 2 0 7 0 0 0 6 0 4 0 3 0 2 0 1 0 2 0 1 0 2 0-43 1 1 0 2 0 3 0 5 0 2 0 2 0 11 0 1 0 3 0 2 0 2 0 6 0-47 1 0 0 9 0 2 0 0 0 2 0 9 0 4 0 1 0 1 0 6 0 1 0 5 0 6 0 2 0 4 0 5 0-52 1 2 0 4 0 1 0 5 0 8 0 4 0 8 0 1 0 1 0 10 0 1 0 4 0 1 0 0 0-47 1 5 0 0 0 2 0 4 0 1 0 0 0 14 0 3 0 1 0 0 0 3 0 0 0 2 0 5 0-37 1 2 0 2 0 0 0 2 0 1 0 6 0 8 0 2 0 0 0 6 0 3 0 9 0 1 0 0 0 2 0-57 1 6 0 11 0 0 0 2 0 8 0 2 0 1 0 1 0 18 0 0 0 0 0 7 0 4 0-58 1 6 0 1 0 3 0 2 0 3 0 8 0 8 0 6 0 5 0 1 0 5 0 11 0-60 1 0 0 1 0 5 0 3 0 0 0 6 0 2 0 13 0 4 0 3 0 2 0 4 0 10 0 3 0 2 0-58 1 3 0 11 0 10 0 6 0 3 0 2 0 6 0 1 0 3 0 1 0 1 0 8 0-54 1 11 0 4 0 1 0 9 0 4 0 5 0 3 0 3 0 3 0 1 0 0 0 2 0 3 0 0 0-43 1 3 0 0 0 10 0 1 0 4 0 8 0 2 0 3 0 3 0 4 0 5 0 4 0 2 0 1 0 1 0-53 1 1 0 3 0 0 0 0 0 0 0 17 0 4 0 4 0 1 0 8 0 9 0 1 0 2 0 4 0-55 1 7 0 7 0 0 0 2 0 5 0 0 0 1 0 4 0 9 0 9 0 0 0 0 0 0 0 6 0 1 0-53 1 8 0 1 0 5 0 11 0 1 0 5 0 4 0 0 0 14 0 2 0 1 0 2 0 0 0 1 0 1 0-57 1 1 0 1 0 2 0 3 0 1 0 6 0 2 0 2 0 1 0 6 0 1 0 3 0 2 0 1 0 2 0 15 0 9 0 1 0-62 1 2 0 6 0 1 0 2 0 6 0 2 0 2 0 5 0 16 0 2 0 16 0 2 0-54 1 4 0 3 0 7 0 3 0 4 0 2 0 10 0 2 0 0 0 0 0 5 0 6 0 1 0-54 1 1 0 6 0 0 0 1 0 1 0 3 0 4 0 2 0 5 0 8 0 2 0 3 0 8 0 7 0 1 0 4 0 4 0-60 1 4 0 0 0 5 0 2 0 1 0 14 0 1 0 2 0 4 0 3 0 5 0 4 0 6 0 5 0 3 0 0 0 1 0-50 1 1 0 2 0 3 0 7 0 6 0 3 0 5 0 5 0 0 0 1 0 9 0-50 1 0 0 9 0 9 0 1 0 9 0 7 0 0 0 5 0 3 0 4 0 0 0 5 0 1 0 0 0 0 0 0 0 6 0-62 1 1 0 6 0 7 0 2 0 2 0 6 0 2 0 1 0 1 0 0 0 1 0 1 0 0 0 5 0 0 0 2 0 1 0 0 0 1 0 1 0 1 0 3 0 0 0 5 0 0 0 1 0 5 0 2 0 4 0-61 1 0 0 5 0 1 0 1 0 4 0 9 0 1 0 4 0 2 0 1 0 1 0 6 0 1 0 3 0 1 0 1 0 0 0 4 0 2 0 1 0 8 0-54 1 6 0 4 0 1 0 1 0 7 0 23 0 14 0-32 1 16 0 5 0-25 1 2 0 1 0 11 0 9 0 1 0 3 0 2 0 0 0 3 0-51 1 3 0 2 0 0 0 4 0 5 0 3 0 2 0 2 0 2 0 1 0 1 0 3 0 3 0 4 0 3 0 2 0 4 0 4 0 3 0-54 1 1 0 2 0 1 0 0 0 2 0 0 0 1 0 0 0 1 0 3 0 2 0 4 0 2 0 1 0 6 0 1 0 0 0 4 0 1 0 2 0 2 0 8 0 2 0 3 0 10 0 2 0 1 0 0 0-62 1 3 0 8 0 0 0 1 0 2 0 8 0 2 0 1 0 1 0 1 0 7 0 1 0 1 0 2 0 6 0 9 0 6 0-56 1 13 0 3 0 13 0 25 0 0 0-30 1 11 0 3 0 9 0 3 0 0 0 1 0-53 1 6 0 3 0 2 0 4 0 3 0 3 0 5 0 8 0 1 0 0 0 1 0 0 0 9 0 1 0 1 0 2 0 1 0 7 0 1 0 0 0-57 1 1 0 1 0 3 0 2 0 2 0 1 0 1 0 2 0 2 0 3 0 0 0 2 0 1 0 0 0 0 0 4 0 4 0 3 0 5 0 2 0 1 0 3 0 0 0 1 0 4 0 3 0 0 0 1 0-51 1 5 0 2 0 1 0 1 0 1 0 4 0 0 0 3 0 3 0 6 0 4 0 5 0 1 0 1 0 2 0 2 0 4 0 6 0 1 0 1 0-48 1 7 0 0 0 6 0 1 0 3 0 14 0 5 0 4 0 4 0 0 0 4 0-55 1 21 0 15 0 2 0 15 0-54 1 3 0 0 0 4 0 6 0 3 0 16 0 9 0 18 0-58 1 1 0 2 0 0 0 7 0 2 0 2 0 3 0 2 0 1 0 0 0 0 0 7 0 4 0 1 0 3 0 0 0 2 0 0 0 1 0 4 0 2 0 4 0 0 0 4 0 0 0 8 0-56 1 4 0 0 0 0 0 4 0 1 0 1 0 0 0 1 0 0 0 5 0 0 0 3 0 1 0 4 0 4 0 2 0 5 0 1 0 1 0 0 0 1 0 2 0 0 0 4 0 1 0 0 0 0 0 1 0 2 0 1 0 2 0 0 0 1 0 2 0-55 1 1 0 3 0 2 0 3 0 3 0 0 0 1 0 2 0 2 0 2 0 0 0 0 0 9 0 3 0 3 0 2 0 0 0 2 0 4 0 8 0 0 0 4 0 3 0-51 1 1 0 9 0 1 0 14 0 4 0 3 0 2 0 4 0 6 0-31 1 11 0-2 1-27 1 4 0 10 0 1 0 5 0 11 0 14 0 0 0 0 0 4 0 3 0 3 0-53 1 1 0 5 0 2 0 0 0 0 0 0 0 2 0 2 0 2 0 1 0 0 0 3 0 2 0 1 0 1 0 0 0 3 0 3 0 1 0 2 0 2 0 1 0 1 0 0 0 2 0 0 0 8 0 1 0 6 0-58 1 3 0 0 0 0 0 3 0 2 0 1 0 1 0 1 0 0 0 0 0 3 0 5 0 3 0 0 0 6 0 3 0 2 0 0 0 3 0 2 0 2 0 0 0 1 0 1 0 4 0 0 0 3 0 2 0 2 0 3 0 2 0 0 0 1 0 1 0-61 1 2 0 3 0 1 0 1 0 0 0 1 0 0 0 4 0 1 0 1 0 2 0 8 0 0 0 1 0 1 0 1 0 0 0 3 0 1 0 10 0 2 0 1 0 0 0 1 0 0 0 3 0 2 0 0 0 1 0 3 0 2 0 4 0-48 1 3 0 2 0 1 0 4 0 3 0 3 0 10 0 3 0 0 0 4 0 1 0 10 0-39 1 21 1 10 0 9 0-52 1 1 0 1 0 16 0 4 0 2 0 0 0 22 0-49 1 4 0 1 0 1 0 3 0 8 0 1 0 1 0 4 0 2 0 3 0 4 0 1 0 1 0 0 0 4 0 1 0 2 0 1 0 4 0 0 0 2 0 2 0 8 0 1 0 0 0 0 0-59 1 1 0 2 0 5 0 4 0 2 0 1 0 3 0 0 0 2 0 0 0 1 0 1 0 1 0 1 0 0 0 5 0 1 0 0 0 0 0 0 0 1 0 0 0 0 0 2 0 0 0 2 0 1 0 4 0 2 0 2 0 1 0 2 0 2 0 3 0 2 0 0 0 2 0 0 0 1 0 2 0-59 1 1 0 1 0 4 0 0 0 3 0 0 0 6 0 0 0 1 0 2 0 1 0 0 0 1 0 3 0 1 0 3 0 2 0 1 0 1 0 2 0 1 0 0 0 1 0 2 0 0 0 2 0 2 0 4 0 1 0 1 0 0 0 3 0 2 0 1 0 4 0 1 0 0 0 0 0-59 1 2 0 1 0 1 0 3 0 5 0 1 0 9 0 2 0 8 0 0 0 7 0 0 0 2 0 4 0 6 0 3 0 4 0 0 0 2 0-48 1 10 0 3 0 17 0 10 0-22 1 18 0-2 2-23 1-19 1 30 0 5 0 15 0 0 0-49 1 7 0 3 0 1 0 5 0 4 0 0 0 18 0 1 0 0 1 16 0-59 1 0 0 11 0 9 0 28 0-41 5 1 2 23 1 3 1 14 0-37 1-5 8 47 0-34 1 18 0 10 1-17 1 26 0-41 14 19 0 17 0 3 3-53 1 36 0 13 0-49 18 20 1 22 2-23 1-6 1 34 1 2 0-50 35 22 0-11 1 14 0 8 0 8 0 16 1-50 1 19 0 13 1" fill="none"/>
<line x1="209.7" y1="1800.9" x2="209.7" y2="1650.7" stroke="#231815" stroke-width="2"/><polygon points="179.7,1800.9 239.7,1800.9 239.7,1852.6 233.7,1856.1 239.7,1859.6 239.7,1918 179.7,1918 179.7,1859.6 185.7,1856.1 179.7,1852.6" fill="none" stroke="#231815" stroke-width="2" stroke-linejoin="round"/><line x1="185.7" y1="1856.1" x2="233.7" y2="1856.1" stroke="#231815" stroke-width="2.2"/>
<line x1="288.7" y1="1773.5" x2="288.7" y2="1648.3" stroke="#231815" stroke-width="2"/><polygon points="258.7,1773.5 318.7,1773.5 318.7,1823.8 312.7,1827.3 318.7,1830.8 318.7,1918 258.7,1918 258.7,1830.8 264.7,1827.3 258.7,1823.8" fill="none" stroke="#231815" stroke-width="2" stroke-linejoin="round"/><line x1="264.7" y1="1827.3" x2="312.7" y2="1827.3" stroke="#231815" stroke-width="2.2"/>
<line x1="367.7" y1="1743.9" x2="367.7" y2="1632.1" stroke="#231815" stroke-width="2"/><line x1="367.7" y1="1827.3" x2="367.7" y2="1918" stroke="#231815" stroke-width="2"/><polygon points="337.7,1743.9 397.7,1743.9 397.7,1779.4 391.7,1782.9 397.7,1786.4 397.7,1827.3 337.7,1827.3 337.7,1786.4 343.7,1782.9 337.7,1779.4" fill="none" stroke="#231815" stroke-width="2" stroke-linejoin="round"/><line x1="343.7" y1="1782.9" x2="391.7" y2="1782.9" stroke="#231815" stroke-width="2.2"/>
<line x1="446.8" y1="1755.2" x2="446.8" y2="1611.7" stroke="#231815" stroke-width="2"/><line x1="446.8" y1="1879" x2="446.8" y2="1918" stroke="#231815" stroke-width="2"/><polygon points="416.8,1755.2 476.8,1755.2 476.8,1804.9 470.8,1808.4 476.8,1811.9 476.8,1879 416.8,1879 416.8,1811.9 422.8,1808.4 416.8,1804.9" fill="none" stroke="#231815" stroke-width="2" stroke-linejoin="round"/><line x1="422.8" y1="1808.4" x2="470.8" y2="1808.4" stroke="#231815" stroke-width="2.2"/>
<line x1="162.3" y1="1598" x2="162.3" y2="1937" stroke="#231815" stroke-width="1.8"/>
<line x1="161.4" y1="1936" x2="493.5" y2="1936" stroke="#231815" stroke-width="1.8"/>
<line x1="156" y1="1658.6" x2="162.3" y2="1658.6" stroke="#231815" stroke-width="1.5"/>
<text x="152" y="1667.6" font-size="25" fill="#231815" text-anchor="end">100</text>
<line x1="156" y1="1788.3" x2="162.3" y2="1788.3" stroke="#231815" stroke-width="1.5"/>
<text x="152" y="1797.3" font-size="25" fill="#231815" text-anchor="end">10</text>
<line x1="156" y1="1918" x2="162.3" y2="1918" stroke="#231815" stroke-width="1.5"/>
<text x="152" y="1927" font-size="25" fill="#231815" text-anchor="end">1</text>
<line x1="209.7" y1="1936" x2="209.7" y2="1942" stroke="#231815" stroke-width="1.6"/>
<text font-size="29" fill="#231815" transform="translate(205.7 1947) rotate(30)" x="0" y="20">Library-1</text>
<line x1="288.7" y1="1936" x2="288.7" y2="1942" stroke="#231815" stroke-width="1.6"/>
<text font-size="29" fill="#231815" transform="translate(284.7 1947) rotate(30)" x="0" y="20">Library-2</text>
<line x1="367.7" y1="1936" x2="367.7" y2="1942" stroke="#231815" stroke-width="1.6"/>
<text font-size="29" fill="#231815" transform="translate(363.7 1947) rotate(30)" x="0" y="20">Library-3</text>
<line x1="446.8" y1="1936" x2="446.8" y2="1942" stroke="#231815" stroke-width="1.6"/>
<text font-size="29" fill="#231815" transform="translate(442.8 1947) rotate(30)" x="0" y="20">Library-4</text>
<text font-size="32" fill="#231815" text-anchor="middle" transform="translate(57 1795) rotate(-90)" textLength="358" lengthAdjust="spacingAndGlyphs">Number of 1-kb barcode</text>
<text font-size="32" fill="#231815" text-anchor="middle" transform="translate(97 1795) rotate(-90)">recovered per cell</text>
<text x="543.5" y="1594.9" font-size="52" fill="#000" font-weight="bold">f</text>
<path class="k10" d="M956 1640l-35 6 3 4-39 2-7 2 47 2-38 6-22 2 9 3-11 2 0 2 8 1 27 0-40 2 12 0 23 3-32 1 34 2-37 1 7 1 29 1 7 1-5 1-10 1-45 1 57 0-29 2 38 0-33 1 19 0-11 2-45 1 29 0 8 0 72 0-82 2 2 0 6 1 19 1-44 2 33 0 2 0 2 0-43 3-3 1 33 0 11 0-33 2 15 0 9 0-22 1 12 0-10 2 0 0 8 0 0 0-34 1 43 0-56 5 8 1 27 0 25 0-60 1-1 2 6 0 38 0-44 1 9 0 28 0-35 2 38 0 20 0-45 1 26 0 0 0 148 1-168 2 7 0 24 0-39 1 25 0 30 0-62 2 27 0 31 0-74 1 3 1 49 0-40 2 50 0-60 1 13 0 23 0 11 0-36 1-26 2 2 0 2 0 2 0 3 0 2 0 2 0 2 0 1 0 7 0 2 0 1 0 5 0 5 0 2 0 1 0 3 0 2 0 1 0 1 0 2 0 1 0 2 0 1 0 2 0 2 0 3 0 2 0 1 0 4 0 7 0 11 0 11 0 7 0 2 0-118 4 2 0 2 0 6 0 8 0 4 0 3 0 4 0 1 0 2 0 2 0 6 0 2 0 2 0 1 0 3 0 7 0 1 0 2 0 5 0 2 0 3 0 1 0 3 0 4 0 1 0 6 0 2 0 7 0 6 0 2 0 17 0-113 4 4 0 4 0 4 0 2 0 2 0 2 0 1 0 2 0 2 0 2 0 7 0 3 0 5 0 3 0 3 0 2 0 1 0 3 0 2 0 5 0 2 0 1 0 9 0 8 0 28 0-120 4 3 0 8 0 8 0 2 0 8 0 3 0 6 0 3 0 2 0 2 0 1 0 5 0 3 0 7 0 1 0 5 0 1 0 1 0 2 0 1 0 6 0 1 0 10 0 12 0-90 4 2 0 2 0 2 0 2 0 2 0 2 0 4 0 4 0 7 0 3 0 2 0 3 0 2 0 1 0 4 0 1 0 3 0 4 0 6 0 1 0 3 0 7 0 1 0 2 0 4 0 9 0 2 0 1 0 1 0 8 0 1 0 6 0 2 0 11 0-117 4 6 0 2 0 2 0 4 0 4 0 2 0 2 0 1 0 2 0 5 0 6 0 3 0 1 0 2 0 2 0 1 0 3 0 4 0 1 0 2 0 1 0 2 0 1 0 3 0 1 0 3 0 6 0 4 0 1 0 2 0 1 0 4 0 11 0 4 0 9 0-121 4 4 0 3 0 4 0 2 0 2 0 8 0 2 0 4 0 11 0 2 0 1 0 2 0 2 0 2 0 3 0 1 0 2 0 2 0 3 0 1 0 8 0 3 0 10 0 4 0 12 0 3 0-111 5 5 0 14 0 2 0 4 0 2 0 2 0 4 0 4 0 4 0 2 0 5 0 2 0 2 0 1 0 4 0 2 0 1 0 3 0 2 0 2 0 1 0 11 0 2 0 1 0 3 0 17 0 24 0 61 1-182 3 2 0 3 0 2 0 2 0 3 0 2 0 2 0 2 0 2 0 2 0 4 0 2 0 2 0 4 0 2 0 2 0 2 0 1 0 2 0 2 0 2 0 1 0 2 0 2 0 2 0 1 0 2 0 3 0 2 0 1 0 2 0 3 0 2 0 1 0 3 0 2 0 4 0 3 0 1 0 6 0 7 0 4 0 6 0 1 0 3 0 4 0 6 0-139 5 3 0 2 0 3 0 3 0 2 0 5 0 5 0 2 0 2 0 3 0 6 0 2 0 2 0 2 0 2 0 2 0 2 0 2 0 2 0 4 0 2 0 1 0 2 0 2 0 2 0 1 0 6 0 3 0 1 0 2 0 2 0 1 0 2 0 1 0 2 0 2 0 1 0 2 0 1 0 2 0 2 0 3 0 5 0 1 0 3 0 13 0 2 0-123 4 8 0 3 0 2 0 3 0 2 0 2 0 5 0 2 0 3 0 4 0 2 0 2 0 2 0 2 0 2 0 2 0 6 0 2 0 2 0 2 0 1 0 2 0 2 0 2 0 1 0 2 0 4 0 1 0 2 0 3 0 2 0 1 0 2 0 1 0 2 0 2 0 6 0 7 0 3 0 1 0 7 0 1 0-119 5 6 0 5 0 6 0 2 0 3 0 2 0 2 0 3 0 2 0 2 0 5 0 2 0 2 0 2 0 4 0 2 0 4 0 2 0 2 0 2 0 2 0 3 0 2 0 2 0 2 0 1 0 2 0 2 0 2 0 3 0 1 0 2 0 2 0 1 0 2 0 5 0 7 0 1 0 2 0 10 0 5 0-193 3 71 2 9 0 3 0 2 0 3 0 3 0 5 0 2 0 2 0 3 0 2 0 2 0 3 0 2 0 2 0 2 0 4 0 2 0 2 0 4 0 2 0 2 0 2 0 2 0 2 0 1 0 2 0 2 0 2 0 1 0 2 0 2 0 3 0 2 0 1 0 2 0 5 0 6 0 2 0 5 0 3 0 7 0 2 0 12 0 3 0-129 6 3 0 6 0 2 0 3 0 3 0 5 0 2 0 2 0 3 0 2 0 2 0 3 0 2 0 6 0 4 0 2 0 2 0 6 0 2 0 7 0 2 0 3 0 2 0 2 0 2 0 1 0 3 0 2 0 2 0 1 0 5 0 2 0 1 0 5 0 10 0 2 0 27 0-172 5 9 0 3 0 4 0 4 0 3 0 4 0 3 0 3 0 3 0 3 0 3 0 2 0 3 0 3 0 2 0 3 0 2 0 2 0 3 0 2 0 2 0 3 0 2 0 2 0 2 0 2 0 2 0 2 0 2 0 2 0 4 0 2 0 2 0 2 0 2 0 1 0 2 0 2 0 2 0 1 0 2 0 2 0 2 0 1 0 2 0 1 0 2 0 2 0 1 0 2 0 18 0 3 0-134 1 3 0 4 0 4 0 3 0-33 5 14 0 5 0 3 0 4 0 4 0 3 0 7 0 3 0 3 0 3 0 3 0 2 0 6 0 2 0 3 0 2 0 2 0 3 0 2 0 2 0 3 0 2 0 2 0 2 0 2 0 2 0 2 0 2 0 2 0 2 0 2 0 2 0 2 0 2 0 2 0 1 0 2 0 2 0 2 0 1 0 2 0 2 0 2 0 1 0 2 0 1 0 2 0 2 0 14 0 1 0 1 0 2 0-133 1 5 0 3 0 4 0 4 0 3 0-33 5 10 0 4 0 5 0 3 0 8 0 3 0 4 0 3 0 3 0 3 0 3 0 3 0 2 0 3 0 5 0 3 0 2 0 2 0 3 0 2 0 2 0 3 0 2 0 2 0 2 0 2 0 2 0 2 0 2 0 2 0 2 0 2 0 2 0 2 0 2 0 2 0 1 0 2 0 2 0 2 0 1 0 4 0 2 0 1 0 2 0 1 0 2 0 2 0 3 0 6 0 9 0 3 0 3 0 5 0 19 0-167 1 4 0 5 0 3 0 8 0 3 0-46 5 18 0 5 0 4 0 5 0 7 0 4 0 3 0 4 0 3 0 3 0 3 0 3 0 3 0 2 0 3 0 3 0 5 0 2 0 2 0 3 0 2 0 2 0 3 0 2 0 2 0 2 0 4 0 2 0 2 0 2 0 2 0 2 0 2 0 2 0 2 0 2 0 1 0 2 0 2 0 2 0 1 0 2 0 2 0 2 0 1 0 2 0 1 0 15 0 14 0 8 0-157 1 5 0 4 0 5 0 7 0 4 0 3 0-46 6 13 0 5 0 5 0 4 0 5 0 3 0 4 0 4 0 3 0 4 0 3 0 3 0 3 0 3 0 3 0 2 0 3 0 3 0 2 0 3 0 4 0 3 0 2 0 2 0 3 0 2 0 2 0 2 0 2 0 2 0 2 0 2 0 2 0 2 0 2 0 2 0 4 0 2 0 1 0 2 0 2 0 2 0 1 0 2 0 2 0 2 0 1 0 2 0 1 0 10 0 3 0 23 0 1 0 10 0-172 1 5 0 5 0 4 0 5 0 3 0 4 0 4 0 3 0-64 6 18 0 7 0 6 0 5 0 5 0 4 0 5 0 3 0 4 0 4 0 3 0 4 0 3 0 3 0 3 0 8 0 3 0 3 0 2 0 3 0 2 0 2 0 3 0 2 0 2 0 3 0 2 0 2 0 2 0 2 0 2 0 2 0 4 0 2 0 2 0 2 0 2 0 2 0 2 0 1 0 2 0 2 0 2 0 1 0 2 0 2 0 2 0 1 0 2 0 1 0 8 0 8 0 2 0 2 0-158 1 7 0 6 0 5 0 5 0 4 0 5 0 3 0 4 0 4 0 3 0-64 7 10 0 15 0 6 0 5 0 5 0 4 0 5 0 3 0 4 0 4 0 3 0 4 0 3 0 3 0 3 0 3 0 3 0 2 0 3 0 3 0 2 0 3 0 2 0 2 0 3 0 2 0 2 0 3 0 2 0 2 0 2 0 2 0 2 0 4 0 2 0 2 0 2 0 2 0 2 0 2 0 2 0 1 0 2 0 2 0 2 0 1 0 2 0 2 0 2 0 1 0 2 0 1 0 2 0 11 0 3 0 2 0-174 1 10 0 15 0 6 0 5 0 5 0 4 0 5 0 3 0 4 0 4 0 3 0-64 8 10 0 8 0 7 0 6 0 5 0 5 0 4 0 5 0 3 0 4 0 4 0 3 0 4 0 3 0 3 0 3 0 3 0 3 0 2 0 3 0 3 0 2 0 3 0 2 0 2 0 3 0 2 0 2 0 3 0 2 0 2 0 2 0 2 0 4 0 2 0 2 0 2 0 2 0 2 0 2 0 2 0 2 0 1 0 2 0 2 0 2 0 1 0 2 0 2 0 2 0 1 0 2 0 5 0 8 0 1 0 22 0-191 1 10 0 8 0 7 0 6 0 5 0 5 0 4 0 5 0 3 0 4 0 4 0 3 0-64 9 10 0 8 0 7 0 6 0 5 0 5 0 4 0 5 0 3 0 4 0 4 0 3 0 4 0 3 0 3 0 3 0 3 0 3 0 2 0 6 0 2 0 3 0 2 0 2 0 3 0 2 0 2 0 5 0 2 0 2 0 2 0 2 0 2 0 2 0 2 0 2 0 2 0 2 0 2 0 2 0 2 0 1 0 2 0 4 0 1 0 2 0 5 0 11 0 11 0-175 1 10 0 8 0 7 0 6 0 5 0 5 0 4 0 5 0 3 0 4 0 4 0 3 0-64 11 10 0 8 0 7 0 6 0 5 0 5 0 4 0 5 0 3 0 4 0 4 0 3 0 4 0 3 0 3 0 3 0 3 0 3 0 2 0 3 0 3 0 2 0 3 0 2 0 2 0 3 0 2 0 2 0 3 0 2 0 2 0 2 0 2 0 2 0 2 0 2 0 2 0 2 0 17 0 1 0 2 0 5 0 39 0 3 0 4 0-199 1 10 0 8 0 7 0 6 0 5 0 5 0 4 0 5 0 3 0 4 0 4 0 3 0 205 14-269 1 0 0 10 0 0 0 8 0 0 0 7 0 0 0 6 0 0 0 5 0 0 0 5 0 0 0 4 0 0 0 5 0 0 0 3 0 0 0 4 0 0 0 4 0 0 0 3 0 0 0 4 0 3 0 3 0 3 0 3 0 3 0 2 0 3 0 3 0 2 0 3 0 2 0 2 0 3 0 2 0 2 0 3 0 2 0 2 0 2 0 2 0 2 0 2 0 6 0 4 0 2 0 2 0 7 0-143 37 10 0 8 0 7 0 6 0 5 0 5 0 4 0 5 0 3 0 8 0 3 0 4 0 3 0 3 0 3 0 3 0 3 0 2 0 3 0 3 0 2 0 3 0 2 0 2 0 3 0 2 0 2 0 3 0 2 0 2 0 2 0 2 0 2 0 2 0 2 0 2 0 29 0 1 0 4 0 11 0 5 0 3 0 3 0 11 0 13 0-206 1 10 0 8 0 7 0 6 0 5 0 5 0 4 0 5 0 3 0 8 0 3 0" fill="none"/>
<line x1="643.3" y1="1606" x2="643.3" y2="1941" stroke="#231815" stroke-width="1.9"/>
<line x1="642.4" y1="1940" x2="1019.3" y2="1940" stroke="#231815" stroke-width="1.9"/>
<line x1="637" y1="1922.8" x2="643.3" y2="1922.8" stroke="#231815" stroke-width="1.6"/>
<text x="632" y="1931.8" font-size="25" fill="#231815" text-anchor="end">0</text>
<line x1="637" y1="1756" x2="643.3" y2="1756" stroke="#231815" stroke-width="1.6"/>
<text x="632" y="1765" font-size="25" fill="#231815" text-anchor="end">20</text>
<line x1="637" y1="1686.9" x2="643.3" y2="1686.9" stroke="#231815" stroke-width="1.6"/>
<text x="632" y="1695.9" font-size="25" fill="#231815" text-anchor="end">40</text>
<line x1="637" y1="1633.9" x2="643.3" y2="1633.9" stroke="#231815" stroke-width="1.6"/>
<text x="632" y="1642.9" font-size="25" fill="#231815" text-anchor="end">60</text>
<line x1="659.6" y1="1940" x2="659.6" y2="1946" stroke="#231815" stroke-width="1.6"/>
<text x="659.8" y="1969.6" font-size="24" fill="#231815" text-anchor="middle">0</text>
<line x1="809.8" y1="1940" x2="809.8" y2="1946" stroke="#231815" stroke-width="1.6"/>
<text x="809.6" y="1969.6" font-size="24" fill="#231815" text-anchor="middle">50</text>
<line x1="880" y1="1940" x2="880" y2="1946" stroke="#231815" stroke-width="1.6"/>
<text x="881" y="1969.6" font-size="24" fill="#231815" text-anchor="middle" textLength="40" lengthAdjust="spacingAndGlyphs">100</text>
<line x1="934" y1="1940" x2="934" y2="1946" stroke="#231815" stroke-width="1.6"/>
<text x="933.6" y="1969.6" font-size="24" fill="#231815" text-anchor="middle" textLength="40" lengthAdjust="spacingAndGlyphs">150</text>
<line x1="979.6" y1="1940" x2="979.6" y2="1946" stroke="#231815" stroke-width="1.6"/>
<text x="987.1" y="1969.6" font-size="24" fill="#231815" text-anchor="middle" textLength="40" lengthAdjust="spacingAndGlyphs">200</text>
<text x="845" y="2005.6" font-size="31" fill="#231815" text-anchor="middle" textLength="259" lengthAdjust="spacingAndGlyphs">Barcode recovery</text>
<text font-size="31" fill="#231815" text-anchor="middle" transform="translate(593 1791) rotate(-90)" textLength="292" lengthAdjust="spacingAndGlyphs">Barcode expression</text>
<text x="1075" y="1594.4" font-size="52" fill="#000" font-weight="bold">g</text>
<defs><pattern id="prm" patternUnits="userSpaceOnUse" width="61" height="61"><path class="k11" d="M11 0l1 0 8 0 3 0 3 0 9 0 21 0 0 0-52 1 3 0 16 0 1 0 2 0 10 0 3 0 1 0 2 0 2 0 3 0 2 0-45 1 18 0 2 0 2 0 1 0 4 0 7 0 1 0 3 0 2 0 4 0 2 0 2 0 0 0 3 0 1 0 1 0-48 1 1 0 2 0 0 0 0 0 2 0 5 0 12 0 1 0 7 0 1 0 0 0 1 0 0 0 7 0 1 0 5 0 1 0 0 0 1 0 3 0-57 1 5 0 0 0 1 0 11 0 2 0 1 0 2 0 1 0 6 0 6 0 2 0 4 0 2 0 3 0 9 0 3 0-50 1 6 0 3 0 4 0 1 0 6 0 5 0 2 0 2 0 4 0 2 0 0 0 6 0 2 0 1 0 4 0-47 1 5 0 0 0 3 0 0 0 4 0 3 0 1 0 1 0 1 0 2 0 3 0 1 0 6 0 3 0 1 0 1 0 2 0 4 0 5 0 0 0 3 0-59 1 6 0 3 0 1 0 4 0 2 0 0 0 6 0 2 0 5 0 0 0 1 0 6 0 0 0 1 0 13 0 1 0 1 0-49 1 7 0 2 0 2 0 6 0 3 0 7 0 2 0 3 0 12 0 9 0 1 0 2 0-59 1 3 0 1 0 2 0 4 0 13 0 7 0 8 0 9 0 3 0 1 0 1 0 5 0-56 1 4 0 0 0 1 0 1 0 0 0 1 0 0 0 4 0 3 0 3 0 0 0 2 0 8 0 5 0 9 0 5 0 1 0-47 1 15 0 5 0 2 0 1 0 4 0 3 0 0 0 0 0 4 0 0 0 3 0 0 0 1 0 0 0 4 0 6 0-49 1 3 0 3 0 0 0 1 0 0 0 5 0 9 0 5 0 4 0 9 0 2 0 0 0 0 0 1 0 0 0 1 0 6 0 8 0 1 0 1 0-56 1 2 0 1 0 4 0 0 0 2 0 4 0 6 0 10 0 5 0 1 0 4 0 0 0 6 0 4 0 4 0 0 0 1 0 0 0-55 1 0 0 3 0 7 0 3 0 10 0 1 0 5 0 1 0 1 0 11 0 0 0 2 0 1 0 1 0 3 0 4 0 0 0-52 1 0 0 6 0 3 0 0 0 3 0 2 0 5 0 2 0 1 0 3 0 5 0 10 0 0 0 2 0 11 0 3 0 0 0-56 1 1 0 0 0 2 0 2 0 4 0 8 0 1 0 6 0 0 0 1 0 2 0 4 0 1 0 8 0 4 0 1 0 5 0 2 0 0 0 4 0-59 1 4 0 4 0 5 0 19 0 0 0 5 0 3 0 0 0 1 0 3 0 1 0 0 0 2 0 0 0 4 0 2 0 2 0-54 1 4 0 8 0 1 0 2 0 1 0 2 0 2 0 2 0 2 0 1 0 5 0 8 0 2 0 1 0 5 0 1 0 2 0 4 0 1 0-51 1 3 0 1 0 3 0 0 0 1 0 1 0 3 0 3 0 0 0 2 0 2 0 1 0 3 0 1 0 0 0 6 0 2 0 1 0 10 0 9 0 2 0-51 1 4 0 0 0 3 0 4 0 9 0 14 0 11 0 4 0 4 0-59 1 1 0 3 0 6 0 6 0 0 0 3 0 5 0 1 0 5 0 6 0 6 0 3 0 0 0 4 0 7 0 1 0 2 0-61 1 0 0 2 0 3 0 3 0 1 0 3 0 3 0 7 0 2 0 2 0 18 0 8 0 0 0 0 0 5 0-57 1 4 0 3 0 7 0 2 0 1 0 14 0 4 0 3 0 11 0 1 0 6 0-55 1 0 0 10 0 5 0 2 0 8 0 4 0 1 0 0 0 1 0 8 0 4 0 1 0 4 0-42 1 6 0 1 0 2 0 1 0 2 0 1 0 2 0 0 0 1 0 1 0 8 0 0 0 17 0 7 0 2 0 0 0 2 0-55 1 6 0 6 0 0 0 5 0 5 0 3 0 3 0 8 0 2 0 1 0 0 0 0 0 3 0 1 0 6 0-53 1 0 0 4 0 7 0 1 0 7 0 6 0 2 0 10 0 5 0 8 0 6 0-45 1 5 0 1 0 1 0 1 0 5 0 2 0 2 0 2 0 9 0 4 0 2 0 0 0 2 0 1 0 2 0 0 0 1 0 7 0-56 1 1 0 2 0 0 0 1 0 1 0 0 0 2 0 2 0 0 0 1 0 0 0 2 0 10 0 2 0 1 0 2 0 0 0 2 0 0 0 11 0 4 0 2 0 5 0 1 0 0 0 2 0-56 1 2 0 2 0 1 0 24 0 1 0 4 0 2 0 0 0 5 0 1 0 2 0 3 0 4 0 5 0 3 0-56 1 9 0 2 0 5 0 5 0 9 0 6 0 4 0 0 0 3 0 8 0 1 0 1 0-44 1 7 0 1 0 1 0 10 0 0 0 1 0 3 0 1 0 0 0 1 0 10 0 6 0 3 0 1 0 2 0 0 0-57 1 1 0 8 0 0 0 2 0 1 0 0 0 6 0 2 0 3 0 3 0 4 0 6 0 1 0 0 0 0 0 2 0 2 0 2 0 1 0 0 0 3 0 7 0-52 1 0 0 8 0 1 0 0 0 11 0 2 0 5 0 6 0 0 0 3 0 1 0 1 0 0 0 7 0 1 0 9 0 1 0 0 0-58 1 0 0 5 0 0 0 1 0 2 0 1 0 1 0 7 0 9 0 1 0 3 0 5 0 1 0 1 0 7 0 0 0 2 0 7 0 2 0 0 0-56 1 3 0 1 0 7 0 0 0 7 0 2 0 9 0 1 0 3 0 3 0 4 0 2 0 1 0 1 0 2 0 3 0 1 0 1 0 1 0 4 0 3 0-59 1 10 0 1 0 2 0 3 0 6 0 2 0 1 0 4 0 1 0 1 0 5 0 2 0 5 0 5 0 1 0 0 0 2 0 5 0-57 1 1 0 19 0 6 0 1 0 1 0 4 0 1 0 0 0 1 0 4 0 1 0 13 0-53 1 0 0 1 0 5 0 2 0 2 0 2 0 2 0 2 0 3 0 6 0 4 0 8 0 5 0 8 0 1 0 1 0 8 0-57 1 0 0 2 0 1 0 3 0 4 0 0 0 2 0 0 0 1 0 1 0 8 0 6 0 0 0 7 0 2 0 1 0 2 0 2 0 2 0 0 0 2 0 1 0 2 0 6 0 2 0-57 1 0 0 1 0 1 0 1 0 1 0 7 0 0 0 2 0 1 0 5 0 1 0 1 0 13 0 2 0 6 0 6 0 1 0 2 0-54 1 6 0 4 0 2 0 2 0 2 0 2 0 2 0 2 0 1 0 5 0 1 0 4 0 0 0 0 0 15 0 0 0 0 0 0 0 3 0 3 0 2 0 4 0-52 1 6 0 0 0 2 0 5 0 10 0 0 0 1 0 2 0 1 0 7 0 4 0 3 0 1 0 1 0 2 0 2 0 1 0 4 0-57 1 4 0 1 0 13 0 1 0 8 0 3 0 1 0 1 0 0 0 1 0 2 0 8 0 1 0 2 0 1 0 9 0 0 0-56 1 3 0 1 0 2 0 1 0 8 0 1 0 2 0 3 0 2 0 10 0 7 0 11 0-52 1 1 0 4 0 3 0 2 0 1 0 1 0 2 0 1 0 2 0 1 0 1 0 3 0 3 0 2 0 1 0 1 0 0 0 2 0 1 0 1 0 9 0 1 0 2 0 0 0 1 0 0 0 1 0 2 0 3 0 3 0-55 1 0 0 1 0 5 0 4 0 3 0 0 0 2 0 1 0 6 0 4 0 0 0 1 0 1 0 3 0 10 0 3 0 1 0 5 0 2 0 6 0 0 0-57 1 2 0 1 0 0 0 0 0 2 0 4 0 1 0 0 0 2 0 1 0 0 0 5 0 9 0 1 0 4 0 0 0 8 0 0 0 8 0 0 0 2 0 0 0-47 1 0 0 1 0 16 0 0 0 5 0 3 0 0 0 6 0 0 0 5 0 3 0 10 0 0 0-55 1 2 0 2 0 5 0 6 0 1 0 1 0 1 0 2 0 4 0 0 0 1 0 9 0 3 0 3 0 0 0 2 0 2 0 9 0 5 0-57 1 11 0 4 0 4 0 2 0 7 0 1 0 1 0 4 0 0 0 3 0 7 0 2 0 3 0 2 0 2 0 4 0-56 1 1 0 2 0 3 0 14 0 0 0 5 0 5 0 14 0 8 0 3 0-57 1 5 0 6 0 1 0 1 0 2 0 4 0 1 0 1 0 3 0 2 0 2 0 4 0 3 0 2 0 2 0 0 0 0 0 4 0 1 0 1 0 6 0 4 0-54 1 10 0 9 0 1 0 5 0 11 0 4 0 1 0 6 0 2 0 0 0 0 0 3 0 4 0-56 1 1 0 7 0 1 0 3 0 3 0 8 0 2 0 4 0 0 0 11 0 5 0 2 0 4 0 3 0 0 0 3 0 1 0-57 1 2 0 2 0 1 0 2 0 1 0 3 0 4 0 3 0 5 0 0 0 10 0 3 0 0 0 4 0 4 0 3 0 0 0 7 0 2 0 2 0 0 0 0 0-59 1 1 0 1 0 1 0 1 0 0 0 5 0 3 0 1 0 7 0 1 0 5 0 4 0 5 0 6 0 5 0 2 0 2 0 6 0 3 0-58 1 2 0 2 0 3 0 1 0 0 0 0 0 3 0 14 0 0 0 3 0 4 0 3 0 0 0 2 0 5 0 17 0-61 1 1 0 1 0 1 0 0 0 3 0 3 0 1 0 1 0 4 0 1 0 4 0 15 0 2 0 0 0 2 0 1 0 4 0 3 0 1 0 10 0 3 0-58 1 5 0 3 0 2 0 1 0 1 0 2 0 0 0 7 0 7 0 13 0 0 0 1 0 1 0 1 0 1 0 0 0 5 0 0 0 2 0 2 0-52 1 8 0 2 0 2 0 6 0 6 0 2 0 1 0 10 0 1 0" fill="none"/><path class="k12" d="M20 0l11 0 6 0 3 0 5 0-45 1 6 0 7 0 14 0 11 0 13 0 2 0 1 0 4 0-48 1 12 0 8 0 5 0 1 0-29 1 3 0 14 0 12 0 9 0 0 0-40 1 4 0 3 0 6 0 1 0 3 0 5 0 16 0-36 1 0 0 2 0 13 0 7 0 1 0 6 0 2 0 0 0 2 0 15 0 3 0 1 0-38 1 2 0 7 0 1 0-25 1 2 0 3 0 41 0-49 1 0 0 0 0 7 0 15 0 1 0 7 0 2 0 2 0 4 0 15 0-49 1 6 0 4 0 5 0 5 0 4 0 4 0 1 0 1 0 1 0 0 0 4 0 17 0-51 1 2 0 6 0 19 0 2 0 2 0 8 0-41 1 8 0 2 0 17 0 2 0 7 0 14 0-49 1 30 0 12 0 2 0 4 0-53 1 4 0 6 0 1 0 6 0 4 0 15 0 19 0 1 0 2 0-59 1 2 0 0 0 8 0 4 0 36 0 2 0 2 0-53 1 14 0 2 0 2 0 17 0 8 0 2 0 2 0 8 0-56 1 2 0 4 0 15 0 13 0 22 0-54 1 5 0 4 0 0 0 9 0 11 0 9 0 6 0 3 0 4 0 1 0 0 0-50 1 2 0 4 0 2 0 4 0 1 0 0 0 0 1 1 0 1 0 4 0 15 0 1 0 7 0-46 1 4 0 16 0 3 0 6 0 9 0 17 0 3 0-53 1 6 0 1 0 17 0 6 0 4 0 8 0 3 0 1 0 4 0-52 1 0 0 1 0 11 0 4 0 7 0 5 0 2 0 25 0 2 0-58 1 14 0 2 0 0 0 14 0 11 0 12 0-37 1 2 0 8 0 4 0 3 0-21 1 1 0 7 0 17 0 12 0 2 0 5 0-43 1 2 0 5 0 25 0 6 0 1 0 6 0-52 1 3 0 12 0 20 0 13 0-55 1 5 0 18 0 20 0 13 0 2 0-47 1 4 0 3 0 4 0 0 0 11 0 1 0 6 0 16 0-33 1 2 0 1 0 1 0 3 0 3 0 14 0 2 0 2 0 5 0 0 0-56 1 7 0 7 0 0 0 3 0 15 0 3 0 0 0 4 0-27 1 9 0 7 0 15 0 3 0 9 0-49 1 3 0 5 0 12 0 2 0 8 0-29 1 21 0 3 0 17 0 7 0-52 1 20 0 29 0 0 0 6 0-51 1 5 0 29 0 16 0-58 1 10 0 5 0 7 0-18 1 6 0 1 0 11 0 10 0 14 0 8 0-45 1 3 0 1 0 6 0 4 0 12 0 0 0 13 0 6 0 2 0-52 1 4 0 6 0 9 0 2 0 5 0 4 0 16 0-43 1 6 0 3 0 0 0 14 0 15 0 6 0 7 0-47 1 35 0 11 0-58 1 14 0 23 0 1 0 5 0 1 0 13 0-35 1 5 0 21 0 4 0 7 0-56 1 28 0 5 0 6 0 11 0 0 0 7 0-49 1 1 0 16 0 19 0 1 0 0 0-43 1 17 0 2 0 7 0 5 0 14 0 4 0 0 0-38 1 6 0 2 0 15 0 8 0 5 0 2 0-50 1 7 0 1 0 7 0 0 0 6 0 5 0 2 0 13 0 12 0 0 0-52 1 3 0 8 0 1 0 4 0 9 0 6 0 17 0 3 0-54 1 6 0 5 0 4 0-14 1 10 0 5 0 23 0 1 0 0 0-41 1 17 0 18 0 5 0 4 0 2 0-45 1 5 0 4 0 1 0 9 0 14 0 8 0 8 0-42 1 6 0 1 0 9 0 1 0 0 0 2 0 0 0 10 0-17 1 5 0 4 0 10 0 9 0 10 0 2 0-46 1 3 0 2 0 13 0 7 0 2 0 4 0 5 0 1 0-45 1 3 0 2 0 9 0 13 0 5 0 9 0 8 0-51 1 14 0 2 0 3 0 17 0 4 0-13 1 10 0 0 0 1 0 6 0 2 0 5 0" fill="none"/></pattern><pattern id="pgm" patternUnits="userSpaceOnUse" width="61" height="61"><path class="k12" d="M3 0l2 0 10 0 13 0 2 0 6 0 0 0 10 0 7 0 3 0-44 1 4 0 12 0 0 0 0 0 6 0 6 0 9 0 4 0 6 0 1 0 1 0-61 1 3 0 4 0 0 0 1 0 1 0 5 0 0 0 1 0 1 0 4 0 1 0 3 0 1 0 1 0 1 0 4 0 1 0 0 0 1 0 6 0 1 0 5 0 5 0 4 0 3 0 1 0 1 0-58 1 5 0 11 0 0 0 4 0 1 0 2 0 0 0 0 0 1 0 1 0 0 0 2 0 0 0 2 0 0 0 12 0 0 0 1 0 1 0 4 0 2 0 6 0 1 0 1 0-53 1 3 0 4 0 6 0 0 0 0 0 14 0 1 0 4 0 1 0 6 0 1 0 4 0 1 0 2 0-50 1 1 0 3 0 2 0 8 0 4 0 10 0 1 0 1 0 0 0 0 0 5 0 0 0 2 0 1 0 1 0 3 0 2 0 4 0 1 0 4 0 2 0 2 0 2 0-58 1 0 0 2 0 1 0 5 0 5 0 3 0 5 0 2 0 3 0 2 0 2 0 9 0 1 0 4 0 1 0 1 0 3 0 1 0 1 0-52 1 0 0 1 0 3 0 2 0 1 0 1 0 2 0 5 0 0 0 4 0 1 0 1 0 3 0 2 0 4 0 0 0 8 0 6 0 1 0 4 0 1 0 2 0-53 1 15 0 2 0 3 0 5 0 4 0 3 0 0 0 2 0 1 0 2 0 8 0 1 0 3 0 0 0 1 0 3 0 2 0 2 0 1 0-54 1 3 0 1 0 5 0 7 0 6 0 1 0 2 0 7 0 4 0 1 0 1 0 1 0 1 0 2 0 0 0 1 0-45 1 2 0 2 0 9 0 2 0 1 0 2 0 5 0 1 0 5 0 1 0 2 0 1 0 0 0 1 0 1 0 2 0 0 0 0 0 2 0 2 0 6 0 3 0 1 0 1 0-49 1 0 0 2 0 12 0 1 0 1 0 1 0 1 0 1 0 5 0 9 0 5 0 8 0 1 0 1 0 3 0 1 0 1 0-58 1 0 0 3 0 2 0 1 0 1 0 1 0 11 0 3 0 0 0 2 0 1 0 1 0 1 0 4 0 2 0 7 0 8 0 1 0 2 0 1 0 6 0 0 0-58 1 2 0 6 0 5 0 0 0 1 0 6 0 2 0 2 0 2 0 0 0 1 0 14 0 1 0 4 0 2 0 3 0 4 0 3 0 1 0-59 1 1 0 2 0 8 0 1 0 1 0 2 0 7 0 1 0 8 0 1 0 0 0 11 0 0 0 14 0 1 0 1 0 1 0-55 1 0 0 0 0 5 0 8 0 3 0 4 0 0 0 3 0 2 0 0 0 1 0 4 0 0 0 3 0 0 0 4 0 6 0 9 0-56 1 10 0 5 0 1 0 0 0 1 0 1 0 7 0 0 0 5 0 8 0 3 0 1 0 3 0 8 0 2 0-54 1 1 0 10 0 4 0 0 0 3 0 4 0 1 0 1 0 2 0 0 0 1 0 1 0 0 0 2 0 2 0 0 0 2 0 4 0 7 0 5 0 0 0 1 0-54 1 1 0 0 0 0 0 2 0 15 0 0 0 4 0 5 0 1 0 3 0 2 0 3 0 0 0 1 0 1 0 5 0 1 0 5 0 6 0 1 0-55 1 1 0 3 0 3 0 6 0 1 0 0 0 6 0 1 0 1 0 7 0 1 0 3 0 0 0 4 0 2 0 4 0 5 0 5 0-53 1 1 0 5 0 1 0 3 0 4 0 4 0 4 0 2 0 1 0 2 0 1 0 3 0 1 0 6 0 0 0 4 0 0 0 8 0 5 0-55 1 1 0 0 0 1 0 1 0 1 0 1 0 0 0 2 0 6 0 5 0 0 0 10 0 3 0 1 0 6 0 7 0 1 0 0 0 0 0 1 0 10 0 2 0-60 1 3 0 4 0 5 0 3 0 4 0 1 0 2 0 2 0 4 0 4 0 5 0 2 0 3 0 2 0 0 0 11 0 1 0 3 0-58 1 1 0 1 0 4 0 0 0 7 0 9 0 7 0 0 0 11 0 1 0 2 0 2 0 8 0 6 0 1 0-59 1 1 0 6 0 3 0 5 0 6 0 13 0 0 0 7 0 4 0 13 0-52 1 8 0 0 0 7 0 0 0 4 0 4 0 0 0 0 0 3 0 1 0 9 0 1 0 3 0 0 0 0 0 1 0 2 0 8 0 0 0-54 1 1 0 1 0 2 0 4 0 5 0 3 0 4 0 0 0 4 0 1 0 6 0 2 0 1 0 1 0 5 0 3 0 2 0 1 0 2 0 4 0 0 0 2 0-52 1 5 0 6 0 2 0 4 0 1 0 3 0 3 0 1 0 4 0 5 0 14 0-53 1 1 0 3 0 2 0 4 0 1 0 2 0 0 0 9 0 4 0 4 0 4 0 0 0 7 0 3 0 0 0 3 0 2 0 7 0-58 1 1 0 10 0 7 0 1 0 1 0 3 0 2 0 1 0 6 0 2 0 5 0 5 0 1 0 1 0 1 0 0 0 1 0 0 0 0 0 1 0 4 0 0 0 1 0 1 0 1 0 1 0 1 0-57 1 0 0 2 0 2 0 11 0 1 0 0 0 1 0 3 0 5 0 1 0 11 0 3 0 1 0 0 0 1 0 4 0 0 0 1 0 1 0 1 0 3 0 0 0 1 0 0 0 3 0 2 0-58 1 5 0 4 0 1 0 1 0 0 0 0 0 1 0 2 0 7 0 8 0 2 0 5 0 11 0 7 0 3 0 2 0-58 1 9 0 7 0 3 0 2 0 2 0 0 0 0 0 0 0 4 0 2 0 2 0 2 0 3 0 4 0 5 0 7 0-43 1 2 0 2 0 1 0 0 0 5 0 5 0 3 0 2 0 3 0 0 0 5 0 0 0 1 0 7 0 2 0 6 0-55 1 4 0 1 0 1 0 3 0 0 0 1 0 4 0 1 0 5 0 3 0 4 0 1 0 0 0 2 0 1 0 5 0 2 0 0 0 3 0 2 0 1 0 1 0 5 0 1 0 3 0 6 0-58 1 8 0 1 0 2 0 7 0 2 0 1 0 4 0 5 0 0 0 1 0 15 0 2 0 4 0 3 0 0 0-57 1 3 0 7 0 1 0 0 0 2 0 2 0 1 0 4 0 0 0 9 0 2 0 1 0 10 0-41 1 8 0 2 0 2 0 2 0 7 0 0 0 0 0 0 0 2 0 4 0 0 0 6 0 0 0 5 0 13 0 5 0 0 0 2 0-55 1 7 0 6 0 3 0 1 0 2 0 8 0 2 0 5 0 8 0 9 0 3 0 2 0-60 1 2 0 0 0 3 0 3 0 6 0 6 0 1 0 4 0 3 0 3 0 1 0 13 0 3 0 1 0 1 0 8 0 3 0-61 1 1 0 0 0 1 0 6 0 1 0 1 0 0 0 0 0 2 0 4 0 1 0 2 0 4 0 2 0 0 0 3 0 3 0 1 0 0 0 1 0 2 0 2 0 5 0 1 0 3 0 1 0 4 0 0 0 0 0 5 0 2 0 0 0 2 0-59 1 6 0 1 0 3 0 2 0 4 0 4 0 3 0 6 0 0 0 2 0 2 0 0 0 4 0 2 0 3 0 2 0 2 0 2 0 1 0 2 0 4 0-52 1 2 0 4 0 5 0 3 0 3 0 4 0 1 0 3 0 15 0 1 0 0 0 5 0 2 0 0 0 1 0 8 0-60 1 1 0 9 0 16 0 7 0 0 0 4 0 1 0 2 0 1 0 2 0 2 0 7 0 1 0 0 0 2 0 2 0-57 1 1 0 1 0 1 0 3 0 8 0 7 0 4 0 1 0 3 0 2 0 0 0 6 0 0 0 1 0 1 0 5 0 0 0 1 0 5 0 1 0 6 0 3 0-61 1 2 0 4 0 9 0 4 0 1 0 6 0 1 0 4 0 0 0 2 0 3 0 4 0 0 0 1 0 2 0 2 0 0 0 2 0 1 0 2 0 0 0 2 0 4 0-51 1 1 0 2 0 6 0 8 0 0 0 8 0 2 0 11 0 4 0 1 0 3 0 9 0 1 0-49 1 0 0 1 0 7 0 2 0 1 0 3 0 3 0 8 0 0 0 1 0 1 0 0 0 2 0 7 0 1 0 1 0 3 0 4 0-54 1 5 0 11 0 0 0 1 0 0 0 1 0 1 0 1 0 2 0 4 0 1 0 5 0 2 0 3 0 2 0 2 0 1 0 2 0 3 0 1 0 5 0 0 0 3 0 1 0-58 1 5 0 6 0 2 0 1 0 1 0 9 0 1 0 1 0 1 0 1 0 1 0 1 0 3 0 3 0 1 0 3 0 1 0 3 0 4 0 4 0 1 0 1 0-51 1 0 0 4 0 3 0 0 0 1 0 4 0 2 0 1 0 2 0 6 0 3 0 0 0 0 0 1 0 2 0 1 0 1 0 2 0 2 0 4 0 0 0 2 0 6 0 1 0 0 0 1 0 3 0-45 1 5 0 1 0 2 0 2 0 1 0 1 0 1 0 2 0 4 0 3 0 6 0 5 0 2 0 1 0 1 0 0 0 10 0 2 0-61 1 0 0 5 0 7 0 6 0 2 0 1 0 1 0 3 0 0 0 1 0 5 0 1 0 2 0 22 0 1 0 1 0 0 0-54 1 10 0 0 0 1 0 2 0 5 0 6 0 10 0 0 0 3 0 3 0 14 0-57 1 2 0 3 0 2 0 6 0 2 0 1 0 5 0 2 0 0 0 2 0 4 0 3 0 2 0 1 0 7 0 2 0 2 0 6 0 0 0 1 0 1 0 5 0-50 1 5 0 2 0 4 0 0 0 2 0 2 0 3 0 10 0 3 0 5 0 9 0 2 0 1 0 2 0-59 1 6 0 2 0 1 0 1 0 0 0 1 0 0 0 6 0 3 0 0 0 2 0 9 0 1 0 3 0 8 0 5 0-48 1 9 0 0 0 3 0 1 0 1 0 0 0 1 0 5 0 2 0 3 0 3 0 4 0 7 0 1 0 1 0 1 0 2 0 1 0 5 0 0 0 2 0 0 0 2 0 2 0 2 0-54 1 5 0 1 0 0 0 1 0 11 0 1 0 6 0 0 0 1 0 2 0 0 0 1 0 2 0 1 0 7 0 11 0 1 0 0 0 0 0 2 0 3 0-55 1 0 0 1 0 9 0 1 0 3 0 0 0 2 0 0 0 1 0 5 0 1 0 5 0 4 0 3 0 2 0 2 0 2 0 1 0 0 0 0 0 5 0 4 0 0 0-56 1 1 0 1 0 0 0 2 0 4 0 0 0 3 0 2 0 2 0 0 0 0 0 1 0 1 0 3 0 1 0 1 0 4 0 3 0 2 0 6 0 3 0 4 0 0 0 6 0 3 0 5 0-55 1 6 0 33 0 0 0 4 0 0 0" fill="none"/><path class="k11" d="M48 2l4 0-41 1 9 1 23 4 3 0-44 1 52 3-36 2 7 0-23 1 19 0 25 2-31 1 44 2-34 1-24 3 3 0 49 0 8 0-38 3 33 0-55 1 54 0 1 0-17 1-20 1 35 0-44 1-3 1 52 0-5 1-9 1 6 0-11 1 10 0 5 0-43 1 37 1-38 2 2 1 32 0-36 1 30 0 20 1-42 3-5 1-1 1 30 0-35 1 6 0 39 1-35 1 42 0-40 1-3 1 9 0 13 0 8 0-45 1 10 0 30 0 6 0 4 0-10 2 5 0-36 1-1 1 12 0 12 1-18 1 5 1 25 0 0 1" fill="none"/></pattern><pattern id="pmix" patternUnits="userSpaceOnUse" width="61" height="61"><path class="k12" d="M1 0l16 0 4 0 9 0 20 0-45 1 19 0 5 0 4 0 5 0 3 0 5 0 9 0 6 0-58 1 3 0 0 0 18 0 3 0 1 0 1 0 1 0 3 0 6 0 1 0 7 0 4 0 2 0 1 0-53 1 5 0 1 0 16 0 1 0 2 0 4 0 9 0 0 0 12 0 3 0 1 0-54 1 10 0 4 0 1 0 14 0 11 0 6 0 1 0 0 0 2 0 7 0-36 1 4 0 1 0 4 0 4 0 2 0 1 0 5 0 6 0 2 0 5 0 0 0-52 1 13 0 32 0 1 0 5 0 1 0 5 0 1 0-52 1 3 0 7 0 5 0 10 0 4 0 2 0 1 0 12 0 3 0 3 0-57 1 13 0 4 0 4 0 7 0 1 0 0 0 3 0 12 0 12 0 0 0-57 1 11 0 8 0 3 0 2 0 7 0 0 0 0 0 1 0 1 0 3 0 1 0 2 0 2 0 5 0 3 0 0 0 3 0 2 0 2 0-55 1 5 0 2 0 7 0 8 0 3 0 13 0 4 0 5 0 5 0 1 0-55 1 3 0 6 0 19 0 3 0 2 0 3 0 8 0 0 0 0 0-44 1 4 0 2 0 4 0 8 0 0 0 1 0 11 0 4 0 14 0 4 0 2 0 1 0 3 0 1 0-59 1 3 0 3 0 2 0 0 0 8 0 2 0 8 0 5 0 8 0 1 0 16 0 1 0-56 1 1 0 2 0 1 0 4 0 10 0 3 0 5 0 13 0 4 0 2 0 0 0 4 0 2 0 6 0-51 1 8 0 6 0 4 0 5 0 4 0 1 0 0 0 18 0 5 0 3 0-54 1 2 0 1 0 5 0 6 0 8 0 2 0 3 0 0 0 3 0 6 0 6 0 0 0-43 1 0 0 7 0 3 0 2 0 2 0 1 0 1 0 15 0 0 0 10 0-45 1 3 0 4 0 12 0 10 0 9 0 5 0 1 0 10 0 2 0-54 1 1 0 4 0 1 0 6 0 5 0 14 0 2 0 1 0 6 0 3 0 1 0-38 1 1 0 3 0 7 0 11 0 2 0 6 0 9 0 9 0-49 1 1 0 20 0 5 0 3 0 16 0 0 0-51 1 3 0 2 0 12 0 4 0 3 0 14 0 1 0 1 0 7 0 2 0 2 0 1 0 2 0 2 0-55 1 7 0 7 0 2 0 1 0 3 0 1 0 1 0 2 0 4 0 0 0 1 0 13 0 3 0 11 0-47 1 9 0 4 0 7 0 11 0 1 0 3 0 5 0 0 0 4 0 0 0-55 1 7 0 7 0 15 0 4 0 9 0 0 0 1 0 2 0 5 0 2 0-49 1 0 0 4 0 4 0 2 0 1 0 4 0 11 0 2 0 0 0 0 0 0 0 4 0 6 0 4 0-46 1 3 0 6 0 7 0 4 0 2 0 4 0 4 0 0 0 6 0 8 0 0 0 1 0 6 0 3 0 0 0 6 0-60 1 2 0 12 0 1 0 3 0 7 0 11 0 3 0-34 1 9 0 6 0 4 0 10 0 1 0 5 0 11 0 8 0-32 1 11 0 1 0 5 0 5 0 2 0 1 0 0 0 6 0-55 1 1 0 2 0 5 0 2 0 2 0 5 0 10 0 12 0-37 1 4 0 1 0 1 0 1 0 5 0 0 0 6 0 7 0 2 0 10 0 1 0 9 0-51 1 9 0 1 0 5 0 6 0 15 0 7 0 1 0 6 0 2 0 2 0 2 0 2 0-59 1 1 0 3 0 8 0 8 0 8 0 1 0 4 0 1 0 5 0 6 0 6 0 3 0-41 1 1 0 3 0 5 0 7 0 3 0 6 0 0 0 2 0 2 0 2 0 13 0 1 0-53 1 4 0 8 0 1 0 24 0 1 0 1 0 0 0 1 0 6 0 4 0 3 0-58 1 10 0 3 0 1 0 2 0 18 0 16 0 3 0 0 0 5 0 0 0 1 0-57 1 5 0 4 0 3 0 1 0 0 0 3 0 0 0 24 0 1 0 1 0 3 0-44 1 12 0 1 0 0 0 8 0 3 0 3 0 12 0 5 0 7 0 1 0-43 1 0 0 5 0 6 0 2 0 5 0 6 0 5 0 6 0 0 0 5 0-51 1 9 0 1 0 3 0 4 0 18 0 7 0 7 0 3 0 5 0-55 1 7 0 7 0 1 0 4 0 9 0 0 0 8 0 5 0 7 0 1 0 2 0 3 0 1 0-51 1 1 0 3 0 8 0 2 0 8 0 4 0 5 0 10 0 3 0 2 0-50 1 6 0 3 0 9 0 4 0 1 0 13 0 1 0 4 0 4 0 5 0 4 0-57 1 0 0 12 0 2 0 4 0 0 0 4 0 13 0 0 0 9 0 3 0 4 0 3 0 2 0 4 0-58 1 1 0 9 0 8 0 1 0 12 0 6 0 1 0 3 0 7 0 5 0-53 1 2 0 1 0 10 0 1 0 3 0 16 0 5 0 10 0 1 0 2 0 6 0-57 1 2 0 7 0 1 0 8 0 1 0 3 0 0 0 3 0 5 0 1 0 4 0 0 0 4 0 7 0 12 0-53 1 1 0 0 0 3 0 7 0 6 0 1 0 3 0 0 0 2 0 4 0 6 0 1 0 0 0 7 0 2 0 2 0-52 1 4 0 1 0 12 0 1 0 1 0 4 0 2 0 5 0 4 0 5 0 3 0 13 0 1 0 2 0-58 1 1 0 6 0 4 0 3 0 5 0 8 0 8 0 3 0 4 0 11 0 6 0-57 1 8 0 9 0 14 0 1 0 2 0 1 0 7 0 7 0 0 0 8 0-59 1 13 0 10 0 1 0 0 0 1 0 0 0 5 0 8 0 0 0 1 0 8 0-48 1 3 0 5 0 4 0 1 0 1 0 3 0 4 0 3 0 1 0 10 0 2 0 2 0 5 0 7 0 3 0-50 1 3 0 3 0 1 0 3 0 4 0 1 0 2 0 2 0 0 0 4 0 6 0 9 0-34 1 5 0 8 0 0 0 5 0 2 0 8 0 4 0 19 0-30 1 0 0 5 0 3 0 1 0 7 0 15 0-49 1 1 0 12 0 1 0 1 0 10 0 2 0 1 0 8 0 7 0 0 0 1 0 3 0-55 1 1 0 9 0 0 0 4 0 1 0 9 0 0 0 9 0 1 0 2 0 2 0 1 0 9 0 6 0 3 0-60 1 3 0 1 0 6 0 4 0 12 0 7 0 13 0 12 0-52 1 0 0 2 0 6 0 2 0 0 0 11 0 4 0 10 0 4 0 1 0 1 0 10 0" fill="none"/><path class="k11" d="M4 0l3 0 1 0 3 0 2 0 0 0 11 0 1 0 3 0 1 0-17 1 8 0 1 0 4 0 4 0 6 0 8 0 13 0-53 1 2 0 0 0 0 0 2 0 7 0 12 0 1 0 1 0 4 0 13 0-41 1 6 0 5 0 5 0 20 0 0 0 5 0 2 0 6 0-44 1 0 0 3 0 1 0 1 0 12 0 2 0 2 0 12 0 15 0-51 1 7 0 1 0 4 0 6 0 2 0 3 0 1 0 3 0 1 0 1 0 7 0 3 0 7 0 7 0-59 1 10 0 4 0 2 0 12 0 0 0 4 0 1 0 4 0 1 0 0 0 8 0 5 0 3 0 3 0-52 1 9 0 15 0 9 0 0 0 3 0 2 0 6 0 3 0 2 0 2 0 5 0-58 1 1 0 6 0 2 0 2 0 3 0 8 0 16 0 1 0 1 0 10 0 2 0 4 0-51 1 3 0 13 0 0 0 8 0 9 0 3 0 10 0 7 0-61 1 9 0 2 0 19 0 14 0 3 0 8 0 5 0-57 1 1 0 9 0 3 0 10 0 1 0 17 0 3 0 10 0-55 1 1 0 4 0 5 0 3 0 2 0 1 0 9 0 3 0 9 0 8 0 7 0 5 0-58 1 4 0 7 0 3 0 9 0 7 0 23 0 0 0 5 0-58 1 6 0 1 0 8 0 9 0 1 0 1 0 3 0 0 0 0 0 3 0 5 0 10 0 4 0-48 1 8 0 8 0 1 0 5 0 1 0 11 0 2 0 3 0 4 0 1 0 0 0 6 0 6 0-59 1 6 0 9 0 5 0 1 0 5 0 6 0 1 0 2 0 2 0 3 0 3 0 2 0 2 0 1 0 3 0 0 0 2 0-36 1 5 0 5 0 4 0 13 0 3 0-46 1 4 0 1 0 4 0 0 0 1 0 1 0 2 0 4 0 1 0 3 0 7 0 2 0 0 0 2 0 1 0 6 0 6 0 4 0 0 0 3 0 4 0-57 1 1 0 0 0 0 0 11 0 2 0 2 0 10 0 3 0 10 0 4 0 5 0 4 0 7 0-57 1 11 0 5 0 26 0 9 0 6 0-56 1 5 0 1 0 3 0 0 0 11 0 6 0 1 0 4 0 5 0 0 0 3 0 12 0-52 1 2 0 3 0 1 0 3 0 3 0 8 0 5 0 3 0 5 0 1 0 3 0 7 0 2 0 5 0-51 1 12 0 3 0 4 0 9 0 1 0 2 0 4 0 1 0 3 0 0 0 1 0 8 0 1 0 6 0 3 0-45 1 20 0 6 0 1 0 4 0 9 0-56 1 9 0 4 0 3 0 3 0 1 0 1 0 1 0 4 0 3 0 2 0 1 0 1 0 10 0 10 0 1 0-51 1 1 0 7 0 1 0 1 0 3 0 8 0 5 0 8 0 4 0 1 0 0 0 2 0 9 0 2 0 4 0-57 1 1 0 0 0 12 0 0 0 0 0 2 0 1 0 1 0 10 0 2 0 9 0 4 0 3 0 2 0 0 0 1 0 3 0 1 0 2 0 4 0 0 0-59 1 4 0 19 0 4 0 2 0 2 0 2 0 2 0 0 0 6 0 3 0 10 0 6 0-59 1 6 0 2 0 3 0 8 0 0 0 10 0 0 0 8 0 2 0 1 0 5 0 4 0 0 0-48 1 11 0 0 0 3 0 12 0 1 0 0 0 1 0 1 0 5 0 5 0 8 0 5 0-51 1 0 0 1 0 2 0 8 0 5 0 3 0 11 0 3 0 12 0 5 0 3 0 1 0 1 0-59 1 3 0 3 0 5 0 4 0 4 0 1 0 6 0 7 0 2 0 1 0 3 0 5 0 7 0 9 0-54 1 3 0 4 0 6 0 0 0 6 0 17 0 5 0 9 0 3 0-56 1 1 0 6 0 1 0 4 0 4 0 5 0 4 0 0 0 12 0 11 0 2 0 2 0 5 0-48 1 6 0 1 0 7 0 5 0 20 0 6 0 0 0 3 0-59 1 1 0 6 0 1 0 0 0 2 0 0 0 1 0 0 0 10 0 11 0 2 0 0 0 12 0 1 0 3 0 5 0 4 0-45 1 4 0 1 0 2 0 5 0 3 0 13 0 3 0 3 0 1 0 0 0 3 0-49 1 4 0 16 0 8 0 13 0 1 0 1 0 1 0 1 0 1 0 3 0 0 0 5 0 0 0-55 1 3 0 10 0 1 0 0 0 2 0 4 0 1 0 12 0 5 0 1 0 5 0 2 0 3 0 2 0-50 1 3 0 9 0 17 0 7 0 4 0 4 0 8 0 4 0-53 1 1 0 1 0 2 0 26 0 11 0 13 0-53 1 8 0 2 0 3 0 7 0 24 0-51 1 1 0 11 0 12 0 4 0 14 0 1 0 1 0-44 1 9 0 14 0 1 0 12 0 5 0 4 0 9 0 3 0 0 0-54 1 9 0 0 0 5 0 6 0 5 0 8 0 3 0 11 0 1 0 6 0 1 0-57 1 1 0 12 0 1 0 14 0 8 0 17 0-49 1 1 0 7 0 1 0 7 0 3 0 21 0 6 0 5 0-53 1 0 0 1 0 2 0 3 0 4 0 5 0 2 0 5 0 10 0 17 0-49 1 0 0 3 0 6 0 1 0 1 0 16 0 6 0 2 0 9 0 1 0-43 1 0 0 11 0 2 0 3 0 5 0 4 0 5 0 0 0 1 0 1 0 15 0 6 0-53 1 4 0 9 0 1 0 29 0 1 0 1 0-49 1 9 0 4 0 2 0 0 0 2 0 1 0 20 0 1 0 5 0 4 0 9 0-47 1 5 0 1 0 0 0 6 0 2 0 5 0 3 0 4 0 4 0 1 0 3 0 3 0 3 0 1 0 0 0-50 1 3 0 5 0 5 0 2 0 0 0 19 0 5 0 10 0 7 0-44 1 1 0 7 0 16 0 3 0 3 0 1 0 5 0 8 0-58 1 0 0 2 0 4 0 0 0 21 0 2 0 13 0 1 0 13 0 0 0 3 0-58 1 3 0 1 0 1 0 1 0 4 0 1 0 1 0 1 0 1 0 5 0 3 0 1 0 7 0 2 0 11 0 0 0 0 0 10 0 3 0 0 0-58 1 2 0 9 0 4 0 7 0 1 0 2 0 4 0 9 0 7 0 2 0 1 0 0 0 8 0-48 1 49 0 3 0-59 1 1 0 2 0 1 0 7 0 2 0 12 0 1 0 3 0 2 0 1 0 1 0 10 0 0 0 6 0 5 0 0 0 2 0 1 0 1 0-31 1 2 0 3 0 6 0 5 0 5 0 4 0" fill="none"/></pattern><pattern id="psp" patternUnits="userSpaceOnUse" width="61" height="61"><path class="k12" d="M11 0l37 0-40 1 40 0 5 0 3 2-1 1 1 1-50 2 14 0-17 2 26 0 29 1-46 1 14 0 8 0 27 0-55 1 12 0 14 1 4 0 10 0 14 0-55 1 10 0 20 0-5 1 20 0-13 2 16 0-48 1 12 0-15 1 16 0 17 2 13 0 2 0 5 0-25 1-25 2 37 0-13 2 28 0-49 2 3 0 28 0 2 0-37 1 2 0 34 0 11 0 0 0-37 2 25 0 0 0 18 0-49 1 34 0-30 1 36 0-45 1 7 0 21 0 1 0-30 1 11 0 6 0 20 0 10 0-37 1 39 0 2 0-40 1 43 0 5 0-20 1-15 1 5 0 29 0-22 1 13 0-22 1 3 0-24 2 13 0 19 0 1 0-31 1 10 0 11 0-28 2 10 0 31 0-34 1 21 0 17 0 3 0 4 0 4 0-22 1 10 0-33 1 11 1 21 0-36 1-10 1 13 0 12 0-16 1 50 0-15 1-23 1 9 0 7 0-8 1 10 1-35 1 26 0 11 0 0 0 16 0-52 1 49 0-46 1 1 0 36 0 9 0-15 1 9 0 8 0" fill="none"/></pattern><pattern id="pR2" patternUnits="userSpaceOnUse" width="61" height="61"><path class="k11" d="M2 0l2 0 1 0 9 0 1 0 6 0 1 0 3 0 1 0 2 0 3 0 3 0 5 0 6 0 3 0 1 0 5 0-54 1 1 0 1 0 0 0 6 0 2 0 1 0 1 0 2 0 1 0 5 0 1 0 2 0 1 0 1 0 0 0 2 0 1 0 6 0 2 0 0 0 1 0 0 0 1 0 1 0 1 0 1 0 0 0 1 0 0 0 0 0 1 0 3 0 3 0 2 0 0 0 0 0 5 0 0 0-55 1 1 0 3 0 1 0 7 0 3 0 2 0 0 0 4 0 4 0 0 0 2 0 0 0 0 0 0 0 4 0 6 0 7 0 3 0 2 0 1 0 0 0 1 0 0 0 2 0 0 0 1 0 1 0 2 0-53 1 1 0 1 0 2 0 1 0 4 0 0 0 1 0 0 0 1 0 8 0 1 0 1 0 1 0 0 0 1 0 3 0 2 0 3 0 1 0 1 0 2 0 12 0 1 0 1 0 3 0 0 0 0 0 1 0 0 0 2 0 1 0-58 1 2 0 0 0 2 0 0 0 3 0 1 0 0 0 2 0 3 0 8 0 1 0 0 0 2 0 0 0 3 0 1 0 1 0 3 0 3 0 6 0 0 0 5 0 0 0 7 0 1 0 1 0 0 0 2 0 0 0-58 1 4 0 2 0 0 0 0 0 2 0 1 0 6 0 1 0 0 0 2 0 4 0 0 0 1 0 2 0 1 0 1 0 9 0 2 0 1 0 1 0 7 0 2 0 1 0 1 0 5 0 2 0-57 1 1 0 7 0 2 0 3 0 5 0 1 0 1 0 1 0 1 0 0 0 1 0 3 0 6 0 2 0 0 0 0 0 1 0 2 0 3 0 2 0 2 0 1 0 0 0 1 0 0 0 2 0 0 0 2 0 1 0 1 0 3 0 0 0 0 0 1 0-58 1 0 0 2 0 6 0 0 0 1 0 1 0 3 0 1 0 3 0 1 0 4 0 2 0 1 0 0 0 4 0 2 0 0 0 1 0 5 0 0 0 2 0 5 0 4 0 2 0 1 0 4 0 1 0 1 0 1 0 0 0-53 1 2 0 0 0 1 0 3 0 2 0 7 0 0 0 8 0 1 0 1 0 2 0 1 0 0 0 1 0 2 0 2 0 4 0 0 0 2 0 2 0 4 0 1 0 1 0 1 0 2 0 0 0 0 0 4 0-57 1 2 0 6 0 2 0 0 0 0 0 3 0 1 0 4 0 5 0 0 0 2 0 1 0 0 0 2 0 1 0 0 0 1 0 2 0 0 0 1 0 1 0 2 0 1 0 2 0 1 0 1 0 2 0 1 0 1 0 2 0 0 0 3 0 2 0 1 0 1 0 1 0 0 0-56 1 0 0 3 0 0 0 2 0 8 0 2 0 5 0 0 0 0 0 1 0 1 0 0 0 0 0 1 0 12 0 8 0 1 0 2 0 1 0 0 0 0 0 0 0 0 0 1 0 0 0 5 0 1 0 1 0 3 0 1 0-59 1 2 0 0 0 0 0 2 0 1 0 0 0 2 0 1 0 0 0 2 0 0 0 0 0 1 0 5 0 3 0 3 0 1 0 1 0 1 0 4 0 0 0 0 0 2 0 0 0 4 0 0 0 1 0 1 0 4 0 1 0 4 0 3 0 2 0 2 0 3 0 1 0 1 0-54 1 1 0 0 0 0 0 1 0 3 0 2 0 3 0 0 0 0 0 1 0 4 0 4 0 2 0 3 0 5 0 0 0 3 0 0 0 0 0 3 0 1 0 1 0 7 0 5 0 0 0 1 0 1 0-56 1 2 0 2 0 6 0 0 0 1 0 1 0 3 0 4 0 2 0 4 0 1 0 0 0 2 0 1 0 1 0 5 0 2 0 2 0 3 0 0 0 4 0 1 0 0 0 4 0 0 0 3 0 0 0 2 0 0 0 1 0 1 0 1 0 0 0-60 1 2 0 1 0 2 0 0 0 2 0 0 0 1 0 4 0 2 0 1 0 0 0 8 0 1 0 0 0 1 0 1 0 1 0 5 0 1 0 0 0 5 0 2 0 0 0 2 0 1 0 1 0 3 0 0 0 2 0 4 0 2 0 5 0 1 0-61 1 1 0 1 0 7 0 3 0 0 0 5 0 2 0 2 0 0 0 1 0 1 0 1 0 0 0 1 0 0 0 2 0 1 0 4 0 7 0 1 0 2 0 1 0 5 0 1 0 3 0 0 0 2 0 2 0 1 0 1 0-55 1 1 0 4 0 1 0 1 0 0 0 4 0 5 0 1 0 3 0 3 0 2 0 0 0 4 0 1 0 2 0 1 0 0 0 10 0 0 0 2 0 2 0 2 0 3 0 2 0 0 0 1 0 1 0-55 1 3 0 0 0 2 0 0 0 2 0 0 0 1 0 4 0 7 0 2 0 2 0 2 0 1 0 1 0 1 0 1 0 1 0 1 0 2 0 1 0 1 0 2 0 2 0 1 0 3 0 1 0 2 0 1 0 1 0 0 0 4 0 3 0 1 0 0 0 0 0 0 0 1 0-61 1 1 0 2 0 0 0 0 0 2 0 1 0 0 0 0 0 2 0 0 0 1 0 2 0 0 0 2 0 0 0 2 0 1 0 0 0 1 0 1 0 0 0 1 0 1 0 1 0 2 0 3 0 1 0 2 0 2 0 2 0 3 0 0 0 1 0 1 0 3 0 2 0 4 0 1 0 1 0 5 0 1 0 1 0 1 0 3 0 1 0-58 1 1 0 6 0 7 0 4 0 4 0 2 0 3 0 3 0 0 0 2 0 1 0 0 0 0 0 3 0 1 0 0 0 1 0 3 0 2 0 1 0 1 0 1 0 2 0 1 0 3 0 4 0 0 0 1 0-60 1 1 0 1 0 1 0 1 0 1 0 1 0 1 0 0 0 0 0 6 0 3 0 1 0 4 0 1 0 4 0 4 0 1 0 2 0 0 0 2 0 2 0 2 0 0 0 1 0 3 0 8 0 1 0 1 0 5 0 3 0-58 1 4 0 0 0 1 0 2 0 0 0 0 0 2 0 3 0 2 0 3 0 2 0 8 0 9 0 0 0 2 0 0 0 5 0 2 0 1 0 0 0 2 0 1 0 0 0 1 0 0 0 4 0 2 0 1 0-57 1 2 0 1 0 2 0 0 0 1 0 5 0 1 0 0 0 0 0 2 0 1 0 3 0 3 0 1 0 0 0 1 0 3 0 4 0 2 0 1 0 1 0 7 0 2 0 0 0 0 0 1 0 0 0 1 0 0 0 1 0 2 0 2 0 0 0 2 0 0 0 3 0 3 0-61 1 0 0 3 0 4 0 1 0 1 0 0 0 1 0 1 0 2 0 5 0 1 0 1 0 1 0 1 0 1 0 5 0 4 0 2 0 3 0 1 0 4 0 3 0 1 0 4 0 1 0 0 0 0 0 3 0 0 0 1 0 1 0-53 1 2 0 0 0 1 0 1 0 1 0 1 0 1 0 0 0 5 0 3 0 3 0 0 0 0 0 2 0 1 0 1 0 0 0 5 0 6 0 3 0 0 0 2 0 0 0 1 0 0 0 2 0 4 0 1 0 1 0 3 0 0 0 1 0 1 0 2 0 2 0-58 1 6 0 6 0 3 0 2 0 0 0 3 0 5 0 0 0 3 0 1 0 4 0 1 0 0 0 1 0 5 0 4 0 8 0 1 0 0 0 0 0 0 0 4 0 0 0 2 0-59 1 2 0 2 0 0 0 1 0 1 0 1 0 5 0 3 0 1 0 3 0 0 0 2 0 0 0 1 0 2 0 1 0 2 0 0 0 0 0 5 0 0 0 1 0 2 0 0 0 1 0 4 0 0 0 1 0 3 0 0 0 1 0 4 0 1 0 1 0 1 0 0 0 1 0 2 0 3 0 0 0 0 0 1 0-58 1 0 0 4 0 1 0 1 0 0 0 1 0 2 0 0 0 3 0 4 0 8 0 6 0 2 0 0 0 1 0 1 0 1 0 1 0 0 0 1 0 2 0 2 0 1 0 1 0 0 0 0 0 2 0 4 0 3 0 1 0 4 0-58 1 1 0 7 0 1 0 1 0 1 0 0 0 9 0 0 0 3 0 1 0 0 0 1 0 2 0 3 0 1 0 1 0 1 0 0 0 2 0 0 0 3 0 0 0 3 0 0 0 3 0 1 0 1 0 2 0 1 0 1 0 3 0 1 0 0 0 5 0-58 1 1 0 1 0 3 0 5 0 3 0 3 0 2 0 1 0 2 0 0 0 5 0 2 0 2 0 1 0 0 0 4 0 1 0 1 0 0 0 3 0 4 0 6 0 2 0-37 1 2 0 2 0 0 0 4 0 4 0 1 0 0 0 2 0 4 0 3 0 3 0 1 0 3 0 9 0 2 0 2 0-58 1 3 0 2 0 0 0 1 0 1 0 0 0 1 0 5 0 0 0 2 0 5 0 1 0 0 0 4 0 2 0 6 0 6 0 2 0 8 0 0 0 1 0 0 0 1 0 0 0 3 0 2 0-53 1 8 0 1 0 0 0 8 0 2 0 2 0 0 0 2 0 3 0 1 0 1 0 6 0 2 0 0 0 1 0 0 0 2 0 9 0 4 0 1 0 3 0 0 0 0 0 0 0-55 1 1 0 2 0 1 0 4 0 2 0 8 0 5 0 7 0 0 0 3 0 2 0 1 0 0 0 1 0 14 0 2 0 2 0-59 1 4 0 2 0 1 0 0 0 3 0 4 0 1 0 0 0 1 0 1 0 1 0 6 0 2 0 3 0 1 0 0 0 5 0 5 0 0 0 1 0 6 0 1 0 3 0 1 0 1 0 2 0 1 0 0 0 0 0 2 0 0 0 1 0 0 0 1 0-57 1 1 0 0 0 5 0 1 0 1 0 0 0 1 0 0 0 1 0 1 0 4 0 1 0 3 0 2 0 1 0 1 0 0 0 1 0 2 0 1 0 5 0 9 0 0 0 1 0 1 0 1 0 0 0 0 0 6 0-52 1 1 0 1 0 5 0 0 0 5 0 1 0 0 0 1 0 1 0 3 0 2 0 3 0 0 0 3 0 0 0 2 0 4 0 1 0 0 0 8 0 0 0 1 0 8 0 4 0 5 0 0 0-61 1 5 0 0 0 5 0 5 0 1 0 4 0 4 0 1 0 1 0 2 0 3 0 0 0 2 0 2 0 1 0 0 0 8 0 2 0 5 0 3 0 2 0-55 1 2 0 2 0 5 0 1 0 1 0 3 0 1 0 0 0 1 0 3 0 4 0 4 0 0 0 0 0 0 0 1 0 4 0 1 0 0 0 2 0 1 0 4 0 1 0 2 0 1 0 0 0 0 0 2 0 0 0 2 0 2 0 0 0 1 0 9 0-60 1 1 0 1 0 2 0 0 0 4 0 1 0 1 0 2 0 0 0 1 0 1 0 2 0 2 0 2 0 5 0 6 0 0 0 3 0 2 0 2 0 2 0 1 0 2 0 1 0 0 0 1 0 3 0 3 0 3 0 1 0 3 0 0 0 0 0 2 0-60 1 0 0 2 0 0 0 1 0 0 0 2 0 1 0 4 0 2 0 1 0 2 0 1 0 3 0 0 0 1 0 1 0 4 0 3 0 0 0 1 0 2 0 1 0 7 0 2 0 1 0 1 0 0 0 3 0 7 0 3 0 1 0-57 1 4 0 0 0 3 0 0 0 5 0 4 0 1 0 0 0 1 0 2 0 2 0 1 0 12 0 2 0 0 0 0 0 4 0 0 0 4 0 6 0 2 0 3 0 3 0 1 0-59 1 2 0 1 0 1 0 4 0 0 0 1 0 8 0 1 0 0 0 2 0 3 0 1 0 1 0 1 0 0 0 0 0 1 0 0 0 1 0 0 0 8 0 1 0 0 0 1 0 0 0 10 0 2 0 0 0 1 0 0 0 1 0 2 0 4 0-59 1 4 0 4 0 7 0 2 0 4 0 1 0 1 0 0 0 1 0 0 0 1 0 10 0 2 0 1 0 1 0 3 0 1 0 3 0 1 0 3 0 1 0 5 0 1 0 0 0 1 0 0 0-58 1 2 0 3 0 1 0 0 0 2 0 4 0 3 0 2 0 1 0 2 0 2 0 2 0 2 0 2 0 1 0 1 0 0 0 9 0 0 0 1 0 1 0 0 0 0 0 2 0 2 0 7 0 1 0 1 0 4 0 1 0 0 0-59 1 1 0 1 0 1 0 0 0 1 0 1 0 1 0 0 0 1 0 2 0 8 0 7 0 4 0 0 0 2 0 2 0 3 0 2 0 6 0 3 0 3 0 1 0 1 0 2 0-53 1 1 0 1 0 4 0 1 0 0 0 2 0 0 0 0 0 1 0 2 0 2 0 0 0 3 0 4 0 5 0 0 0 2 0 0 0 3 0 4 0 1 0 3 0 2 0 0 0 1 0 5 0 2 0 4 0 0 0-53 1 1 0 1 0 3 0 0 0 2 0 3 0 5 0 0 0 0 0 1 0 0 0 0 0 0 0 5 0 1 0 1 0 2 0 1 0 2 0 3 0 0 0 4 0 0 0 1 0 1 0 2 0 3 0 4 0 9 0 0 0 1 0 2 0-51 1 3 0 2 0 6 0 2 0 2 0 1 0 0 0 1 0 2 0 3 0 2 0 0 0 2 0 2 0 2 0 1 0 3 0 1 0 1 0 3 0 4 0 2 0 2 0 1 0 1 0 1 0-58 1 1 0 5 0 1 0 4 0 0 0 2 0 4 0 4 0 0 0 5 0 3 0 1 0 8 0 5 0 1 0 2 0 2 0 2 0 1 0 0 0 1 0 1 0 2 0 2 0 1 0 1 0 0 0-59 1 1 0 1 0 2 0 1 0 0 0 1 0 8 0 4 0 6 0 0 0 1 0 2 0 3 0 1 0 3 0 2 0 0 0 1 0 15 0 0 0 1 0 2 0 1 0 2 0 1 0 1 0 1 0 0 0-61 1 1 0 2 0 1 0 3 0 0 0 1 0 1 0 6 0 4 0 4 0 5 0 2 0 0 0 0 0 3 0 4 0 4 0 0 0 3 0 1 0 1 0 1 0 1 0 3 0 1 0 3 0 3 0 0 0 1 0 1 0-60 1 3 0 1 0 0 0 1 0 2 0 0 0 1 0 8 0 3 0 1 0 3 0 4 0 3 0 4 0 4 0 2 0 0 0 1 0 1 0 2 0 0 0 3 0 4 0 0 0 1 0 1 0 0 0 0 0 2 0 3 0 2 0 0 0-59 1 0 0 2 0 1 0 0 0 1 0 2 0 4 0 1 0 1 0 2 0 1 0 3 0 0 0 2 0 3 0 0 0 2 0 4 0 2 0 0 0 2 0 1 0 2 0 3 0 0 0 4 0 2 0 6 0 0 0 4 0 1 0 1 0 1 0 1 0 1 0-47 1 9 0 4 0 3 0 0 0 1 0 3 0 1 0 6 0 1 0 3 0 2 0 0 0 4 0 0 0 1 0 2 0 0 0 5 0 0 0-57 1 1 0 2 0 0 0 0 0 0 0 3 0 1 0 1 0 2 0 0 0 6 0 1 0 2 0 6 0 2 0 2 0 8 0 6 0 1 0 0 0 10 0 1 0 1 0-57 1 2 0 2 0 3 0 6 0 1 0 5 0 1 0 1 0 2 0 0 0 14 0 4 0 0 0 1 0 0 0 1 0 2 0 1 0 1 0 0 0 0 0 1 0 4 0 6 0 1 0-60 1 6 0 6 0 1 0 6 0 1 0 0 0 0 0 3 0 1 0 4 0 2 0 4 0 2 0 1 0 0 0 2 0 8 0 0 0 0 0 4 0 1 0 3 0 3 0 0 0 2 0-59 1 1 0 4 0 4 0 5 0 3 0 4 0 6 0 3 0 5 0 5 0 3 0 1 0 0 0 2 0 3 0 8 0 0 0 2 0-60 1 2 0 6 0 0 0 3 0 3 0 6 0 0 0 4 0 3 0 1 0 5 0 1 0 5 0 1 0 4 0 0 0 6 0 3 0 1 0 2 0 0 0 1 0 2 0 1 0-60 1 0 0 1 0 0 0 1 0 3 0 4 0 1 0 6 0 0 0 0 0 1 0 0 0 2 0 3 0 0 0 1 0 4 0 2 0 1 0 1 0 1 0 1 0 0 0 1 0 2 0 2 0 0 0 1 0 0 0 0 0 1 0 6 0 0 0 2 0 1 0 1 0 2 0 0 0 3 0 3 0 1 0 0 0 1 0 1 0-58 1 11 0 3 0 3 0 5 0 1 0 1 0 5 0 6 0 1 0 7 0 0 0 2 0" fill="none"/><path class="k12" d="M15 0l20 0-5 1 9 0-22 1 22 0-17 1 6 0 33 0-56 1 9 0-5 1 16 0 31 0 3 0-54 1 5 1 19 0 8 0 7 0-15 1 6 0-27 1 6 0 2 0 1 0 11 0 1 0 12 0-39 1 7 0 5 0 14 0 11 0 9 0-45 3 20 0 13 0 5 0 0 0-39 1 33 0 3 0 5 0 7 0 7 0-36 1-13 1 20 0-21 1 12 0-17 1 8 0 11 0 22 0-5 1-24 1 46 0-41 1 19 1 3 0-28 1 6 0 12 0 16 0 3 0-27 1 4 0 20 0 11 0 2 0-52 1 15 0 19 0 18 0-58 1 1 0 4 0 3 0 37 0-28 1 14 0 20 0-29 1 15 0-22 1 3 0-14 1 7 0 29 1-32 1 2 0 35 0-42 1 24 0 26 0 1 0-55 1 0 0 11 0 8 0 9 0 3 0-32 1 6 0 31 0 10 0-5 1 2 1-33 1 2 0 7 0 20 0-23 1 4 0 28 0 11 0-58 1 26 0 10 0-23 1 10 0 5 0 2 0 21 0 2 0-42 1 30 0-17 1 6 0 6 1 16 0 2 0-45 1 27 0 2 0 3 0 14 0-48 1 4 0 11 0 2 0 13 0 17 0-33 1 7 0 2 0-29 1 2 0 14 0 21 1 20 0-43 1 21 0 11 0 0 0 5 0-47 1 15 0 31 1-5 1-48 1 24 0 10 0 7 0-33 1-7 1 0 0 7 0 28 0 10 0 8 0-43 1 4 0 26 0 2 0 9 0 5 0-20 1-21 1 42 0-18 1 2 0 13 0 5 0-26 1" fill="none"/></pattern><pattern id="pr1" patternUnits="userSpaceOnUse" width="61" height="61"><path class="k11" d="M35 1l-29 7 5 0 26 7 20 0-53 2 16 5-3 1 7 0 13 3-4 3-7 2 12 2-4 2 13 2-39 5 21 2 10 3 5 7 15 0-26 4 1 2" fill="none"/></pattern><pattern id="pr2" patternUnits="userSpaceOnUse" width="61" height="61"><path class="k11" d="M14 0l3 0-1 1 18 0-13 1-8 1 8 0 13 2 8 0-7 2 10 2 4 0-32 1 0 1 24 0 13 1-3 1-44 1 3 0 7 0 36 0-26 2 5 1 24 1 1 1-3 1-35 1 23 1-9 1-30 3 8 0 24 0-9 1-22 1 14 2-15 2 24 1-1 3 27 1-37 1 29 4-27 1 9 1 8 4-15 4-18 2 45 0 7 1-54 4 53 1 4 0-9 1" fill="none"/></pattern><pattern id="pws" patternUnits="userSpaceOnUse" width="61" height="61"><path class="k13" d="M2 0l16 0 15 0-11 2 1 1 3 2 0 0 8 0 18 0-27 1 2 1 25 1-34 1 15 0 23 0-26 1 23 1-52 1 42 0-42 1 15 0 2 0-16 1 6 0 19 0 5 0 7 0 15 1 6 0-47 1 10 0 32 0-51 1 17 0 9 0 9 0 13 0-52 1 12 0 7 0-2 1-2 1 35 0 7 0-6 1-14 1-12 1 19 0-38 1 8 0 41 0-52 1-1 2 7 0 2 0 17 1-24 1 22 1 26 0 3 0-14 1 17 0-20 1 8 0-23 1 1 0 3 0-11 1 3 0 11 1-28 1 1 0 19 1 13 0-34 1 40 0 16 0-53 1 9 0 26 0 8 0-1 1 2 0-16 3 2 0 9 0 5 0 2 0-39 1 4 0-2 1 12 0 6 0 21 0-43 1 22 0 1 0-27 1 36 0-24 1 12 0 10 0 9 1 0 0 5 0 1 0-7 1 14 0-39 1 23 0 9 0-42 2 14 0 9 1 12 0-45 1 43 0 11 0 0 1-51 1 5 0 11 0 15 0 13 0-23 1 27 1 1 0-19 1 1 0 23 0" fill="none"/></pattern><filter id="rough" x="-5%" y="-5%" width="110%" height="110%"><feTurbulence type="fractalNoise" baseFrequency="0.3" numOctaves="2" seed="3"/><feDisplacementMap in="SourceGraphic" scale="5"/></filter></defs>
<text x="1218.3" y="1626" font-size="27.5" fill="#000" text-anchor="middle">Library-1</text>
<text x="1218.3" y="1660.4" font-size="27.5" fill="#000" text-anchor="middle">4243 (31%)</text>
<rect x="1101.6" y="1678.4" width="240.8" height="295" fill="#fff" stroke="#9a9a9a" stroke-width="1.2"/>
<g transform="translate(1101.6 1678.4)"><path d="M81.7 73 114.1 73 114.1 140.7 97.2 147.8 81.7 106.9Z" fill="url(#psp)"/><path d="M97.2 65.9 102.8 60.3 111.3 53.2 118.4 43.4 125.4 33.5 133.9 28.5 146.6 26.4 160.7 24.3 174.8 17.9 186.1 12.6 196 15.8 204.4 23.6 212.9 29.9 218.6 36.3 214.3 40.5 205.9 36.3 196 30.6 186.1 28.5 174.8 29.9 160.7 32.8 146.6 34.9 133.9 39.1 126.8 46.2 122.6 56.1 114.1 63.1 107.1 70.2 102.8 75.8 97.2 74.4Z" fill="url(#pR2)"/><path d="M122.6 60.3 128.2 47.6 136.7 39.1 150.8 35.6 164.9 33.2 181.9 29.5 196 31.8 205.9 37.4 212.9 40.5 186.1 36.6 167.8 43.4 153.6 56.1 139.5 58.9Z" fill="url(#psp)"/><path d="M113.4 71.6 121.2 61.7 139.5 58.9 153.6 56.1 167.8 41.9 186.1 34.9 210.1 33.5 224.2 39.1 229.9 53.2 227 67.3 221.4 84.3 215.7 98.4 218.6 106.9 210.1 112.5 196 112.5 188.9 121 181.9 112.5 167.8 104 153.6 101.2 139.5 101.2 125.4 102.6 119.8 95.6 114.1 84.3Z" fill="#c4c4c4" filter="url(#rough)"/><path d="M113.4 71.6 121.2 61.7 139.5 58.9 153.6 56.1 167.8 41.9 186.1 34.9 210.1 33.5 224.2 39.1 229.9 53.2 227 67.3 221.4 84.3 215.7 98.4 218.6 106.9 210.1 112.5 196 112.5 188.9 121 181.9 112.5 167.8 104 153.6 101.2 139.5 101.2 125.4 102.6 119.8 95.6 114.1 84.3Z" fill="url(#pws)"/><path class="k11" d="M202 39l-6 10-25 1-11 1 24 0 10 1-20 6 35 2-61 1-14 1 10 0 12 0 34 0-2 3-42 5 8 0-6 9 50 0-29 1-33 1-17 2 61 7 17 2-35 1 7 10 2 2" fill="none"/><path d="M111.3 97 125.4 101.2 139.5 100.5 153.6 100.5 167.8 103.3 181.9 111.8 188.9 120.3 207.3 120.3 207.3 127.3 181.9 127.3 153.6 124.5 125.4 120.3 111.3 112.5Z" fill="url(#pgm)"/><path d="M114.1 111.1 125.4 118.9 153.6 123.1 181.9 125.9 208 125.9 205.9 140.7 201.6 154.8 197.4 167.5 193.2 176 184.7 181.7 174.8 185.9 167.8 181.7 156.5 174.6 146.6 169 133.9 159.1 125.4 149.2 118.4 136.5 114.1 123.8Z" fill="url(#prm)"/><path d="M118.4 126.6 139.5 130.9 167.8 133.7 204.4 135.1 203 154.8 196 166.1 181.9 161.9 153.6 157.7 132.5 152 122.6 140.7Z" fill="url(#pR2)"/><path d="M205.9 122.4 215.7 106.9 221.4 91.3 224.2 78.6 226.3 84.3 222.1 106.9 215 126.6 208.7 140.7 205.2 135.1Z" fill="url(#pmix)"/><path d="M47.8 112.5 52 104 63.3 92.7 74.6 87.1 80.3 89.9 78.8 101.2 69 109.7 60.5 115.3 50.6 113.9Z" fill="#c4c4c4" filter="url(#rough)"/><path d="M47.8 112.5 52 104 63.3 92.7 74.6 87.1 80.3 89.9 78.8 101.2 69 109.7 60.5 115.3 50.6 113.9Z" fill="url(#pws)"/><path d="M47.8 114.6 52.7 116.7 50.6 132.3 54.9 137.2 64.7 133 77.4 124.5 88.7 116 97.2 106.2 102.1 106.9 100 113.2 90.1 121.7 77.4 131.6 63.3 141.4 53.4 144.3 47.1 135.1Z" fill="url(#prm)"/><path d="M64.7 181.7 66.1 161.9 69 147.8 71.1 133.7 77.4 130.9 76.7 147.8 75.3 166.1 73.9 183.1 66.1 184.5Z" fill="url(#prm)"/><path d="M83.1 121 95.8 111.1 100 112.5 97.2 139.3 88.7 142.1 83.1 133.7Z" fill="url(#pgm)"/><path d="M81.7 164.7 88.7 163.3 100 185.9 97.2 191.5Z" fill="url(#prm)"/><path d="M95.8 190.1 104.2 166.1 107.8 167.5 100 192.9Z" fill="url(#prm)"/><path d="M101.4 198.6 109.9 197.2 108.5 219.8 109.9 232.5 105.7 232.5 102.8 218.4Z" fill="url(#prm)"/><path d="M102.8 140.7 115.5 137.9 125.4 152 122.6 166.1 108.5 163.3 102.8 154.8Z" fill="url(#pmix)"/><path d="M122.6 178.8 133.9 174.6 148 174.6 160.7 180.2 167.8 187.3 164.9 200 157.9 212.7 152.2 225.4 148 233.9 140.9 225.4 133.9 208.5 126.8 194.4Z" fill="url(#prm)"/><path d="M136.7 183.1 153.6 183.1 155.1 200 148 211.3 138.1 204.2Z" fill="url(#prm)"/><path d="M143.8 248 148 245.2 152.2 253.6 152.2 267.7 151.5 283.3 148.7 283.3 145.2 267.7Z" fill="url(#prm)"/><path d="M145.2 231.1 149.4 228.2 159.3 252.2 156.5 253.6Z" fill="url(#prm)"/><path d="M9.7 173.2 11.8 167.5 19.6 161.9 26.6 154.8 30.2 151.3 29.2 157.7 22.4 167.5 19.6 172.5 15.3 175.3 11.1 176.7Z" fill="url(#pmix)"/><path d="M25.9 170.6 39.3 170.6 39.3 173.2 25.9 172.9Z" fill="url(#prm)"/><path d="M196 166.1 200.2 164.7 210.1 191.5 208.7 194.4Z" fill="url(#pmix)"/><path d="M184.7 176 188.9 176 190.3 192.9 186.1 192.9Z" fill="url(#prm)"/><path d="M179 164.7 198.8 161.9 196 176 186.1 181.7Z" fill="url(#prm)"/></g>
<text x="1477.4" y="1626" font-size="27.5" fill="#000" text-anchor="middle">Library-2</text>
<text x="1477.4" y="1660.4" font-size="27.5" fill="#000" text-anchor="middle">3880 (33%)</text>
<rect x="1360.9" y="1678.4" width="240.8" height="295" fill="#fff" stroke="#9a9a9a" stroke-width="1.2"/>
<g transform="translate(1360.9 1678.4)"><path d="M81.7 73 114.1 73 114.1 140.7 97.2 147.8 81.7 106.9Z" fill="url(#psp)"/><path d="M97.2 65.9 102.8 60.3 111.3 53.2 118.4 43.4 125.4 33.5 133.9 28.5 146.6 26.4 160.7 24.3 174.8 17.9 186.1 12.6 196 15.8 204.4 23.6 212.9 29.9 218.6 36.3 214.3 40.5 205.9 36.3 196 30.6 186.1 28.5 174.8 29.9 160.7 32.8 146.6 34.9 133.9 39.1 126.8 46.2 122.6 56.1 114.1 63.1 107.1 70.2 102.8 75.8 97.2 74.4Z" fill="url(#prm)"/><path d="M122.6 60.3 128.2 47.6 136.7 39.1 150.8 35.6 164.9 33.2 181.9 29.5 196 31.8 205.9 37.4 212.9 40.5 186.1 36.6 167.8 43.4 153.6 56.1 139.5 58.9Z" fill="url(#psp)"/><path d="M113.4 71.6 121.2 61.7 139.5 58.9 153.6 56.1 167.8 41.9 186.1 34.9 210.1 33.5 224.2 39.1 229.9 53.2 227 67.3 221.4 84.3 215.7 98.4 218.6 106.9 210.1 112.5 196 112.5 188.9 121 181.9 112.5 167.8 104 153.6 101.2 139.5 101.2 125.4 102.6 119.8 95.6 114.1 84.3Z" fill="#c4c4c4" filter="url(#rough)"/><path d="M113.4 71.6 121.2 61.7 139.5 58.9 153.6 56.1 167.8 41.9 186.1 34.9 210.1 33.5 224.2 39.1 229.9 53.2 227 67.3 221.4 84.3 215.7 98.4 218.6 106.9 210.1 112.5 196 112.5 188.9 121 181.9 112.5 167.8 104 153.6 101.2 139.5 101.2 125.4 102.6 119.8 95.6 114.1 84.3Z" fill="url(#pws)"/><path class="k11" d="M192 36l8 1-4 1-18 2 23 0 24 3-56 2 42 6-21 2-36 2 70 0-72 3 36 0-33 1 37 0-20 3-37 1-8 1 64 0-38 1 45 0 15 2-5 2 6 0 10 0-9 1 9 0-107 1 36 0 50 0-18 1 39 1-60 1 18 0-26 3 48 1-64 1-22 3 8 0 37 2 3 0 4 0-29 3 17 0 49 0-77 1 62 0-66 1 87 1 2 0-44 7 42 4-29 2 20 3-25 1 29 0-9 2 14 1" fill="none"/><path d="M111.3 97 125.4 101.2 139.5 100.5 153.6 100.5 167.8 103.3 181.9 111.8 188.9 120.3 207.3 120.3 207.3 127.3 181.9 127.3 153.6 124.5 125.4 120.3 111.3 112.5Z" fill="url(#pmix)"/><path d="M114.1 111.1 125.4 118.9 153.6 123.1 181.9 125.9 208 125.9 205.9 140.7 201.6 154.8 197.4 167.5 193.2 176 184.7 181.7 174.8 185.9 167.8 181.7 156.5 174.6 146.6 169 133.9 159.1 125.4 149.2 118.4 136.5 114.1 123.8Z" fill="url(#prm)"/><path d="M118.4 126.6 139.5 130.9 167.8 133.7 204.4 135.1 203 154.8 196 166.1 181.9 161.9 153.6 157.7 132.5 152 122.6 140.7Z" fill="url(#prm)"/><path d="M205.9 122.4 215.7 106.9 221.4 91.3 224.2 78.6 226.3 84.3 222.1 106.9 215 126.6 208.7 140.7 205.2 135.1Z" fill="url(#pmix)"/><path d="M47.8 112.5 52 104 63.3 92.7 74.6 87.1 80.3 89.9 78.8 101.2 69 109.7 60.5 115.3 50.6 113.9Z" fill="#c4c4c4" filter="url(#rough)"/><path d="M47.8 112.5 52 104 63.3 92.7 74.6 87.1 80.3 89.9 78.8 101.2 69 109.7 60.5 115.3 50.6 113.9Z" fill="url(#pws)"/><path d="M47.8 114.6 52.7 116.7 50.6 132.3 54.9 137.2 64.7 133 77.4 124.5 88.7 116 97.2 106.2 102.1 106.9 100 113.2 90.1 121.7 77.4 131.6 63.3 141.4 53.4 144.3 47.1 135.1Z" fill="url(#prm)"/><path d="M64.7 181.7 66.1 161.9 69 147.8 71.1 133.7 77.4 130.9 76.7 147.8 75.3 166.1 73.9 183.1 66.1 184.5Z" fill="url(#prm)"/><path d="M83.1 121 95.8 111.1 100 112.5 97.2 139.3 88.7 142.1 83.1 133.7Z" fill="url(#pR2)"/><path d="M81.7 164.7 88.7 163.3 100 185.9 97.2 191.5Z" fill="url(#prm)"/><path d="M95.8 190.1 104.2 166.1 107.8 167.5 100 192.9Z" fill="url(#pmix)"/><path d="M101.4 198.6 109.9 197.2 108.5 219.8 109.9 232.5 105.7 232.5 102.8 218.4Z" fill="url(#pmix)"/><path d="M102.8 140.7 115.5 137.9 125.4 152 122.6 166.1 108.5 163.3 102.8 154.8Z" fill="url(#pmix)"/><path d="M122.6 178.8 133.9 174.6 148 174.6 160.7 180.2 167.8 187.3 164.9 200 157.9 212.7 152.2 225.4 148 233.9 140.9 225.4 133.9 208.5 126.8 194.4Z" fill="url(#prm)"/><path d="M136.7 183.1 153.6 183.1 155.1 200 148 211.3 138.1 204.2Z" fill="url(#prm)"/><path d="M143.8 248 148 245.2 152.2 253.6 152.2 267.7 151.5 283.3 148.7 283.3 145.2 267.7Z" fill="url(#pmix)"/><path d="M145.2 231.1 149.4 228.2 159.3 252.2 156.5 253.6Z" fill="url(#prm)"/><path d="M9.7 173.2 11.8 167.5 19.6 161.9 26.6 154.8 30.2 151.3 29.2 157.7 22.4 167.5 19.6 172.5 15.3 175.3 11.1 176.7Z" fill="url(#pmix)"/><path d="M25.9 170.6 39.3 170.6 39.3 173.2 25.9 172.9Z" fill="url(#prm)"/><path d="M196 166.1 200.2 164.7 210.1 191.5 208.7 194.4Z" fill="url(#pmix)"/><path d="M184.7 176 188.9 176 190.3 192.9 186.1 192.9Z" fill="url(#pmix)"/><path d="M179 164.7 198.8 161.9 196 176 186.1 181.7Z" fill="url(#prm)"/></g>
<text x="1723.8" y="1626" font-size="27.5" fill="#000" text-anchor="middle">Library-3</text>
<text x="1723.8" y="1660.4" font-size="27.5" fill="#000" text-anchor="middle">6528 (56%)</text>
<rect x="1621.4" y="1678.4" width="240.8" height="295" fill="#fff" stroke="#9a9a9a" stroke-width="1.2"/>
<g transform="translate(1621.4 1678.4)"><path d="M81.7 73 114.1 73 114.1 140.7 97.2 147.8 81.7 106.9Z" fill="url(#psp)"/><path d="M97.2 65.9 102.8 60.3 111.3 53.2 118.4 43.4 125.4 33.5 133.9 28.5 146.6 26.4 160.7 24.3 174.8 17.9 186.1 12.6 196 15.8 204.4 23.6 212.9 29.9 218.6 36.3 214.3 40.5 205.9 36.3 196 30.6 186.1 28.5 174.8 29.9 160.7 32.8 146.6 34.9 133.9 39.1 126.8 46.2 122.6 56.1 114.1 63.1 107.1 70.2 102.8 75.8 97.2 74.4Z" fill="url(#pgm)"/><path d="M122.6 60.3 128.2 47.6 136.7 39.1 150.8 35.6 164.9 33.2 181.9 29.5 196 31.8 205.9 37.4 212.9 40.5 186.1 36.6 167.8 43.4 153.6 56.1 139.5 58.9Z" fill="url(#psp)"/><path d="M113.4 71.6 121.2 61.7 139.5 58.9 153.6 56.1 167.8 41.9 186.1 34.9 210.1 33.5 224.2 39.1 229.9 53.2 227 67.3 221.4 84.3 215.7 98.4 218.6 106.9 210.1 112.5 196 112.5 188.9 121 181.9 112.5 167.8 104 153.6 101.2 139.5 101.2 125.4 102.6 119.8 95.6 114.1 84.3Z" fill="#e0261f" filter="url(#rough)"/><path d="M113.4 71.6 121.2 61.7 139.5 58.9 153.6 56.1 167.8 41.9 186.1 34.9 210.1 33.5 224.2 39.1 229.9 53.2 227 67.3 221.4 84.3 215.7 98.4 218.6 106.9 210.1 112.5 196 112.5 188.9 121 181.9 112.5 167.8 104 153.6 101.2 139.5 101.2 125.4 102.6 119.8 95.6 114.1 84.3Z" fill="url(#pws)"/><path d="M111.3 97 125.4 101.2 139.5 100.5 153.6 100.5 167.8 103.3 181.9 111.8 188.9 120.3 207.3 120.3 207.3 127.3 181.9 127.3 153.6 124.5 125.4 120.3 111.3 112.5Z" fill="url(#pgm)"/><path d="M114.1 111.1 125.4 118.9 153.6 123.1 181.9 125.9 208 125.9 205.9 140.7 201.6 154.8 197.4 167.5 193.2 176 184.7 181.7 174.8 185.9 167.8 181.7 156.5 174.6 146.6 169 133.9 159.1 125.4 149.2 118.4 136.5 114.1 123.8Z" fill="#c4c4c4" filter="url(#rough)"/><path d="M114.1 111.1 125.4 118.9 153.6 123.1 181.9 125.9 208 125.9 205.9 140.7 201.6 154.8 197.4 167.5 193.2 176 184.7 181.7 174.8 185.9 167.8 181.7 156.5 174.6 146.6 169 133.9 159.1 125.4 149.2 118.4 136.5 114.1 123.8Z" fill="url(#pws)"/><path d="M205.9 122.4 215.7 106.9 221.4 91.3 224.2 78.6 226.3 84.3 222.1 106.9 215 126.6 208.7 140.7 205.2 135.1Z" fill="url(#pgm)"/><path d="M47.8 112.5 52 104 63.3 92.7 74.6 87.1 80.3 89.9 78.8 101.2 69 109.7 60.5 115.3 50.6 113.9Z" fill="#e0261f" filter="url(#rough)"/><path d="M47.8 112.5 52 104 63.3 92.7 74.6 87.1 80.3 89.9 78.8 101.2 69 109.7 60.5 115.3 50.6 113.9Z" fill="url(#pws)"/><path d="M47.8 114.6 52.7 116.7 50.6 132.3 54.9 137.2 64.7 133 77.4 124.5 88.7 116 97.2 106.2 102.1 106.9 100 113.2 90.1 121.7 77.4 131.6 63.3 141.4 53.4 144.3 47.1 135.1Z" fill="#c4c4c4" filter="url(#rough)"/><path d="M47.8 114.6 52.7 116.7 50.6 132.3 54.9 137.2 64.7 133 77.4 124.5 88.7 116 97.2 106.2 102.1 106.9 100 113.2 90.1 121.7 77.4 131.6 63.3 141.4 53.4 144.3 47.1 135.1Z" fill="url(#pws)"/><path d="M64.7 181.7 66.1 161.9 69 147.8 71.1 133.7 77.4 130.9 76.7 147.8 75.3 166.1 73.9 183.1 66.1 184.5Z" fill="#c4c4c4" filter="url(#rough)"/><path d="M64.7 181.7 66.1 161.9 69 147.8 71.1 133.7 77.4 130.9 76.7 147.8 75.3 166.1 73.9 183.1 66.1 184.5Z" fill="url(#pws)"/><path d="M83.1 121 95.8 111.1 100 112.5 97.2 139.3 88.7 142.1 83.1 133.7Z" fill="#c4c4c4" filter="url(#rough)"/><path d="M83.1 121 95.8 111.1 100 112.5 97.2 139.3 88.7 142.1 83.1 133.7Z" fill="url(#pws)"/><path d="M81.7 164.7 88.7 163.3 100 185.9 97.2 191.5Z" fill="url(#pgm)"/><path d="M95.8 190.1 104.2 166.1 107.8 167.5 100 192.9Z" fill="url(#pgm)"/><path d="M101.4 198.6 109.9 197.2 108.5 219.8 109.9 232.5 105.7 232.5 102.8 218.4Z" fill="url(#pgm)"/><path d="M102.8 140.7 115.5 137.9 125.4 152 122.6 166.1 108.5 163.3 102.8 154.8Z" fill="url(#pgm)"/><path d="M122.6 178.8 133.9 174.6 148 174.6 160.7 180.2 167.8 187.3 164.9 200 157.9 212.7 152.2 225.4 148 233.9 140.9 225.4 133.9 208.5 126.8 194.4Z" fill="#c4c4c4" filter="url(#rough)"/><path d="M122.6 178.8 133.9 174.6 148 174.6 160.7 180.2 167.8 187.3 164.9 200 157.9 212.7 152.2 225.4 148 233.9 140.9 225.4 133.9 208.5 126.8 194.4Z" fill="url(#pws)"/><path d="M136.7 183.1 153.6 183.1 155.1 200 148 211.3 138.1 204.2Z" fill="url(#prm)"/><path d="M143.8 248 148 245.2 152.2 253.6 152.2 267.7 151.5 283.3 148.7 283.3 145.2 267.7Z" fill="url(#pgm)"/><path d="M145.2 231.1 149.4 228.2 159.3 252.2 156.5 253.6Z" fill="url(#pgm)"/><path d="M9.7 173.2 11.8 167.5 19.6 161.9 26.6 154.8 30.2 151.3 29.2 157.7 22.4 167.5 19.6 172.5 15.3 175.3 11.1 176.7Z" fill="url(#prm)"/><path d="M25.9 170.6 39.3 170.6 39.3 173.2 25.9 172.9Z" fill="#e0261f" filter="url(#rough)"/><path d="M25.9 170.6 39.3 170.6 39.3 173.2 25.9 172.9Z" fill="url(#pws)"/><path d="M196 166.1 200.2 164.7 210.1 191.5 208.7 194.4Z" fill="url(#pgm)"/><path d="M184.7 176 188.9 176 190.3 192.9 186.1 192.9Z" fill="url(#pgm)"/><path d="M179 164.7 198.8 161.9 196 176 186.1 181.7Z" fill="#c4c4c4" filter="url(#rough)"/><path d="M179 164.7 198.8 161.9 196 176 186.1 181.7Z" fill="url(#pws)"/></g>
<text x="1976.1" y="1626" font-size="27.5" fill="#000" text-anchor="middle">Library-4</text>
<text x="1976.1" y="1660.4" font-size="27.5" fill="#000" text-anchor="middle">3114 (42%)</text>
<rect x="1880.3" y="1678.4" width="240.8" height="295" fill="#fff" stroke="#9a9a9a" stroke-width="1.2"/>
<g transform="translate(1880.3 1678.4)"><path d="M81.7 73 114.1 73 114.1 140.7 97.2 147.8 81.7 106.9Z" fill="url(#psp)"/><path d="M97.2 65.9 102.8 60.3 111.3 53.2 118.4 43.4 125.4 33.5 133.9 28.5 146.6 26.4 160.7 24.3 174.8 17.9 186.1 12.6 196 15.8 204.4 23.6 212.9 29.9 218.6 36.3 214.3 40.5 205.9 36.3 196 30.6 186.1 28.5 174.8 29.9 160.7 32.8 146.6 34.9 133.9 39.1 126.8 46.2 122.6 56.1 114.1 63.1 107.1 70.2 102.8 75.8 97.2 74.4Z" fill="url(#pgm)"/><path d="M122.6 60.3 128.2 47.6 136.7 39.1 150.8 35.6 164.9 33.2 181.9 29.5 196 31.8 205.9 37.4 212.9 40.5 186.1 36.6 167.8 43.4 153.6 56.1 139.5 58.9Z" fill="url(#psp)"/><path d="M113.4 71.6 121.2 61.7 139.5 58.9 153.6 56.1 167.8 41.9 186.1 34.9 210.1 33.5 224.2 39.1 229.9 53.2 227 67.3 221.4 84.3 215.7 98.4 218.6 106.9 210.1 112.5 196 112.5 188.9 121 181.9 112.5 167.8 104 153.6 101.2 139.5 101.2 125.4 102.6 119.8 95.6 114.1 84.3Z" fill="url(#prm)"/><path d="M111.3 97 125.4 101.2 139.5 100.5 153.6 100.5 167.8 103.3 181.9 111.8 188.9 120.3 207.3 120.3 207.3 127.3 181.9 127.3 153.6 124.5 125.4 120.3 111.3 112.5Z" fill="url(#pgm)"/><path d="M114.1 111.1 125.4 118.9 153.6 123.1 181.9 125.9 208 125.9 205.9 140.7 201.6 154.8 197.4 167.5 193.2 176 184.7 181.7 174.8 185.9 167.8 181.7 156.5 174.6 146.6 169 133.9 159.1 125.4 149.2 118.4 136.5 114.1 123.8Z" fill="#c4c4c4" filter="url(#rough)"/><path d="M114.1 111.1 125.4 118.9 153.6 123.1 181.9 125.9 208 125.9 205.9 140.7 201.6 154.8 197.4 167.5 193.2 176 184.7 181.7 174.8 185.9 167.8 181.7 156.5 174.6 146.6 169 133.9 159.1 125.4 149.2 118.4 136.5 114.1 123.8Z" fill="url(#pws)"/><path d="M205.9 122.4 215.7 106.9 221.4 91.3 224.2 78.6 226.3 84.3 222.1 106.9 215 126.6 208.7 140.7 205.2 135.1Z" fill="url(#pgm)"/><path d="M47.8 112.5 52 104 63.3 92.7 74.6 87.1 80.3 89.9 78.8 101.2 69 109.7 60.5 115.3 50.6 113.9Z" fill="url(#pmix)"/><path d="M47.8 114.6 52.7 116.7 50.6 132.3 54.9 137.2 64.7 133 77.4 124.5 88.7 116 97.2 106.2 102.1 106.9 100 113.2 90.1 121.7 77.4 131.6 63.3 141.4 53.4 144.3 47.1 135.1Z" fill="#c4c4c4" filter="url(#rough)"/><path d="M47.8 114.6 52.7 116.7 50.6 132.3 54.9 137.2 64.7 133 77.4 124.5 88.7 116 97.2 106.2 102.1 106.9 100 113.2 90.1 121.7 77.4 131.6 63.3 141.4 53.4 144.3 47.1 135.1Z" fill="url(#pws)"/><path d="M64.7 181.7 66.1 161.9 69 147.8 71.1 133.7 77.4 130.9 76.7 147.8 75.3 166.1 73.9 183.1 66.1 184.5Z" fill="#c4c4c4" filter="url(#rough)"/><path d="M64.7 181.7 66.1 161.9 69 147.8 71.1 133.7 77.4 130.9 76.7 147.8 75.3 166.1 73.9 183.1 66.1 184.5Z" fill="url(#pws)"/><path d="M83.1 121 95.8 111.1 100 112.5 97.2 139.3 88.7 142.1 83.1 133.7Z" fill="#c4c4c4" filter="url(#rough)"/><path d="M83.1 121 95.8 111.1 100 112.5 97.2 139.3 88.7 142.1 83.1 133.7Z" fill="url(#pws)"/><path d="M81.7 164.7 88.7 163.3 100 185.9 97.2 191.5Z" fill="url(#pgm)"/><path d="M95.8 190.1 104.2 166.1 107.8 167.5 100 192.9Z" fill="url(#pgm)"/><path d="M101.4 198.6 109.9 197.2 108.5 219.8 109.9 232.5 105.7 232.5 102.8 218.4Z" fill="url(#pgm)"/><path d="M102.8 140.7 115.5 137.9 125.4 152 122.6 166.1 108.5 163.3 102.8 154.8Z" fill="url(#pgm)"/><path d="M122.6 178.8 133.9 174.6 148 174.6 160.7 180.2 167.8 187.3 164.9 200 157.9 212.7 152.2 225.4 148 233.9 140.9 225.4 133.9 208.5 126.8 194.4Z" fill="#c4c4c4" filter="url(#rough)"/><path d="M122.6 178.8 133.9 174.6 148 174.6 160.7 180.2 167.8 187.3 164.9 200 157.9 212.7 152.2 225.4 148 233.9 140.9 225.4 133.9 208.5 126.8 194.4Z" fill="url(#pws)"/><path d="M136.7 183.1 153.6 183.1 155.1 200 148 211.3 138.1 204.2Z" fill="url(#pmix)"/><path d="M143.8 248 148 245.2 152.2 253.6 152.2 267.7 151.5 283.3 148.7 283.3 145.2 267.7Z" fill="url(#pgm)"/><path d="M145.2 231.1 149.4 228.2 159.3 252.2 156.5 253.6Z" fill="url(#pgm)"/><path d="M9.7 173.2 11.8 167.5 19.6 161.9 26.6 154.8 30.2 151.3 29.2 157.7 22.4 167.5 19.6 172.5 15.3 175.3 11.1 176.7Z" fill="url(#prm)"/><path d="M25.9 170.6 39.3 170.6 39.3 173.2 25.9 172.9Z" fill="#e0261f" filter="url(#rough)"/><path d="M25.9 170.6 39.3 170.6 39.3 173.2 25.9 172.9Z" fill="url(#pws)"/><path d="M196 166.1 200.2 164.7 210.1 191.5 208.7 194.4Z" fill="url(#pgm)"/><path d="M184.7 176 188.9 176 190.3 192.9 186.1 192.9Z" fill="url(#pgm)"/><path d="M179 164.7 198.8 161.9 196 176 186.1 181.7Z" fill="#c4c4c4" filter="url(#rough)"/><path d="M179 164.7 198.8 161.9 196 176 186.1 181.7Z" fill="url(#pws)"/></g>
<text x="10.5" y="2157.5" font-size="52" fill="#000" font-weight="bold">h</text>
<rect x="161" y="2444.9" width="48.3" height="47.1" fill="#eaedf7"/>
<rect x="209" y="2389.4" width="48.3" height="102.6" fill="#bad3e4"/>
<rect x="257" y="2434.8" width="48.3" height="57.2" fill="#67a6cf"/>
<rect x="305" y="2413.3" width="48.3" height="78.7" fill="#2a6ca9"/>
<text x="184.2" y="2444.2" font-size="22" fill="#000" text-anchor="middle">496</text>
<text x="232.7" y="2386.7" font-size="22" fill="#000" text-anchor="middle">1082</text>
<text x="279.4" y="2430.5" font-size="22" fill="#000" text-anchor="middle">603</text>
<text x="330.1" y="2408.3" font-size="22" fill="#000" text-anchor="middle">830</text>
<rect x="376.6" y="2351.8" width="48.3" height="140.2" fill="#eaedf7"/>
<rect x="424.6" y="2380.4" width="48.3" height="111.6" fill="#bad3e4"/>
<rect x="472.6" y="2174.1" width="48.3" height="317.9" fill="#67a6cf"/>
<rect x="520.6" y="2456.8" width="48.3" height="35.2" fill="#2a6ca9"/>
<text x="393.6" y="2346.6" font-size="22" fill="#000" text-anchor="middle">1478</text>
<text x="446" y="2376.5" font-size="22" fill="#000" text-anchor="middle">1176</text>
<text x="497" y="2169.9" font-size="22" fill="#000" text-anchor="middle">3351</text>
<text x="544.5" y="2450.2" font-size="22" fill="#000" text-anchor="middle">371</text>
<rect x="588.9" y="2381" width="48.3" height="111" fill="#eaedf7"/>
<rect x="636.9" y="2441" width="48.3" height="51" fill="#bad3e4"/>
<rect x="684.9" y="2430.5" width="48.3" height="61.5" fill="#67a6cf"/>
<rect x="732.9" y="2408.2" width="48.3" height="83.8" fill="#2a6ca9"/>
<text x="611.6" y="2373.6" font-size="22" fill="#000" text-anchor="middle">1170</text>
<text x="661.4" y="2432.3" font-size="22" fill="#000" text-anchor="middle">538</text>
<text x="708.7" y="2424.5" font-size="22" fill="#000" text-anchor="middle">648</text>
<text x="754.2" y="2402.3" font-size="22" fill="#000" text-anchor="middle">883</text>
<rect x="801.8" y="2387.7" width="48.3" height="104.3" fill="#eaedf7"/>
<rect x="849.8" y="2389.2" width="48.3" height="102.8" fill="#bad3e4"/>
<rect x="897.8" y="2309.3" width="48.3" height="182.7" fill="#67a6cf"/>
<rect x="945.8" y="2394.3" width="48.3" height="97.7" fill="#2a6ca9"/>
<text x="824.6" y="2365.8" font-size="22" fill="#000" text-anchor="middle">1099</text>
<text x="871" y="2388.5" font-size="22" fill="#000" text-anchor="middle">1084</text>
<text x="918.7" y="2303.5" font-size="22" fill="#000" text-anchor="middle">1926</text>
<text x="971.4" y="2384.3" font-size="22" fill="#000" text-anchor="middle">1030</text>
<line x1="129.2" y1="2158" x2="129.2" y2="2509" stroke="#000" stroke-width="1.8"/>
<line x1="128.3" y1="2508" x2="1023" y2="2508" stroke="#000" stroke-width="1.8"/>
<line x1="122" y1="2492" x2="129.2" y2="2492" stroke="#333" stroke-width="1.5"/>
<text x="119.5" y="2499.3" font-size="20.5" fill="#333" text-anchor="end">0</text>
<line x1="122" y1="2397.1" x2="129.2" y2="2397.1" stroke="#333" stroke-width="1.5"/>
<text x="119.5" y="2404.4" font-size="20.5" fill="#333" text-anchor="end">1000</text>
<line x1="122" y1="2302.3" x2="129.2" y2="2302.3" stroke="#333" stroke-width="1.5"/>
<text x="119.5" y="2309.6" font-size="20.5" fill="#333" text-anchor="end">2000</text>
<line x1="122" y1="2207.4" x2="129.2" y2="2207.4" stroke="#333" stroke-width="1.5"/>
<text x="119.5" y="2214.7" font-size="20.5" fill="#333" text-anchor="end">3000</text>
<line x1="257" y1="2508" x2="257" y2="2514" stroke="#000" stroke-width="1.6"/>
<text x="250.8" y="2545" font-size="31" fill="#000" text-anchor="middle">Plant-1</text>
<line x1="472.6" y1="2508" x2="472.6" y2="2514" stroke="#000" stroke-width="1.6"/>
<text x="470.3" y="2545" font-size="31" fill="#000" text-anchor="middle">Plant-2</text>
<line x1="684.9" y1="2508" x2="684.9" y2="2514" stroke="#000" stroke-width="1.6"/>
<text x="692" y="2545" font-size="31" fill="#000" text-anchor="middle">Plant-3</text>
<line x1="897.8" y1="2508" x2="897.8" y2="2514" stroke="#000" stroke-width="1.6"/>
<text x="906.8" y="2545" font-size="31" fill="#000" text-anchor="middle">Plant-4</text>
<text font-size="33" text-anchor="middle" transform="translate(60 2315) rotate(-90)">Cell number</text>
<rect x="671.5" y="2133" width="341.6" height="109" rx="13" fill="#fff" stroke="#7a7a7a" stroke-width="1.6"/>
<rect x="699" y="2148" width="34" height="33.5" fill="#eaedf7"/>
<text x="744" y="2174" font-size="21.8" fill="#000">Library-1</text>
<rect x="699" y="2193.3" width="34" height="33.5" fill="#bad3e4"/>
<text x="744" y="2218.6" font-size="21.8" fill="#000">Library-2</text>
<rect x="858.5" y="2147.4" width="34" height="33.5" fill="#67a6cf"/>
<text x="903" y="2171" font-size="21.8" fill="#000">Library-3</text>
<rect x="858.5" y="2194.3" width="34" height="33.5" fill="#2a6ca9"/>
<text x="903" y="2216.6" font-size="21.8" fill="#000">Library-4</text>
<text x="1066.8" y="2156.9" font-size="52" fill="#000" font-weight="bold">i</text>
<circle cx="1222.1" cy="2349.5" r="143.4" fill="#a2bde1"/>
<path d="M1365.5 2352.8 A143.4 143.4 0 0 1 1358.9 2392.6 L1260.1 2361.5 A39.8 39.8 0 0 0 1261.9 2350.4 Z" fill="#b2b2b2"/>
<circle cx="1222.1" cy="2349.5" r="39.8" fill="#fff"/>
<text x="1225.2" y="2288" font-size="29" fill="#000" text-anchor="middle" textLength="127.6" lengthAdjust="spacingAndGlyphs">CG -&gt;TA</text>
<text x="1224.6" y="2450" font-size="29" fill="#000" text-anchor="middle" textLength="89.3" lengthAdjust="spacingAndGlyphs">95.5%</text>
<text x="1412" y="2156" font-size="52" fill="#000" font-weight="bold">j</text>
<path d="M1566.5 2449.8 L1568.5 2450.2 L1569 2440.7 L1569.5 2434.6 L1570 2410.7 L1570.5 2400.8 L1571 2371.8 L1571.5 2310.1 L1572 2277.3 L1572.5 2247.1 L1573 2232.7 L1573.5 2233.8 L1574 2211.7 L1574.5 2245.8 L1575 2267.8 L1575.5 2292.4 L1576 2303.1 L1576.5 2324.9 L1577 2351.7 L1577.5 2345.8 L1578 2367.7 L1578.5 2360.7 L1579 2366 L1579.5 2377 L1580 2431.2 L1580.5 2431.2 L1581 2431.2 L1581.5 2431.2 L1582 2431.2 L1582.5 2431.2 L1583 2431.2 L1583.5 2431.2 L1584 2431.2 L1584.5 2431.2 L1585 2431.2 L1585.5 2431.2 L1586 2434.6 L1586.5 2434.1 L1587 2438.1 L1587.5 2437.3 L1588 2438.1 L1588.5 2437.8 L1589 2439.5 L1589.5 2437.8 L1590 2442.4 L1590.5 2443.1 L1591 2441.1 L1591.5 2443.3 L1592 2444.4 L1592.5 2443.1 L1593 2444.1 L1593.5 2442.6 L1594 2437.4 L1594.5 2430.8 L1595 2422.1 L1595.5 2408.9 L1596 2388.9 L1596.5 2369.6 L1597 2343.9 L1597.5 2326.1 L1598 2320.7 L1598.5 2315.8 L1599 2275 L1599.5 2282.5 L1600 2338.8 L1600.5 2339.3 L1601 2349.4 L1601.5 2351.5 L1602 2363.1 L1602.5 2377.3 L1603 2382.7 L1603.5 2395.1 L1604 2397.8 L1604.5 2404.7 L1605 2431.2 L1605.5 2431.2 L1606 2431.2 L1606.5 2431.2 L1607 2431.2 L1607.5 2431.2 L1608 2431.2 L1608.5 2431.2 L1609 2431.2 L1609.5 2431.2 L1610 2431.2 L1610.5 2434.8 L1611 2432.5 L1611.5 2440.9 L1612 2444.2 L1612.5 2440.1 L1613 2440 L1613.5 2443 L1614 2443.5 L1614.5 2441.3 L1615 2443 L1615.5 2443.2 L1616 2441.1 L1616.5 2444.3 L1617 2444.7 L1617.5 2444.5 L1618 2447.7 L1618.5 2445.8 L1619 2444.8 L1619.5 2447.8 L1620 2446.3 L1620.5 2443.9 L1621 2450.7 L1621.5 2443.9 L1622 2440.1 L1622.5 2436 L1623 2422.1 L1623.5 2406.2 L1624 2374.3 L1624.5 2360.1 L1625 2273.8 L1625.5 2271.6 L1626 2231.6 L1626.5 2190.5 L1627 2190.5 L1627.5 2221.4 L1628 2237.3 L1628.5 2233.9 L1629 2312.8 L1629.5 2314.9 L1630 2330.4 L1630.5 2351.6 L1631 2333.7 L1631.5 2351.8 L1632 2371.5 L1632.5 2389 L1633 2431.2 L1633.5 2431.2 L1634 2431.2 L1634.5 2431.2 L1635 2431.2 L1635.5 2431.2 L1636 2431.2 L1636.5 2431.2 L1637 2431.2 L1637.5 2431.2 L1638 2431.2 L1638.5 2431.2 L1639 2431.2 L1639.5 2431.2 L1640 2436 L1640.5 2440.6 L1641 2437.9 L1641.5 2435.6 L1642 2439.6 L1642.5 2439.6 L1643 2441.8 L1643.5 2439.2 L1644 2441.4 L1644.5 2439.5 L1645 2443.6 L1645.5 2443.4 L1646 2443.2 L1646.5 2442.6 L1647 2444.1 L1647.5 2443.1 L1648 2445.7 L1648.5 2442.9 L1649 2443.5 L1649.5 2439.8 L1650 2430.5 L1650.5 2411 L1651 2402.5 L1651.5 2363.6 L1652 2334.3 L1652.5 2303.2 L1653 2273 L1653.5 2256.3 L1654 2270.2 L1654.5 2257.5 L1655 2263.9 L1655.5 2321.1 L1656 2337.7 L1656.5 2333.4 L1657 2354.3 L1657.5 2371.4 L1658 2374.5 L1658.5 2393.8 L1659 2389.7 L1659.5 2405.7 L1660 2431.2 L1660.5 2431.2 L1661 2431.2 L1661.5 2431.2 L1662 2431.2 L1662.5 2431.2 L1663 2431.2 L1663.5 2431.2 L1664 2431.2 L1664.5 2431.2 L1665 2431.2 L1665.5 2431.2 L1666 2431.2 L1666.5 2431.2 L1667 2431.2 L1667.5 2431.2 L1668 2435.9 L1668.5 2437.1 L1669 2443.4 L1669.5 2440 L1670 2443 L1670.5 2440.7 L1671 2441.8 L1671.5 2445.8 L1672 2445.3 L1672.5 2444.5 L1673 2447 L1673.5 2447.5 L1674 2446.2 L1674.5 2444.3 L1675 2445.1 L1675.5 2444.2 L1676 2447.4 L1676.5 2446.2 L1677 2446 L1677.5 2443.7 L1678 2441.4 L1678.5 2430.2 L1679 2422.6 L1679.5 2411.3 L1680 2402.2 L1680.5 2384.8 L1681 2384.8 L1681.5 2384.8 L1682 2393.7 L1682.5 2390.1 L1683 2404.9 L1683.5 2394 L1684 2401.8 L1684.5 2395.3 L1685 2397.8 L1685.5 2383.4 L1686 2371.7 L1686.5 2367.9 L1687 2367.9 L1687.5 2367.9 L1688 2367.9 L1688.5 2380.6 L1689 2371.7 L1689.5 2387 L1690 2397.4 L1690.5 2399.8 L1691 2409.2 L1691.5 2409.9 L1692 2413.4 L1692.5 2414.5 L1693 2425.6 L1693.5 2431.2 L1694 2431.2 L1694.5 2431.2 L1695 2431.2 L1695.5 2431.2 L1696 2431.2 L1696.5 2431.2 L1697 2431.2 L1697.5 2431.2 L1698 2431.2 L1698.5 2431.2 L1699 2434.7 L1699.5 2433.9 L1700 2435.6 L1700.5 2444 L1701 2439.8 L1701.5 2441.1 L1702 2446 L1702.5 2440.6 L1703 2436.1 L1703.5 2426.7 L1704 2410.1 L1704.5 2393.7 L1705 2363.9 L1705.5 2332.5 L1706 2301.7 L1706.5 2287 L1707 2257.5 L1707.5 2253.9 L1708 2296.5 L1708.5 2288.5 L1709 2333.6 L1709.5 2318.8 L1710 2347.4 L1710.5 2344.8 L1711 2373.4 L1711.5 2367.4 L1712 2382.4 L1712.5 2395.4 L1713 2392.9 L1713.5 2431.2 L1714 2431.2 L1714.5 2431.2 L1715 2431.2 L1715.5 2431.2 L1716 2431.2 L1716.5 2431.2 L1717 2431.2 L1717.5 2431.2 L1718 2431.2 L1718.5 2431.2 L1719 2431.2 L1719.5 2431.2 L1720 2431.2 L1720.5 2431.2 L1721 2431.2 L1721.5 2431.2 L1722 2431.2 L1722.5 2432.3 L1723 2439.7 L1723.5 2442.5 L1724 2440.7 L1724.5 2446.1 L1725 2445.3 L1725.5 2442.6 L1726 2443.1 L1726.5 2442.5 L1727 2446.2 L1727.5 2447.1 L1728 2443.6 L1728.5 2445.3 L1729 2445.7 L1729.5 2444.7 L1730 2443.9 L1730.5 2441.7 L1731 2431.5 L1731.5 2417.8 L1732 2397.3 L1732.5 2368.7 L1733 2356.9 L1733.5 2313.1 L1734 2283.5 L1734.5 2315.5 L1735 2273.5 L1735.5 2266.5 L1736 2294.2 L1736.5 2343.7 L1737 2337.6 L1737.5 2340.8 L1738 2345.3 L1738.5 2370 L1739 2367.6 L1739.5 2383.3 L1740 2398.4 L1740.5 2401.7 L1741 2431.2 L1741.5 2431.2 L1742 2431.2 L1742.5 2431.2 L1743 2431.2 L1743.5 2431.2 L1744 2431.2 L1744.5 2431.2 L1745 2431.2 L1745.5 2431.2 L1746 2431.2 L1746.5 2431.2 L1747 2431.2 L1747.5 2432 L1748 2437.2 L1748.5 2438.2 L1749 2437.8 L1749.5 2436.6 L1750 2443.5 L1750.5 2440.3 L1751 2443.6 L1751.5 2443.7 L1752 2444.9 L1752.5 2443.5 L1753 2444.6 L1753.5 2445.5 L1754 2443 L1754.5 2443.5 L1755 2450.8 L1755.5 2444.9 L1756 2444.5 L1756.5 2445.6 L1757 2450 L1757.5 2446.3 L1758 2441.2 L1758.5 2434.4 L1759 2428.2 L1759.5 2413.4 L1760 2412.8 L1760.5 2390.3 L1761 2377.2 L1761.5 2375.6 L1762 2385 L1762.5 2379.6 L1763 2384.9 L1763.5 2383.9 L1764 2401.3 L1764.5 2401.2 L1765 2408.6 L1765.5 2410.3 L1766 2420.7 L1766.5 2421.2 L1767 2429.9 L1767.5 2430 L1768 2431.2 L1768.5 2431.2 L1769 2433 L1769.5 2433.9 L1770 2435.5 L1770.5 2439.3 L1771 2439.9 L1771.5 2437.4 L1772 2441.7 L1772.5 2438.2 L1773 2437.7 L1773.5 2433.7 L1774 2431.2 L1774.5 2431.2 L1775 2431.2 L1775.5 2438.1 L1776 2434.6 L1776.5 2441.7 L1777 2439.4 L1777.5 2443.9 L1778 2446.5 L1778.5 2448.1 L1779 2447.9 L1779.5 2445.2 L1780 2446.3 L1780.5 2448.4 L1781 2449.4 L1781.5 2448.4 L1782 2445.7 L1782.5 2445 L1783 2449.6 L1783.5 2446 L1784 2447.7 L1784.5 2438.5 L1785 2434.7 L1785.5 2419.5 L1786 2408.3 L1786.5 2376.4 L1787 2354.2 L1787.5 2318.9 L1788 2313.4 L1788.5 2311.7 L1789 2272.9 L1789.5 2291.6 L1790 2298.3 L1790.5 2331.4 L1791 2334.3 L1791.5 2339.2 L1792 2350.9 L1792.5 2368.8 L1793 2388.5 L1793.5 2389.3 L1794 2394.8 L1794.5 2395.4 L1795 2431.2 L1795.5 2431.2 L1796 2431.2 L1796.5 2431.2 L1797 2431.2 L1797.5 2431.2 L1798 2431.2 L1798.5 2431.2 L1799 2431.2 L1799.5 2431.2 L1800 2431.2 L1800.5 2431.2 L1801 2431.2 L1801.5 2431.2 L1802 2431.2 L1802.5 2436.4 L1803 2437.4 L1803.5 2440.8 L1804 2440.5 L1804.5 2440.8 L1805 2438.5 L1805.5 2440.2 L1806 2442.7 L1806.5 2444.8 L1807 2446.9 L1807.5 2443 L1808 2443.2 L1808.5 2443.8 L1809 2443.9 L1809.5 2445.5 L1810 2446.4 L1810.5 2446.3 L1811 2451 L1811.5 2445.2 L1812 2449.4 L1812.5 2447.8 L1813 2446.2 L1813.5 2443.8 L1814 2439.9 L1814.5 2430.5 L1815 2418.9 L1815.5 2419.8 L1816 2400.3 L1816.5 2399 L1817 2393.2 L1817.5 2393.2 L1818 2404 L1818.5 2403.4 L1819 2406.8 L1819.5 2419.3 L1820 2413.3 L1820.5 2420 L1821 2423.4 L1821.5 2424.6 L1822 2433.7 L1822.5 2427.6 L1823 2433.2 L1823.5 2435.9 L1824 2440.2 L1824.5 2435.2 L1825 2441.5 L1825.5 2439.6 L1826 2435.4 L1826.5 2443.8 L1827 2440.7 L1827.5 2440.1 L1828 2445.3 L1828.5 2444.1 L1829 2442.3 L1829.5 2437.7 L1830 2431.2 L1830.5 2431.2 L1831 2431.2 L1831.5 2431.2 L1832 2436.9 L1832.5 2439.8 L1833 2443.2 L1833.5 2444.7 L1834 2445.6 L1834.5 2442.9 L1835 2446.6 L1835.5 2449.1 L1836 2442.5 L1836.5 2447.8 L1837 2448 L1837.5 2449.6 L1838 2443.7 L1838.5 2446 L1839 2448.9 L1839.5 2441 L1840 2441.2 L1840.5 2430.4 L1841 2414.2 L1841.5 2406.3 L1842 2377.7 L1842.5 2357.7 L1843 2327.7 L1843.5 2330.5 L1844 2300.3 L1844.5 2300.3 L1845 2329.1 L1845.5 2347.7 L1846 2352.9 L1846.5 2352.8 L1847 2384 L1847.5 2374.9 L1848 2379.4 L1848.5 2397.2 L1849 2396.4 L1849.5 2408.6 L1850 2410.8 L1850.5 2431.2 L1851 2431.2 L1851.5 2431.2 L1852 2431.2 L1852.5 2431.2 L1853 2431.2 L1853.5 2431.2 L1854 2431.2 L1854.5 2431.2 L1855 2431.2 L1855.5 2431.2 L1856 2431.2 L1856.5 2431.2 L1857 2441.2 L1857.5 2440.8 L1858 2440.6 L1858.5 2441.2 L1859 2440.8 L1859.5 2441.7 L1860 2441.8 L1860.5 2443.9 L1861 2441.4 L1861.5 2447 L1862 2442.1 L1862.5 2440.4 L1863 2446.9 L1863.5 2448.4 L1864 2446.4 L1864.5 2447.9 L1865 2446.8 L1865.5 2444.8 L1866 2438.3 L1866.5 2429.6 L1867 2420.8 L1867.5 2410.7 L1868 2368.3 L1868.5 2329.9 L1869 2331.9 L1869.5 2298.8 L1870 2287.8 L1870.5 2268.5 L1871 2306.7 L1871.5 2295 L1872 2313.4 L1872.5 2351.3 L1873 2355.1 L1873.5 2364.3 L1874 2379.9 L1874.5 2375.8 L1875 2375.1 L1875.5 2391.1 L1876 2390.6 L1876.5 2400.6 L1877 2431.2 L1877.5 2431.2 L1878 2431.2 L1878.5 2431.2 L1879 2431.2 L1879.5 2431.2 L1880 2431.2 L1880.5 2431.2 L1881 2431.2 L1881.5 2431.2 L1882 2431.2 L1882.5 2431.2 L1883 2431.2 L1883.5 2431.2 L1884 2431.2 L1884.5 2431.2 L1885 2431.2 L1885.5 2433.5 L1886 2440 L1886.5 2443.2 L1887 2442.6 L1887.5 2442.5 L1888 2440.6 L1888.5 2447.2 L1889 2445.3 L1889.5 2443.6 L1890 2447 L1890.5 2443.8 L1891 2447.3 L1891.5 2446.7 L1892 2449.7 L1892.5 2449.4 L1893 2445.9 L1893.5 2448.6 L1894 2446.5 L1894.5 2444.4 L1895 2440.9 L1895.5 2435.3 L1896 2425.2 L1896.5 2421.4 L1897 2401.7 L1897.5 2387.2 L1898 2385.9 L1898.5 2385.4 L1899 2383.2 L1899.5 2392.4 L1900 2399.2 L1900.5 2404.3 L1901 2398.9 L1901.5 2412.8 L1902 2411.4 L1902.5 2421 L1903 2420.9 L1903.5 2426.8 L1904 2428.7 L1904.5 2422.6 L1905 2431.2 L1905.5 2433.5 L1906 2434.3 L1906.5 2438.3 L1907 2439.7 L1907.5 2439.5 L1908 2437.2 L1908.5 2438.5 L1909 2440.4 L1909.5 2442.8 L1910 2444 L1910.5 2442.9 L1911 2444.4 L1911.5 2443.6 L1912 2445.8 L1912.5 2438.6 L1913 2439.2 L1913.5 2431.2 L1914 2436.5 L1914.5 2438.8 L1915 2440.6 L1915.5 2440.6 L1916 2447.6 L1916.5 2445.7 L1917 2444.9 L1917.5 2444.1 L1918 2445 L1918.5 2450.8 L1919 2450.9 L1919.5 2447.5 L1920 2449.4 L1920.5 2444.1 L1921 2443.6 L1921.5 2436.7 L1922 2430.3 L1922.5 2422.3 L1923 2413.4 L1923.5 2396.2 L1924 2401.1 L1924.5 2377 L1925 2376.3 L1925.5 2376.3 L1926 2380.3 L1926.5 2386.6 L1927 2406.1 L1927.5 2406.8 L1928 2410.9 L1928.5 2416.4 L1929 2415.9 L1929.5 2423.5 L1930 2420.6 L1930.5 2430.8 L1931 2435.6 L1931.5 2433.3 L1932 2433.9 L1932.5 2433.9 L1933 2432.8 L1933.5 2431.2 L1934 2431.2 L1934.5 2431.2 L1935 2431.2 L1935.5 2431.2 L1936 2431.2 L1936.5 2441.3 L1937 2438.1 L1937.5 2442.7 L1938 2441.2 L1938.5 2447 L1939 2444.8 L1939.5 2443.4 L1940 2443.9 L1940.5 2446.8 L1941 2447.9 L1941.5 2445.8 L1942 2445.9 L1942.5 2446.8 L1943 2448.5 L1943.5 2449.1 L1944 2449.3 L1944.5 2448.8 L1945 2445.8 L1945.5 2445.7 L1946 2447.3 L1946.5 2445.5 L1947 2441.1 L1947.5 2442.7 L1948 2440.3 L1948.5 2435.9 L1949 2423.2 L1949.5 2413.1 L1950 2410.2 L1950.5 2389.6 L1951 2374.2 L1951.5 2374.2 L1952 2374.2 L1952.5 2395.7 L1953 2398.3 L1953.5 2396.1 L1954 2398.6 L1954.5 2412.9 L1955 2415 L1955.5 2414.3 L1956 2420.3 L1956.5 2430.4 L1957 2424.8 L1957.5 2427.4 L1958 2432.4 L1958.5 2435.9 L1959 2433.8 L1959.5 2431.2 L1960 2431.2 L1960.5 2431.2 L1961 2431.2 L1961.5 2431.2 L1962 2435.2 L1962.5 2432.9 L1963 2438.3 L1963.5 2444.1 L1964 2443.4 L1964.5 2443.3 L1965 2442.9 L1965.5 2446.3 L1966 2445.3 L1966.5 2443.2 L1967 2445.8 L1967.5 2444.3 L1968 2447.3 L1968.5 2448 L1969 2447 L1969.5 2447.3 L1970 2445.6 L1970.5 2448.4 L1971 2445.3 L1971.5 2446 L1972 2446.3 L1972.5 2447.9 L1973 2443.5 L1973.5 2448.8 L1974 2451 L1974.5 2447.8 L1975 2444 L1975.5 2445.1 L1976 2441.9 L1976.5 2441.9 L1977 2434.3 L1977.5 2428.1 L1978 2415.2 L1978.5 2411.4 L1979 2404.7 L1979.5 2399.5 L1980 2399.5 L1980.5 2406.5 L1981 2412.7 L1981.5 2412.5 L1982 2415.5 L1982.5 2422.7 L1983 2421.4 L1983.5 2426.3 L1984 2431.4 L1984.5 2432.9 L1985 2433.9 L1985.5 2435.7 L1986 2434.5 L1986.5 2433.4 L1987 2431.2 L1987.5 2431.2 L1988 2431.2 L1988.5 2431.2 L1989 2431.2 L1989.5 2431.2 L1990 2434 L1990.5 2442.8 L1991 2441 L1991.5 2444.4 L1992 2443.7 L1992.5 2443.9 L1993 2445.9 L1993.5 2443.1 L1994 2445.1 L1994.5 2445.3 L1995 2450.8 L1995.5 2448.8 L1996 2446.6 L1996.5 2449.8 L1997 2447.3 L1997.5 2443.7 L1998 2448.7 L1998.5 2451 L1999 2446.9 L1999.5 2445.4 L2000 2448 L2000.5 2450 L2001 2446.6 L2001.5 2442.6 L2002 2440.8 L2002.5 2435.3 L2003 2432 L2003.5 2423 L2004 2404.7 L2004.5 2391.1 L2005 2391.1 L2005.5 2391.1 L2006 2397.3 L2006.5 2400.6 L2007 2400.7 L2007.5 2409.8 L2008 2413.4 L2008.5 2420.8 L2009 2420 L2009.5 2432.9 L2010 2431.3 L2010.5 2430.2 L2011 2428.1 L2011.5 2434.3 L2012 2435.3 L2012.5 2439.2 L2013 2439.7 L2013.5 2437.7 L2014 2439.6 L2014.5 2442 L2015 2444 L2015.5 2446.5 L2016 2442 L2016.5 2446 L2017 2444 L2017.5 2441.6 L2018 2445 L2018.5 2436.8 L2019 2439.8 L2019.5 2434.2 L2020 2431.2 L2020.5 2431.2 L2021 2431.2 L2021.5 2434.4 L2022 2439.7 L2022.5 2443.6 L2023 2449 L2023.5 2450.3 L2024 2449.1 L2024.5 2448.7 L2025 2446.3 L2025.5 2450.7 L2026 2447.7 L2026.5 2449 L2027 2447.9 L2027.5 2448.2 L2028 2448.4 L2028.5 2450.7 L2029 2449.4 L2029.5 2446.3 L2030 2441.1 L2030.5 2437.3 L2031 2434 L2031.5 2428.2 L2032 2416 L2032.5 2406.2 L2033 2399.6 L2033.5 2393.2 L2034 2393.2 L2034.5 2396.2 L2035 2399.2 L2035.5 2410.4 L2036 2416.5 L2036.5 2411.6 L2037 2422.8 L2037.5 2423.4 L2038 2426 L2038.5 2432.3 L2039 2431 L2039.5 2435.5 L2040 2435.4 L2040.5 2434.8 L2041 2435.7 L2041.5 2442.6 L2042 2440.4 L2042.5 2440.8 L2043 2440.8 L2043.5 2440.1 L2044 2439.5 L2044.5 2441.3 L2045 2439.4 L2045.5 2438.9 L2046 2439.5 L2046.5 2435.1 L2047 2431.8 L2047.5 2434.4 L2048 2431.3 L2048.5 2441 L2049 2445.3 L2049.5 2442.5 L2050 2445.5 L2050.5 2451 L2051 2445.5 L2051.5 2446.8 L2052 2448.2 L2052.5 2446.9 L2053 2446.3 L2053.5 2448.5 L2054 2446.2 L2054.5 2446.3 L2055 2446.4 L2055.5 2445.8 L2056 2442.4 L2056.5 2434 L2057 2426.9 L2057.5 2420.2 L2058 2399.1 L2058.5 2389.1 L2059 2385.5 L2059.5 2355.5 L2060 2353.1 L2060.5 2353.1 L2061 2377.6 L2061.5 2380.2 L2062 2382.5 L2062.5 2395.8 L2063 2393.9 L2063.5 2407.3 L2064 2412.6 L2064.5 2406.3 L2065 2415.6 L2065.5 2422.9 L2066 2422.6 L2066.5 2431.2 L2067 2431.2 L2067.5 2431.2 L2068 2431.2 L2068.5 2431.2 L2069 2431.2 L2069.5 2431.2 L2070 2431.2 L2070.5 2431.2 L2071 2431.2 L2071.5 2434.9 L2072 2439.9 L2072.5 2443 L2073 2443.4 L2073.5 2442.6 L2074 2444.5 L2074.5 2442.6 L2075 2448.8 L2075.5 2446.2 L2076 2442.6 L2076.5 2443 L2077 2447.4 L2077.5 2447.7 L2078 2446.9 L2078.5 2447 L2079 2449.2 L2079.5 2445.2 L2080 2449.2 L2080.5 2447.6 L2081 2447.6 L2081.5 2445.2 L2082 2446.2 L2082.5 2447.5 L2083 2443.6 L2083.5 2435.6 L2084 2434.1 L2084.5 2417.6 L2085 2397.4 L2085.5 2381.1 L2086 2365.9 L2086.5 2357.3 L2087 2353.1 L2087.5 2361.9 L2088 2379.1 L2088.5 2373.4 L2089 2385.2 L2089.5 2387.9 L2090 2399.7 L2090.5 2410.6 L2091 2411.9 L2091.5 2416 L2092 2422 L2092.5 2424.2 L2093 2416 L2093.5 2431.2 L2094 2431.2 L2094.5 2431.2 L2095 2431.2 L2095.5 2431.2 L2096 2431.2 L2096.5 2434" fill="none" stroke="#4d4d4d" stroke-width="2.3" stroke-linejoin="round"/>
<rect x="1559.6" y="2466" width="9" height="28.8" fill="#7f7f7f"/>
<rect x="1586.6" y="2466" width="9" height="28.8" fill="#7f7f7f"/>
<rect x="1613.6" y="2466" width="9" height="28.8" fill="#7f7f7f"/>
<rect x="1640.6" y="2466" width="9" height="28.8" fill="#7f7f7f"/>
<rect x="1667.6" y="2466" width="9" height="28.8" fill="#7f7f7f"/>
<rect x="1694.6" y="2466" width="9" height="28.8" fill="#7f7f7f"/>
<rect x="1721.6" y="2466" width="9" height="28.8" fill="#7f7f7f"/>
<rect x="1748.6" y="2466" width="9" height="28.8" fill="#7f7f7f"/>
<rect x="1775.6" y="2466" width="9" height="28.8" fill="#7f7f7f"/>
<rect x="1802.6" y="2466" width="9" height="28.8" fill="#7f7f7f"/>
<rect x="1829.6" y="2466" width="9" height="28.8" fill="#7f7f7f"/>
<rect x="1856.6" y="2466" width="9" height="28.8" fill="#7f7f7f"/>
<rect x="1883.6" y="2466" width="9" height="28.8" fill="#7f7f7f"/>
<rect x="1910.6" y="2466" width="9" height="28.8" fill="#7f7f7f"/>
<rect x="1937.6" y="2466" width="9" height="28.8" fill="#7f7f7f"/>
<rect x="1964.6" y="2466" width="9" height="28.8" fill="#7f7f7f"/>
<rect x="1991.6" y="2466" width="9" height="28.8" fill="#7f7f7f"/>
<rect x="2018.6" y="2466" width="9" height="28.8" fill="#7f7f7f"/>
<rect x="2045.6" y="2466" width="9" height="28.8" fill="#7f7f7f"/>
<rect x="2072.6" y="2466" width="9" height="28.8" fill="#7f7f7f"/>
<rect x="2099.6" y="2466" width="9" height="28.8" fill="#7f7f7f"/>
<line x1="1530.7" y1="2165.4" x2="1530.7" y2="2510" stroke="#000" stroke-width="1.9"/>
<line x1="1529.8" y1="2509.1" x2="2130" y2="2509.1" stroke="#000" stroke-width="1.9"/>
<line x1="1521" y1="2201.5" x2="1530.7" y2="2201.5" stroke="#000" stroke-width="1.6"/>
<text x="1510.5" y="2212.5" font-size="28.5" fill="#231815" text-anchor="end">0.6</text>
<line x1="1521" y1="2285.1" x2="1530.7" y2="2285.1" stroke="#000" stroke-width="1.6"/>
<text x="1510.5" y="2296.1" font-size="28.5" fill="#231815" text-anchor="end">0.4</text>
<line x1="1521" y1="2368.7" x2="1530.7" y2="2368.7" stroke="#000" stroke-width="1.6"/>
<text x="1510.5" y="2379.7" font-size="28.5" fill="#231815" text-anchor="end">0.2</text>
<line x1="1521" y1="2452.3" x2="1530.7" y2="2452.3" stroke="#000" stroke-width="1.6"/>
<text x="1510.5" y="2463.3" font-size="28.5" fill="#231815" text-anchor="end">0</text>
<line x1="1557" y1="2509.1" x2="1557" y2="2516" stroke="#000" stroke-width="1.6"/>
<text x="1563" y="2547.7" font-size="28.5" fill="#231815" text-anchor="middle">0</text>
<line x1="1689.4" y1="2509.1" x2="1689.4" y2="2516" stroke="#000" stroke-width="1.6"/>
<text x="1690.8" y="2547.7" font-size="28.5" fill="#231815" text-anchor="middle">250</text>
<line x1="1821.8" y1="2509.1" x2="1821.8" y2="2516" stroke="#000" stroke-width="1.6"/>
<text x="1824.5" y="2547.7" font-size="28.5" fill="#231815" text-anchor="middle">500</text>
<line x1="1954.2" y1="2509.1" x2="1954.2" y2="2516" stroke="#000" stroke-width="1.6"/>
<text x="1958" y="2547.7" font-size="28.5" fill="#231815" text-anchor="middle">750</text>
<line x1="2086.6" y1="2509.1" x2="2086.6" y2="2516" stroke="#000" stroke-width="1.6"/>
<text x="2071.8" y="2547.7" font-size="28.5" fill="#231815" text-anchor="middle">1000</text>
<text x="1842.5" y="2585" font-size="31" fill="#231815" text-anchor="middle" textLength="193" lengthAdjust="spacingAndGlyphs">1-kb barcode</text>
<text font-size="31" fill="#231815" text-anchor="middle" transform="translate(1457 2342) rotate(-90)" textLength="348" lengthAdjust="spacingAndGlyphs">Mutation frequency (%)</text>
<rect x="1790.3" y="2171" width="322" height="69.7" rx="12" fill="#fff" stroke="#555" stroke-width="1.4"/>
<rect x="1820.4" y="2188" width="18.2" height="38" fill="#7f7f7f"/>
<text x="1851.8" y="2218" font-size="31" fill="#231815" textLength="240" lengthAdjust="spacingAndGlyphs">iSceI binding site</text>
</svg></body></html>
